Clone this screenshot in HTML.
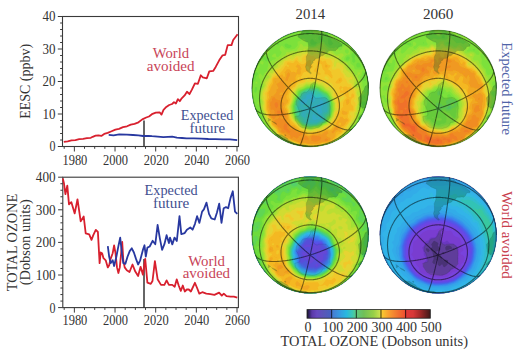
<!DOCTYPE html>
<html><head><meta charset="utf-8"><style>
html,body{margin:0;padding:0;background:#fff;overflow:hidden;}
svg{display:block;}
text{font-family:"Liberation Serif",serif;}
.tk{font-size:14px;fill:#333;}
.at{fill:#333;}
.an{font-size:15px;}
.gt{font-size:15px;fill:#333;}
</style></head><body>
<svg width="520" height="354" viewBox="0 0 520 354">
<rect x="62.5" y="16.5" width="176.0" height="130.0" fill="none" stroke="#3a3a3a" stroke-width="1.1"/>
<line x1="57.8" y1="146.50" x2="62.5" y2="146.50" stroke="#3a3a3a" stroke-width="1"/>
<line x1="60.1" y1="140.00" x2="62.5" y2="140.00" stroke="#3a3a3a" stroke-width="1"/>
<line x1="60.1" y1="133.50" x2="62.5" y2="133.50" stroke="#3a3a3a" stroke-width="1"/>
<line x1="60.1" y1="127.00" x2="62.5" y2="127.00" stroke="#3a3a3a" stroke-width="1"/>
<line x1="60.1" y1="120.50" x2="62.5" y2="120.50" stroke="#3a3a3a" stroke-width="1"/>
<line x1="57.8" y1="114.00" x2="62.5" y2="114.00" stroke="#3a3a3a" stroke-width="1"/>
<line x1="60.1" y1="107.50" x2="62.5" y2="107.50" stroke="#3a3a3a" stroke-width="1"/>
<line x1="60.1" y1="101.00" x2="62.5" y2="101.00" stroke="#3a3a3a" stroke-width="1"/>
<line x1="60.1" y1="94.50" x2="62.5" y2="94.50" stroke="#3a3a3a" stroke-width="1"/>
<line x1="60.1" y1="88.00" x2="62.5" y2="88.00" stroke="#3a3a3a" stroke-width="1"/>
<line x1="57.8" y1="81.50" x2="62.5" y2="81.50" stroke="#3a3a3a" stroke-width="1"/>
<line x1="60.1" y1="75.00" x2="62.5" y2="75.00" stroke="#3a3a3a" stroke-width="1"/>
<line x1="60.1" y1="68.50" x2="62.5" y2="68.50" stroke="#3a3a3a" stroke-width="1"/>
<line x1="60.1" y1="62.00" x2="62.5" y2="62.00" stroke="#3a3a3a" stroke-width="1"/>
<line x1="60.1" y1="55.50" x2="62.5" y2="55.50" stroke="#3a3a3a" stroke-width="1"/>
<line x1="57.8" y1="49.00" x2="62.5" y2="49.00" stroke="#3a3a3a" stroke-width="1"/>
<line x1="60.1" y1="42.50" x2="62.5" y2="42.50" stroke="#3a3a3a" stroke-width="1"/>
<line x1="60.1" y1="36.00" x2="62.5" y2="36.00" stroke="#3a3a3a" stroke-width="1"/>
<line x1="60.1" y1="29.50" x2="62.5" y2="29.50" stroke="#3a3a3a" stroke-width="1"/>
<line x1="60.1" y1="23.00" x2="62.5" y2="23.00" stroke="#3a3a3a" stroke-width="1"/>
<line x1="57.8" y1="16.50" x2="62.5" y2="16.50" stroke="#3a3a3a" stroke-width="1"/>
<line x1="64.20" y1="146.5" x2="64.20" y2="148.8" stroke="#3a3a3a" stroke-width="1"/>
<line x1="74.37" y1="146.5" x2="74.37" y2="151.5" stroke="#3a3a3a" stroke-width="1"/>
<line x1="84.53" y1="146.5" x2="84.53" y2="148.8" stroke="#3a3a3a" stroke-width="1"/>
<line x1="94.69" y1="146.5" x2="94.69" y2="148.8" stroke="#3a3a3a" stroke-width="1"/>
<line x1="104.86" y1="146.5" x2="104.86" y2="148.8" stroke="#3a3a3a" stroke-width="1"/>
<line x1="115.03" y1="146.5" x2="115.03" y2="151.5" stroke="#3a3a3a" stroke-width="1"/>
<line x1="125.19" y1="146.5" x2="125.19" y2="148.8" stroke="#3a3a3a" stroke-width="1"/>
<line x1="135.36" y1="146.5" x2="135.36" y2="148.8" stroke="#3a3a3a" stroke-width="1"/>
<line x1="145.52" y1="146.5" x2="145.52" y2="148.8" stroke="#3a3a3a" stroke-width="1"/>
<line x1="155.69" y1="146.5" x2="155.69" y2="151.5" stroke="#3a3a3a" stroke-width="1"/>
<line x1="165.85" y1="146.5" x2="165.85" y2="148.8" stroke="#3a3a3a" stroke-width="1"/>
<line x1="176.01" y1="146.5" x2="176.01" y2="148.8" stroke="#3a3a3a" stroke-width="1"/>
<line x1="186.18" y1="146.5" x2="186.18" y2="148.8" stroke="#3a3a3a" stroke-width="1"/>
<line x1="196.34" y1="146.5" x2="196.34" y2="151.5" stroke="#3a3a3a" stroke-width="1"/>
<line x1="206.51" y1="146.5" x2="206.51" y2="148.8" stroke="#3a3a3a" stroke-width="1"/>
<line x1="216.68" y1="146.5" x2="216.68" y2="148.8" stroke="#3a3a3a" stroke-width="1"/>
<line x1="226.84" y1="146.5" x2="226.84" y2="148.8" stroke="#3a3a3a" stroke-width="1"/>
<line x1="237.00" y1="146.5" x2="237.00" y2="151.5" stroke="#3a3a3a" stroke-width="1"/>
<text x="55.6" y="151.4" text-anchor="end" class="tk" textLength="6.0" lengthAdjust="spacingAndGlyphs">0</text>
<text x="55.6" y="118.9" text-anchor="end" class="tk" textLength="13.0" lengthAdjust="spacingAndGlyphs">10</text>
<text x="55.6" y="86.4" text-anchor="end" class="tk" textLength="13.0" lengthAdjust="spacingAndGlyphs">20</text>
<text x="55.6" y="53.9" text-anchor="end" class="tk" textLength="13.0" lengthAdjust="spacingAndGlyphs">30</text>
<text x="55.6" y="21.4" text-anchor="end" class="tk" textLength="13.0" lengthAdjust="spacingAndGlyphs">40</text>
<text x="74.9" y="164.6" text-anchor="middle" class="tk" textLength="24.9" lengthAdjust="spacingAndGlyphs">1980</text>
<text x="115.5" y="164.6" text-anchor="middle" class="tk" textLength="24.9" lengthAdjust="spacingAndGlyphs">2000</text>
<text x="156.2" y="164.6" text-anchor="middle" class="tk" textLength="24.9" lengthAdjust="spacingAndGlyphs">2020</text>
<text x="196.8" y="164.6" text-anchor="middle" class="tk" textLength="24.9" lengthAdjust="spacingAndGlyphs">2040</text>
<text x="237.5" y="164.6" text-anchor="middle" class="tk" textLength="24.9" lengthAdjust="spacingAndGlyphs">2060</text>
<rect x="62.8" y="177.2" width="175.60000000000002" height="130.40000000000003" fill="none" stroke="#3a3a3a" stroke-width="1.1"/>
<line x1="58.1" y1="307.60" x2="62.8" y2="307.60" stroke="#3a3a3a" stroke-width="1"/>
<line x1="60.4" y1="301.08" x2="62.8" y2="301.08" stroke="#3a3a3a" stroke-width="1"/>
<line x1="60.4" y1="294.56" x2="62.8" y2="294.56" stroke="#3a3a3a" stroke-width="1"/>
<line x1="60.4" y1="288.04" x2="62.8" y2="288.04" stroke="#3a3a3a" stroke-width="1"/>
<line x1="60.4" y1="281.52" x2="62.8" y2="281.52" stroke="#3a3a3a" stroke-width="1"/>
<line x1="58.1" y1="275.00" x2="62.8" y2="275.00" stroke="#3a3a3a" stroke-width="1"/>
<line x1="60.4" y1="268.48" x2="62.8" y2="268.48" stroke="#3a3a3a" stroke-width="1"/>
<line x1="60.4" y1="261.96" x2="62.8" y2="261.96" stroke="#3a3a3a" stroke-width="1"/>
<line x1="60.4" y1="255.44" x2="62.8" y2="255.44" stroke="#3a3a3a" stroke-width="1"/>
<line x1="60.4" y1="248.92" x2="62.8" y2="248.92" stroke="#3a3a3a" stroke-width="1"/>
<line x1="58.1" y1="242.40" x2="62.8" y2="242.40" stroke="#3a3a3a" stroke-width="1"/>
<line x1="60.4" y1="235.88" x2="62.8" y2="235.88" stroke="#3a3a3a" stroke-width="1"/>
<line x1="60.4" y1="229.36" x2="62.8" y2="229.36" stroke="#3a3a3a" stroke-width="1"/>
<line x1="60.4" y1="222.84" x2="62.8" y2="222.84" stroke="#3a3a3a" stroke-width="1"/>
<line x1="60.4" y1="216.32" x2="62.8" y2="216.32" stroke="#3a3a3a" stroke-width="1"/>
<line x1="58.1" y1="209.80" x2="62.8" y2="209.80" stroke="#3a3a3a" stroke-width="1"/>
<line x1="60.4" y1="203.28" x2="62.8" y2="203.28" stroke="#3a3a3a" stroke-width="1"/>
<line x1="60.4" y1="196.76" x2="62.8" y2="196.76" stroke="#3a3a3a" stroke-width="1"/>
<line x1="60.4" y1="190.24" x2="62.8" y2="190.24" stroke="#3a3a3a" stroke-width="1"/>
<line x1="60.4" y1="183.72" x2="62.8" y2="183.72" stroke="#3a3a3a" stroke-width="1"/>
<line x1="58.1" y1="177.20" x2="62.8" y2="177.20" stroke="#3a3a3a" stroke-width="1"/>
<line x1="64.20" y1="307.6" x2="64.20" y2="309.9" stroke="#3a3a3a" stroke-width="1"/>
<line x1="74.37" y1="307.6" x2="74.37" y2="312.6" stroke="#3a3a3a" stroke-width="1"/>
<line x1="84.53" y1="307.6" x2="84.53" y2="309.9" stroke="#3a3a3a" stroke-width="1"/>
<line x1="94.69" y1="307.6" x2="94.69" y2="309.9" stroke="#3a3a3a" stroke-width="1"/>
<line x1="104.86" y1="307.6" x2="104.86" y2="309.9" stroke="#3a3a3a" stroke-width="1"/>
<line x1="115.03" y1="307.6" x2="115.03" y2="312.6" stroke="#3a3a3a" stroke-width="1"/>
<line x1="125.19" y1="307.6" x2="125.19" y2="309.9" stroke="#3a3a3a" stroke-width="1"/>
<line x1="135.36" y1="307.6" x2="135.36" y2="309.9" stroke="#3a3a3a" stroke-width="1"/>
<line x1="145.52" y1="307.6" x2="145.52" y2="309.9" stroke="#3a3a3a" stroke-width="1"/>
<line x1="155.69" y1="307.6" x2="155.69" y2="312.6" stroke="#3a3a3a" stroke-width="1"/>
<line x1="165.85" y1="307.6" x2="165.85" y2="309.9" stroke="#3a3a3a" stroke-width="1"/>
<line x1="176.01" y1="307.6" x2="176.01" y2="309.9" stroke="#3a3a3a" stroke-width="1"/>
<line x1="186.18" y1="307.6" x2="186.18" y2="309.9" stroke="#3a3a3a" stroke-width="1"/>
<line x1="196.34" y1="307.6" x2="196.34" y2="312.6" stroke="#3a3a3a" stroke-width="1"/>
<line x1="206.51" y1="307.6" x2="206.51" y2="309.9" stroke="#3a3a3a" stroke-width="1"/>
<line x1="216.68" y1="307.6" x2="216.68" y2="309.9" stroke="#3a3a3a" stroke-width="1"/>
<line x1="226.84" y1="307.6" x2="226.84" y2="309.9" stroke="#3a3a3a" stroke-width="1"/>
<line x1="237.00" y1="307.6" x2="237.00" y2="312.6" stroke="#3a3a3a" stroke-width="1"/>
<text x="55.6" y="312.5" text-anchor="end" class="tk" textLength="6.0" lengthAdjust="spacingAndGlyphs">0</text>
<text x="55.6" y="279.9" text-anchor="end" class="tk" textLength="19.8" lengthAdjust="spacingAndGlyphs">100</text>
<text x="55.6" y="247.3" text-anchor="end" class="tk" textLength="19.8" lengthAdjust="spacingAndGlyphs">200</text>
<text x="55.6" y="214.7" text-anchor="end" class="tk" textLength="19.8" lengthAdjust="spacingAndGlyphs">300</text>
<text x="55.6" y="182.1" text-anchor="end" class="tk" textLength="19.8" lengthAdjust="spacingAndGlyphs">400</text>
<text x="74.9" y="325.2" text-anchor="middle" class="tk" textLength="24.9" lengthAdjust="spacingAndGlyphs">1980</text>
<text x="115.5" y="325.2" text-anchor="middle" class="tk" textLength="24.9" lengthAdjust="spacingAndGlyphs">2000</text>
<text x="156.2" y="325.2" text-anchor="middle" class="tk" textLength="24.9" lengthAdjust="spacingAndGlyphs">2020</text>
<text x="196.8" y="325.2" text-anchor="middle" class="tk" textLength="24.9" lengthAdjust="spacingAndGlyphs">2040</text>
<text x="237.5" y="325.2" text-anchor="middle" class="tk" textLength="24.9" lengthAdjust="spacingAndGlyphs">2060</text>
<line x1="144" y1="120.5" x2="144" y2="147" stroke="#333" stroke-width="1.5"/>
<line x1="144" y1="259" x2="144" y2="308" stroke="#333" stroke-width="1.5"/>
<polyline points="63.8,141.9 67.7,141.3 71.5,140.4 75.4,140.2 79.2,139.2 83.1,138.8 86.9,138.1 90.8,137.8 92.7,136.8 95.6,135.6 98.5,135.4 101.3,135.9 104.2,133.9 107.7,132.9 111.0,131.5 115.4,129.6 119.0,128.8 123.0,127.1 127.0,126.3 130.8,124.6 134.5,123.8 138.5,122.3 142.3,119.4 146.2,117.5 149.0,116.5 151.9,114.2 155.8,112.7 159.6,112.3 161.5,114.6 163.5,109.8 166.3,106.9 169.2,105.0 172.1,104.0 174.0,102.1 175.9,103.5 177.9,99.2 179.8,101.2 181.7,98.3 184.6,95.4 187.0,91.7 189.5,94.2 191.9,89.7 194.9,83.3 197.9,83.8 200.8,75.3 202.8,77.3 206.8,78.3 209.3,71.4 213.2,70.9 215.7,66.9 219.2,60.3 222.6,55.3 225.2,54.8 227.7,45.1 231.5,45.1 233.2,40.0 235.5,37.0 237.6,34.3" fill="none" stroke="#d8202e" stroke-width="1.8" stroke-linejoin="round"/>
<polyline points="108.7,134.8 113.5,135.3 119.2,134.4 126.9,134.7 133.0,135.0 138.5,135.4 143.0,136.0 148.5,135.8 152.0,136.2 157.7,136.7 163.3,137.1 168.0,136.9 172.2,136.7 176.9,137.7 182.0,138.0 186.6,138.3 193.9,138.3 201.1,138.7 208.3,139.0 215.5,139.1 222.7,139.4 229.9,139.4 237.2,140.2" fill="none" stroke="#2838a0" stroke-width="1.8" stroke-linejoin="round"/>
<polyline points="62.8,178.4 64.0,183.5 65.4,194.2 67.3,185.7 69.0,204.4 71.3,202.1 74.7,213.4 77.5,199.3 80.7,221.4 83.7,216.5 85.7,233.3 89.2,234.3 91.5,239.8 93.4,234.9 95.8,229.9 97.9,232.0 99.6,263.1 100.7,252.5 102.1,253.2 103.5,258.2 105.7,260.3 107.8,267.4 109.2,265.3 110.6,258.9 112.7,253.2 114.1,245.5 115.5,253.2 117.0,267.4 118.4,273.0 119.8,267.4 122.2,242.0 123.3,260.3 124.7,267.4 126.8,270.2 129.5,272.0 132.5,264.5 135.3,271.6 138.1,276.0 140.6,266.8 142.9,274.7 145.2,258.9 147.4,282.6 150.8,283.8 152.5,281.0 154.9,261.2 157.6,279.2 161.0,284.9 164.4,284.9 166.6,280.4 168.9,284.9 172.3,284.9 174.7,286.8 176.7,279.4 178.7,285.5 180.8,290.9 182.8,285.5 184.8,291.5 186.8,289.5 188.8,289.5 190.9,291.5 194.9,282.8 196.9,287.5 199.3,293.6 202.3,292.2 206.3,293.6 210.4,294.2 214.4,294.9 219.1,292.6 221.8,295.6 223.8,293.6 226.5,296.2 230.6,296.6 233.9,296.6 237.3,297.6" fill="none" stroke="#d8202e" stroke-width="1.8" stroke-linejoin="round"/>
<polyline points="107.8,246.2 109.2,256.8 110.6,263.1 112.7,260.3 114.1,266.0 116.2,257.5 118.4,246.2 120.2,237.7 121.9,253.2 123.3,263.1 125.4,263.8 127.5,256.8 129.7,251.1 131.8,248.3 133.9,252.5 136.0,258.9 138.1,264.5 140.2,260.3 142.9,249.9 144.5,245.3 145.8,256.6 147.4,247.6 149.7,246.5 152.6,240.8 155.3,244.2 157.6,225.0 159.9,238.6 162.1,249.9 164.4,244.2 166.6,235.2 168.9,243.1 170.0,237.6 172.3,244.4 174.5,237.6 176.8,241.0 179.5,216.2 181.3,234.2 184.7,233.1 186.9,229.7 190.3,227.5 192.6,229.7 194.9,224.1 197.1,216.2 199.4,222.9 202.1,211.6 203.9,209.4 206.5,202.6 209.0,213.9 211.3,218.4 214.7,219.5 216.9,212.8 219.2,203.7 221.5,222.9 223.7,208.2 226.0,207.1 228.2,208.2 230.5,198.1 232.8,191.3 235.0,211.6 237.3,213.9" fill="none" stroke="#2838a0" stroke-width="1.8" stroke-linejoin="round"/>
<text transform="translate(29.8,81.35) rotate(-90)" text-anchor="middle" font-size="14" fill="#333" textLength="74.9" lengthAdjust="spacingAndGlyphs">EESC (ppbv)</text>
<text transform="translate(17.4,242.5) rotate(-90)" text-anchor="middle" font-size="14.35" fill="#333" textLength="97.3" lengthAdjust="spacingAndGlyphs">TOTAL OZONE</text>
<text transform="translate(29.6,242.3) rotate(-90)" text-anchor="middle" font-size="14.4" fill="#333" textLength="86" lengthAdjust="spacingAndGlyphs">(Dobson units)</text>
<text x="170.95" y="58.2" text-anchor="middle" font-size="14.6" fill="#c84458" textLength="36.3" lengthAdjust="spacingAndGlyphs">World</text>
<text x="170.6" y="70.7" text-anchor="middle" font-size="14.6" fill="#c84458" textLength="47.8" lengthAdjust="spacingAndGlyphs">avoided</text>
<text x="207.05" y="119.8" text-anchor="middle" font-size="14" fill="#3f4f90" textLength="52.5" lengthAdjust="spacingAndGlyphs">Expected</text>
<text x="207.35" y="132.6" text-anchor="middle" font-size="14.6" fill="#3f4f90" textLength="35.7" lengthAdjust="spacingAndGlyphs">future</text>
<text x="171.15" y="195" text-anchor="middle" font-size="14" fill="#3f4f90" textLength="53.1" lengthAdjust="spacingAndGlyphs">Expected</text>
<text x="171.1" y="208.1" text-anchor="middle" font-size="14.6" fill="#3f4f90" textLength="36.2" lengthAdjust="spacingAndGlyphs">future</text>
<text x="206.65" y="266.1" text-anchor="middle" font-size="14.6" fill="#c84458" textLength="36.7" lengthAdjust="spacingAndGlyphs">World</text>
<text x="206.35" y="278.4" text-anchor="middle" font-size="14.6" fill="#c84458" textLength="47.3" lengthAdjust="spacingAndGlyphs">avoided</text>
<text x="310.3" y="19" text-anchor="middle" font-size="15" fill="#333" textLength="29.4" lengthAdjust="spacingAndGlyphs">2014</text>
<text x="438.1" y="18.7" text-anchor="middle" font-size="15" fill="#333" textLength="30.4" lengthAdjust="spacingAndGlyphs">2060</text>
<text transform="translate(501.9,88.65) rotate(90)" text-anchor="middle" font-size="14.6" fill="#5064a8" textLength="92.7" lengthAdjust="spacingAndGlyphs">Expected future</text>
<text transform="translate(502.4,235) rotate(90)" text-anchor="middle" font-size="14.9" fill="#c8404e" textLength="87.6" lengthAdjust="spacingAndGlyphs">World avoided</text>
<defs>
<clipPath id="gc0"><circle cx="310.2" cy="88.5" r="58.5"/></clipPath>
<clipPath id="gc1"><circle cx="438.2" cy="88.5" r="58.5"/></clipPath>
<clipPath id="gc2"><circle cx="310.2" cy="235.0" r="58.5"/></clipPath>
<clipPath id="gc3"><circle cx="438.2" cy="235.0" r="58.5"/></clipPath>
<filter id="soft" x="-5%" y="-5%" width="110%" height="110%"><feGaussianBlur stdDeviation="0.4"/></filter>
</defs>
<g filter="url(#soft)">
<g clip-path="url(#gc0)">
<circle cx="310.2" cy="88.5" r="58.5" fill="#30bade"/>
<path d="M305.8,30.2 294.5,32.2 286.2,35.2 282.2,37.2 272.8,43.5 265.2,51.2 258.5,61.2 254.2,71.8 252.2,81.2 251.8,92.2 253.5,102.8 255.5,109.2 258.5,115.8 265.2,125.8 272.8,133.5 282.2,139.8 286.2,141.8 294.5,144.8 305.8,146.8 314.5,146.8 325.8,144.8 334.2,141.8 338.8,139.5 344.5,135.8 349.8,131.5 353.5,127.8 359.2,120.5 365.2,108.5 368.2,96.2 368.5,83.8 367.8,78.5 366.2,71.5 363.8,65.2 361.2,59.8 355.5,51.5 347.2,43.2 338.8,37.5 328.2,32.8 317.5,30.5ZM312.5,115.2 313.2,114.2 313.8,114.2 316.8,118.2 319.5,116.5 320.2,118.2 319.5,118.8 316.8,119.2 315.2,120.2 313.2,119.8 312.2,119.2ZM303.5,113.2 303.8,114.2 303.2,114.5 302.8,113.8ZM312.5,105.5 312.8,106.5 311.2,107.8 310.8,106.5 311.8,105.5ZM320.5,99.5 323.2,101.5 323.5,105.2 321.2,108.2 322.2,111.8 321.5,113.2 320.2,114.2 317.8,112.5 317.2,111.5 316.8,108.8 315.2,107.2 314.8,106.2 316.2,104.5 318.2,104.8 319.2,103.8 320.2,101.5 319.8,99.8ZM311.5,93.2 313.5,97.2 315.2,98.8 315.2,100.2 314.5,101.2 312.5,102.8 309.8,99.2 308.5,99.2 307.2,100.2 307.2,101.8 305.8,103.5 302.2,104.2 301.2,103.2 301.2,102.2 303.5,99.2 306.2,98.2 306.5,95.2Z" fill="#30beca" fill-rule="evenodd"/>
<path d="M313.8,108.8 313.2,108.8 311.8,110.2 311.8,110.8 312.5,111.2 313.8,110.8 314.5,110.2ZM302.8,106.2 304.8,107.2 307.8,107.2 308.8,106.5 309.2,105.5 308.5,104.8 306.8,105.2 304.5,104.8 302.8,105.5ZM305.8,30.2 294.5,32.2 286.2,35.2 282.2,37.2 272.8,43.5 265.2,51.2 258.5,61.2 254.2,71.8 252.2,81.2 251.8,92.2 253.5,102.8 255.5,109.2 258.5,115.8 265.2,125.8 272.8,133.5 282.2,139.8 286.2,141.8 294.5,144.8 305.8,146.8 314.5,146.8 325.8,144.8 334.2,141.8 338.8,139.5 344.5,135.8 349.8,131.5 353.5,127.8 359.2,120.5 365.2,108.5 368.2,96.2 368.5,83.8 367.8,78.5 366.2,71.5 363.8,65.2 361.2,59.8 355.5,51.5 347.2,43.2 338.8,37.5 328.2,32.8 317.5,30.5ZM310.2,91.5 312.5,92.2 313.5,93.2 314.5,96.2 315.5,96.8 317.5,97.2 319.8,96.5 322.2,98.2 325.2,99.2 326.2,100.5 326.2,102.2 327.2,103.8 326.8,111.2 325.8,112.2 324.2,112.2 323.2,113.2 322.2,115.8 322.8,117.2 322.8,119.2 316.8,122.5 310.8,122.5 308.8,121.5 308.5,118.8 310.2,116.2 307.5,113.2 306.8,113.2 306.2,114.2 306.5,117.2 305.8,117.8 304.8,117.8 302.2,116.2 301.2,114.8 301.2,113.5 302.8,111.2 302.5,109.5 300.2,108.5 299.5,107.5 300.5,105.8 299.8,102.2 302.5,98.2 303.5,95.8 305.2,94.2Z" fill="#33c3b5" fill-rule="evenodd"/>
<path d="M305.8,30.2 294.5,32.2 286.2,35.2 282.2,37.2 272.8,43.5 265.2,51.2 258.5,61.2 254.2,71.8 252.2,81.2 251.8,92.2 253.5,102.8 255.5,109.2 258.5,115.8 265.2,125.8 272.8,133.5 282.2,139.8 286.2,141.8 294.5,144.8 305.8,146.8 314.5,146.8 325.8,144.8 334.2,141.8 338.8,139.5 344.5,135.8 349.8,131.5 353.5,127.8 359.2,120.5 365.2,108.5 368.2,96.2 368.5,83.8 367.8,78.5 366.2,71.5 363.8,65.2 361.2,59.8 355.5,51.5 347.2,43.2 338.8,37.5 328.2,32.8 317.5,30.5ZM309.2,90.8 313.2,91.2 314.5,92.5 315.8,95.2 316.5,95.2 317.8,93.8 319.5,93.8 322.2,96.5 323.8,97.5 325.5,97.8 327.2,99.8 328.5,102.5 328.2,111.2 326.5,113.2 324.5,114.5 323.8,119.5 322.5,120.8 316.2,123.8 310.8,124.2 308.8,123.2 305.2,122.8 303.5,121.2 303.5,119.8 302.5,117.8 300.2,115.8 299.8,113.5 301.2,110.5 299.2,109.8 297.8,107.8 298.5,105.8 298.5,102.2 300.8,98.8 302.2,95.2 303.8,93.5Z" fill="#38c8a0" fill-rule="evenodd"/>
<path d="M305.8,30.2 294.5,32.2 286.2,35.2 282.2,37.2 272.8,43.5 265.2,51.2 258.5,61.2 254.2,71.8 252.2,81.2 251.8,92.2 253.5,102.8 255.5,109.2 258.5,115.8 265.2,125.8 272.8,133.5 282.2,139.8 286.2,141.8 294.5,144.8 305.8,146.8 314.5,146.8 325.8,144.8 334.2,141.8 338.8,139.5 344.5,135.8 349.8,131.5 353.5,127.8 359.2,120.5 365.2,108.5 368.2,96.2 368.5,83.8 367.8,78.5 366.2,71.5 363.8,65.2 361.2,59.8 355.5,51.5 347.2,43.2 338.8,37.5 328.2,32.8 317.5,30.5ZM308.5,90.2 312.2,90.2 315.5,90.8 319.8,92.5 327.2,98.5 329.2,102.2 328.8,111.5 328.2,113.2 325.8,115.2 324.8,119.5 322.8,121.5 316.2,124.5 310.2,124.8 308.8,124.2 304.5,123.5 302.2,121.8 298.5,116.2 298.8,111.8 296.8,108.8 297.2,102.5 300.5,97.5 301.8,94.2 303.8,92.5Z" fill="#43cd8b" fill-rule="evenodd"/>
<path d="M305.8,30.2 294.5,32.2 286.2,35.2 282.2,37.2 272.8,43.5 265.2,51.2 258.5,61.2 254.2,71.8 252.2,81.2 251.8,92.2 253.5,102.8 255.5,109.2 258.5,115.8 265.2,125.8 272.8,133.5 282.2,139.8 286.2,141.8 294.5,144.8 305.8,146.8 314.5,146.8 325.8,144.8 334.2,141.8 338.8,139.5 344.5,135.8 349.8,131.5 353.5,127.8 359.2,120.5 365.2,108.5 368.2,96.2 368.5,83.8 367.8,78.5 366.2,71.5 363.8,65.2 361.2,59.8 355.5,51.5 347.2,43.2 338.8,37.5 328.2,32.8 317.5,30.5ZM308.5,89.5 316.8,89.8 320.8,92.2 326.8,96.8 329.8,102.5 329.8,110.2 329.2,113.2 326.5,116.2 325.2,120.2 323.5,121.8 320.5,123.5 315.8,125.2 309.2,125.5 303.5,123.8 299.8,120.5 297.8,117.5 297.2,115.5 296.8,110.5 295.8,107.8 296.5,105.2 296.5,102.2 297.8,99.5 299.8,97.2 301.2,93.8 303.5,91.8Z" fill="#4cd078" fill-rule="evenodd"/>
<path d="M305.8,30.2 294.5,32.2 286.2,35.2 282.2,37.2 272.8,43.5 265.2,51.2 258.5,61.2 254.2,71.8 252.2,81.2 251.8,92.2 253.5,102.8 255.5,109.2 258.5,115.8 265.2,125.8 272.8,133.5 282.2,139.8 286.2,141.8 294.5,144.8 305.8,146.8 314.5,146.8 325.8,144.8 334.2,141.8 338.8,139.5 344.5,135.8 349.8,131.5 353.5,127.8 359.2,120.5 365.2,108.5 368.2,96.2 368.5,83.8 367.8,78.5 366.2,71.5 363.8,65.2 361.2,59.8 355.5,51.5 347.2,43.2 338.8,37.5 328.2,32.8 317.5,30.5ZM308.8,88.8 316.5,88.8 318.2,89.5 319.5,90.8 325.2,94.2 327.2,96.2 330.2,101.5 330.5,109.8 329.5,114.5 327.2,116.5 325.8,120.2 323.8,122.2 319.5,124.5 316.5,125.5 309.5,126.2 302.8,124.2 299.8,121.5 297.2,117.8 295.8,113.8 295.8,109.8 295.2,108.2 295.2,106.2 295.8,104.8 295.8,102.2 297.2,99.2 299.2,96.8 300.2,94.2 301.5,92.5 303.8,90.8Z" fill="#54d068" fill-rule="evenodd"/>
<path d="M305.8,30.2 294.5,32.2 286.2,35.2 282.2,37.2 272.8,43.5 265.2,51.2 258.5,61.2 254.2,71.8 252.2,81.2 251.8,92.2 253.5,102.8 255.5,109.2 258.5,115.8 265.2,125.8 272.8,133.5 282.2,139.8 286.2,141.8 294.5,144.8 305.8,146.8 314.5,146.8 325.8,144.8 334.2,141.8 338.8,139.5 344.5,135.8 349.8,131.5 353.5,127.8 359.2,120.5 365.2,108.5 368.2,96.2 368.5,83.8 367.8,78.5 366.2,71.5 363.8,65.2 361.2,59.8 355.5,51.5 347.2,43.2 338.8,37.5 328.2,32.8 317.5,30.5ZM316.8,88.2 318.5,88.8 320.2,90.5 321.8,91.2 323.8,92.8 326.2,93.8 328.8,97.5 330.8,102.2 330.5,113.2 329.8,115.2 327.5,117.2 325.8,121.2 324.2,122.5 317.2,125.8 314.8,125.8 310.2,126.8 302.8,124.8 299.5,121.8 296.5,117.8 294.8,112.8 295.2,110.5 294.5,108.2 294.5,106.2 295.2,104.5 295.2,102.8 296.8,98.5 298.5,96.5 299.8,93.2 301.2,91.8 307.5,88.5Z" fill="#60d652" fill-rule="evenodd"/>
<path d="M305.8,30.2 294.5,32.2 286.2,35.2 282.2,37.2 272.8,43.5 265.2,51.2 258.5,61.2 254.2,71.8 252.2,81.2 251.8,92.2 253.5,102.8 255.5,109.2 258.5,115.8 265.2,125.8 272.8,133.5 282.2,139.8 286.2,141.8 294.5,144.8 305.8,146.8 314.5,146.8 325.8,144.8 334.2,141.8 338.8,139.5 344.5,135.8 349.8,131.5 353.5,127.8 359.2,120.5 365.2,108.5 368.2,96.2 368.5,83.8 367.8,78.5 366.2,71.5 363.8,65.2 361.2,59.8 355.5,51.5 347.2,43.2 338.8,37.5 328.2,32.8 317.5,30.5ZM313.5,86.8 318.8,88.2 320.8,90.2 327.2,93.8 329.2,96.8 331.2,101.5 331.5,111.2 330.5,115.2 327.8,117.8 327.5,119.5 326.5,121.2 324.5,122.8 317.8,126.2 313.2,126.5 311.5,127.2 308.5,127.2 302.5,125.2 299.5,122.5 295.8,117.8 294.2,112.8 293.8,105.8 295.5,99.8 297.5,96.8 299.2,92.5 300.2,91.5 306.5,88.2Z" fill="#6cdc3c" fill-rule="evenodd"/>
<path d="M305.8,30.2 302.8,30.5 303.5,30.8 302.8,32.2 301.5,31.8 301.2,30.8 295.2,32.2 294.5,33.8 292.8,33.8 291.5,33.2 282.2,37.2 272.8,43.5 265.2,51.2 258.5,61.2 254.2,71.8 252.8,77.5 254.5,76.8 253.8,75.5 253.8,73.5 255.2,72.2 256.8,72.2 257.8,73.2 257.8,74.2 255.8,77.2 255.8,79.2 253.8,81.5 252.8,83.5 252.8,84.8 251.8,85.5 251.8,90.2 252.5,90.8 251.8,92.2 253.5,102.8 255.5,109.2 259.2,116.8 260.5,115.8 261.8,116.2 262.2,116.8 261.8,120.2 263.8,124.2 267.8,128.8 272.8,133.5 282.8,140.2 286.2,141.8 294.5,144.8 305.8,146.8 314.5,146.8 319.8,146.2 328.2,144.2 338.8,139.5 347.2,133.8 351.5,129.8 352.5,127.8 355.5,125.5 358.8,120.8 359.2,117.5 362.2,115.2 366.2,105.2 364.2,105.5 363.2,107.8 362.8,105.8 361.8,105.2 361.8,102.8 362.5,101.8 363.8,101.2 367.2,101.5 368.5,93.2 368.5,83.8 367.8,78.8 366.8,79.2 365.2,81.2 363.8,80.8 362.8,79.5 362.8,78.8 364.5,77.2 367.2,76.2 366.5,73.8 365.8,74.2 364.5,76.5 363.8,76.5 363.2,75.5 363.2,73.5 364.2,72.5 365.8,72.5 366.2,71.5 364.5,66.8 363.5,65.8 363.5,64.5 361.2,59.8 355.5,51.5 353.8,49.8 352.8,49.8 352.2,49.2 352.2,47.8 346.2,42.5 343.8,44.2 342.2,44.5 341.5,43.5 342.5,42.8 344.5,42.8 344.8,42.5 344.5,41.2 338.8,37.5 328.2,32.8 327.5,32.8 327.8,35.2 326.8,35.5 324.8,33.2 324.5,31.8 314.5,30.2ZM364.8,96.2 365.2,97.2 364.5,97.8 363.8,96.8ZM255.8,86.8 257.2,87.8 257.2,89.5 256.2,92.2 255.2,92.8 254.2,91.8 254.2,90.8 254.8,89.5 254.8,87.8ZM313.8,85.8 319.5,87.8 323.8,91.2 326.2,92.2 327.8,93.8 329.8,96.8 331.5,100.8 332.2,103.8 332.2,110.5 330.5,116.2 328.5,118.2 327.8,120.2 326.2,122.2 322.5,124.5 318.2,126.5 313.5,126.8 309.5,127.8 302.2,125.5 295.5,118.2 293.5,112.8 293.2,105.8 295.5,98.2 297.5,95.2 298.5,91.8 299.5,90.8 307.2,87.2 310.8,86.8 312.8,85.8ZM357.2,62.8 358.8,62.8 360.2,63.8 360.8,66.2 359.8,67.2 357.5,67.5 356.5,66.5 356.2,64.5ZM349.2,56.8 349.8,57.8 349.5,58.8 348.2,60.2 346.8,60.5 345.8,59.5 346.2,57.8 347.5,56.5ZM261.8,58.2 263.2,56.5 265.2,56.2 269.2,58.5 269.5,59.8 268.5,60.8 266.2,61.5 264.5,59.8 262.5,59.5ZM354.5,52.5 356.2,53.5 356.2,54.8 354.5,57.8 355.5,61.2 354.5,62.5 353.5,62.8 352.2,61.5 352.5,58.8 351.5,56.5 351.5,54.5 352.8,52.8ZM338.8,45.5 340.2,46.2 339.8,48.2 338.5,47.5 338.2,46.5ZM284.5,44.5 285.8,43.5 286.8,43.5 288.8,44.8 290.5,44.8 291.5,45.8 291.5,46.5 290.2,47.8 288.2,48.2 285.8,47.2 284.8,46.2ZM277.5,42.8 278.5,42.8 279.2,43.5 279.2,44.5 278.5,45.2 277.5,45.2 276.8,44.5 276.8,43.5ZM281.2,40.8 281.5,40.5 281.8,40.8 281.5,41.2ZM311.8,38.8 312.5,38.8 314.2,41.2 316.8,42.2 316.8,42.8 315.5,44.2 314.2,44.8 311.5,44.8 310.2,43.2 310.5,40.2ZM328.5,36.8 330.5,38.8 331.5,41.2 333.2,43.2 332.8,44.2 330.8,45.5 329.2,45.2 328.2,43.5 328.2,37.2ZM318.5,36.8 319.5,35.8 321.2,36.2 322.5,37.8 322.5,39.2 320.5,40.2 319.2,40.2 318.2,38.5ZM305.8,32.2 306.5,31.5 309.2,31.8 310.5,33.5 309.8,34.2 307.8,34.2Z" fill="#7ce13b" fill-rule="evenodd"/>
<path d="M368.5,92.2 366.8,93.5 366.8,94.5 368.2,95.8ZM368.5,86.8 367.8,87.5 367.8,88.8 368.5,89.2ZM368.2,81.5 367.5,83.2 368.5,84.8ZM256.2,81.5 255.5,82.2 255.5,83.5 257.2,83.8 257.5,82.2ZM259.2,65.2 257.2,65.5 257.5,68.8 256.5,69.8 256.8,70.2 257.8,69.5 259.5,66.8ZM260.8,61.2 260.2,61.8 260.2,63.5 262.8,64.8 263.5,63.5 263.5,61.8 262.8,61.2ZM268.2,50.2 266.8,50.2 265.8,51.2 265.5,53.8 267.5,54.2 268.8,52.8 269.2,51.2ZM271.8,45.8 271.5,46.5 272.8,47.2 272.8,46.2ZM302.5,38.5 300.8,40.8 297.8,41.5 297.5,42.2 297.8,45.2 294.8,48.8 291.2,49.5 285.5,49.5 282.2,45.8 281.2,45.8 279.8,48.2 279.8,50.2 281.8,52.2 280.5,54.8 278.5,56.8 277.2,57.2 276.2,56.2 275.8,53.8 274.2,53.5 271.8,55.8 271.8,56.5 273.8,57.5 275.5,57.2 275.8,58.5 274.5,59.5 272.8,59.8 270.8,61.5 268.2,62.8 268.2,66.2 267.5,67.2 267.2,70.8 264.8,72.5 263.2,75.8 262.5,75.8 260.5,73.5 259.8,73.5 258.8,75.2 258.8,77.5 260.2,79.8 260.5,82.5 262.2,86.5 259.8,90.8 259.8,91.8 258.8,93.8 258.8,100.5 258.5,101.5 257.5,102.2 257.2,103.8 258.8,104.8 259.8,106.8 260.5,110.2 261.8,112.5 263.5,117.5 263.5,120.5 264.2,121.8 265.8,123.5 267.2,126.2 269.2,128.2 270.2,130.8 272.8,133.5 274.5,133.8 279.5,137.8 287.5,142.2 297.2,145.5 305.8,146.8 314.5,146.8 319.8,146.2 329.2,143.8 334.2,141.8 340.5,138.5 344.2,135.2 348.5,132.5 350.8,129.5 351.8,127.2 353.5,125.5 355.8,124.8 357.5,122.8 357.5,120.2 359.2,114.8 361.5,112.5 362.2,111.2 361.8,109.5 360.2,106.2 360.5,104.2 362.2,100.2 361.5,97.2 362.2,95.5 364.8,93.5 363.5,90.2 363.5,88.5 362.5,85.5 362.5,82.5 360.8,79.8 360.2,76.8 361.5,75.2 362.2,71.2 362.8,70.5 365.2,70.5 365.5,69.5 365.2,68.8 362.8,69.8 355.5,69.5 354.5,68.8 354.2,66.2 350.5,63.5 350.2,60.5 347.5,61.8 344.5,60.2 344.2,58.2 345.8,55.8 347.5,54.5 349.5,54.8 350.5,52.8 350.5,51.5 349.5,49.2 351.2,46.8 348.8,44.8 342.8,46.8 341.5,49.5 339.5,50.5 336.5,47.5 335.5,47.2 333.8,48.2 331.8,47.8 330.8,48.2 328.5,47.2 325.2,44.2 324.5,42.2 323.2,41.2 317.8,43.8 315.5,45.8 313.2,46.5 310.2,46.2 308.8,45.5 305.2,41.5 305.5,39.2 304.2,38.5ZM314.5,84.8 317.5,86.5 319.8,87.2 328.2,93.2 331.8,99.8 331.8,101.2 332.8,103.8 332.8,109.8 331.5,115.5 329.2,118.2 328.5,120.2 326.5,122.5 322.8,124.8 317.5,127.2 314.2,127.2 311.5,128.2 308.8,128.2 301.8,125.8 295.2,118.5 292.8,112.5 292.5,105.5 294.8,99.2 294.8,98.2 296.5,95.8 297.8,91.5 299.2,90.2 304.2,88.2 307.5,86.2 310.5,86.2 313.2,84.8ZM346.2,49.2 347.8,49.5 348.8,50.8 348.8,52.2 347.5,53.8 346.8,53.8 345.2,52.2 344.8,51.2 345.2,49.8ZM315.5,37.5 315.2,38.8 315.8,39.2 316.2,38.5ZM331.8,34.5 330.8,36.5 332.2,39.2 333.2,39.8 333.5,36.8 332.8,35.2ZM299.5,31.2 297.2,31.5 297.8,32.5 298.8,32.5ZM312.5,32.5 314.8,34.2 316.8,34.5 319.8,33.5 320.8,32.5 321.2,31.2 315.5,30.5 312.8,31.5Z" fill="#8fe338" fill-rule="evenodd"/>
<path d="M335.8,49.8 336.5,51.2 337.5,51.2 336.8,49.8ZM322.8,43.5 321.8,43.5 316.8,46.5 313.5,47.5 308.5,47.2 306.5,46.2 303.5,46.5 302.2,44.5 300.5,43.8 299.5,45.2 299.2,47.2 297.8,48.5 296.5,51.2 292.2,50.8 289.2,52.2 286.5,51.8 285.8,53.8 284.5,55.2 283.5,55.5 278.5,59.8 274.5,62.5 274.5,64.5 272.8,66.5 270.8,67.5 269.5,67.5 268.2,71.2 265.5,73.8 265.8,76.8 262.8,80.8 263.2,86.5 260.8,91.2 259.8,96.8 261.2,101.8 260.5,104.5 260.8,107.5 263.5,114.5 265.2,121.5 267.5,123.8 268.5,126.2 271.8,130.8 279.5,137.2 288.5,142.2 299.2,145.8 307.2,146.8 317.5,146.5 325.8,144.8 330.8,143.2 339.5,138.8 343.5,135.2 347.2,132.8 349.2,130.8 351.8,125.8 355.8,123.2 356.2,122.5 355.8,121.5 357.5,118.2 358.2,114.5 360.5,111.8 360.5,109.8 359.5,108.5 359.2,105.8 360.8,101.2 360.5,96.2 362.5,92.8 362.5,91.5 361.8,90.5 360.5,85.5 360.5,83.2 358.8,81.2 358.8,79.2 357.5,76.8 357.5,75.8 359.5,74.5 360.2,73.5 360.2,72.5 357.5,72.2 357.5,74.8 355.5,75.2 354.5,74.2 354.2,71.8 351.2,68.8 349.2,68.2 348.2,66.8 347.8,63.5 346.8,62.5 342.5,60.8 341.2,59.5 341.5,57.8 343.8,55.5 343.2,53.8 340.8,53.2 337.5,54.5 335.8,54.5 332.2,50.8 328.8,50.2 325.2,46.8ZM315.2,83.8 317.8,85.8 320.2,86.5 323.2,88.2 324.8,90.2 327.2,91.5 329.2,93.5 332.2,99.2 332.5,101.5 333.5,103.5 333.2,106.8 333.5,109.5 331.5,116.5 329.8,118.5 328.8,120.8 326.5,123.2 319.2,127.2 313.5,127.8 312.2,128.5 309.5,128.8 302.5,126.8 295.8,120.2 294.2,117.8 293.5,115.2 292.2,112.5 291.8,105.8 294.2,98.2 296.2,94.5 296.8,91.5 298.5,89.5 302.5,88.2 306.8,85.5 310.2,85.5 312.5,84.2Z" fill="#a4e034" fill-rule="evenodd"/>
<path d="M324.5,49.2 323.2,49.2 320.2,50.8 317.5,48.2 309.8,48.8 307.5,50.2 306.5,50.2 305.5,48.8 304.5,48.5 302.2,50.5 299.2,50.8 295.5,53.2 287.8,53.8 283.2,58.8 281.2,59.8 276.8,63.2 275.8,66.5 273.2,68.8 271.8,70.8 269.8,70.8 267.2,73.8 267.2,74.8 269.2,76.8 264.5,81.2 264.2,81.8 264.5,85.5 261.5,91.8 260.8,96.5 261.2,98.8 262.5,101.8 262.5,103.5 261.8,104.8 262.2,108.8 263.8,112.8 265.5,119.5 266.2,120.8 268.2,122.8 268.8,125.2 271.2,128.8 274.2,131.2 278.2,135.5 283.5,139.2 290.2,142.5 298.8,145.5 305.2,146.5 319.2,146.2 328.5,143.8 338.8,138.8 343.8,134.2 347.2,132.2 348.5,130.8 351.2,125.5 353.8,122.8 354.8,120.5 356.5,118.5 357.2,116.5 357.2,114.2 359.2,111.2 358.2,108.8 358.5,104.8 359.8,101.5 359.2,92.5 360.2,90.5 360.2,88.5 358.8,86.5 356.5,87.2 355.2,86.2 355.2,84.8 356.8,79.8 356.2,78.2 353.8,75.5 352.5,72.5 347.8,69.2 346.2,66.2 345.8,63.5 344.2,62.5 341.8,62.2 340.2,60.8 338.8,58.5 339.2,57.2 338.8,55.8 337.5,56.2 335.5,55.8 330.2,52.2 327.2,53.5 325.5,50.2ZM314.8,82.8 316.5,83.5 319.2,85.5 320.5,85.5 323.2,86.8 326.2,90.2 328.2,91.2 329.8,92.8 332.8,98.5 333.2,101.5 334.5,103.8 334.2,109.8 332.2,116.8 329.5,121.2 326.8,123.8 324.2,124.8 319.2,127.8 314.2,128.2 312.2,129.2 309.8,129.5 302.5,127.5 294.5,119.5 293.5,117.8 293.2,115.8 291.5,113.2 291.5,109.8 290.8,106.8 293.5,99.2 293.8,96.8 296.8,90.2 298.2,88.8 303.5,86.8 306.2,84.5 310.2,84.5Z" fill="#bade32" fill-rule="evenodd"/>
<path d="M323.8,50.8 322.8,50.8 321.2,52.2 319.2,52.8 314.5,50.5 310.5,50.5 306.5,52.2 303.5,51.8 300.8,52.2 297.5,53.5 293.8,56.2 292.5,56.2 289.8,54.8 288.5,55.2 287.5,56.2 286.8,58.5 283.5,59.8 280.8,62.5 279.2,63.2 278.2,64.2 277.8,66.8 274.2,69.5 273.5,71.8 272.2,73.2 269.8,73.2 270.8,76.2 270.5,77.5 265.5,82.8 265.8,85.5 262.5,91.5 262.2,98.5 263.5,101.8 263.5,104.2 262.8,105.8 263.2,109.5 264.5,112.2 265.8,117.2 268.5,121.5 270.8,127.2 272.2,128.8 273.5,129.5 275.5,131.5 276.2,132.8 278.2,134.8 283.8,138.8 288.8,141.5 299.8,145.5 304.8,146.2 310.8,146.2 311.2,146.5 317.8,146.2 323.5,144.5 326.5,144.2 332.5,141.8 338.8,138.2 342.2,134.8 348.2,130.2 349.8,127.2 350.8,124.2 355.5,118.2 356.2,116.5 355.8,113.8 357.2,111.5 356.8,108.8 357.8,104.2 358.8,101.8 358.2,96.2 357.2,94.5 356.8,92.8 358.5,88.8 355.5,88.2 354.2,86.5 353.8,85.2 354.2,84.5 353.8,82.8 354.5,80.8 354.2,78.5 351.8,74.2 346.5,70.2 344.5,66.5 344.2,64.2 341.2,63.2 336.2,58.2 334.8,57.8 332.5,56.2 328.5,56.8 326.2,56.5 325.2,55.5 324.8,51.8ZM315.8,82.2 318.5,84.2 321.5,84.5 323.8,86.2 326.2,88.8 328.8,90.2 330.2,91.5 331.5,93.8 331.8,95.8 333.5,98.2 333.8,101.2 335.2,103.5 334.8,104.8 335.2,109.5 334.2,111.5 333.2,116.2 329.8,121.8 327.2,124.5 323.8,125.8 321.8,127.5 319.5,128.5 314.2,128.8 311.2,130.2 309.8,130.2 301.8,127.8 293.8,119.8 290.5,113.2 290.2,105.8 292.2,100.8 293.2,94.8 296.2,89.8 298.2,87.8 302.5,86.2 306.2,83.5 310.2,83.5 313.8,82.2Z" fill="#d0dc30" fill-rule="evenodd"/>
<path d="M323.2,52.5 320.5,54.2 317.8,54.2 316.8,53.5 314.8,53.2 312.8,54.8 310.8,54.5 309.5,52.8 307.8,52.8 305.2,54.2 302.5,54.2 300.5,56.5 296.5,55.8 292.8,59.5 291.8,59.5 289.8,58.5 287.2,60.2 285.5,60.2 284.2,60.8 282.5,64.2 280.5,65.5 280.2,66.8 278.5,68.5 275.2,69.8 274.5,72.5 272.2,74.8 271.2,78.2 269.2,80.5 267.2,84.5 266.8,86.5 263.2,93.2 263.2,95.2 263.8,96.8 263.5,99.5 264.5,102.2 264.2,109.8 265.8,112.8 266.5,116.5 269.5,121.5 270.2,124.5 271.5,126.8 275.8,130.5 276.8,132.8 278.5,134.5 282.8,137.2 284.2,138.5 290.8,141.8 293.5,142.5 299.8,145.2 310.2,145.8 310.5,146.2 318.2,145.8 323.2,144.2 326.5,143.8 331.8,141.8 337.8,138.2 347.5,129.5 349.5,124.5 354.5,116.8 354.2,113.2 355.8,111.2 355.8,107.8 357.2,104.2 357.2,100.8 356.5,99.5 356.8,96.5 355.8,93.5 355.5,89.5 353.5,87.5 352.5,84.2 351.5,83.2 350.2,82.8 348.8,81.2 348.8,80.5 349.8,79.5 352.2,79.2 352.2,77.5 351.2,76.5 349.2,77.5 347.8,77.5 346.2,76.2 342.8,71.2 343.5,68.5 342.5,65.5 340.8,64.8 339.2,62.8 337.2,62.5 336.5,63.2 335.8,66.5 334.5,67.2 333.8,64.8 333.8,62.8 334.5,61.5 334.2,59.8 330.5,58.2 325.2,57.5 323.5,55.5ZM322.5,82.5 326.8,87.2 327.8,87.2 329.5,86.2 332.5,90.5 332.8,91.5 332.5,95.5 334.5,98.2 334.5,100.8 335.8,102.8 335.5,107.2 336.5,108.5 336.5,109.8 334.8,111.8 333.8,116.5 331.8,120.5 328.5,124.8 324.2,126.5 321.8,128.8 315.2,129.5 311.5,130.8 309.2,130.8 305.8,129.5 302.2,128.8 293.2,120.2 289.8,113.5 289.8,109.5 289.2,107.8 289.2,106.2 290.2,104.5 291.5,100.2 291.8,94.2 298.8,84.8 302.2,84.5 306.8,81.8 312.2,82.2 313.8,81.2 315.8,81.2 319.5,83.2Z" fill="#e5d430" fill-rule="evenodd"/>
<path d="M306.8,54.8 304.5,55.8 301.8,58.2 302.2,61.2 301.5,61.8 299.5,61.2 298.5,60.2 297.8,58.2 296.8,57.5 292.8,61.2 289.5,60.5 285.5,61.5 284.8,62.2 284.2,64.8 280.5,69.2 276.2,70.5 275.5,72.2 275.5,73.8 272.2,77.2 268.5,84.5 267.5,87.5 267.2,90.5 265.2,92.8 264.8,93.8 265.8,96.2 265.8,98.2 265.2,99.5 265.2,109.8 266.8,112.5 267.2,115.8 270.2,120.5 270.5,123.2 271.5,125.5 276.2,129.8 277.5,132.8 278.5,133.8 282.2,135.8 284.2,137.8 290.5,141.2 293.2,141.8 300.2,144.8 303.8,144.8 311.2,145.8 318.2,145.5 322.5,143.8 326.2,143.5 331.5,141.5 337.5,137.5 339.5,135.2 342.5,133.2 346.2,129.2 346.5,126.8 350.8,120.5 350.5,117.8 351.8,116.5 349.8,114.8 350.2,112.5 350.8,111.8 352.8,111.8 354.8,110.5 354.8,106.2 355.5,105.2 355.5,103.5 353.8,100.8 353.8,99.8 355.2,97.8 355.5,95.8 353.5,88.8 350.5,84.5 348.8,84.2 347.2,82.8 346.2,79.5 344.2,77.5 343.2,74.5 340.8,71.8 339.8,69.2 338.8,68.5 337.2,68.5 335.5,69.8 332.5,69.8 331.5,68.8 332.5,65.5 332.5,62.8 330.5,59.8 329.2,59.2 326.2,59.2 322.8,58.5 321.2,57.5 319.8,57.5 318.5,58.8 316.8,59.2 314.2,56.2 310.8,56.2 309.2,54.8ZM343.5,96.5 344.2,97.2 344.2,98.2 340.5,102.2 339.5,102.2 338.2,100.8 338.2,100.2 342.5,96.2ZM343.2,83.2 343.8,82.5 344.5,82.8 344.2,83.5ZM305.8,77.8 308.8,78.2 309.8,79.2 310.2,80.5 311.2,81.2 313.8,80.2 315.2,80.2 318.2,81.5 320.2,81.8 322.2,80.2 326.2,80.5 326.8,83.5 327.8,83.5 329.8,82.5 331.2,82.8 333.2,85.2 332.8,86.8 335.5,89.5 335.5,91.5 334.2,93.5 334.2,95.8 336.2,97.5 336.5,98.5 336.5,101.5 337.2,102.8 337.2,106.5 338.2,108.5 338.2,110.2 335.8,112.2 335.2,116.8 331.8,122.2 329.8,124.2 329.5,125.5 328.5,126.5 324.8,127.5 323.2,129.5 321.8,130.2 317.8,130.2 314.8,131.5 308.5,131.8 305.8,130.5 301.5,129.5 292.5,120.8 290.5,117.8 290.2,115.8 289.2,113.8 288.8,109.2 287.8,107.5 287.8,106.2 289.8,103.2 290.8,99.8 290.5,94.5 291.2,92.5 293.5,89.2 295.8,87.2 296.8,84.8 298.2,83.5 304.5,82.2 305.5,81.2 305.2,78.5ZM321.5,78.2 322.2,77.5 322.8,77.8 322.5,78.5ZM324.2,77.2 325.8,76.2 326.8,76.2 328.5,77.8 328.8,79.2 328.2,79.8 326.8,79.8 324.5,78.2Z" fill="#f1c82b" fill-rule="evenodd"/>
<path d="M341.5,77.8 340.2,77.5 338.5,78.5 335.5,82.2 335.5,82.8 336.5,83.5 339.5,83.5 340.8,82.5 342.5,80.5ZM317.8,61.2 316.8,62.8 317.2,64.8 316.8,66.2 313.5,71.2 316.8,72.2 317.5,72.8 317.2,74.5 317.8,74.8 320.5,74.5 320.5,73.5 319.8,72.8 317.8,72.2 317.5,67.8 319.8,63.8 320.8,63.5 321.5,64.2 322.8,69.2 324.8,71.2 324.5,74.2 327.8,74.5 331.8,78.5 332.5,77.8 332.5,75.8 331.2,73.5 331.5,72.2 329.5,70.2 328.2,69.5 328.2,68.8 330.2,66.8 330.5,65.8 330.2,65.2 327.8,64.5 326.2,62.8 326.2,61.5 325.2,60.5 322.5,61.8 320.8,60.2 319.5,60.2ZM288.5,62.2 287.2,62.8 286.8,64.2 287.2,64.8 288.2,64.8 289.2,66.2 288.5,66.8 287.5,66.8 286.5,65.5 285.2,66.2 283.2,69.8 278.5,74.8 272.8,77.8 272.2,79.2 271.8,82.2 268.8,86.8 268.5,90.5 266.8,93.2 267.2,98.5 266.2,100.5 266.2,109.5 267.8,112.5 267.8,115.8 271.2,120.8 271.5,123.8 272.2,125.2 276.5,129.2 277.8,132.2 279.5,133.8 282.8,135.5 285.2,137.8 291.2,140.8 298.2,143.2 300.8,144.5 306.2,144.5 308.8,145.2 317.5,145.2 322.2,143.5 326.8,142.8 331.2,141.2 334.8,138.5 338.2,134.5 340.8,133.5 342.2,132.2 342.8,130.8 342.8,128.5 347.5,123.8 349.5,120.8 349.5,119.8 347.8,117.2 347.8,115.5 348.8,113.2 349.2,110.8 349.8,110.2 352.8,110.5 353.5,109.8 353.2,106.2 351.2,104.2 350.8,102.5 351.2,99.2 352.2,97.8 353.8,97.2 354.2,95.2 352.8,93.5 352.2,93.5 351.5,94.2 351.2,96.8 350.5,97.5 348.5,96.5 348.8,93.2 348.2,91.8 348.2,90.2 348.8,89.5 351.8,90.2 351.2,87.8 350.2,87.2 347.8,87.5 346.5,86.5 344.2,86.5 342.5,87.2 340.8,85.8 339.5,87.2 339.2,88.5 340.2,90.2 339.8,93.2 340.8,93.5 341.8,92.8 343.2,92.8 346.8,97.2 346.8,97.8 344.2,100.5 342.8,103.5 343.2,106.8 341.2,108.8 339.8,112.2 337.8,113.8 337.5,118.2 333.8,121.8 333.5,124.8 331.8,127.8 330.2,129.2 325.5,128.8 322.5,131.2 319.2,130.8 317.5,131.5 316.2,132.8 312.5,132.5 310.8,133.5 308.8,133.8 303.8,130.8 299.8,129.8 298.5,127.8 291.8,121.8 289.8,118.5 289.2,115.2 288.2,112.8 288.2,110.5 286.5,107.5 286.5,105.8 288.8,103.2 289.8,99.8 288.5,96.5 288.5,95.2 290.5,90.2 292.8,87.5 294.8,86.5 296.2,83.8 297.8,81.8 300.5,81.5 303.2,80.5 302.8,78.8 300.2,77.5 302.2,75.2 302.8,73.2 303.8,72.2 306.5,71.8 307.8,72.5 308.5,71.8 308.8,70.2 306.2,68.8 305.8,68.2 306.2,66.8 306.8,66.2 308.2,66.2 309.5,68.5 310.8,68.5 312.8,67.2 312.8,66.2 310.8,63.5 310.8,60.2 310.5,59.8 308.5,60.2 304.8,63.5 303.5,64.2 301.8,64.2 299.5,63.2 296.5,60.2 295.5,60.5 293.2,63.2ZM342.5,87.5 343.2,88.2 343.2,90.2 342.2,90.8 340.8,89.8 340.8,89.2ZM300.2,77.8 298.2,79.5 297.5,79.2 297.5,77.8 298.2,77.2 299.2,77.2ZM304.5,58.8 304.5,59.5 305.2,59.8 305.2,59.2Z" fill="#f4b820" fill-rule="evenodd"/>
<path d="M342.2,110.8 341.8,113.2 342.5,114.2 343.8,114.8 346.2,114.8 347.5,113.2 347.2,111.8 345.2,111.5 343.2,110.5ZM348.5,99.2 347.2,99.5 345.8,100.8 346.5,104.8 347.8,104.8 349.2,102.8 349.5,100.2ZM340.2,79.8 339.5,79.8 338.8,81.2 340.2,80.8ZM325.5,64.8 325.2,66.5 325.8,67.2 326.8,67.2 327.5,66.5 327.2,65.5ZM273.8,78.5 273.2,79.5 273.5,80.8 273.2,83.5 271.2,86.5 270.2,89.8 268.5,92.5 269.2,97.5 267.2,101.2 267.2,108.8 268.8,112.2 268.5,113.8 268.8,116.2 271.8,119.8 272.5,124.2 276.8,128.2 277.8,129.8 278.2,131.5 279.8,133.2 283.5,134.8 285.8,137.5 295.2,141.8 298.2,142.5 300.8,143.8 304.8,143.5 311.8,144.8 312.2,144.5 318.5,144.5 322.2,142.8 326.2,142.5 329.8,141.2 334.5,137.2 335.2,136.2 335.5,133.2 336.8,131.5 339.2,131.2 339.8,132.2 341.2,131.5 340.5,129.5 341.2,126.5 343.8,125.5 345.5,123.5 345.8,122.2 347.5,121.2 348.2,120.2 346.8,118.5 345.8,118.5 344.8,119.2 343.8,118.8 342.2,116.8 340.5,116.8 339.8,117.5 339.2,119.5 337.2,121.5 335.8,124.8 331.5,129.8 329.8,130.5 326.2,129.8 321.5,132.5 318.8,132.2 316.8,133.8 313.5,133.5 309.2,135.5 307.8,135.2 302.8,131.5 300.5,131.2 298.2,130.2 294.2,125.5 291.8,125.2 290.2,123.5 289.8,120.5 288.5,117.8 288.5,115.5 287.2,111.5 284.8,107.2 285.5,104.8 287.5,102.8 288.2,100.5 286.5,98.8 286.2,95.8 287.2,94.2 288.2,90.5 290.8,86.8 291.2,82.2 292.2,81.5 294.2,83.2 294.8,83.2 295.8,81.8 295.2,77.8 296.8,74.2 299.8,74.5 300.5,73.8 300.8,72.8 300.5,70.8 301.5,68.5 299.5,65.2 297.5,64.2 295.8,66.8 298.2,68.2 296.8,70.2 296.8,72.2 296.2,72.8 293.8,71.8 291.5,72.2 289.5,69.5 287.8,69.2 286.8,69.5 286.2,70.8 284.5,72.2 285.2,73.5 285.2,76.2 284.2,77.2 283.5,76.8 282.5,74.8 281.2,74.8 277.8,77.8ZM339.5,122.2 340.2,122.2 341.2,123.2 341.2,124.8 340.5,125.5 339.5,125.5 338.2,124.5 338.2,123.5ZM286.2,83.8 286.5,83.5 286.8,83.8 286.5,84.2ZM278.5,77.8 279.2,77.5 279.5,78.2 278.8,78.5Z" fill="#f1a820" fill-rule="evenodd"/>
<path d="M338.2,127.5 337.2,126.8 335.2,127.2 334.5,127.8 334.2,129.5 331.8,131.8 331.8,132.8 333.2,133.2 335.5,130.2 337.8,129.5 338.5,128.8ZM276.2,81.2 275.5,81.5 275.5,82.5ZM276.8,83.8 276.5,84.5 277.8,86.2 278.5,88.5 277.5,89.2 276.5,89.2 276.5,92.2 273.8,95.5 271.2,96.2 270.8,97.8 268.5,101.5 268.8,104.2 268.5,106.5 270.5,112.8 269.8,114.5 269.8,116.2 272.8,119.8 273.5,121.5 273.5,123.5 276.5,126.2 278.2,128.5 279.5,131.5 281.5,133.2 283.8,133.8 286.5,136.8 288.5,137.5 290.2,138.8 300.5,142.8 303.5,142.8 305.2,142.2 306.2,143.2 308.8,143.8 312.2,143.8 312.5,143.5 317.8,143.8 322.8,141.8 325.8,141.8 329.8,140.2 330.8,138.5 329.5,137.5 328.2,137.5 326.2,135.8 326.2,135.2 328.2,133.2 327.8,131.5 325.8,131.2 321.8,134.5 318.8,134.2 316.8,135.2 312.8,134.8 309.5,136.5 308.5,136.5 304.5,134.5 302.2,132.2 296.8,130.8 294.2,127.8 291.8,127.5 290.2,126.2 289.2,123.8 286.8,121.2 287.5,118.8 287.5,115.5 284.5,111.2 282.8,106.8 284.5,103.2 282.8,102.5 281.8,100.8 282.2,99.2 283.8,97.2 283.8,94.8 285.2,93.2 285.2,91.8 284.2,90.5 284.2,89.5 286.2,87.8 286.2,86.8 283.8,84.5 283.8,81.8 281.8,80.5 281.2,80.5 279.2,82.5ZM282.2,92.2 283.2,93.2 283.2,94.2 280.5,95.5 279.5,94.5 279.5,93.5 280.8,92.2ZM288.8,72.5 288.2,72.5 286.8,74.2 286.8,76.2 285.2,79.5 285.8,80.8 287.2,80.8 287.8,80.2 288.5,77.5 289.8,75.5 289.8,73.8Z" fill="#f09920" fill-rule="evenodd"/>
<path d="M324.5,139.8 325.2,141.2 327.8,140.2 327.8,139.5 326.8,138.8 325.2,138.8ZM308.5,138.8 306.8,136.8 305.8,136.2 304.5,136.2 303.5,138.2 300.2,138.5 300.2,139.5 301.5,140.8 304.2,139.5 308.2,140.2ZM310.8,140.2 315.2,141.8 319.5,140.5 321.2,138.8 321.2,137.8 320.2,136.8 318.5,136.2 312.8,135.8 311.2,136.8 311.5,139.5ZM273.2,97.5 272.2,98.5 271.8,101.2 270.5,101.8 270.2,102.5 270.2,105.5 270.8,107.8 270.8,109.8 273.5,109.5 274.8,111.5 274.8,113.8 273.5,114.8 271.8,114.8 271.5,116.5 273.5,118.8 274.2,118.8 276.5,115.8 277.8,116.2 278.2,115.8 279.8,116.8 277.5,119.5 276.2,119.5 274.5,120.5 274.8,123.2 279.2,127.5 281.5,128.5 281.8,129.8 281.2,131.2 283.2,132.8 285.2,132.2 290.2,135.2 290.8,136.2 290.5,137.2 290.8,138.2 291.8,138.2 293.2,136.5 295.2,137.2 296.2,138.5 298.2,137.8 298.8,136.2 301.8,134.8 301.8,133.8 300.8,132.8 295.8,131.8 293.5,129.5 290.5,129.2 289.2,127.8 289.2,126.5 288.2,124.2 285.5,121.5 285.2,118.8 284.2,118.5 282.5,119.5 280.5,118.5 279.8,117.2 281.2,116.2 284.5,116.5 285.2,117.2 285.8,117.2 286.2,116.2 284.2,114.2 281.8,108.8 279.5,107.8 279.5,106.2 280.2,105.2 279.8,100.2 276.8,99.8 275.5,98.8 274.8,97.5Z" fill="#f08c20" fill-rule="evenodd"/>
<path d="M284.8,123.8 283.5,126.2 284.2,129.5 286.2,130.5 288.2,132.5 289.5,132.8 290.2,131.8 287.2,128.5 287.2,124.5 286.5,123.8ZM277.2,111.2 277.5,113.2 278.8,113.8 280.5,113.8 281.8,113.2 281.5,112.2 279.8,110.8 277.8,110.5ZM275.8,102.2 274.8,103.2 274.5,104.8 275.5,107.2 276.5,108.2 277.8,106.5 278.2,104.2 276.8,102.2Z" fill="#f07f25" fill-rule="evenodd"/>
<path d="M284.5,134.8 285.2,135.8 285.8,135.8 285.5,134.8ZM275.5,134.5 277.2,136.5 279.8,138.5 289.5,143.2 300.5,146.2 306.2,146.8 308.2,146.5 307.2,145.2 295.2,143.8 290.8,141.2 288.8,140.5 287.5,138.5 281.2,134.8ZM271.5,121.2 276.5,124.5 276.5,123.8 275.5,122.8 272.5,121.2ZM267.8,118.2 268.5,119.2 268.2,121.5 268.5,120.8 270.8,120.2 270.5,119.5ZM361.8,114.5 360.5,115.2 358.2,118.2 359.5,119.5 360.8,117.5ZM367.5,76.8 367.8,82.5 367.2,85.2 365.2,86.2 363.8,90.2 362.5,91.5 360.8,95.2 358.5,97.8 359.2,104.8 360.5,107.2 361.2,106.8 361.8,107.2 362.2,108.5 363.5,107.5 363.8,107.8 363.8,110.5 366.2,105.5 367.8,98.5 368.5,93.2 368.5,83.8ZM305.8,30.8 301.8,31.8 301.2,33.2 298.5,35.5 297.8,36.8 303.8,40.8 307.8,42.2 308.5,42.8 308.5,47.8 307.8,49.8 307.8,53.5 306.2,56.8 306.5,62.8 305.5,66.8 306.5,70.5 310.5,73.8 311.5,73.2 309.8,71.2 309.8,69.2 311.5,66.8 310.8,65.2 313.2,62.5 312.8,61.2 314.8,60.2 315.5,58.5 318.8,58.2 320.2,56.5 321.5,55.8 322.8,55.8 325.5,53.5 327.2,52.8 328.8,50.8 330.2,50.5 335.5,50.8 337.8,48.5 338.8,46.5 341.8,46.2 342.2,44.5 338.5,41.8 329.2,36.5 326.5,34.2 316.2,31.2Z" fill="#005030" fill-opacity="0.28" stroke="#202020" stroke-opacity="0.2" stroke-width="0.5" fill-rule="evenodd"/>
<path d="M315.2,82.2 314.2,82.2 310.8,84.5 310.2,87.8 308.5,90.5 306.8,92.2 304.2,92.2 301.5,93.8 301.2,95.8 297.5,98.5 296.2,101.2 296.2,104.8 297.5,106.2 299.8,112.8 299.8,115.2 298.8,115.8 294.8,116.5 295.2,120.2 298.5,125.2 299.8,126.5 302.5,127.8 308.8,128.8 313.5,128.8 318.8,127.2 321.5,125.2 322.5,122.5 325.2,122.2 328.2,120.2 330.2,117.2 329.8,114.8 330.2,106.8 328.8,100.5 326.5,98.2 324.8,97.5 315.8,98.2 312.2,94.8 311.8,92.5 312.8,88.2 312.5,85.5Z" fill="#404838" fill-opacity="0.15" stroke="#202020" stroke-opacity="0.2" stroke-width="0.5" fill-rule="evenodd"/>
<path d="M310.2,108.5 L310.3,108.1 L310.4,107.7 L310.5,107.2 L310.6,106.8 L310.7,106.4 L310.8,105.9 L310.8,105.5 L310.9,105.1 L311.0,104.6 L311.1,104.2 L311.2,103.8 L311.3,103.3 L311.4,102.9 L311.5,102.5 L311.6,102.0 L311.7,101.6 L311.8,101.1 L311.8,100.7 L311.9,100.3 L312.0,99.8 L312.1,99.4 L312.2,98.9 L312.3,98.5 L312.4,98.0 L312.5,97.6 L312.6,97.1 L312.7,96.7 L312.8,96.2 L312.8,95.8 L312.9,95.3 L313.0,94.9 L313.1,94.4 L313.2,94.0 L313.3,93.5 L313.4,93.1 L313.5,92.6 L313.5,92.2 L313.6,91.7 L313.7,91.3 L313.8,90.8 L313.9,90.4 L314.0,89.9 L314.1,89.5 L314.2,89.0 L314.2,88.6 L314.3,88.1 L314.4,87.7 L314.5,87.2 L314.6,86.8 L314.7,86.3 L314.8,85.9 L314.8,85.4 L314.9,85.0 L315.0,84.5 L315.1,84.1 L315.2,83.6 L315.3,83.2 L315.3,82.7 L315.4,82.3 L315.5,81.8 L315.6,81.4 L315.7,80.9 L315.8,80.5 L315.8,80.0 L315.9,79.6 L316.0,79.1 L316.1,78.7 L316.2,78.2 L316.2,77.8 L316.3,77.3 L316.4,76.9 L316.5,76.4 L316.5,76.0 L316.6,75.6 L316.7,75.1 L316.8,74.7 L316.8,74.2 L316.9,73.8 L317.0,73.4 L317.1,72.9 L317.1,72.5 L317.2,72.1 L317.3,71.6 L317.4,71.2 L317.4,70.8 L317.5,70.3 L317.6,69.9 L317.6,69.5 L317.7,69.1 L317.8,68.6 L317.9,68.2 L317.9,67.8 L318.0,67.4 L318.1,66.9 L318.1,66.5 L318.2,66.1 L318.3,65.7 L318.3,65.3 L318.4,64.9 L318.5,64.5 L318.5,64.0 L318.6,63.6 L318.7,63.2 L318.7,62.8 L318.8,62.4 L318.8,62.0 L318.9,61.6 L319.0,61.2 L319.0,60.8 L319.1,60.4 L319.1,60.0 L319.2,59.6 L319.3,59.2 L319.3,58.9 L319.4,58.5 L319.4,58.1 L319.5,57.7 L319.5,57.3 L319.6,56.9 L319.7,56.6 L319.7,56.2 L319.8,55.8 L319.8,55.4 L319.9,55.1 L319.9,54.7 L320.0,54.3 L320.0,54.0 L320.1,53.6 L320.1,53.3 L320.2,52.9 L320.2,52.6 L320.3,52.2 L320.3,51.9 L320.3,51.5 L320.4,51.2 L320.4,50.8 L320.5,50.5 L320.5,50.1 L320.6,49.8 L320.6,49.5 L320.6,49.1 L320.7,48.8 L320.7,48.5 L320.8,48.2 L320.8,47.8 L320.8,47.5 L320.9,47.2 L320.9,46.9 L321.0,46.6 L321.0,46.3 L321.0,46.0 L321.1,45.7 L321.1,45.4 L321.1,45.1 L321.2,44.8 L321.2,44.5 L321.2,44.2 L321.2,43.9 L321.3,43.6 L321.3,43.3 L321.3,43.1 L321.4,42.8 L321.4,42.5 L321.4,42.2 L321.4,42.0 L321.5,41.7 L321.5,41.4 L321.5,41.2 L321.5,40.9 L321.5,40.7 L321.6,40.4 L321.6,40.2 L321.6,39.9 L321.6,39.7 L321.6,39.5 L321.7,39.2 L321.7,39.0 L321.7,38.8 L321.7,38.5 L321.7,38.3 L321.7,38.1 L321.8,37.9 L321.8,37.7 L321.8,37.5 L321.8,37.3 L321.8,37.1 L321.8,36.9 L321.8,36.7 L321.8,36.5 L321.8,36.3 L321.8,36.1 L321.8,35.9 L321.8,35.7 L321.9,35.5 L321.9,35.4 L321.9,35.2 L321.9,35.0 L321.9,34.9 L321.9,34.7 L321.9,34.6 L321.9,34.4 L321.9,34.2 L321.9,34.1 L321.9,34.0 L321.9,33.8 L321.8,33.7 L321.8,33.5 L321.8,33.4 L321.8,33.3 L321.8,33.2 L321.8,33.0 L321.8,32.9 L321.8,32.8 L321.8,32.7 L321.8,32.6 L321.8,32.5 L321.8,32.4 L321.7,32.3 L321.7,32.2 L321.7,32.1 L321.7,32.0 L321.7,31.9 L321.7,31.9 L321.6,31.8 L321.6,31.7 L321.6,31.7 L321.6,31.6 L321.6,31.5 L321.5,31.5 L321.5,31.4 L321.5,31.4 L321.5,31.3 L321.5,31.3 L321.4,31.2 L321.4,31.2 L321.4,31.2 L321.4,31.1 L321.3,31.1 L321.3,31.1 L321.3,31.1 L321.2,31.1 L321.2,31.0 L321.2,31.0 M310.2,108.5 L310.6,108.4 L311.1,108.2 L311.5,108.1 L311.9,107.9 L312.4,107.8 L312.8,107.7 L313.3,107.5 L313.7,107.4 L314.1,107.2 L314.6,107.1 L315.0,106.9 L315.4,106.8 L315.9,106.6 L316.3,106.5 L316.7,106.3 L317.2,106.2 L317.6,106.0 L318.0,105.8 L318.5,105.7 L318.9,105.5 L319.3,105.4 L319.8,105.2 L320.2,105.0 L320.6,104.9 L321.0,104.7 L321.5,104.5 L321.9,104.4 L322.3,104.2 L322.8,104.0 L323.2,103.9 L323.6,103.7 L324.0,103.5 L324.5,103.4 L324.9,103.2 L325.3,103.0 L325.7,102.8 L326.1,102.7 L326.6,102.5 L327.0,102.3 L327.4,102.1 L327.8,101.9 L328.2,101.8 L328.6,101.6 L329.0,101.4 L329.4,101.2 L329.9,101.0 L330.3,100.8 L330.7,100.7 L331.1,100.5 L331.5,100.3 L331.9,100.1 L332.3,99.9 L332.7,99.7 L333.1,99.5 L333.5,99.3 L333.9,99.2 L334.3,99.0 L334.7,98.8 L335.1,98.6 L335.4,98.4 L335.8,98.2 L336.2,98.0 L336.6,97.8 L337.0,97.6 L337.4,97.4 L337.7,97.2 L338.1,97.0 L338.5,96.8 L338.9,96.6 L339.3,96.4 L339.6,96.2 L340.0,96.0 L340.4,95.8 L340.7,95.6 L341.1,95.4 L341.5,95.2 L341.8,95.0 L342.2,94.8 L342.5,94.6 L342.9,94.4 L343.2,94.2 L343.6,94.0 L343.9,93.8 L344.3,93.6 L344.6,93.4 L345.0,93.2 L345.3,93.0 L345.6,92.8 L346.0,92.5 L346.3,92.3 L346.6,92.1 L347.0,91.9 L347.3,91.7 L347.6,91.5 L347.9,91.3 L348.3,91.1 L348.6,90.9 L348.9,90.7 L349.2,90.5 L349.5,90.3 L349.8,90.1 L350.1,89.8 L350.4,89.6 L350.7,89.4 L351.0,89.2 L351.3,89.0 L351.6,88.8 L351.9,88.6 L352.2,88.4 L352.5,88.2 L352.7,88.0 L353.0,87.8 L353.3,87.5 L353.6,87.3 L353.8,87.1 L354.1,86.9 L354.4,86.7 L354.6,86.5 L354.9,86.3 L355.2,86.1 L355.4,85.9 L355.7,85.7 L355.9,85.5 L356.2,85.3 L356.4,85.0 L356.6,84.8 L356.9,84.6 L357.1,84.4 L357.3,84.2 L357.6,84.0 L357.8,83.8 L358.0,83.6 L358.2,83.4 L358.5,83.2 L358.7,83.0 L358.9,82.8 L359.1,82.6 L359.3,82.4 L359.5,82.2 L359.7,82.0 L359.9,81.8 L360.1,81.6 L360.3,81.4 L360.5,81.2 L360.6,81.0 L360.8,80.8 L361.0,80.6 L361.2,80.4 L361.3,80.2 L361.5,80.0 L361.7,79.8 L361.8,79.6 L362.0,79.4 L362.2,79.2 L362.3,79.0 L362.5,78.8 L362.6,78.6 L362.7,78.4 L362.9,78.2 L363.0,78.0 L363.1,77.8 L363.3,77.6 L363.4,77.4 L363.5,77.3 L363.6,77.1 L363.8,76.9 L363.9,76.7 L364.0,76.5 L364.1,76.3 L364.2,76.1 L364.3,75.9 L364.4,75.8 L364.5,75.6 L364.6,75.4 L364.6,75.2 L364.7,75.0 L364.8,74.9 L364.9,74.7 L365.0,74.5 L365.0,74.3 L365.1,74.1 L365.2,74.0 L365.2,73.8 L365.3,73.6 L365.3,73.5 L365.4,73.3 L365.4,73.1 L365.4,72.9 L365.5,72.8 L365.5,72.6 L365.6,72.4 L365.6,72.3 L365.6,72.1 L365.6,71.9 L365.6,71.8 L365.7,71.6 L365.7,71.5 L365.7,71.3 L365.7,71.1 L365.7,71.0 L365.7,70.8 L365.7,70.7 L365.7,70.5 L365.6,70.4 L365.6,70.2 L365.6,70.1 L365.6,69.9 L365.6,69.8 L365.5,69.6 L365.5,69.5 L365.4,69.3 L365.4,69.2 L365.4,69.0 L365.3,68.9 M310.2,108.5 L310.5,108.8 L310.9,109.1 L311.2,109.4 L311.6,109.6 L311.9,109.9 L312.3,110.2 L312.6,110.5 L313.0,110.8 L313.3,111.0 L313.6,111.3 L314.0,111.6 L314.3,111.9 L314.7,112.1 L315.0,112.4 L315.4,112.7 L315.7,112.9 L316.0,113.2 L316.4,113.5 L316.7,113.7 L317.1,114.0 L317.4,114.2 L317.8,114.5 L318.1,114.7 L318.4,115.0 L318.8,115.2 L319.1,115.5 L319.4,115.7 L319.8,116.0 L320.1,116.2 L320.5,116.5 L320.8,116.7 L321.1,117.0 L321.5,117.2 L321.8,117.4 L322.1,117.7 L322.5,117.9 L322.8,118.1 L323.1,118.4 L323.4,118.6 L323.8,118.8 L324.1,119.0 L324.4,119.3 L324.8,119.5 L325.1,119.7 L325.4,119.9 L325.7,120.1 L326.0,120.3 L326.4,120.5 L326.7,120.7 L327.0,121.0 L327.3,121.2 L327.6,121.4 L328.0,121.6 L328.3,121.8 L328.6,121.9 L328.9,122.1 L329.2,122.3 L329.5,122.5 L329.8,122.7 L330.1,122.9 L330.4,123.1 L330.7,123.3 L331.1,123.4 L331.4,123.6 L331.7,123.8 L332.0,124.0 L332.3,124.1 L332.6,124.3 L332.8,124.5 L333.1,124.6 L333.4,124.8 L333.7,124.9 L334.0,125.1 L334.3,125.2 L334.6,125.4 L334.9,125.6 L335.2,125.7 L335.4,125.8 L335.7,126.0 L336.0,126.1 L336.3,126.3 L336.6,126.4 L336.8,126.5 L337.1,126.7 L337.4,126.8 L337.7,126.9 L337.9,127.0 L338.2,127.2 L338.5,127.3 L338.7,127.4 L339.0,127.5 L339.2,127.6 L339.5,127.7 L339.7,127.8 L340.0,127.9 L340.3,128.0 L340.5,128.1 L340.8,128.2 L341.0,128.3 L341.2,128.4 L341.5,128.5 L341.7,128.6 L342.0,128.7 L342.2,128.8 L342.4,128.9 L342.7,128.9 L342.9,129.0 L343.1,129.1 L343.4,129.1 L343.6,129.2 L343.8,129.3 L344.0,129.3 L344.2,129.4 L344.5,129.5 L344.7,129.5 L344.9,129.6 L345.1,129.6 L345.3,129.7 L345.5,129.7 L345.7,129.7 L345.9,129.8 L346.1,129.8 L346.3,129.9 L346.5,129.9 L346.7,129.9 L346.9,129.9 L347.1,130.0 L347.3,130.0 L347.4,130.0 L347.6,130.0 L347.8,130.0 L348.0,130.0 L348.1,130.0 L348.3,130.1 L348.5,130.1 L348.7,130.1 L348.8,130.1 L349.0,130.1 L349.1,130.0 L349.3,130.0 L349.4,130.0 L349.6,130.0 L349.7,130.0 L349.9,130.0 L350.0,129.9 L350.2,129.9 L350.3,129.9 L350.5,129.9 L350.6,129.8 L350.7,129.8 L350.9,129.8 L351.0,129.7 L351.1,129.7 L351.2,129.6 L351.4,129.6 L351.5,129.5 L351.6,129.5 L351.7,129.4 L351.8,129.4 L351.9,129.3 L352.0,129.2 L352.1,129.2 L352.2,129.1 L352.3,129.0 L352.4,129.0 L352.5,128.9 L352.6,128.8 L352.7,128.7 L352.8,128.6 M310.2,108.5 L310.1,108.9 L310.0,109.4 L309.9,109.8 L309.8,110.2 L309.7,110.6 L309.6,111.0 L309.6,111.4 L309.5,111.9 L309.4,112.3 L309.3,112.7 L309.2,113.1 L309.1,113.5 L309.0,113.9 L308.9,114.3 L308.8,114.7 L308.7,115.1 L308.6,115.5 L308.6,115.9 L308.5,116.3 L308.4,116.7 L308.3,117.1 L308.2,117.5 L308.1,117.9 L308.0,118.3 L307.9,118.7 L307.8,119.0 L307.7,119.4 L307.6,119.8 L307.6,120.2 L307.5,120.6 L307.4,120.9 L307.3,121.3 L307.2,121.7 L307.1,122.0 L307.0,122.4 L306.9,122.8 L306.9,123.1 L306.8,123.5 L306.7,123.9 L306.6,124.2 L306.5,124.6 L306.4,124.9 L306.3,125.3 L306.2,125.6 L306.2,126.0 L306.1,126.3 L306.0,126.6 L305.9,127.0 L305.8,127.3 L305.7,127.6 L305.6,128.0 L305.6,128.3 L305.5,128.6 L305.4,128.9 L305.3,129.3 L305.2,129.6 L305.1,129.9 L305.1,130.2 L305.0,130.5 L304.9,130.8 L304.8,131.1 L304.7,131.4 L304.6,131.7 L304.6,132.0 L304.5,132.3 L304.4,132.6 L304.3,132.9 L304.2,133.2 L304.2,133.5 L304.1,133.8 L304.0,134.0 L303.9,134.3 L303.9,134.6 L303.8,134.8 L303.7,135.1 L303.6,135.4 L303.6,135.6 L303.5,135.9 L303.4,136.1 L303.3,136.4 L303.3,136.6 L303.2,136.9 L303.1,137.1 L303.0,137.4 L303.0,137.6 L302.9,137.8 L302.8,138.1 L302.8,138.3 L302.7,138.5 L302.6,138.7 L302.5,139.0 L302.5,139.2 L302.4,139.4 L302.3,139.6 L302.3,139.8 L302.2,140.0 L302.1,140.2 L302.1,140.4 L302.0,140.6 L301.9,140.8 L301.9,141.0 L301.8,141.2 L301.7,141.3 L301.7,141.5 L301.6,141.7 L301.6,141.9 L301.5,142.0 L301.4,142.2 L301.4,142.3 L301.3,142.5 L301.3,142.7 L301.2,142.8 L301.1,142.9 L301.1,143.1 L301.0,143.2 L301.0,143.4 L300.9,143.5 L300.9,143.6 L300.8,143.8 L300.7,143.9 L300.7,144.0 L300.6,144.1 L300.6,144.2 L300.5,144.3 L300.5,144.4 L300.4,144.5 L300.4,144.6 L300.3,144.7 L300.3,144.8 L300.2,144.9 L300.2,145.0 L300.1,145.1 L300.1,145.2 L300.1,145.2 L300.0,145.3 L300.0,145.4 L299.9,145.4 L299.9,145.5 L299.8,145.5 L299.8,145.6 L299.8,145.6 L299.7,145.7 L299.7,145.7 L299.6,145.8 L299.6,145.8 L299.6,145.8 L299.5,145.9 L299.5,145.9 L299.4,145.9 L299.4,145.9 L299.4,145.9 L299.3,146.0 L299.3,146.0 L299.3,146.0 L299.2,146.0 M310.2,108.5 L309.8,108.6 L309.3,108.8 L308.9,108.9 L308.5,109.0 L308.0,109.2 L307.6,109.3 L307.1,109.4 L306.7,109.6 L306.3,109.7 L305.8,109.8 L305.4,109.9 L305.0,110.1 L304.5,110.2 L304.1,110.3 L303.7,110.4 L303.2,110.5 L302.8,110.7 L302.4,110.8 L301.9,110.9 L301.5,111.0 L301.1,111.1 L300.6,111.2 L300.2,111.3 L299.8,111.4 L299.4,111.5 L298.9,111.6 L298.5,111.7 L298.1,111.8 L297.6,111.9 L297.2,112.0 L296.8,112.1 L296.4,112.2 L295.9,112.3 L295.5,112.4 L295.1,112.5 L294.7,112.6 L294.3,112.7 L293.8,112.8 L293.4,112.8 L293.0,112.9 L292.6,113.0 L292.2,113.1 L291.8,113.2 L291.4,113.2 L291.0,113.3 L290.5,113.4 L290.1,113.5 L289.7,113.5 L289.3,113.6 L288.9,113.7 L288.5,113.7 L288.1,113.8 L287.7,113.9 L287.3,113.9 L286.9,114.0 L286.5,114.0 L286.1,114.1 L285.7,114.1 L285.3,114.2 L285.0,114.3 L284.6,114.3 L284.2,114.4 L283.8,114.4 L283.4,114.4 L283.0,114.5 L282.7,114.5 L282.3,114.6 L281.9,114.6 L281.5,114.6 L281.1,114.7 L280.8,114.7 L280.4,114.7 L280.0,114.8 L279.7,114.8 L279.3,114.8 L278.9,114.9 L278.6,114.9 L278.2,114.9 L277.9,114.9 L277.5,114.9 L277.2,115.0 L276.8,115.0 L276.5,115.0 L276.1,115.0 L275.8,115.0 L275.4,115.0 L275.1,115.0 L274.8,115.0 L274.4,115.0 L274.1,115.0 L273.8,115.0 L273.4,115.0 L273.1,115.0 L272.8,115.0 L272.5,115.0 L272.1,115.0 L271.8,115.0 L271.5,115.0 L271.2,115.0 L270.9,115.0 L270.6,115.0 L270.3,114.9 L270.0,114.9 L269.7,114.9 L269.4,114.9 L269.1,114.9 L268.8,114.8 L268.5,114.8 L268.2,114.8 L267.9,114.7 L267.7,114.7 L267.4,114.7 L267.1,114.6 L266.8,114.6 L266.6,114.6 L266.3,114.5 L266.0,114.5 L265.8,114.4 L265.5,114.4 L265.2,114.4 L265.0,114.3 L264.7,114.3 L264.5,114.2 L264.2,114.2 L264.0,114.1 L263.8,114.0 L263.5,114.0 L263.3,113.9 L263.1,113.9 L262.8,113.8 L262.6,113.7 L262.4,113.7 L262.2,113.6 L261.9,113.5 L261.7,113.5 L261.5,113.4 L261.3,113.3 L261.1,113.3 L260.9,113.2 L260.7,113.1 L260.5,113.0 L260.3,112.9 L260.1,112.9 L259.9,112.8 L259.8,112.7 L259.6,112.6 L259.4,112.5 L259.2,112.4 L259.1,112.3 L258.9,112.2 L258.7,112.1 L258.6,112.0 L258.4,111.9 L258.2,111.9 L258.1,111.8 L257.9,111.6 L257.8,111.5 L257.7,111.4 L257.5,111.3 L257.4,111.2 L257.3,111.1 L257.1,111.0 L257.0,110.9 L256.9,110.8 L256.8,110.7 L256.6,110.6 L256.5,110.4 L256.4,110.3 L256.3,110.2 L256.2,110.1 L256.1,110.0 L256.0,109.8 L255.9,109.7 L255.8,109.6 L255.8,109.5 L255.7,109.3 L255.6,109.2 L255.5,109.1 L255.4,108.9 L255.4,108.8 L255.3,108.7 L255.2,108.5 L255.2,108.4 L255.1,108.2 M310.2,108.5 L309.9,108.2 L309.5,107.9 L309.2,107.6 L308.8,107.4 L308.5,107.1 L308.1,106.8 L307.8,106.5 L307.4,106.2 L307.1,105.9 L306.8,105.6 L306.4,105.3 L306.1,105.0 L305.7,104.7 L305.4,104.4 L305.0,104.1 L304.7,103.8 L304.4,103.5 L304.0,103.2 L303.7,102.9 L303.3,102.5 L303.0,102.2 L302.6,101.9 L302.3,101.6 L302.0,101.3 L301.6,101.0 L301.3,100.7 L301.0,100.4 L300.6,100.1 L300.3,99.7 L299.9,99.4 L299.6,99.1 L299.3,98.8 L298.9,98.5 L298.6,98.2 L298.3,97.8 L297.9,97.5 L297.6,97.2 L297.3,96.9 L297.0,96.6 L296.6,96.2 L296.3,95.9 L296.0,95.6 L295.6,95.3 L295.3,95.0 L295.0,94.6 L294.7,94.3 L294.4,94.0 L294.0,93.7 L293.7,93.3 L293.4,93.0 L293.1,92.7 L292.8,92.4 L292.4,92.0 L292.1,91.7 L291.8,91.4 L291.5,91.0 L291.2,90.7 L290.9,90.4 L290.6,90.1 L290.3,89.7 L290.0,89.4 L289.7,89.1 L289.3,88.8 L289.0,88.4 L288.7,88.1 L288.4,87.8 L288.1,87.5 L287.8,87.1 L287.6,86.8 L287.3,86.5 L287.0,86.1 L286.7,85.8 L286.4,85.5 L286.1,85.2 L285.8,84.8 L285.5,84.5 L285.2,84.2 L285.0,83.9 L284.7,83.5 L284.4,83.2 L284.1,82.9 L283.8,82.6 L283.6,82.2 L283.3,81.9 L283.0,81.6 L282.7,81.3 L282.5,80.9 L282.2,80.6 L281.9,80.3 L281.7,80.0 L281.4,79.7 L281.2,79.3 L280.9,79.0 L280.7,78.7 L280.4,78.4 L280.1,78.1 L279.9,77.8 L279.6,77.4 L279.4,77.1 L279.2,76.8 L278.9,76.5 L278.7,76.2 L278.4,75.9 L278.2,75.6 L278.0,75.3 L277.7,74.9 L277.5,74.6 L277.3,74.3 L277.0,74.0 L276.8,73.7 L276.6,73.4 L276.4,73.1 L276.2,72.8 L275.9,72.5 L275.7,72.2 L275.5,71.9 L275.3,71.6 L275.1,71.3 L274.9,71.0 L274.7,70.7 L274.5,70.4 L274.3,70.1 L274.1,69.8 L273.9,69.5 L273.7,69.2 L273.5,68.9 L273.3,68.7 L273.1,68.4 L273.0,68.1 L272.8,67.8 L272.6,67.5 L272.4,67.2 L272.3,67.0 L272.1,66.7 L271.9,66.4 L271.7,66.1 L271.6,65.9 L271.4,65.6 L271.3,65.3 L271.1,65.0 L271.0,64.8 L270.8,64.5 L270.7,64.2 L270.5,64.0 L270.4,63.7 L270.2,63.4 L270.1,63.2 L269.9,62.9 L269.8,62.7 L269.7,62.4 L269.5,62.2 L269.4,61.9 L269.3,61.7 L269.2,61.4 L269.0,61.2 L268.9,60.9 L268.8,60.7 L268.7,60.4 L268.6,60.2 L268.5,59.9 L268.4,59.7 L268.3,59.5 L268.2,59.2 L268.1,59.0 L268.0,58.8 L267.9,58.6 L267.8,58.3 L267.7,58.1 L267.6,57.9 L267.6,57.7 L267.5,57.4 L267.4,57.2 L267.3,57.0 L267.3,56.8 L267.2,56.6 L267.1,56.4 L267.1,56.2 L267.0,56.0 L267.0,55.8 L266.9,55.6 L266.9,55.4 L266.8,55.2 L266.8,55.0 L266.7,54.8 L266.7,54.6 L266.6,54.4 L266.6,54.2 L266.6,54.0 L266.5,53.9 L266.5,53.7 L266.5,53.5 L266.5,53.3 L266.4,53.1 L266.4,53.0 L266.4,52.8 L266.4,52.6 L266.4,52.5 L266.4,52.3 L266.4,52.2 L266.4,52.0 L266.4,51.8 L266.4,51.7 L266.4,51.5 L266.4,51.4 L266.4,51.2 L266.4,51.1 L266.5,51.0 L266.5,50.8 L266.5,50.7 L266.5,50.5 L266.6,50.4 L266.6,50.3 L266.6,50.2 L266.7,50.0 L266.7,49.9 L266.8,49.8 L266.8,49.7 L266.9,49.6 L266.9,49.4 L267.0,49.3 L267.0,49.2 L267.1,49.1 L267.1,49.0 L267.2,48.9 L267.3,48.8 L267.3,48.7 L267.4,48.6 L267.5,48.5 L267.6,48.4 M310.2,133.3 L309.9,133.3 L309.7,133.3 L309.4,133.3 L309.2,133.3 L308.9,133.3 L308.7,133.3 L308.4,133.3 L308.2,133.2 L307.9,133.2 L307.7,133.2 L307.4,133.2 L307.1,133.2 L306.9,133.1 L306.6,133.1 L306.4,133.1 L306.1,133.0 L305.9,133.0 L305.6,133.0 L305.4,132.9 L305.1,132.9 L304.9,132.9 L304.6,132.8 L304.4,132.8 L304.1,132.7 L303.9,132.7 L303.6,132.6 L303.4,132.6 L303.1,132.5 L302.9,132.4 L302.6,132.4 L302.4,132.3 L302.1,132.2 L301.9,132.2 L301.6,132.1 L301.4,132.0 L301.2,132.0 L300.9,131.9 L300.7,131.8 L300.4,131.7 L300.2,131.7 L300.0,131.6 L299.7,131.5 L299.5,131.4 L299.2,131.3 L299.0,131.2 L298.8,131.1 L298.5,131.0 L298.3,130.9 L298.1,130.8 L297.8,130.7 L297.6,130.6 L297.4,130.5 L297.1,130.4 L296.9,130.3 L296.7,130.2 L296.5,130.1 L296.2,130.0 L296.0,129.9 L295.8,129.8 L295.6,129.6 L295.4,129.5 L295.1,129.4 L294.9,129.3 L294.7,129.1 L294.5,129.0 L294.3,128.9 L294.1,128.7 L293.8,128.6 L293.6,128.5 L293.4,128.3 L293.2,128.2 L293.0,128.1 L292.8,127.9 L292.6,127.8 L292.4,127.6 L292.2,127.5 L292.0,127.3 L291.8,127.2 L291.6,127.0 L291.4,126.9 L291.2,126.7 L291.0,126.6 L290.8,126.4 L290.6,126.3 L290.4,126.1 L290.3,125.9 L290.1,125.8 L289.9,125.6 L289.7,125.4 L289.5,125.3 L289.3,125.1 L289.2,124.9 L289.0,124.7 L288.8,124.6 L288.6,124.4 L288.5,124.2 L288.3,124.0 L288.1,123.9 L288.0,123.7 L287.8,123.5 L287.6,123.3 L287.5,123.1 L287.3,122.9 L287.2,122.7 L287.0,122.6 L286.8,122.4 L286.7,122.2 L286.5,122.0 L286.4,121.8 L286.2,121.6 L286.1,121.4 L286.0,121.2 L285.8,121.0 L285.7,120.8 L285.5,120.6 L285.4,120.4 L285.3,120.2 L285.1,120.0 L285.0,119.8 L284.9,119.6 L284.7,119.4 L284.6,119.2 L284.5,118.9 L284.4,118.7 L284.3,118.5 L284.1,118.3 L284.0,118.1 L283.9,117.9 L283.8,117.7 L283.7,117.4 L283.6,117.2 L283.5,117.0 L283.4,116.8 L283.3,116.6 L283.2,116.3 L283.1,116.1 L283.0,115.9 L282.9,115.7 L282.8,115.5 L282.7,115.2 L282.6,115.0 L282.5,114.8 L282.5,114.5 L282.4,114.3 L282.3,114.1 L282.2,113.9 L282.2,113.6 L282.1,113.4 L282.0,113.2 L281.9,112.9 L281.9,112.7 L281.8,112.5 L281.8,112.2 L281.7,112.0 L281.6,111.8 L281.6,111.5 L281.5,111.3 L281.5,111.1 L281.4,110.8 L281.4,110.6 L281.4,110.4 L281.3,110.1 L281.3,109.9 L281.2,109.7 L281.2,109.4 L281.2,109.2 L281.1,108.9 L281.1,108.7 L281.1,108.5 L281.1,108.2 L281.0,108.0 L281.0,107.7 L281.0,107.5 L281.0,107.3 L281.0,107.0 L281.0,106.8 L281.0,106.5 L281.0,106.3 L281.0,106.1 L280.9,105.8 L281.0,105.6 L281.0,105.3 L281.0,105.1 L281.0,104.9 L281.0,104.6 L281.0,104.4 L281.0,104.1 L281.0,103.9 L281.0,103.7 L281.1,103.4 L281.1,103.2 L281.1,103.0 L281.1,102.7 L281.2,102.5 L281.2,102.2 L281.2,102.0 L281.3,101.8 L281.3,101.5 L281.4,101.3 L281.4,101.1 L281.4,100.8 L281.5,100.6 L281.5,100.3 L281.6,100.1 L281.6,99.9 L281.7,99.6 L281.8,99.4 L281.8,99.2 L281.9,98.9 L281.9,98.7 L282.0,98.5 L282.1,98.3 L282.2,98.0 L282.2,97.8 L282.3,97.6 L282.4,97.3 L282.5,97.1 L282.5,96.9 L282.6,96.7 L282.7,96.4 L282.8,96.2 L282.9,96.0 L283.0,95.8 L283.1,95.5 L283.2,95.3 L283.3,95.1 L283.4,94.9 L283.5,94.6 L283.6,94.4 L283.7,94.2 L283.8,94.0 L283.9,93.8 L284.0,93.6 L284.1,93.3 L284.3,93.1 L284.4,92.9 L284.5,92.7 L284.6,92.5 L284.7,92.3 L284.9,92.1 L285.0,91.9 L285.1,91.7 L285.3,91.5 L285.4,91.3 L285.5,91.1 L285.7,90.9 L285.8,90.7 L286.0,90.5 L286.1,90.3 L286.2,90.1 L286.4,89.9 L286.5,89.7 L286.7,89.5 L286.8,89.3 L287.0,89.1 L287.2,88.9 L287.3,88.7 L287.5,88.5 L287.6,88.3 L287.8,88.2 L288.0,88.0 L288.1,87.8 L288.3,87.6 L288.5,87.4 L288.6,87.3 L288.8,87.1 L289.0,86.9 L289.2,86.7 L289.3,86.6 L289.5,86.4 L289.7,86.2 L289.9,86.1 L290.1,85.9 L290.3,85.7 L290.4,85.6 L290.6,85.4 L290.8,85.2 L291.0,85.1 L291.2,84.9 L291.4,84.8 L291.6,84.6 L291.8,84.5 L292.0,84.3 L292.2,84.2 L292.4,84.0 L292.6,83.9 L292.8,83.7 L293.0,83.6 L293.2,83.5 L293.4,83.3 L293.6,83.2 L293.8,83.0 L294.1,82.9 L294.3,82.8 L294.5,82.6 L294.7,82.5 L294.9,82.4 L295.1,82.3 L295.4,82.1 L295.6,82.0 L295.8,81.9 L296.0,81.8 L296.2,81.7 L296.5,81.6 L296.7,81.4 L296.9,81.3 L297.1,81.2 L297.4,81.1 L297.6,81.0 L297.8,80.9 L298.1,80.8 L298.3,80.7 L298.5,80.6 L298.8,80.5 L299.0,80.4 L299.2,80.3 L299.5,80.3 L299.7,80.2 L300.0,80.1 L300.2,80.0 L300.4,79.9 L300.7,79.8 L300.9,79.8 L301.2,79.7 L301.4,79.6 L301.6,79.5 L301.9,79.5 L302.1,79.4 L302.4,79.3 L302.6,79.3 L302.9,79.2 L303.1,79.2 L303.4,79.1 L303.6,79.0 L303.9,79.0 L304.1,78.9 L304.4,78.9 L304.6,78.8 L304.9,78.8 L305.1,78.8 L305.4,78.7 L305.6,78.7 L305.9,78.6 L306.1,78.6 L306.4,78.6 L306.6,78.5 L306.9,78.5 L307.1,78.5 L307.4,78.5 L307.7,78.4 L307.9,78.4 L308.2,78.4 L308.4,78.4 L308.7,78.4 L308.9,78.4 L309.2,78.4 L309.4,78.4 L309.7,78.3 L309.9,78.3 L310.2,78.3 L310.5,78.3 L310.7,78.3 L311.0,78.4 L311.2,78.4 L311.5,78.4 L311.7,78.4 L312.0,78.4 L312.2,78.4 L312.5,78.4 L312.7,78.4 L313.0,78.5 L313.3,78.5 L313.5,78.5 L313.8,78.5 L314.0,78.6 L314.3,78.6 L314.5,78.6 L314.8,78.7 L315.0,78.7 L315.3,78.8 L315.5,78.8 L315.8,78.8 L316.0,78.9 L316.3,78.9 L316.5,79.0 L316.8,79.0 L317.0,79.1 L317.3,79.2 L317.5,79.2 L317.8,79.3 L318.0,79.3 L318.3,79.4 L318.5,79.5 L318.8,79.5 L319.0,79.6 L319.2,79.7 L319.5,79.8 L319.7,79.8 L320.0,79.9 L320.2,80.0 L320.4,80.1 L320.7,80.2 L320.9,80.3 L321.2,80.3 L321.4,80.4 L321.6,80.5 L321.9,80.6 L322.1,80.7 L322.3,80.8 L322.6,80.9 L322.8,81.0 L323.0,81.1 L323.3,81.2 L323.5,81.3 L323.7,81.4 L323.9,81.6 L324.2,81.7 L324.4,81.8 L324.6,81.9 L324.8,82.0 L325.0,82.1 L325.3,82.3 L325.5,82.4 L325.7,82.5 L325.9,82.6 L326.1,82.8 L326.3,82.9 L326.6,83.0 L326.8,83.2 L327.0,83.3 L327.2,83.5 L327.4,83.6 L327.6,83.7 L327.8,83.9 L328.0,84.0 L328.2,84.2 L328.4,84.3 L328.6,84.5 L328.8,84.6 L329.0,84.8 L329.2,84.9 L329.4,85.1 L329.6,85.2 L329.8,85.4 L330.0,85.6 L330.1,85.7 L330.3,85.9 L330.5,86.1 L330.7,86.2 L330.9,86.4 L331.1,86.6 L331.2,86.7 L331.4,86.9 L331.6,87.1 L331.8,87.3 L331.9,87.4 L332.1,87.6 L332.3,87.8 L332.4,88.0 L332.6,88.2 L332.8,88.3 L332.9,88.5 L333.1,88.7 L333.2,88.9 L333.4,89.1 L333.6,89.3 L333.7,89.5 L333.9,89.7 L334.0,89.9 L334.2,90.1 L334.3,90.3 L334.4,90.5 L334.6,90.7 L334.7,90.9 L334.9,91.1 L335.0,91.3 L335.1,91.5 L335.3,91.7 L335.4,91.9 L335.5,92.1 L335.7,92.3 L335.8,92.5 L335.9,92.7 L336.0,92.9 L336.1,93.1 L336.3,93.3 L336.4,93.6 L336.5,93.8 L336.6,94.0 L336.7,94.2 L336.8,94.4 L336.9,94.6 L337.0,94.9 L337.1,95.1 L337.2,95.3 L337.3,95.5 L337.4,95.8 L337.5,96.0 L337.6,96.2 L337.7,96.4 L337.8,96.7 L337.9,96.9 L337.9,97.1 L338.0,97.3 L338.1,97.6 L338.2,97.8 L338.2,98.0 L338.3,98.3 L338.4,98.5 L338.5,98.7 L338.5,98.9 L338.6,99.2 L338.6,99.4 L338.7,99.6 L338.8,99.9 L338.8,100.1 L338.9,100.3 L338.9,100.6 L339.0,100.8 L339.0,101.1 L339.0,101.3 L339.1,101.5 L339.1,101.8 L339.2,102.0 L339.2,102.2 L339.2,102.5 L339.3,102.7 L339.3,103.0 L339.3,103.2 L339.3,103.4 L339.4,103.7 L339.4,103.9 L339.4,104.1 L339.4,104.4 L339.4,104.6 L339.4,104.9 L339.4,105.1 L339.4,105.3 L339.4,105.6 L339.4,105.8 L339.4,106.1 L339.4,106.3 L339.4,106.5 L339.4,106.8 L339.4,107.0 L339.4,107.3 L339.4,107.5 L339.4,107.7 L339.4,108.0 L339.3,108.2 L339.3,108.5 L339.3,108.7 L339.3,108.9 L339.2,109.2 L339.2,109.4 L339.2,109.7 L339.1,109.9 L339.1,110.1 L339.0,110.4 L339.0,110.6 L339.0,110.8 L338.9,111.1 L338.9,111.3 L338.8,111.5 L338.8,111.8 L338.7,112.0 L338.6,112.2 L338.6,112.5 L338.5,112.7 L338.5,112.9 L338.4,113.2 L338.3,113.4 L338.2,113.6 L338.2,113.9 L338.1,114.1 L338.0,114.3 L337.9,114.5 L337.9,114.8 L337.8,115.0 L337.7,115.2 L337.6,115.5 L337.5,115.7 L337.4,115.9 L337.3,116.1 L337.2,116.3 L337.1,116.6 L337.0,116.8 L336.9,117.0 L336.8,117.2 L336.7,117.4 L336.6,117.7 L336.5,117.9 L336.4,118.1 L336.3,118.3 L336.1,118.5 L336.0,118.7 L335.9,118.9 L335.8,119.2 L335.7,119.4 L335.5,119.6 L335.4,119.8 L335.3,120.0 L335.1,120.2 L335.0,120.4 L334.9,120.6 L334.7,120.8 L334.6,121.0 L334.4,121.2 L334.3,121.4 L334.2,121.6 L334.0,121.8 L333.9,122.0 L333.7,122.2 L333.6,122.4 L333.4,122.6 L333.2,122.7 L333.1,122.9 L332.9,123.1 L332.8,123.3 L332.6,123.5 L332.4,123.7 L332.3,123.9 L332.1,124.0 L331.9,124.2 L331.8,124.4 L331.6,124.6 L331.4,124.7 L331.2,124.9 L331.1,125.1 L330.9,125.3 L330.7,125.4 L330.5,125.6 L330.3,125.8 L330.1,125.9 L330.0,126.1 L329.8,126.3 L329.6,126.4 L329.4,126.6 L329.2,126.7 L329.0,126.9 L328.8,127.0 L328.6,127.2 L328.4,127.3 L328.2,127.5 L328.0,127.6 L327.8,127.8 L327.6,127.9 L327.4,128.1 L327.2,128.2 L327.0,128.3 L326.8,128.5 L326.6,128.6 L326.3,128.7 L326.1,128.9 L325.9,129.0 L325.7,129.1 L325.5,129.3 L325.3,129.4 L325.0,129.5 L324.8,129.6 L324.6,129.8 L324.4,129.9 L324.2,130.0 L323.9,130.1 L323.7,130.2 L323.5,130.3 L323.3,130.4 L323.0,130.5 L322.8,130.6 L322.6,130.7 L322.3,130.8 L322.1,130.9 L321.9,131.0 L321.6,131.1 L321.4,131.2 L321.2,131.3 L320.9,131.4 L320.7,131.5 L320.4,131.6 L320.2,131.7 L320.0,131.7 L319.7,131.8 L319.5,131.9 L319.2,132.0 L319.0,132.0 L318.8,132.1 L318.5,132.2 L318.3,132.2 L318.0,132.3 L317.8,132.4 L317.5,132.4 L317.3,132.5 L317.0,132.6 L316.8,132.6 L316.5,132.7 L316.3,132.7 L316.0,132.8 L315.8,132.8 L315.5,132.9 L315.3,132.9 L315.0,132.9 L314.8,133.0 L314.5,133.0 L314.3,133.0 L314.0,133.1 L313.8,133.1 L313.5,133.1 L313.3,133.2 L313.0,133.2 L312.7,133.2 L312.5,133.2 L312.2,133.2 L312.0,133.3 L311.7,133.3 L311.5,133.3 L311.2,133.3 L311.0,133.3 L310.7,133.3 L310.5,133.3 L310.2,133.3 M310.2,146.1 L309.8,146.1 L309.3,146.1 L308.9,146.1 L308.4,146.1 L308.0,146.1 L307.5,146.0 L307.1,146.0 L306.7,146.0 L306.2,146.0 L305.8,145.9 L305.3,145.9 L304.9,145.9 L304.5,145.8 L304.0,145.8 L303.6,145.7 L303.1,145.6 L302.7,145.6 L302.3,145.5 L301.8,145.5 L301.4,145.4 L301.0,145.3 L300.5,145.2 L300.1,145.2 L299.7,145.1 L299.2,145.0 L298.8,144.9 L298.4,144.8 L297.9,144.7 L297.5,144.6 L297.1,144.5 L296.7,144.4 L296.2,144.3 L295.8,144.2 L295.4,144.0 L295.0,143.9 L294.5,143.8 L294.1,143.7 L293.7,143.5 L293.3,143.4 L292.9,143.2 L292.5,143.1 L292.0,142.9 L291.6,142.8 L291.2,142.6 L290.8,142.5 L290.4,142.3 L290.0,142.2 L289.6,142.0 L289.2,141.8 L288.8,141.7 L288.4,141.5 L288.0,141.3 L287.6,141.1 L287.2,140.9 L286.8,140.7 L286.4,140.5 L286.0,140.3 L285.6,140.1 L285.3,139.9 L284.9,139.7 L284.5,139.5 L284.1,139.3 L283.7,139.1 L283.4,138.9 L283.0,138.7 L282.6,138.4 L282.2,138.2 L281.9,138.0 L281.5,137.7 L281.1,137.5 L280.8,137.3 L280.4,137.0 L280.1,136.8 L279.7,136.5 L279.4,136.3 L279.0,136.0 L278.7,135.8 L278.3,135.5 L278.0,135.2 L277.6,135.0 L277.3,134.7 L277.0,134.4 L276.6,134.2 L276.3,133.9 L276.0,133.6 L275.6,133.3 L275.3,133.0 L275.0,132.7 L274.7,132.5 L274.4,132.2 L274.1,131.9 L273.8,131.6 L273.5,131.3 L273.1,131.0 L272.8,130.7 L272.6,130.4 L272.3,130.0 L272.0,129.7 L271.7,129.4 L271.4,129.1 L271.1,128.8 L270.8,128.5 L270.6,128.1 L270.3,127.8 L270.0,127.5 L269.7,127.2 L269.5,126.8 L269.2,126.5 L269.0,126.1 L268.7,125.8 L268.4,125.5 L268.2,125.1 L268.0,124.8 L267.7,124.4 L267.5,124.1 L267.2,123.7 L267.0,123.4 L266.8,123.0 L266.5,122.7 L266.3,122.3 L266.1,121.9 L265.9,121.6 L265.7,121.2 L265.5,120.9 L265.3,120.5 L265.1,120.1 L264.9,119.7 L264.7,119.4 L264.5,119.0 L264.3,118.6 L264.1,118.2 L263.9,117.9 L263.7,117.5 L263.6,117.1 L263.4,116.7 L263.2,116.3 L263.1,116.0 L262.9,115.6 L262.7,115.2 L262.6,114.8 L262.4,114.4 L262.3,114.0 L262.2,113.6 L262.0,113.2 L261.9,112.8 L261.8,112.4 L261.6,112.0 L261.5,111.6 L261.4,111.2 L261.3,110.8 L261.2,110.4 L261.0,110.0 L260.9,109.6 L260.8,109.2 L260.7,108.8 L260.6,108.4 L260.6,108.0 L260.5,107.6 L260.4,107.2 L260.3,106.8 L260.2,106.4 L260.2,106.0 L260.1,105.5 L260.0,105.1 L260.0,104.7 L259.9,104.3 L259.9,103.9 L259.8,103.5 L259.8,103.1 L259.7,102.7 L259.7,102.2 L259.7,101.8 L259.6,101.4 L259.6,101.0 L259.6,100.6 L259.6,100.2 L259.6,99.8 L259.5,99.3 L259.5,98.9 L259.5,98.5 L259.5,98.1 L259.5,97.7 L259.6,97.3 L259.6,96.8 L259.6,96.4 L259.6,96.0 L259.6,95.6 L259.7,95.2 L259.7,94.8 L259.7,94.4 L259.8,93.9 L259.8,93.5 L259.9,93.1 L259.9,92.7 L260.0,92.3 L260.0,91.9 L260.1,91.5 L260.2,91.1 L260.2,90.6 L260.3,90.2 L260.4,89.8 L260.5,89.4 L260.6,89.0 L260.6,88.6 L260.7,88.2 L260.8,87.8 L260.9,87.4 L261.0,87.0 L261.2,86.6 L261.3,86.2 L261.4,85.8 L261.5,85.4 L261.6,85.0 L261.8,84.6 L261.9,84.2 L262.0,83.8 L262.2,83.4 L262.3,83.0 L262.4,82.6 L262.6,82.2 L262.7,81.8 L262.9,81.4 L263.1,81.1 L263.2,80.7 L263.4,80.3 L263.6,79.9 L263.7,79.5 L263.9,79.1 L264.1,78.8 L264.3,78.4 L264.5,78.0 L264.7,77.6 L264.9,77.3 L265.1,76.9 L265.3,76.5 L265.5,76.2 L265.7,75.8 L265.9,75.4 L266.1,75.1 L266.3,74.7 L266.5,74.3 L266.8,74.0 L267.0,73.6 L267.2,73.3 L267.5,72.9 L267.7,72.6 L268.0,72.2 L268.2,71.9 L268.4,71.5 L268.7,71.2 L269.0,70.9 L269.2,70.5 L269.5,70.2 L269.7,69.9 L270.0,69.5 L270.3,69.2 L270.6,68.9 L270.8,68.5 L271.1,68.2 L271.4,67.9 L271.7,67.6 L272.0,67.3 L272.3,67.0 L272.6,66.6 L272.8,66.3 L273.1,66.0 L273.5,65.7 L273.8,65.4 L274.1,65.1 L274.4,64.8 L274.7,64.5 L275.0,64.3 L275.3,64.0 L275.6,63.7 L276.0,63.4 L276.3,63.1 L276.6,62.8 L277.0,62.6 L277.3,62.3 L277.6,62.0 L278.0,61.8 L278.3,61.5 L278.7,61.2 L279.0,61.0 L279.4,60.7 L279.7,60.5 L280.1,60.2 L280.4,60.0 L280.8,59.7 L281.1,59.5 L281.5,59.3 L281.9,59.0 L282.2,58.8 L282.6,58.6 L283.0,58.4 L283.4,58.1 L283.7,57.9 L284.1,57.7 L284.5,57.5 L284.9,57.3 L285.3,57.1 L285.6,56.9 L286.0,56.7 L286.4,56.5 L286.8,56.3 L287.2,56.1 L287.6,55.9 L288.0,55.7 L288.4,55.5 L288.8,55.4 L289.2,55.2 L289.6,55.0 L290.0,54.8 L290.4,54.7 L290.8,54.5 L291.2,54.4 L291.6,54.2 L292.0,54.1 L292.5,53.9 L292.9,53.8 L293.3,53.6 L293.7,53.5 L294.1,53.4 L294.5,53.2 L295.0,53.1 L295.4,53.0 L295.8,52.9 L296.2,52.7 L296.7,52.6 L297.1,52.5 L297.5,52.4 L297.9,52.3 L298.4,52.2 L298.8,52.1 L299.2,52.0 L299.7,51.9 L300.1,51.9 L300.5,51.8 L301.0,51.7 L301.4,51.6 L301.8,51.5 L302.3,51.5 L302.7,51.4 L303.1,51.4 L303.6,51.3 L304.0,51.3 L304.5,51.2 L304.9,51.2 L305.3,51.1 L305.8,51.1 L306.2,51.0 L306.7,51.0 L307.1,51.0 L307.5,51.0 L308.0,50.9 L308.4,50.9 L308.9,50.9 L309.3,50.9 L309.8,50.9 L310.2,50.9 L310.6,50.9 L311.1,50.9 L311.5,50.9 L312.0,50.9 L312.4,50.9 L312.9,51.0 L313.3,51.0 L313.7,51.0 L314.2,51.0 L314.6,51.1 L315.1,51.1 L315.5,51.2 L315.9,51.2 L316.4,51.3 L316.8,51.3 L317.3,51.4 L317.7,51.4 L318.1,51.5 L318.6,51.5 L319.0,51.6 L319.4,51.7 L319.9,51.8 L320.3,51.9 L320.7,51.9 L321.2,52.0 L321.6,52.1 L322.0,52.2 L322.5,52.3 L322.9,52.4 L323.3,52.5 L323.7,52.6 L324.2,52.7 L324.6,52.9 L325.0,53.0 L325.4,53.1 L325.9,53.2 L326.3,53.4 L326.7,53.5 L327.1,53.6 L327.5,53.8 L327.9,53.9 L328.4,54.1 L328.8,54.2 L329.2,54.4 L329.6,54.5 L330.0,54.7 L330.4,54.8 L330.8,55.0 L331.2,55.2 L331.6,55.4 L332.0,55.5 L332.4,55.7 L332.8,55.9 L333.2,56.1 L333.6,56.3 L334.0,56.5 L334.4,56.7 L334.8,56.9 L335.1,57.1 L335.5,57.3 L335.9,57.5 L336.3,57.7 L336.7,57.9 L337.0,58.1 L337.4,58.4 L337.8,58.6 L338.2,58.8 L338.5,59.0 L338.9,59.3 L339.3,59.5 L339.6,59.7 L340.0,60.0 L340.3,60.2 L340.7,60.5 L341.0,60.7 L341.4,61.0 L341.7,61.2 L342.1,61.5 L342.4,61.8 L342.8,62.0 L343.1,62.3 L343.4,62.6 L343.8,62.8 L344.1,63.1 L344.4,63.4 L344.8,63.7 L345.1,64.0 L345.4,64.3 L345.7,64.5 L346.0,64.8 L346.3,65.1 L346.6,65.4 L346.9,65.7 L347.3,66.0 L347.6,66.3 L347.8,66.6 L348.1,67.0 L348.4,67.3 L348.7,67.6 L349.0,67.9 L349.3,68.2 L349.6,68.5 L349.8,68.9 L350.1,69.2 L350.4,69.5 L350.7,69.9 L350.9,70.2 L351.2,70.5 L351.4,70.9 L351.7,71.2 L352.0,71.5 L352.2,71.9 L352.4,72.2 L352.7,72.6 L352.9,72.9 L353.2,73.3 L353.4,73.6 L353.6,74.0 L353.9,74.3 L354.1,74.7 L354.3,75.1 L354.5,75.4 L354.7,75.8 L354.9,76.2 L355.1,76.5 L355.3,76.9 L355.5,77.3 L355.7,77.6 L355.9,78.0 L356.1,78.4 L356.3,78.8 L356.5,79.1 L356.7,79.5 L356.8,79.9 L357.0,80.3 L357.2,80.7 L357.3,81.1 L357.5,81.4 L357.7,81.8 L357.8,82.2 L358.0,82.6 L358.1,83.0 L358.2,83.4 L358.4,83.8 L358.5,84.2 L358.6,84.6 L358.8,85.0 L358.9,85.4 L359.0,85.8 L359.1,86.2 L359.2,86.6 L359.4,87.0 L359.5,87.4 L359.6,87.8 L359.7,88.2 L359.8,88.6 L359.8,89.0 L359.9,89.4 L360.0,89.8 L360.1,90.2 L360.2,90.6 L360.2,91.1 L360.3,91.5 L360.4,91.9 L360.4,92.3 L360.5,92.7 L360.5,93.1 L360.6,93.5 L360.6,93.9 L360.7,94.4 L360.7,94.8 L360.7,95.2 L360.8,95.6 L360.8,96.0 L360.8,96.4 L360.8,96.8 L360.8,97.3 L360.9,97.7 L360.9,98.1 L360.9,98.5 L360.9,98.9 L360.9,99.3 L360.8,99.8 L360.8,100.2 L360.8,100.6 L360.8,101.0 L360.8,101.4 L360.7,101.8 L360.7,102.2 L360.7,102.7 L360.6,103.1 L360.6,103.5 L360.5,103.9 L360.5,104.3 L360.4,104.7 L360.4,105.1 L360.3,105.5 L360.2,106.0 L360.2,106.4 L360.1,106.8 L360.0,107.2 L359.9,107.6 L359.8,108.0 L359.8,108.4 L359.7,108.8 L359.6,109.2 L359.5,109.6 L359.4,110.0 L359.2,110.4 L359.1,110.8 L359.0,111.2 L358.9,111.6 L358.8,112.0 L358.6,112.4 L358.5,112.8 L358.4,113.2 L358.2,113.6 L358.1,114.0 L358.0,114.4 L357.8,114.8 L357.7,115.2 L357.5,115.6 L357.3,116.0 L357.2,116.3 L357.0,116.7 L356.8,117.1 L356.7,117.5 L356.5,117.9 L356.3,118.2 L356.1,118.6 L355.9,119.0 L355.7,119.4 L355.5,119.7 L355.3,120.1 L355.1,120.5 L354.9,120.9 L354.7,121.2 L354.5,121.6 L354.3,121.9 L354.1,122.3 L353.9,122.7 L353.6,123.0 L353.4,123.4 L353.2,123.7 L352.9,124.1 L352.7,124.4 L352.4,124.8 L352.2,125.1 L352.0,125.5 L351.7,125.8 L351.4,126.1 L351.2,126.5 L350.9,126.8 L350.7,127.2 L350.4,127.5 L350.1,127.8 L349.8,128.1 L349.6,128.5 L349.3,128.8 L349.0,129.1 L348.7,129.4 L348.4,129.7 L348.1,130.0 L347.8,130.4 L347.6,130.7 L347.3,131.0 L346.9,131.3 L346.6,131.6 L346.3,131.9 L346.0,132.2 L345.7,132.5 L345.4,132.7 L345.1,133.0 L344.8,133.3 L344.4,133.6 L344.1,133.9 L343.8,134.2 L343.4,134.4 L343.1,134.7 L342.8,135.0 L342.4,135.2 L342.1,135.5 L341.7,135.8 L341.4,136.0 L341.0,136.3 L340.7,136.5 L340.3,136.8 L340.0,137.0 L339.6,137.3 L339.3,137.5 L338.9,137.7 L338.5,138.0 L338.2,138.2 L337.8,138.4 L337.4,138.7 L337.0,138.9 L336.7,139.1 L336.3,139.3 L335.9,139.5 L335.5,139.7 L335.1,139.9 L334.8,140.1 L334.4,140.3 L334.0,140.5 L333.6,140.7 L333.2,140.9 L332.8,141.1 L332.4,141.3 L332.0,141.5 L331.6,141.7 L331.2,141.8 L330.8,142.0 L330.4,142.2 L330.0,142.3 L329.6,142.5 L329.2,142.6 L328.8,142.8 L328.4,142.9 L327.9,143.1 L327.5,143.2 L327.1,143.4 L326.7,143.5 L326.3,143.7 L325.9,143.8 L325.4,143.9 L325.0,144.0 L324.6,144.2 L324.2,144.3 L323.7,144.4 L323.3,144.5 L322.9,144.6 L322.5,144.7 L322.0,144.8 L321.6,144.9 L321.2,145.0 L320.7,145.1 L320.3,145.2 L319.9,145.2 L319.4,145.3 L319.0,145.4 L318.6,145.5 L318.1,145.5 L317.7,145.6 L317.3,145.6 L316.8,145.7 L316.4,145.8 L315.9,145.8 L315.5,145.9 L315.1,145.9 L314.6,145.9 L314.2,146.0 L313.7,146.0 L313.3,146.0 L312.9,146.0 L312.4,146.1 L312.0,146.1 L311.5,146.1 L311.1,146.1 L310.6,146.1 L310.2,146.1 M251.7,88.5 L251.7,88.0 L251.7,87.5 L251.7,87.1 L251.7,86.6 L251.8,86.1 L251.8,85.6 L251.8,85.1 L251.8,84.7 L251.9,84.2 L251.9,83.7 L252.0,83.2 L252.0,82.8 L252.1,82.3 L252.1,81.8 L252.2,81.3 L252.3,80.8 L252.3,80.4 L252.4,79.9 L252.5,79.4 L252.6,79.0 L252.7,78.5 L252.8,78.0 L252.9,77.5 L253.0,77.1 L253.1,76.6 L253.2,76.1 L253.3,75.7 L253.4,75.2 L253.6,74.7 L253.7,74.3 L253.8,73.8 L254.0,73.3 L254.1,72.9 L254.3,72.4 L254.4,72.0 L254.6,71.5 L254.7,71.1 L254.9,70.6 L255.1,70.1 L255.2,69.7 L255.4,69.2 L255.6,68.8 L255.8,68.4 L256.0,67.9 L256.2,67.5 L256.4,67.0 L256.6,66.6 L256.8,66.1 L257.0,65.7 L257.2,65.3 L257.4,64.8 L257.6,64.4 L257.8,64.0 L258.1,63.5 L258.3,63.1 L258.5,62.7 L258.8,62.3 L259.0,61.8 L259.3,61.4 L259.5,61.0 L259.8,60.6 L260.1,60.2 L260.3,59.8 L260.6,59.4 L260.9,59.0 L261.1,58.6 L261.4,58.2 L261.7,57.8 L262.0,57.4 L262.3,57.0 L262.6,56.6 L262.9,56.2 L263.2,55.8 L263.5,55.4 L263.8,55.0 L264.1,54.7 L264.4,54.3 L264.7,53.9 L265.1,53.5 L265.4,53.2 L265.7,52.8 L266.0,52.4 L266.4,52.1 L266.7,51.7 L267.1,51.4 L267.4,51.0 L267.8,50.7 L268.1,50.3 L268.5,50.0 L268.8,49.6 L269.2,49.3 L269.6,49.0 L269.9,48.6 L270.3,48.3 L270.7,48.0 L271.1,47.6 L271.4,47.3 L271.8,47.0 L272.2,46.7 L272.6,46.4 L273.0,46.1 L273.4,45.8 L273.8,45.5 L274.2,45.2 L274.6,44.9 L275.0,44.6 L275.4,44.3 L275.8,44.0 L276.2,43.7 L276.6,43.5 L277.1,43.2 L277.5,42.9 L277.9,42.7 L278.3,42.4 L278.8,42.1 L279.2,41.9 L279.6,41.6 L280.1,41.4 L280.5,41.1 L280.9,40.9 L281.4,40.7 L281.8,40.4 L282.3,40.2 L282.7,40.0 L283.2,39.7 L283.6,39.5 L284.1,39.3 L284.6,39.1 L285.0,38.9 L285.5,38.7 L285.9,38.5 L286.4,38.3 L286.9,38.1 L287.3,37.9 L287.8,37.7 L288.3,37.5 L288.8,37.4 L289.2,37.2 L289.7,37.0 L290.2,36.8 L290.7,36.7 L291.2,36.5 L291.6,36.4 L292.1,36.2 L292.6,36.1 L293.1,35.9 L293.6,35.8 L294.1,35.7 L294.6,35.5 L295.1,35.4 L295.6,35.3 L296.0,35.2 L296.5,35.0 L297.0,34.9 L297.5,34.8 L298.0,34.7 L298.5,34.6 L299.0,34.5 L299.5,34.4 L300.0,34.4 L300.5,34.3 L301.0,34.2 L301.6,34.1 L302.1,34.1 L302.6,34.0 L303.1,33.9 L303.6,33.9 L304.1,33.8 L304.6,33.8 L305.1,33.7 L305.6,33.7 L306.1,33.7 L306.6,33.6 L307.1,33.6 L307.6,33.6 L308.2,33.6 L308.7,33.5 L309.2,33.5 L309.7,33.5 L310.2,33.5 L310.7,33.5 L311.2,33.5 L311.7,33.5 L312.2,33.6 L312.8,33.6 L313.3,33.6 L313.8,33.6 L314.3,33.7 L314.8,33.7 L315.3,33.7 L315.8,33.8 L316.3,33.8 L316.8,33.9 L317.3,33.9 L317.8,34.0 L318.3,34.1 L318.8,34.1 L319.4,34.2 L319.9,34.3 L320.4,34.4 L320.9,34.4 L321.4,34.5 L321.9,34.6 L322.4,34.7 L322.9,34.8 L323.4,34.9 L323.9,35.0 L324.4,35.2 L324.8,35.3 L325.3,35.4 L325.8,35.5 L326.3,35.7 L326.8,35.8 L327.3,35.9 L327.8,36.1 L328.3,36.2 L328.8,36.4 L329.2,36.5 L329.7,36.7 L330.2,36.8 L330.7,37.0 L331.2,37.2 L331.6,37.4 L332.1,37.5 L332.6,37.7 L333.1,37.9 L333.5,38.1 L334.0,38.3 L334.5,38.5 L334.9,38.7 L335.4,38.9 L335.8,39.1 L336.3,39.3 L336.8,39.5 L337.2,39.7 L337.7,40.0 L338.1,40.2 L338.6,40.4 L339.0,40.7 L339.4,40.9 L339.9,41.1 L340.3,41.4 L340.8,41.6 L341.2,41.9 L341.6,42.1 L342.1,42.4 L342.5,42.7 L342.9,42.9 L343.3,43.2 L343.8,43.5 L344.2,43.7 L344.6,44.0 L345.0,44.3 L345.4,44.6 L345.8,44.9 L346.2,45.2 L346.6,45.5 L347.0,45.8 L347.4,46.1 L347.8,46.4 L348.2,46.7 L348.6,47.0 L349.0,47.3 L349.3,47.6 L349.7,48.0 L350.1,48.3 L350.5,48.6 L350.8,49.0 L351.2,49.3 L351.6,49.6 L351.9,50.0 L352.3,50.3 L352.6,50.7 L353.0,51.0 L353.3,51.4 L353.7,51.7 L354.0,52.1 L354.4,52.4 L354.7,52.8 L355.0,53.2 L355.3,53.5 L355.7,53.9 L356.0,54.3 L356.3,54.7 L356.6,55.0 L356.9,55.4 L357.2,55.8 L357.5,56.2 L357.8,56.6 L358.1,57.0 L358.4,57.4 L358.7,57.8 L359.0,58.2 L359.3,58.6 L359.5,59.0 L359.8,59.4 L360.1,59.8 L360.3,60.2 L360.6,60.6 L360.9,61.0 L361.1,61.4 L361.4,61.8 L361.6,62.3 L361.9,62.7 L362.1,63.1 L362.3,63.5 L362.6,64.0 L362.8,64.4 L363.0,64.8 L363.2,65.3 L363.4,65.7 L363.6,66.1 L363.8,66.6 L364.0,67.0 L364.2,67.5 L364.4,67.9 L364.6,68.4 L364.8,68.8 L365.0,69.2 L365.2,69.7 L365.3,70.1 L365.5,70.6 L365.7,71.1 L365.8,71.5 L366.0,72.0 L366.1,72.4 L366.3,72.9 L366.4,73.3 L366.6,73.8 L366.7,74.3 L366.8,74.7 L367.0,75.2 L367.1,75.7 L367.2,76.1 L367.3,76.6 L367.4,77.1 L367.5,77.5 L367.6,78.0 L367.7,78.5 L367.8,79.0 L367.9,79.4 L368.0,79.9 L368.1,80.4 L368.1,80.8 L368.2,81.3 L368.3,81.8 L368.3,82.3 L368.4,82.8 L368.4,83.2 L368.5,83.7 L368.5,84.2 L368.6,84.7 L368.6,85.1 L368.6,85.6 L368.6,86.1 L368.7,86.6 L368.7,87.1 L368.7,87.5 L368.7,88.0 L368.7,88.5" fill="none" stroke="#000" stroke-opacity="0.5" stroke-width="1.1"/>
</g>
<circle cx="310.2" cy="88.5" r="58.1" fill="none" stroke="#000" stroke-opacity="0.35" stroke-width="1.2"/>
</g>
<g filter="url(#soft)">
<g clip-path="url(#gc1)">
<circle cx="438.2" cy="88.5" r="58.5" fill="#54d068"/>
<path d="M433.8,30.2 422.5,32.2 414.2,35.2 410.2,37.2 400.8,43.5 393.2,51.2 386.5,61.2 382.2,71.8 380.2,81.2 379.8,92.2 381.5,102.8 383.5,109.2 386.5,115.8 393.2,125.8 400.8,133.5 410.2,139.8 414.2,141.8 422.5,144.8 433.8,146.8 442.5,146.8 453.8,144.8 462.2,141.8 466.8,139.5 472.5,135.8 477.8,131.5 481.5,127.8 487.2,120.5 493.2,108.5 496.2,96.2 496.5,83.8 495.8,78.5 494.2,71.5 491.8,65.2 489.2,59.8 483.5,51.5 475.2,43.2 466.8,37.5 456.2,32.8 445.5,30.5ZM450.8,106.8 450.8,107.8 449.2,109.2 446.8,108.8 449.2,105.5Z" fill="#60d652" fill-rule="evenodd"/>
<path d="M451.5,102.8 450.8,103.5 450.8,104.5 451.5,105.5 453.2,106.2 454.2,104.8 454.2,103.8 452.8,102.8ZM433.8,30.2 422.5,32.2 414.2,35.2 410.2,37.2 400.8,43.5 393.2,51.2 386.5,61.2 382.2,71.8 380.2,81.2 379.8,92.2 381.5,102.8 383.5,109.2 386.5,115.8 393.2,125.8 400.8,133.5 410.2,139.8 414.2,141.8 422.5,144.8 433.8,146.8 442.5,146.8 453.8,144.8 462.2,141.8 466.8,139.5 472.5,135.8 477.8,131.5 481.5,127.8 487.2,120.5 493.2,108.5 496.2,96.2 496.5,83.8 495.8,78.5 494.2,71.5 491.8,65.2 489.2,59.8 483.5,51.5 475.2,43.2 466.8,37.5 456.2,32.8 445.5,30.5ZM457.2,101.8 457.5,102.8 455.5,106.8 454.5,107.8 453.2,107.5 450.2,110.5 446.8,110.8 445.2,109.5 443.2,108.8 442.2,109.2 439.8,111.8 437.8,111.8 435.8,109.2 435.8,107.5 437.5,105.8 435.8,104.2 436.8,102.5 441.2,103.8 442.5,105.5 445.8,105.8 446.5,105.2 446.5,103.5 445.8,101.8 446.2,100.8 450.2,98.2 455.8,100.5ZM439.5,90.8 440.5,92.2 440.5,93.5 439.8,94.8 438.5,95.8 437.2,94.2 437.2,92.5 438.5,90.8Z" fill="#6cdc3c" fill-rule="evenodd"/>
<path d="M434.8,118.2 436.2,120.8 438.2,120.5 440.8,120.8 441.8,119.8 441.2,118.2 437.8,118.2 437.5,117.8ZM431.8,117.2 432.2,117.8 434.2,117.8 432.8,116.5ZM433.8,30.2 422.5,32.2 414.2,35.2 410.2,37.2 400.8,43.5 393.2,51.2 386.5,61.2 382.2,71.8 380.2,81.2 379.8,92.2 381.5,102.8 383.5,109.2 386.5,115.8 393.2,125.8 400.8,133.5 410.2,139.8 414.2,141.8 422.5,144.8 433.8,146.8 442.5,146.8 453.8,144.8 462.2,141.8 466.8,139.5 472.5,135.8 477.8,131.5 483.5,125.5 483.8,124.2 485.5,122.8 487.2,120.5 493.2,108.5 492.8,107.2 494.2,105.5 496.2,96.2 496.5,83.8 495.8,78.5 494.2,71.5 490.8,63.2 489.5,62.5 488.8,61.5 489.2,59.8 483.5,51.5 475.2,43.2 466.8,37.5 456.2,32.8 447.2,30.8 447.5,31.5 446.5,32.5 445.5,32.5 444.8,31.8 445.5,30.5ZM450.2,117.5 450.5,117.2 450.8,117.8 450.5,118.2ZM439.5,88.8 441.5,89.5 443.5,92.2 443.5,93.5 442.2,94.5 442.2,95.5 444.8,98.2 446.5,98.8 447.8,97.8 447.2,95.2 448.5,94.2 449.5,94.2 453.2,98.2 456.2,99.2 458.2,101.2 458.5,103.5 457.8,106.2 456.2,109.2 456.5,111.8 455.8,113.5 455.8,116.8 454.5,118.2 453.8,118.2 452.5,116.5 451.2,115.8 450.8,114.8 449.2,113.2 446.8,112.5 443.8,110.5 442.8,111.2 442.8,112.8 446.2,114.5 446.5,117.2 446.2,122.2 443.8,123.8 441.5,123.8 438.8,125.2 436.2,124.2 434.8,122.5 432.5,122.2 431.2,120.8 430.5,119.2 427.8,119.2 426.8,118.5 427.2,109.2 426.2,107.5 426.2,106.2 427.2,103.8 427.2,102.2 426.5,100.5 427.5,99.5 429.2,100.2 429.2,101.8 430.2,102.8 431.5,102.8 432.2,102.2 432.2,101.2 429.5,99.2 429.5,98.2 430.5,96.2 430.5,93.2 433.5,91.5 435.8,91.2 438.2,89.2ZM385.8,76.8 386.5,76.8 387.8,78.5 387.8,79.2 386.2,80.2 385.5,80.2 384.5,78.8ZM383.5,70.5 384.5,69.2 386.2,69.2 386.8,69.8 385.5,71.2 384.2,71.2ZM386.5,62.2 387.5,62.2 388.5,63.2 389.2,64.8 390.5,65.8 389.5,66.8 388.2,66.5 385.8,63.8 385.8,62.8ZM472.5,49.5 474.2,48.8 475.2,50.2 473.5,50.5ZM422.8,42.5 423.8,42.2 424.2,43.2 423.2,43.5ZM402.5,42.8 403.8,41.2 405.8,41.2 408.5,42.8 410.5,42.8 411.5,44.5 410.5,45.5 408.8,45.5 407.5,44.5 403.5,44.2ZM443.2,34.8 443.8,34.8 444.8,36.2 444.8,37.2 444.2,38.2 442.8,38.2 441.8,37.2 442.2,35.8Z" fill="#7ce13b" fill-rule="evenodd"/>
<path d="M381.2,75.8 380.8,77.8 381.5,76.8ZM384.8,65.5 383.5,67.8 385.5,67.2ZM491.8,65.2 490.5,65.2 489.8,65.8 489.5,68.8 491.2,68.8 492.8,67.8ZM485.5,54.2 485.2,57.5 484.5,58.8 484.8,60.2 485.8,60.2 486.5,58.8 487.8,57.8ZM472.8,41.5 475.8,45.2 476.8,44.8ZM411.5,36.5 406.2,39.8 407.8,40.2 409.2,39.8 409.5,38.5ZM447.5,35.8 447.8,38.5 446.2,39.8 442.5,39.8 440.8,39.2 437.2,39.5 435.2,38.5 433.2,38.5 431.5,39.8 429.2,39.8 426.2,38.5 426.2,41.5 427.5,43.8 427.5,44.8 426.8,45.5 422.8,45.8 420.2,45.2 418.5,45.8 415.5,48.8 414.2,48.8 413.2,47.2 413.8,46.2 415.8,45.5 416.5,43.8 414.8,41.8 413.2,41.8 412.8,42.2 413.2,45.8 411.8,46.8 409.5,47.2 408.5,47.8 404.5,52.2 402.2,53.8 400.8,52.8 400.5,51.8 401.2,50.5 401.2,46.8 400.5,46.5 398.8,48.5 398.5,50.8 395.8,53.8 395.2,56.5 394.5,56.8 392.2,55.8 389.5,58.8 388.2,59.5 388.5,61.2 390.5,63.2 391.5,63.2 392.2,62.5 392.5,60.5 393.2,59.8 394.2,59.5 395.5,60.5 395.2,64.2 393.2,70.5 391.5,71.8 389.8,71.5 387.2,72.2 385.5,73.2 385.8,73.8 387.5,73.8 388.5,74.8 388.8,76.8 390.2,78.5 389.8,80.2 388.5,81.5 385.2,82.5 383.5,82.5 380.5,80.5 380.2,81.2 379.8,92.2 381.2,101.5 381.8,103.2 383.5,102.8 384.2,103.5 384.2,104.8 382.8,105.5 382.5,106.2 383.2,108.2 384.5,109.5 384.5,111.5 387.5,117.5 388.5,116.8 390.2,118.2 392.5,121.2 396.5,129.5 403.8,135.8 414.2,141.8 422.5,144.8 428.5,146.2 433.8,146.8 442.5,146.8 451.2,145.5 457.2,143.8 462.2,141.8 472.5,135.8 477.8,131.5 482.5,126.5 483.5,123.2 485.8,120.8 486.5,121.2 487.2,120.5 487.5,119.5 487.2,117.8 487.8,116.5 490.8,113.8 492.2,110.5 491.5,108.8 491.5,107.2 493.5,102.8 494.8,102.5 496.2,95.8 494.5,97.2 493.8,97.2 491.5,93.8 491.5,92.8 492.2,91.8 496.5,90.5 496.5,88.8 492.8,85.8 492.2,84.2 492.2,82.8 492.8,81.8 495.8,79.5 494.8,74.2 494.5,74.5 490.5,74.5 490.2,74.2 488.2,75.2 486.8,73.8 486.2,72.5 485.8,69.2 483.5,67.2 481.5,63.5 481.8,59.5 480.5,56.5 480.5,54.5 483.2,52.8 482.8,51.8 480.5,49.2 478.8,49.2 478.5,50.8 479.5,52.5 479.5,54.2 478.5,54.8 476.8,54.8 474.8,52.5 473.5,51.8 470.2,51.2 468.5,51.8 467.2,51.5 466.8,50.5 468.2,49.5 469.8,45.5 466.8,42.5 465.8,42.5 463.2,44.2 460.5,42.8 456.5,43.2 452.5,39.2 451.2,37.2ZM383.2,95.2 384.2,95.2 384.8,95.8 384.8,97.8 386.8,99.8 387.2,101.5 386.2,102.8 384.5,101.8 384.2,101.2 384.5,99.5 382.2,96.8ZM438.5,87.8 440.8,87.8 443.5,88.5 445.5,90.2 446.8,92.5 449.5,91.2 455.2,97.5 457.2,98.5 458.5,99.8 459.2,101.2 458.8,108.2 457.8,110.5 456.8,117.5 454.8,119.5 453.2,122.2 448.2,124.5 446.2,124.5 440.8,126.5 436.8,126.5 434.8,125.8 431.5,123.8 429.5,120.8 426.5,120.2 425.2,118.5 425.5,114.5 424.5,113.2 424.5,111.5 425.2,110.5 424.8,108.5 425.2,104.5 424.5,103.2 424.5,100.5 425.2,98.5 426.2,97.5 428.2,96.8 428.5,93.5 429.5,91.8 432.8,90.8ZM386.8,85.5 387.8,87.2 387.5,89.2 386.2,90.5 383.5,90.5 382.5,89.5 382.5,88.2 383.2,86.8 384.8,85.5 385.8,85.2ZM450.8,42.5 450.8,43.5 449.8,44.2 447.8,43.5 446.8,43.8 446.2,43.2 446.5,42.5 448.2,42.5 449.5,41.8ZM432.2,41.5 432.5,41.2 434.2,42.2 436.2,42.2 436.5,42.8 435.2,43.5 432.8,42.5ZM460.8,34.8 462.5,38.2 464.5,38.5 466.8,39.8 467.8,39.2 467.8,38.5 466.8,37.5ZM449.5,31.2 448.8,32.8 449.5,34.2 452.8,33.5 454.8,36.5 455.8,36.5 456.8,35.5 457.2,33.2ZM433.8,30.2 434.5,31.5 434.5,33.2 438.2,36.2 439.5,36.2 440.5,35.5 442.5,32.8 442.2,31.2 439.5,31.2 437.5,30.2Z" fill="#8fe338" fill-rule="evenodd"/>
<path d="M380.2,84.2 379.8,88.2 380.8,86.8 380.8,85.2ZM398.2,54.2 397.8,55.8 399.2,56.2 399.2,54.5ZM443.5,41.2 440.2,41.5 436.5,45.2 434.8,45.2 433.2,44.2 431.2,44.2 430.2,44.8 429.2,46.5 427.8,47.2 419.8,46.8 416.8,49.8 413.2,51.2 410.2,54.2 407.8,54.2 406.2,54.8 405.5,57.2 403.2,58.5 403.8,60.2 403.2,62.5 401.8,63.5 400.5,63.5 398.5,64.5 397.5,65.5 397.2,67.8 395.2,69.5 391.2,75.8 391.5,78.8 390.5,80.8 388.5,83.2 389.2,87.2 388.5,89.5 386.8,92.2 386.8,97.8 388.2,100.2 388.5,101.8 386.2,107.2 386.2,108.2 388.2,109.2 388.5,111.8 390.2,114.5 390.5,116.5 397.8,129.8 403.8,135.8 407.8,137.5 410.2,139.5 413.2,141.2 422.8,144.8 433.8,146.8 442.5,146.8 447.8,146.2 458.8,143.2 464.8,140.5 468.2,137.8 470.8,136.8 472.8,135.5 478.8,129.8 481.5,126.8 483.2,122.5 485.2,120.2 487.5,114.2 490.2,110.8 490.5,106.8 491.2,105.5 491.8,100.8 491.8,96.2 490.5,94.2 490.5,92.5 491.5,90.5 493.8,89.2 491.5,87.2 488.2,79.2 488.2,77.8 485.8,75.2 484.8,70.8 481.8,67.5 480.8,64.8 479.2,63.2 478.5,60.8 477.8,60.2 474.8,60.5 473.2,59.5 472.8,58.5 474.5,55.5 474.5,54.2 473.8,53.2 472.2,52.5 470.5,52.5 467.8,53.5 465.5,53.2 464.5,52.2 464.5,49.5 463.2,48.2 462.8,47.2 459.5,44.5 455.5,47.2 453.5,46.8 452.5,45.5 445.8,45.5 444.8,44.8 444.2,43.5 444.2,41.8ZM438.5,86.5 443.2,86.8 446.2,88.5 450.2,88.5 451.2,89.5 452.5,92.5 458.8,98.2 460.2,100.5 460.2,108.5 458.2,113.8 458.2,117.2 456.2,119.5 455.2,121.8 453.8,123.2 450.5,124.5 448.5,126.2 445.2,126.5 441.8,127.5 436.8,127.5 433.2,126.5 431.5,125.5 428.2,121.8 425.5,121.2 424.2,119.2 424.2,115.8 423.2,113.8 422.5,110.8 423.2,107.5 423.2,105.2 422.5,103.5 422.8,102.2 423.8,100.5 425.2,96.2 426.8,94.5 427.5,91.8 428.8,90.8 432.8,89.8 435.2,87.5ZM437.5,32.8 437.5,33.8 438.8,34.5 439.2,33.2Z" fill="#a4e034" fill-rule="evenodd"/>
<path d="M469.5,54.5 469.5,55.2 470.8,56.2 472.5,55.8 472.5,54.8 471.2,53.8 470.2,53.8ZM442.2,43.5 440.2,44.8 440.2,45.8 439.5,46.5 436.8,47.2 435.5,47.2 432.2,45.2 431.2,45.5 429.5,47.5 428.2,48.2 425.8,48.2 423.2,49.5 420.5,48.5 419.5,51.2 418.2,52.5 414.2,53.8 411.2,55.5 409.2,55.8 408.2,59.2 406.8,60.5 405.2,61.2 403.8,63.2 400.2,66.2 398.5,68.8 395.2,71.8 394.8,75.5 389.8,83.2 390.5,86.8 387.8,93.5 388.2,94.8 387.8,97.5 389.5,101.2 389.2,103.2 388.2,105.2 388.2,107.2 390.2,109.5 391.5,116.8 394.2,121.2 395.2,124.5 397.5,127.5 398.2,129.2 403.8,135.2 407.5,136.8 411.2,139.8 413.8,141.2 422.5,144.5 425.2,144.8 427.5,145.8 434.2,146.8 444.8,146.5 452.8,144.8 461.8,141.8 464.5,140.5 468.2,137.5 471.8,135.8 475.8,131.5 480.5,127.5 482.2,123.2 484.2,120.5 485.5,117.8 486.5,113.8 489.2,109.2 489.5,102.8 490.5,100.2 490.5,96.2 489.5,92.8 489.8,92.5 489.5,88.8 490.2,87.8 489.8,85.5 487.8,81.8 485.5,79.8 485.2,76.8 482.8,70.8 479.5,67.8 478.5,65.8 476.5,63.8 476.5,63.2 475.5,62.2 472.8,61.5 471.5,60.2 470.2,57.5 468.2,57.2 465.8,54.5 464.5,53.8 462.5,51.5 460.8,50.5 460.2,48.5 459.2,47.5 457.5,47.5 455.8,48.5 453.2,48.5 450.2,46.8 445.2,46.5ZM443.5,82.2 444.2,82.8 443.8,84.8 444.5,85.5 447.2,86.8 451.5,87.5 455.5,93.2 458.8,95.8 460.8,98.8 462.2,105.2 461.2,108.2 460.8,111.2 459.5,113.8 459.5,117.2 457.2,121.8 456.2,122.8 453.5,124.5 451.2,125.2 448.2,127.5 445.2,127.8 443.8,128.5 440.8,128.2 438.5,128.5 432.2,127.2 427.8,123.2 424.5,122.2 423.2,121.2 422.8,115.8 420.8,111.2 420.8,108.5 421.5,107.5 421.2,103.5 423.2,99.8 423.8,94.2 427.2,90.2 431.2,89.5 434.5,86.5 436.8,86.2 438.5,85.2 441.8,84.8 442.5,82.8Z" fill="#bade32" fill-rule="evenodd"/>
<path d="M431.8,46.5 429.5,48.8 425.8,49.8 424.8,51.5 423.5,52.5 415.2,55.2 411.2,57.2 408.2,60.8 405.8,61.8 403.8,64.5 399.8,68.2 397.2,71.8 396.5,74.8 395.5,76.8 393.5,79.2 391.2,83.2 391.5,86.5 390.5,88.2 389.2,92.5 389.2,97.2 390.2,99.2 390.2,102.5 389.2,105.8 391.2,109.5 392.2,116.5 394.5,120.5 396.2,125.2 399.2,129.5 403.8,134.5 408.2,136.8 411.8,139.8 418.2,142.8 422.2,144.2 432.5,146.5 435.8,146.8 443.8,146.5 448.2,145.8 454.2,144.2 463.5,140.8 467.8,137.2 471.2,135.8 472.8,134.5 474.5,132.2 479.8,127.5 482.2,122.2 483.2,121.2 484.8,117.8 486.8,110.2 488.2,107.2 487.8,104.2 489.2,100.8 488.8,91.8 487.8,89.2 488.5,87.5 488.5,85.8 487.5,83.5 484.2,80.2 483.8,77.5 482.2,74.5 481.2,70.8 477.8,68.2 477.5,67.2 473.5,63.2 472.2,62.8 469.2,59.2 467.2,58.5 464.5,55.2 461.5,53.2 459.5,52.5 457.5,49.5 454.5,49.8 450.5,48.5 447.8,48.8 444.5,47.5 443.2,47.5 441.2,49.2 436.8,49.2 434.8,48.2 433.5,46.8ZM442.8,80.5 444.2,80.5 445.2,81.2 449.2,85.5 451.5,85.8 455.8,90.2 456.2,91.5 458.8,93.5 460.5,95.8 462.2,100.2 463.8,102.5 463.8,104.8 462.2,109.2 462.5,113.5 461.2,118.5 460.2,120.2 456.2,124.2 450.8,126.2 448.2,128.5 445.8,128.8 443.8,129.8 441.5,129.2 437.8,129.2 434.5,128.2 432.2,128.2 430.8,127.5 427.5,124.2 425.2,123.2 422.8,122.8 421.8,121.2 421.8,116.5 419.2,110.5 419.2,109.2 420.2,106.8 419.8,103.2 422.2,99.2 422.5,92.8 426.2,89.2 427.8,88.5 430.8,88.5 434.2,85.5 436.5,85.2 438.5,83.8 440.2,83.5 441.2,81.8Z" fill="#d0dc30" fill-rule="evenodd"/>
<path d="M432.2,47.5 431.5,47.8 430.8,49.2 431.2,52.5 430.2,53.5 428.5,53.5 427.5,52.2 426.5,52.2 422.5,54.5 421.5,54.5 419.2,55.8 416.2,56.2 412.2,58.2 408.8,61.5 406.8,62.2 404.5,65.2 400.5,68.5 396.8,76.5 394.5,79.2 392.8,82.2 392.5,86.5 390.8,89.5 390.8,90.8 389.8,93.2 389.8,94.8 391.2,98.2 390.5,106.5 392.2,109.8 392.2,112.8 392.8,116.2 394.8,119.5 396.5,124.8 399.5,129.2 405.5,135.2 407.8,136.2 410.8,138.8 418.2,142.5 423.2,144.2 424.8,144.2 427.8,145.5 433.5,146.5 444.8,146.2 452.2,144.5 463.5,140.5 467.2,137.2 472.2,134.5 474.2,131.8 479.5,127.2 480.8,123.5 484.5,117.2 485.8,111.5 485.8,109.2 487.2,107.2 487.2,103.2 488.2,100.8 488.2,98.5 487.5,97.2 487.5,92.8 485.8,88.5 486.2,84.8 483.2,80.5 482.8,77.8 480.2,73.8 479.8,71.5 477.5,70.2 473.2,64.8 471.2,64.5 469.2,65.5 467.8,63.8 469.2,61.8 468.8,60.5 466.8,59.8 463.5,56.2 460.2,54.8 458.2,53.2 455.5,52.5 452.8,50.5 447.2,50.2 445.5,49.5 443.8,49.5 442.2,50.2 436.8,50.2ZM442.2,79.5 443.8,79.5 448.5,82.5 450.5,83.2 452.8,85.2 454.8,87.8 457.5,88.2 458.2,89.2 458.5,91.2 462.2,95.5 463.2,99.2 465.8,101.5 465.8,103.8 463.5,108.8 463.8,114.2 463.2,117.5 462.2,119.8 456.5,125.2 455.2,125.8 452.2,126.2 449.2,128.8 445.2,130.8 443.2,130.8 440.2,129.8 437.5,129.8 436.2,129.2 431.8,129.2 430.5,128.5 426.8,124.8 422.5,123.8 421.2,121.8 420.5,116.5 418.2,112.5 417.8,111.2 418.2,106.8 416.8,103.8 416.8,101.8 419.2,100.5 419.2,98.2 421.2,92.8 424.5,88.2 426.5,87.2 430.5,87.2 433.5,84.5 436.5,83.5 436.8,82.5 438.2,81.2 439.8,81.2Z" fill="#e5d430" fill-rule="evenodd"/>
<path d="M433.5,49.8 433.2,52.5 431.5,54.5 430.5,54.8 425.2,54.5 421.5,55.8 419.5,57.2 415.8,57.5 412.2,59.5 410.2,61.8 407.5,62.8 404.2,67.2 401.2,68.8 397.8,77.2 394.8,80.2 393.8,83.2 393.5,86.5 391.8,89.2 390.8,92.8 390.8,94.8 391.8,96.8 391.5,106.5 392.8,109.8 393.2,115.2 395.2,118.8 396.2,122.8 399.5,128.2 404.2,133.5 408.5,136.2 412.5,139.5 422.8,143.8 424.5,143.8 428.8,145.5 432.8,146.2 443.2,146.2 450.2,144.8 455.5,142.8 459.8,141.8 463.5,140.2 467.8,136.2 471.5,134.5 473.8,131.5 479.2,126.8 480.2,123.8 482.2,120.8 484.2,116.5 484.8,109.8 486.5,106.5 486.5,102.8 487.2,100.8 487.2,98.5 486.5,97.2 485.8,93.5 484.5,91.2 484.5,84.2 482.5,80.8 482.2,78.8 480.8,76.5 478.2,73.8 477.8,72.2 474.2,68.8 473.2,66.8 468.5,66.5 467.2,65.2 466.8,64.2 467.2,62.2 465.2,59.8 458.5,54.8 457.2,54.2 453.5,53.8 452.8,52.5 451.5,51.5 447.2,51.5 446.2,50.8 443.5,51.2 435.5,50.8ZM438.8,78.2 443.2,78.2 446.8,80.5 451.8,82.5 454.8,85.8 457.8,86.5 459.2,87.8 460.2,90.8 461.8,92.5 464.2,93.2 465.2,94.2 464.2,97.2 464.5,98.2 467.5,101.5 466.8,106.2 464.8,109.2 464.8,111.2 465.5,112.2 465.5,113.5 464.5,115.2 464.2,117.8 463.2,120.2 457.2,126.2 455.2,127.2 452.5,126.8 451.2,127.5 448.2,130.8 446.2,131.8 443.2,131.8 442.2,131.2 437.8,130.8 436.5,130.2 431.2,130.2 429.8,129.5 426.5,125.8 425.2,125.2 422.2,124.8 420.8,123.5 419.5,118.2 417.5,114.8 417.2,111.8 416.2,108.8 415.2,107.5 415.5,100.5 417.2,98.5 417.5,96.2 419.5,94.2 420.8,90.2 422.8,86.8 423.5,84.2 425.8,82.5 428.5,82.2 429.5,82.8 429.5,85.2 430.8,85.2 431.5,84.5 431.5,83.5 430.2,82.2 431.2,81.2 434.8,80.5Z" fill="#f1c82b" fill-rule="evenodd"/>
<path d="M445.5,51.8 444.5,51.8 442.5,52.8 440.2,51.8 435.5,52.2 432.2,55.5 425.2,55.8 419.8,58.2 416.2,58.5 413.2,60.2 410.5,63.2 408.2,63.8 404.8,68.2 403.2,68.5 401.5,69.8 400.8,71.2 400.5,75.2 399.2,77.8 395.8,80.2 395.5,82.2 394.5,83.8 394.5,86.8 392.8,89.5 391.8,92.8 391.8,94.5 392.8,97.5 392.2,100.5 392.2,104.8 393.5,109.8 393.5,114.2 395.8,118.8 396.8,122.8 400.2,128.2 404.2,132.8 412.2,138.8 418.2,141.8 423.2,143.5 425.8,143.8 428.8,145.2 434.8,146.2 443.8,145.8 445.8,145.2 447.8,145.2 454.2,142.8 458.8,141.8 462.8,140.2 467.5,135.8 471.2,134.2 472.8,132.5 474.2,130.2 478.8,126.5 479.8,123.2 483.2,117.2 484.2,113.2 484.2,109.2 485.8,105.8 486.2,98.5 485.2,94.5 483.2,91.5 483.5,84.2 481.5,80.8 480.5,77.8 479.5,76.5 477.2,74.8 476.2,71.8 471.8,68.2 468.8,67.8 467.5,67.2 466.2,65.5 465.8,62.2 462.8,59.8 460.8,59.2 459.2,56.8 457.8,55.8 452.8,55.5 450.8,53.5 448.2,53.5ZM440.8,75.2 441.8,75.2 443.8,77.5 448.5,80.5 451.5,80.8 455.2,83.8 457.5,84.5 460.2,87.2 461.8,90.2 463.8,88.8 465.5,88.8 467.2,92.8 467.2,94.5 465.8,96.8 466.2,98.2 469.5,100.5 469.5,101.5 468.5,103.2 468.2,105.8 466.8,108.5 466.8,109.5 468.2,111.5 465.2,116.2 464.8,119.2 463.8,120.8 456.8,127.8 454.5,128.2 452.8,127.5 451.5,128.2 450.8,129.5 448.8,131.5 446.2,132.8 443.5,132.8 440.5,131.8 430.5,131.2 429.2,130.5 425.8,126.8 421.2,125.2 420.2,123.5 419.5,120.8 417.5,118.8 416.8,117.5 416.2,114.5 416.2,111.8 413.5,107.2 414.5,103.8 414.2,101.5 414.5,99.8 415.8,97.8 416.8,94.5 418.8,91.8 419.8,88.8 421.8,86.2 422.2,83.8 423.5,82.5 425.8,81.8 429.2,79.8 432.8,79.8 435.2,78.2 438.2,77.2Z" fill="#f4b820" fill-rule="evenodd"/>
<path d="M445.5,53.2 444.5,53.8 444.2,56.2 443.2,57.2 441.5,56.8 440.2,55.5 439.5,53.5 438.5,53.5 437.2,54.5 434.8,54.8 434.5,55.2 434.8,56.5 433.8,57.2 428.5,56.8 427.5,57.2 425.5,59.2 423.8,58.2 422.5,58.2 420.2,59.2 416.5,59.5 414.8,60.5 411.2,64.2 408.5,65.2 404.8,69.5 403.5,69.5 401.8,70.8 401.8,75.5 400.2,78.5 396.8,80.8 395.2,84.5 395.5,86.8 394.2,90.2 393.8,92.5 393.2,93.2 393.5,99.5 392.8,100.5 392.5,102.5 393.5,105.5 393.5,107.5 394.2,109.8 394.2,114.5 396.2,117.8 397.5,122.2 400.8,128.2 405.2,132.8 411.8,138.2 419.2,141.8 420.2,141.8 423.2,143.2 425.8,143.5 428.5,144.8 434.5,145.8 443.8,145.5 445.8,144.8 447.8,144.8 455.2,142.2 460.5,140.8 463.2,139.5 467.2,135.5 471.2,133.5 472.5,132.2 473.5,130.2 475.2,128.5 477.2,127.5 478.8,125.5 479.2,123.2 483.2,115.2 483.5,108.5 484.8,105.8 484.8,99.8 485.2,99.5 484.8,96.5 484.2,94.5 481.5,91.8 481.5,89.8 482.8,88.2 482.8,84.8 482.5,83.8 480.5,81.8 480.5,80.8 478.8,77.8 476.2,75.5 475.5,72.5 474.2,71.2 472.5,70.8 470.2,69.2 467.8,68.5 465.8,67.2 464.5,65.5 464.8,62.8 464.2,62.2 463.2,62.2 462.5,63.5 461.2,64.2 459.8,61.2 457.2,57.5 453.2,57.2 451.8,58.2 450.2,58.2 448.2,56.5 448.2,55.5ZM456.2,72.8 456.8,73.5 456.8,74.5 454.2,76.8 454.8,81.2 455.8,81.8 458.5,79.5 459.5,77.2 460.5,76.2 462.2,76.2 463.5,77.5 462.5,82.2 464.2,83.5 467.2,84.5 468.5,86.2 468.5,88.2 467.5,90.2 468.5,94.5 467.5,96.5 467.5,97.5 470.5,98.8 471.8,98.5 472.5,99.2 472.5,100.2 470.2,103.5 470.2,105.2 469.2,107.2 469.2,108.5 470.5,109.8 470.8,111.2 466.8,115.2 466.2,116.5 466.2,118.5 465.5,120.5 462.5,123.5 462.2,124.8 457.2,128.8 452.2,129.2 448.8,132.5 445.8,133.8 440.5,132.8 432.5,132.5 429.2,131.8 424.2,127.2 421.8,126.5 420.2,125.2 419.2,122.2 416.2,119.2 415.2,111.5 412.2,106.8 413.2,104.2 413.2,99.5 415.2,96.5 415.8,93.2 416.8,91.8 416.5,88.8 417.5,87.8 419.8,87.5 420.8,86.2 420.8,84.5 421.5,82.8 422.8,81.5 426.2,80.5 427.8,78.2 428.8,77.8 430.8,78.8 432.2,78.8 433.2,78.2 433.5,76.5 434.8,75.5 437.2,75.8 440.2,73.8 442.2,73.8 443.5,74.5 446.5,78.2 448.8,78.8 447.2,75.8 448.2,73.5 449.5,73.8 451.8,75.5 453.2,75.5 454.8,73.2Z" fill="#f1a820" fill-rule="evenodd"/>
<path d="M446.5,57.8 443.8,58.8 439.2,57.5 438.2,59.2 438.5,61.8 437.8,62.5 436.8,61.8 436.8,60.8 435.8,59.5 433.2,58.5 429.5,58.5 427.5,60.5 425.8,61.2 422.2,60.2 420.2,60.8 418.8,60.5 417.5,61.2 416.5,62.8 408.5,66.5 407.2,68.5 406.8,70.2 405.8,71.2 403.2,71.5 402.8,72.2 403.2,75.2 401.8,77.8 400.2,79.8 398.2,81.2 397.8,82.5 396.2,84.5 396.5,86.8 395.5,89.5 395.5,92.2 394.2,94.2 394.5,99.2 393.5,100.8 393.2,102.5 394.5,105.5 394.5,108.8 394.8,109.2 394.5,113.2 401.5,128.2 404.8,131.8 406.2,132.5 412.2,137.8 418.5,141.2 430.2,144.8 434.5,145.5 443.8,145.2 445.5,144.5 448.8,144.2 454.2,141.8 458.5,141.2 462.5,139.5 464.5,137.8 466.5,134.8 469.2,134.2 471.2,132.8 472.5,131.2 473.8,128.2 477.8,126.2 478.5,124.8 478.8,122.2 480.8,118.8 481.2,116.8 482.8,113.2 482.8,111.8 481.8,109.2 482.2,102.8 482.8,101.8 482.5,95.2 480.5,93.2 479.2,92.8 477.5,94.2 475.8,94.2 474.8,93.5 472.5,95.2 472.5,96.2 474.8,98.2 475.5,101.2 477.2,101.5 477.8,102.5 477.2,103.2 474.2,103.5 472.2,104.5 472.2,108.5 472.8,110.2 472.5,112.8 470.8,114.8 468.5,115.8 467.5,118.8 465.5,122.2 463.8,123.8 463.5,125.2 458.5,129.5 455.2,130.8 451.8,131.2 446.5,134.8 444.2,134.8 442.8,134.2 440.2,134.2 438.2,133.5 435.8,133.5 434.5,134.2 429.8,133.5 428.5,132.8 425.2,129.2 420.8,126.8 419.5,125.5 418.5,122.8 415.2,119.8 414.8,119.2 415.2,116.2 414.5,114.5 414.2,111.2 411.2,107.5 411.2,105.5 411.8,104.2 411.8,99.2 414.2,96.2 414.2,92.8 415.5,90.8 415.5,87.2 416.5,86.2 419.5,85.8 420.2,82.8 421.5,81.2 422.5,79.2 422.5,78.2 425.5,75.8 428.8,76.2 429.5,75.5 429.5,74.5 430.8,71.5 430.8,69.8 432.8,69.2 435.2,67.2 436.5,67.2 437.8,67.8 438.5,68.8 438.5,69.8 437.8,70.5 436.2,70.2 432.8,70.5 433.2,73.2 434.8,74.2 436.8,73.8 438.5,71.5 441.8,71.5 444.5,70.2 447.8,70.2 450.8,71.2 452.2,71.2 453.2,70.2 454.2,70.2 458.5,71.5 460.2,73.5 461.8,73.5 465.5,77.2 466.5,78.8 466.8,78.8 466.5,78.2 466.8,76.8 468.8,74.5 469.2,76.8 469.8,77.8 469.8,80.2 468.8,81.8 468.8,83.2 469.8,84.5 470.5,87.2 474.2,87.5 475.2,88.5 477.2,88.2 479.2,89.2 479.8,89.2 481.5,87.8 481.8,87.2 481.5,84.5 479.2,84.5 477.8,83.2 477.5,81.5 474.8,77.2 474.5,73.5 473.8,72.8 471.5,72.8 468.2,69.5 460.5,66.5 459.5,65.5 458.8,63.5 457.5,62.2 455.8,61.8 454.2,59.8 449.5,59.2ZM463.8,71.2 464.5,71.5 464.2,72.5 463.2,72.2ZM412.2,70.5 414.2,69.5 415.5,71.2 414.8,71.8 412.8,71.8ZM419.2,61.2 420.2,61.8 419.8,62.8 418.5,61.8Z" fill="#f09920" fill-rule="evenodd"/>
<path d="M479.5,105.2 476.2,105.5 475.5,106.2 474.2,109.2 474.2,111.2 475.2,112.8 480.2,110.5 478.8,107.5ZM479.2,97.8 477.8,98.8 478.5,99.5 479.5,99.5ZM411.8,67.2 412.8,66.8 411.8,66.8ZM439.2,65.8 439.5,66.5 440.2,66.5ZM450.8,66.2 449.8,65.2 448.2,66.2 445.5,66.8 445.5,67.5 446.5,68.2 450.2,67.8ZM431.5,59.8 430.8,60.5 430.8,61.5 429.8,62.5 427.8,63.2 423.8,63.5 421.2,65.5 418.8,64.5 417.5,64.5 415.2,66.5 415.2,67.8 416.5,69.2 417.8,69.8 419.5,69.8 420.5,70.8 420.8,72.2 419.5,74.2 412.5,73.8 409.8,72.2 406.8,72.8 405.8,73.8 405.5,76.2 403.5,77.8 402.5,80.2 401.5,81.2 399.5,81.5 397.5,85.5 397.5,87.2 396.5,89.5 396.8,92.8 395.2,95.2 395.8,98.5 394.2,101.2 394.2,103.2 395.5,105.8 395.2,113.5 397.5,117.2 397.8,118.8 400.8,124.5 401.8,127.5 405.2,131.2 406.8,132.2 412.5,137.5 418.8,140.8 430.2,144.5 434.8,145.2 443.2,144.8 445.8,143.8 449.5,143.5 453.5,141.2 457.5,140.8 459.5,139.8 460.5,139.8 463.5,138.2 465.5,134.5 471.5,131.5 472.8,126.8 476.2,126.5 477.5,125.5 477.8,121.5 478.8,119.8 478.8,117.8 476.8,117.5 474.8,114.5 473.2,115.2 471.8,116.8 471.5,119.2 470.2,120.2 467.8,120.5 465.5,123.8 465.2,125.2 466.5,126.8 465.8,127.5 462.8,127.5 461.5,128.2 460.2,130.5 460.5,131.8 459.8,132.5 458.5,132.2 457.5,131.2 454.8,132.5 451.5,132.5 446.8,135.8 443.5,135.5 439.2,135.8 437.2,134.8 433.2,135.8 428.2,133.8 424.8,130.2 420.8,128.2 418.5,125.8 417.8,123.5 413.5,120.2 413.5,118.2 414.2,116.2 413.2,113.8 413.2,111.8 411.2,109.2 410.2,106.8 410.8,103.5 410.8,98.5 412.8,95.8 412.5,91.8 413.8,90.2 413.8,88.8 413.2,87.8 413.2,81.8 414.5,80.8 418.5,81.2 420.8,77.5 425.2,73.2 427.8,73.5 428.8,72.5 428.8,71.2 426.5,68.8 426.5,67.2 427.5,66.2 428.5,66.2 430.8,67.5 432.5,67.2 432.8,65.5 431.8,63.8 431.8,62.5 433.5,61.5 433.8,60.5 433.2,59.8ZM410.2,76.8 411.8,78.2 412.2,80.2 411.5,81.2 410.5,81.2 409.2,79.8 409.2,77.8ZM446.2,60.5 446.5,61.5 449.8,62.8 451.8,61.5 450.8,60.5 447.5,59.5 446.5,59.8Z" fill="#f08c20" fill-rule="evenodd"/>
<path d="M462.5,136.8 461.5,136.8 460.5,137.8 461.5,137.8ZM469.8,130.8 468.5,130.8 466.8,129.8 464.2,130.5 463.5,131.8 464.2,132.2 468.8,131.8ZM468.5,122.5 468.5,123.2 470.2,122.8 469.8,122.2ZM401.2,84.5 400.5,86.8 398.2,88.8 397.8,89.8 399.2,93.5 399.2,95.2 397.8,96.8 397.2,98.8 394.8,101.8 394.8,102.8 397.2,106.5 397.2,109.2 396.2,110.8 395.8,112.8 400.8,121.8 402.2,126.8 405.8,130.5 406.8,130.8 410.2,134.2 411.5,136.2 415.2,137.8 418.5,140.2 421.2,140.5 429.5,143.8 434.2,144.2 435.5,144.8 442.8,144.2 444.8,143.2 445.2,141.8 446.2,141.8 446.5,142.8 449.5,142.8 451.5,141.5 451.8,139.2 452.8,138.2 455.5,140.2 458.2,139.2 457.2,138.5 456.5,136.5 454.5,135.8 453.2,134.5 452.8,133.5 450.8,133.8 449.8,134.8 449.8,136.5 448.8,137.5 444.8,137.2 443.2,136.5 442.2,136.5 440.8,137.8 437.5,136.5 433.5,137.5 431.5,136.2 428.5,135.2 425.2,131.8 421.5,130.5 418.5,127.5 416.2,123.2 414.2,122.2 413.2,122.2 411.5,120.8 411.5,119.5 412.2,118.5 412.2,116.2 410.8,114.5 411.2,111.2 409.5,107.5 409.8,100.8 409.2,99.5 409.2,98.2 411.5,95.5 411.5,93.8 409.5,89.8 409.8,88.2 409.5,84.8 408.5,84.5 408.2,86.5 407.2,87.5 405.8,87.8 404.5,86.8 402.8,83.5ZM401.8,88.8 403.5,88.5 404.2,89.8 403.2,90.8 402.2,90.8ZM406.5,80.8 405.8,82.2 406.8,83.2 408.2,83.5 407.8,81.2ZM414.8,76.2 414.5,77.2 415.5,78.2 416.8,78.2 417.8,77.2 416.5,75.5ZM423.8,67.2 421.8,68.5 421.8,70.5 422.8,72.2 424.8,70.2Z" fill="#f07f25" fill-rule="evenodd"/>
<path d="M423.2,140.5 428.8,142.8 434.2,143.2 436.5,144.2 439.2,143.5 441.8,143.5 442.2,143.2 441.8,140.5 443.8,139.8 446.8,139.5 448.8,142.2 450.2,141.5 450.2,139.5 446.5,139.2 445.5,138.5 443.5,138.5 442.2,140.2 438.2,138.2 436.8,138.2 434.2,139.5 432.8,139.5 431.2,137.2 428.8,136.5 425.8,134.8 425.2,134.8 424.5,136.8 424.5,139.2ZM406.8,90.8 404.5,92.8 403.8,94.5 401.8,95.8 400.5,97.5 400.8,98.5 403.5,98.2 404.5,98.8 404.2,101.5 402.8,102.8 400.2,103.2 399.5,102.5 399.2,100.2 398.5,99.5 397.2,102.2 397.2,103.5 398.5,105.5 398.5,110.5 397.5,111.8 397.5,112.8 399.2,114.5 399.2,116.8 399.8,118.5 402.2,120.8 402.2,124.5 402.8,126.5 407.2,128.8 411.5,133.8 412.2,135.2 414.8,136.2 419.2,139.5 421.8,139.8 421.8,135.5 420.8,134.2 417.8,132.5 417.2,131.2 417.2,126.8 416.2,124.5 415.2,123.8 412.2,124.2 409.8,122.2 409.2,120.2 409.2,117.5 407.5,115.5 407.5,113.8 409.5,111.8 409.8,110.8 407.8,107.5 407.2,104.8 407.5,101.8 406.5,100.5 404.5,99.2 404.8,97.5 408.8,94.2 408.8,92.5ZM400.2,110.2 402.5,109.8 403.2,110.5 403.2,112.2 401.8,113.5 400.8,113.5 399.8,112.5 399.5,110.8ZM404.8,107.5 406.2,107.5 406.8,108.2 406.8,108.8 405.8,109.8 405.2,109.8 404.2,108.8Z" fill="#f07129" fill-rule="evenodd"/>
<path d="M436.5,140.2 437.5,141.2 438.5,141.2 439.2,140.5 438.2,139.5ZM426.2,137.5 426.8,139.5 427.8,140.5 429.2,140.5 430.5,139.5 430.5,138.5 429.8,137.8 427.8,137.2ZM403.2,122.8 403.2,124.2 403.8,125.5 405.5,126.5 405.8,126.2 409.2,126.5 410.8,128.2 411.5,129.8 412.5,130.8 414.8,132.2 415.5,131.5 414.8,126.2 411.5,125.8 408.8,123.5 405.8,123.8 404.5,122.8ZM400.5,117.2 400.8,117.8 401.8,117.8 402.8,117.2 403.2,115.8 400.8,115.8Z" fill="#f0642c" fill-rule="evenodd"/>
<path d="M412.5,134.8 413.2,135.8 413.8,135.8 413.5,134.8ZM403.5,134.5 405.2,136.5 407.8,138.5 417.5,143.2 428.5,146.2 434.2,146.8 436.2,146.5 435.2,145.2 423.2,143.8 418.8,141.2 416.8,140.5 415.5,138.5 409.2,134.8ZM399.5,121.2 404.5,124.5 404.5,123.8 403.5,122.8 400.5,121.2ZM395.8,118.2 396.5,119.2 396.2,121.5 396.5,120.8 398.8,120.2 398.5,119.5ZM489.8,114.5 488.5,115.2 486.2,118.2 487.5,119.5 488.8,117.5ZM495.5,76.8 495.8,82.5 495.2,85.2 493.2,86.2 491.8,90.2 490.5,91.5 488.8,95.2 486.5,97.8 487.2,104.8 488.5,107.2 489.2,106.8 489.8,107.2 490.2,108.5 491.5,107.5 491.8,107.8 491.8,110.5 494.2,105.5 495.8,98.5 496.5,93.2 496.5,83.8ZM433.8,30.8 429.8,31.8 429.2,33.2 426.5,35.5 425.8,36.8 431.8,40.8 435.8,42.2 436.5,42.8 436.5,47.8 435.8,49.8 435.8,53.5 434.2,56.8 434.5,62.8 433.5,66.8 434.5,70.5 438.5,73.8 439.5,73.2 437.8,71.2 437.8,69.2 439.5,66.8 438.8,65.2 441.2,62.5 440.8,61.2 442.8,60.2 443.5,58.5 446.8,58.2 448.2,56.5 449.5,55.8 450.8,55.8 453.5,53.5 455.2,52.8 456.8,50.8 458.2,50.5 463.5,50.8 465.8,48.5 466.8,46.5 469.8,46.2 470.2,44.5 466.5,41.8 457.2,36.5 454.5,34.2 444.2,31.2Z" fill="#005030" fill-opacity="0.28" stroke="#202020" stroke-opacity="0.2" stroke-width="0.5" fill-rule="evenodd"/>
<path d="M443.2,82.2 442.2,82.2 438.8,84.5 438.2,87.8 436.5,90.5 434.8,92.2 432.2,92.2 429.5,93.8 429.2,95.8 425.5,98.5 424.2,101.2 424.2,104.8 425.5,106.2 427.8,112.8 427.8,115.2 426.8,115.8 422.8,116.5 423.2,120.2 426.5,125.2 427.8,126.5 430.5,127.8 436.8,128.8 441.5,128.8 446.8,127.2 449.5,125.2 450.5,122.5 453.2,122.2 456.2,120.2 458.2,117.2 457.8,114.8 458.2,106.8 456.8,100.5 454.5,98.2 452.8,97.5 443.8,98.2 440.2,94.8 439.8,92.5 440.8,88.2 440.5,85.5Z" fill="#404838" fill-opacity="0.12" stroke="#202020" stroke-opacity="0.2" stroke-width="0.5" fill-rule="evenodd"/>
<path d="M438.2,108.5 L438.3,108.1 L438.4,107.7 L438.5,107.2 L438.6,106.8 L438.7,106.4 L438.8,105.9 L438.8,105.5 L438.9,105.1 L439.0,104.6 L439.1,104.2 L439.2,103.8 L439.3,103.3 L439.4,102.9 L439.5,102.5 L439.6,102.0 L439.7,101.6 L439.8,101.1 L439.8,100.7 L439.9,100.3 L440.0,99.8 L440.1,99.4 L440.2,98.9 L440.3,98.5 L440.4,98.0 L440.5,97.6 L440.6,97.1 L440.7,96.7 L440.8,96.2 L440.8,95.8 L440.9,95.3 L441.0,94.9 L441.1,94.4 L441.2,94.0 L441.3,93.5 L441.4,93.1 L441.5,92.6 L441.5,92.2 L441.6,91.7 L441.7,91.3 L441.8,90.8 L441.9,90.4 L442.0,89.9 L442.1,89.5 L442.2,89.0 L442.2,88.6 L442.3,88.1 L442.4,87.7 L442.5,87.2 L442.6,86.8 L442.7,86.3 L442.8,85.9 L442.8,85.4 L442.9,85.0 L443.0,84.5 L443.1,84.1 L443.2,83.6 L443.3,83.2 L443.3,82.7 L443.4,82.3 L443.5,81.8 L443.6,81.4 L443.7,80.9 L443.8,80.5 L443.8,80.0 L443.9,79.6 L444.0,79.1 L444.1,78.7 L444.2,78.2 L444.2,77.8 L444.3,77.3 L444.4,76.9 L444.5,76.4 L444.5,76.0 L444.6,75.6 L444.7,75.1 L444.8,74.7 L444.8,74.2 L444.9,73.8 L445.0,73.4 L445.1,72.9 L445.1,72.5 L445.2,72.1 L445.3,71.6 L445.4,71.2 L445.4,70.8 L445.5,70.3 L445.6,69.9 L445.6,69.5 L445.7,69.1 L445.8,68.6 L445.9,68.2 L445.9,67.8 L446.0,67.4 L446.1,66.9 L446.1,66.5 L446.2,66.1 L446.3,65.7 L446.3,65.3 L446.4,64.9 L446.5,64.5 L446.5,64.0 L446.6,63.6 L446.7,63.2 L446.7,62.8 L446.8,62.4 L446.8,62.0 L446.9,61.6 L447.0,61.2 L447.0,60.8 L447.1,60.4 L447.1,60.0 L447.2,59.6 L447.3,59.2 L447.3,58.9 L447.4,58.5 L447.4,58.1 L447.5,57.7 L447.5,57.3 L447.6,56.9 L447.7,56.6 L447.7,56.2 L447.8,55.8 L447.8,55.4 L447.9,55.1 L447.9,54.7 L448.0,54.3 L448.0,54.0 L448.1,53.6 L448.1,53.3 L448.2,52.9 L448.2,52.6 L448.3,52.2 L448.3,51.9 L448.3,51.5 L448.4,51.2 L448.4,50.8 L448.5,50.5 L448.5,50.1 L448.6,49.8 L448.6,49.5 L448.6,49.1 L448.7,48.8 L448.7,48.5 L448.8,48.2 L448.8,47.8 L448.8,47.5 L448.9,47.2 L448.9,46.9 L449.0,46.6 L449.0,46.3 L449.0,46.0 L449.1,45.7 L449.1,45.4 L449.1,45.1 L449.2,44.8 L449.2,44.5 L449.2,44.2 L449.2,43.9 L449.3,43.6 L449.3,43.3 L449.3,43.1 L449.4,42.8 L449.4,42.5 L449.4,42.2 L449.4,42.0 L449.5,41.7 L449.5,41.4 L449.5,41.2 L449.5,40.9 L449.5,40.7 L449.6,40.4 L449.6,40.2 L449.6,39.9 L449.6,39.7 L449.6,39.5 L449.7,39.2 L449.7,39.0 L449.7,38.8 L449.7,38.5 L449.7,38.3 L449.7,38.1 L449.8,37.9 L449.8,37.7 L449.8,37.5 L449.8,37.3 L449.8,37.1 L449.8,36.9 L449.8,36.7 L449.8,36.5 L449.8,36.3 L449.8,36.1 L449.8,35.9 L449.8,35.7 L449.9,35.5 L449.9,35.4 L449.9,35.2 L449.9,35.0 L449.9,34.9 L449.9,34.7 L449.9,34.6 L449.9,34.4 L449.9,34.2 L449.9,34.1 L449.9,34.0 L449.9,33.8 L449.8,33.7 L449.8,33.5 L449.8,33.4 L449.8,33.3 L449.8,33.2 L449.8,33.0 L449.8,32.9 L449.8,32.8 L449.8,32.7 L449.8,32.6 L449.8,32.5 L449.8,32.4 L449.7,32.3 L449.7,32.2 L449.7,32.1 L449.7,32.0 L449.7,31.9 L449.7,31.9 L449.6,31.8 L449.6,31.7 L449.6,31.7 L449.6,31.6 L449.6,31.5 L449.5,31.5 L449.5,31.4 L449.5,31.4 L449.5,31.3 L449.5,31.3 L449.4,31.2 L449.4,31.2 L449.4,31.2 L449.4,31.1 L449.3,31.1 L449.3,31.1 L449.3,31.1 L449.2,31.1 L449.2,31.0 L449.2,31.0 M438.2,108.5 L438.6,108.4 L439.1,108.2 L439.5,108.1 L439.9,107.9 L440.4,107.8 L440.8,107.7 L441.3,107.5 L441.7,107.4 L442.1,107.2 L442.6,107.1 L443.0,106.9 L443.4,106.8 L443.9,106.6 L444.3,106.5 L444.7,106.3 L445.2,106.2 L445.6,106.0 L446.0,105.8 L446.5,105.7 L446.9,105.5 L447.3,105.4 L447.8,105.2 L448.2,105.0 L448.6,104.9 L449.0,104.7 L449.5,104.5 L449.9,104.4 L450.3,104.2 L450.8,104.0 L451.2,103.9 L451.6,103.7 L452.0,103.5 L452.5,103.4 L452.9,103.2 L453.3,103.0 L453.7,102.8 L454.1,102.7 L454.6,102.5 L455.0,102.3 L455.4,102.1 L455.8,101.9 L456.2,101.8 L456.6,101.6 L457.0,101.4 L457.4,101.2 L457.9,101.0 L458.3,100.8 L458.7,100.7 L459.1,100.5 L459.5,100.3 L459.9,100.1 L460.3,99.9 L460.7,99.7 L461.1,99.5 L461.5,99.3 L461.9,99.2 L462.3,99.0 L462.7,98.8 L463.1,98.6 L463.4,98.4 L463.8,98.2 L464.2,98.0 L464.6,97.8 L465.0,97.6 L465.4,97.4 L465.7,97.2 L466.1,97.0 L466.5,96.8 L466.9,96.6 L467.3,96.4 L467.6,96.2 L468.0,96.0 L468.4,95.8 L468.7,95.6 L469.1,95.4 L469.5,95.2 L469.8,95.0 L470.2,94.8 L470.5,94.6 L470.9,94.4 L471.2,94.2 L471.6,94.0 L471.9,93.8 L472.3,93.6 L472.6,93.4 L473.0,93.2 L473.3,93.0 L473.6,92.8 L474.0,92.5 L474.3,92.3 L474.6,92.1 L475.0,91.9 L475.3,91.7 L475.6,91.5 L475.9,91.3 L476.3,91.1 L476.6,90.9 L476.9,90.7 L477.2,90.5 L477.5,90.3 L477.8,90.1 L478.1,89.8 L478.4,89.6 L478.7,89.4 L479.0,89.2 L479.3,89.0 L479.6,88.8 L479.9,88.6 L480.2,88.4 L480.5,88.2 L480.7,88.0 L481.0,87.8 L481.3,87.5 L481.6,87.3 L481.8,87.1 L482.1,86.9 L482.4,86.7 L482.6,86.5 L482.9,86.3 L483.2,86.1 L483.4,85.9 L483.7,85.7 L483.9,85.5 L484.2,85.3 L484.4,85.0 L484.6,84.8 L484.9,84.6 L485.1,84.4 L485.3,84.2 L485.6,84.0 L485.8,83.8 L486.0,83.6 L486.2,83.4 L486.5,83.2 L486.7,83.0 L486.9,82.8 L487.1,82.6 L487.3,82.4 L487.5,82.2 L487.7,82.0 L487.9,81.8 L488.1,81.6 L488.3,81.4 L488.5,81.2 L488.6,81.0 L488.8,80.8 L489.0,80.6 L489.2,80.4 L489.3,80.2 L489.5,80.0 L489.7,79.8 L489.8,79.6 L490.0,79.4 L490.2,79.2 L490.3,79.0 L490.5,78.8 L490.6,78.6 L490.7,78.4 L490.9,78.2 L491.0,78.0 L491.1,77.8 L491.3,77.6 L491.4,77.4 L491.5,77.3 L491.6,77.1 L491.8,76.9 L491.9,76.7 L492.0,76.5 L492.1,76.3 L492.2,76.1 L492.3,75.9 L492.4,75.8 L492.5,75.6 L492.6,75.4 L492.6,75.2 L492.7,75.0 L492.8,74.9 L492.9,74.7 L493.0,74.5 L493.0,74.3 L493.1,74.1 L493.2,74.0 L493.2,73.8 L493.3,73.6 L493.3,73.5 L493.4,73.3 L493.4,73.1 L493.4,72.9 L493.5,72.8 L493.5,72.6 L493.6,72.4 L493.6,72.3 L493.6,72.1 L493.6,71.9 L493.6,71.8 L493.7,71.6 L493.7,71.5 L493.7,71.3 L493.7,71.1 L493.7,71.0 L493.7,70.8 L493.7,70.7 L493.7,70.5 L493.6,70.4 L493.6,70.2 L493.6,70.1 L493.6,69.9 L493.6,69.8 L493.5,69.6 L493.5,69.5 L493.4,69.3 L493.4,69.2 L493.4,69.0 L493.3,68.9 M438.2,108.5 L438.5,108.8 L438.9,109.1 L439.2,109.4 L439.6,109.6 L439.9,109.9 L440.3,110.2 L440.6,110.5 L441.0,110.8 L441.3,111.0 L441.6,111.3 L442.0,111.6 L442.3,111.9 L442.7,112.1 L443.0,112.4 L443.4,112.7 L443.7,112.9 L444.0,113.2 L444.4,113.5 L444.7,113.7 L445.1,114.0 L445.4,114.2 L445.8,114.5 L446.1,114.7 L446.4,115.0 L446.8,115.2 L447.1,115.5 L447.4,115.7 L447.8,116.0 L448.1,116.2 L448.5,116.5 L448.8,116.7 L449.1,117.0 L449.5,117.2 L449.8,117.4 L450.1,117.7 L450.5,117.9 L450.8,118.1 L451.1,118.4 L451.4,118.6 L451.8,118.8 L452.1,119.0 L452.4,119.3 L452.8,119.5 L453.1,119.7 L453.4,119.9 L453.7,120.1 L454.0,120.3 L454.4,120.5 L454.7,120.7 L455.0,121.0 L455.3,121.2 L455.6,121.4 L456.0,121.6 L456.3,121.8 L456.6,121.9 L456.9,122.1 L457.2,122.3 L457.5,122.5 L457.8,122.7 L458.1,122.9 L458.4,123.1 L458.7,123.3 L459.1,123.4 L459.4,123.6 L459.7,123.8 L460.0,124.0 L460.3,124.1 L460.6,124.3 L460.8,124.5 L461.1,124.6 L461.4,124.8 L461.7,124.9 L462.0,125.1 L462.3,125.2 L462.6,125.4 L462.9,125.6 L463.2,125.7 L463.4,125.8 L463.7,126.0 L464.0,126.1 L464.3,126.3 L464.6,126.4 L464.8,126.5 L465.1,126.7 L465.4,126.8 L465.7,126.9 L465.9,127.0 L466.2,127.2 L466.5,127.3 L466.7,127.4 L467.0,127.5 L467.2,127.6 L467.5,127.7 L467.7,127.8 L468.0,127.9 L468.3,128.0 L468.5,128.1 L468.8,128.2 L469.0,128.3 L469.2,128.4 L469.5,128.5 L469.7,128.6 L470.0,128.7 L470.2,128.8 L470.4,128.9 L470.7,128.9 L470.9,129.0 L471.1,129.1 L471.4,129.1 L471.6,129.2 L471.8,129.3 L472.0,129.3 L472.2,129.4 L472.5,129.5 L472.7,129.5 L472.9,129.6 L473.1,129.6 L473.3,129.7 L473.5,129.7 L473.7,129.7 L473.9,129.8 L474.1,129.8 L474.3,129.9 L474.5,129.9 L474.7,129.9 L474.9,129.9 L475.1,130.0 L475.3,130.0 L475.4,130.0 L475.6,130.0 L475.8,130.0 L476.0,130.0 L476.1,130.0 L476.3,130.1 L476.5,130.1 L476.7,130.1 L476.8,130.1 L477.0,130.1 L477.1,130.0 L477.3,130.0 L477.4,130.0 L477.6,130.0 L477.7,130.0 L477.9,130.0 L478.0,129.9 L478.2,129.9 L478.3,129.9 L478.5,129.9 L478.6,129.8 L478.7,129.8 L478.9,129.8 L479.0,129.7 L479.1,129.7 L479.2,129.6 L479.4,129.6 L479.5,129.5 L479.6,129.5 L479.7,129.4 L479.8,129.4 L479.9,129.3 L480.0,129.2 L480.1,129.2 L480.2,129.1 L480.3,129.0 L480.4,129.0 L480.5,128.9 L480.6,128.8 L480.7,128.7 L480.8,128.6 M438.2,108.5 L438.1,108.9 L438.0,109.4 L437.9,109.8 L437.8,110.2 L437.7,110.6 L437.6,111.0 L437.6,111.4 L437.5,111.9 L437.4,112.3 L437.3,112.7 L437.2,113.1 L437.1,113.5 L437.0,113.9 L436.9,114.3 L436.8,114.7 L436.7,115.1 L436.6,115.5 L436.6,115.9 L436.5,116.3 L436.4,116.7 L436.3,117.1 L436.2,117.5 L436.1,117.9 L436.0,118.3 L435.9,118.7 L435.8,119.0 L435.7,119.4 L435.6,119.8 L435.6,120.2 L435.5,120.6 L435.4,120.9 L435.3,121.3 L435.2,121.7 L435.1,122.0 L435.0,122.4 L434.9,122.8 L434.9,123.1 L434.8,123.5 L434.7,123.9 L434.6,124.2 L434.5,124.6 L434.4,124.9 L434.3,125.3 L434.2,125.6 L434.2,126.0 L434.1,126.3 L434.0,126.6 L433.9,127.0 L433.8,127.3 L433.7,127.6 L433.6,128.0 L433.6,128.3 L433.5,128.6 L433.4,128.9 L433.3,129.3 L433.2,129.6 L433.1,129.9 L433.1,130.2 L433.0,130.5 L432.9,130.8 L432.8,131.1 L432.7,131.4 L432.6,131.7 L432.6,132.0 L432.5,132.3 L432.4,132.6 L432.3,132.9 L432.2,133.2 L432.2,133.5 L432.1,133.8 L432.0,134.0 L431.9,134.3 L431.9,134.6 L431.8,134.8 L431.7,135.1 L431.6,135.4 L431.6,135.6 L431.5,135.9 L431.4,136.1 L431.3,136.4 L431.3,136.6 L431.2,136.9 L431.1,137.1 L431.0,137.4 L431.0,137.6 L430.9,137.8 L430.8,138.1 L430.8,138.3 L430.7,138.5 L430.6,138.7 L430.5,139.0 L430.5,139.2 L430.4,139.4 L430.3,139.6 L430.3,139.8 L430.2,140.0 L430.1,140.2 L430.1,140.4 L430.0,140.6 L429.9,140.8 L429.9,141.0 L429.8,141.2 L429.7,141.3 L429.7,141.5 L429.6,141.7 L429.6,141.9 L429.5,142.0 L429.4,142.2 L429.4,142.3 L429.3,142.5 L429.3,142.7 L429.2,142.8 L429.1,142.9 L429.1,143.1 L429.0,143.2 L429.0,143.4 L428.9,143.5 L428.9,143.6 L428.8,143.8 L428.7,143.9 L428.7,144.0 L428.6,144.1 L428.6,144.2 L428.5,144.3 L428.5,144.4 L428.4,144.5 L428.4,144.6 L428.3,144.7 L428.3,144.8 L428.2,144.9 L428.2,145.0 L428.1,145.1 L428.1,145.2 L428.1,145.2 L428.0,145.3 L428.0,145.4 L427.9,145.4 L427.9,145.5 L427.8,145.5 L427.8,145.6 L427.8,145.6 L427.7,145.7 L427.7,145.7 L427.6,145.8 L427.6,145.8 L427.6,145.8 L427.5,145.9 L427.5,145.9 L427.4,145.9 L427.4,145.9 L427.4,145.9 L427.3,146.0 L427.3,146.0 L427.3,146.0 L427.2,146.0 M438.2,108.5 L437.8,108.6 L437.3,108.8 L436.9,108.9 L436.5,109.0 L436.0,109.2 L435.6,109.3 L435.1,109.4 L434.7,109.6 L434.3,109.7 L433.8,109.8 L433.4,109.9 L433.0,110.1 L432.5,110.2 L432.1,110.3 L431.7,110.4 L431.2,110.5 L430.8,110.7 L430.4,110.8 L429.9,110.9 L429.5,111.0 L429.1,111.1 L428.6,111.2 L428.2,111.3 L427.8,111.4 L427.4,111.5 L426.9,111.6 L426.5,111.7 L426.1,111.8 L425.6,111.9 L425.2,112.0 L424.8,112.1 L424.4,112.2 L423.9,112.3 L423.5,112.4 L423.1,112.5 L422.7,112.6 L422.3,112.7 L421.8,112.8 L421.4,112.8 L421.0,112.9 L420.6,113.0 L420.2,113.1 L419.8,113.2 L419.4,113.2 L419.0,113.3 L418.5,113.4 L418.1,113.5 L417.7,113.5 L417.3,113.6 L416.9,113.7 L416.5,113.7 L416.1,113.8 L415.7,113.9 L415.3,113.9 L414.9,114.0 L414.5,114.0 L414.1,114.1 L413.7,114.1 L413.3,114.2 L413.0,114.3 L412.6,114.3 L412.2,114.4 L411.8,114.4 L411.4,114.4 L411.0,114.5 L410.7,114.5 L410.3,114.6 L409.9,114.6 L409.5,114.6 L409.1,114.7 L408.8,114.7 L408.4,114.7 L408.0,114.8 L407.7,114.8 L407.3,114.8 L406.9,114.9 L406.6,114.9 L406.2,114.9 L405.9,114.9 L405.5,114.9 L405.2,115.0 L404.8,115.0 L404.5,115.0 L404.1,115.0 L403.8,115.0 L403.4,115.0 L403.1,115.0 L402.8,115.0 L402.4,115.0 L402.1,115.0 L401.8,115.0 L401.4,115.0 L401.1,115.0 L400.8,115.0 L400.5,115.0 L400.1,115.0 L399.8,115.0 L399.5,115.0 L399.2,115.0 L398.9,115.0 L398.6,115.0 L398.3,114.9 L398.0,114.9 L397.7,114.9 L397.4,114.9 L397.1,114.9 L396.8,114.8 L396.5,114.8 L396.2,114.8 L395.9,114.7 L395.7,114.7 L395.4,114.7 L395.1,114.6 L394.8,114.6 L394.6,114.6 L394.3,114.5 L394.0,114.5 L393.8,114.4 L393.5,114.4 L393.2,114.4 L393.0,114.3 L392.7,114.3 L392.5,114.2 L392.2,114.2 L392.0,114.1 L391.8,114.0 L391.5,114.0 L391.3,113.9 L391.1,113.9 L390.8,113.8 L390.6,113.7 L390.4,113.7 L390.2,113.6 L389.9,113.5 L389.7,113.5 L389.5,113.4 L389.3,113.3 L389.1,113.3 L388.9,113.2 L388.7,113.1 L388.5,113.0 L388.3,112.9 L388.1,112.9 L387.9,112.8 L387.8,112.7 L387.6,112.6 L387.4,112.5 L387.2,112.4 L387.1,112.3 L386.9,112.2 L386.7,112.1 L386.6,112.0 L386.4,111.9 L386.2,111.9 L386.1,111.8 L385.9,111.6 L385.8,111.5 L385.7,111.4 L385.5,111.3 L385.4,111.2 L385.3,111.1 L385.1,111.0 L385.0,110.9 L384.9,110.8 L384.8,110.7 L384.6,110.6 L384.5,110.4 L384.4,110.3 L384.3,110.2 L384.2,110.1 L384.1,110.0 L384.0,109.8 L383.9,109.7 L383.8,109.6 L383.8,109.5 L383.7,109.3 L383.6,109.2 L383.5,109.1 L383.4,108.9 L383.4,108.8 L383.3,108.7 L383.2,108.5 L383.2,108.4 L383.1,108.2 M438.2,108.5 L437.9,108.2 L437.5,107.9 L437.2,107.6 L436.8,107.4 L436.5,107.1 L436.1,106.8 L435.8,106.5 L435.4,106.2 L435.1,105.9 L434.8,105.6 L434.4,105.3 L434.1,105.0 L433.7,104.7 L433.4,104.4 L433.0,104.1 L432.7,103.8 L432.4,103.5 L432.0,103.2 L431.7,102.9 L431.3,102.5 L431.0,102.2 L430.6,101.9 L430.3,101.6 L430.0,101.3 L429.6,101.0 L429.3,100.7 L429.0,100.4 L428.6,100.1 L428.3,99.7 L427.9,99.4 L427.6,99.1 L427.3,98.8 L426.9,98.5 L426.6,98.2 L426.3,97.8 L425.9,97.5 L425.6,97.2 L425.3,96.9 L425.0,96.6 L424.6,96.2 L424.3,95.9 L424.0,95.6 L423.6,95.3 L423.3,95.0 L423.0,94.6 L422.7,94.3 L422.4,94.0 L422.0,93.7 L421.7,93.3 L421.4,93.0 L421.1,92.7 L420.8,92.4 L420.4,92.0 L420.1,91.7 L419.8,91.4 L419.5,91.0 L419.2,90.7 L418.9,90.4 L418.6,90.1 L418.3,89.7 L418.0,89.4 L417.7,89.1 L417.3,88.8 L417.0,88.4 L416.7,88.1 L416.4,87.8 L416.1,87.5 L415.8,87.1 L415.6,86.8 L415.3,86.5 L415.0,86.1 L414.7,85.8 L414.4,85.5 L414.1,85.2 L413.8,84.8 L413.5,84.5 L413.2,84.2 L413.0,83.9 L412.7,83.5 L412.4,83.2 L412.1,82.9 L411.8,82.6 L411.6,82.2 L411.3,81.9 L411.0,81.6 L410.7,81.3 L410.5,80.9 L410.2,80.6 L409.9,80.3 L409.7,80.0 L409.4,79.7 L409.2,79.3 L408.9,79.0 L408.7,78.7 L408.4,78.4 L408.1,78.1 L407.9,77.8 L407.6,77.4 L407.4,77.1 L407.2,76.8 L406.9,76.5 L406.7,76.2 L406.4,75.9 L406.2,75.6 L406.0,75.3 L405.7,74.9 L405.5,74.6 L405.3,74.3 L405.0,74.0 L404.8,73.7 L404.6,73.4 L404.4,73.1 L404.2,72.8 L403.9,72.5 L403.7,72.2 L403.5,71.9 L403.3,71.6 L403.1,71.3 L402.9,71.0 L402.7,70.7 L402.5,70.4 L402.3,70.1 L402.1,69.8 L401.9,69.5 L401.7,69.2 L401.5,68.9 L401.3,68.7 L401.1,68.4 L401.0,68.1 L400.8,67.8 L400.6,67.5 L400.4,67.2 L400.3,67.0 L400.1,66.7 L399.9,66.4 L399.7,66.1 L399.6,65.9 L399.4,65.6 L399.3,65.3 L399.1,65.0 L399.0,64.8 L398.8,64.5 L398.7,64.2 L398.5,64.0 L398.4,63.7 L398.2,63.4 L398.1,63.2 L397.9,62.9 L397.8,62.7 L397.7,62.4 L397.5,62.2 L397.4,61.9 L397.3,61.7 L397.2,61.4 L397.0,61.2 L396.9,60.9 L396.8,60.7 L396.7,60.4 L396.6,60.2 L396.5,59.9 L396.4,59.7 L396.3,59.5 L396.2,59.2 L396.1,59.0 L396.0,58.8 L395.9,58.6 L395.8,58.3 L395.7,58.1 L395.6,57.9 L395.6,57.7 L395.5,57.4 L395.4,57.2 L395.3,57.0 L395.3,56.8 L395.2,56.6 L395.1,56.4 L395.1,56.2 L395.0,56.0 L395.0,55.8 L394.9,55.6 L394.9,55.4 L394.8,55.2 L394.8,55.0 L394.7,54.8 L394.7,54.6 L394.6,54.4 L394.6,54.2 L394.6,54.0 L394.5,53.9 L394.5,53.7 L394.5,53.5 L394.5,53.3 L394.4,53.1 L394.4,53.0 L394.4,52.8 L394.4,52.6 L394.4,52.5 L394.4,52.3 L394.4,52.2 L394.4,52.0 L394.4,51.8 L394.4,51.7 L394.4,51.5 L394.4,51.4 L394.4,51.2 L394.4,51.1 L394.5,51.0 L394.5,50.8 L394.5,50.7 L394.5,50.5 L394.6,50.4 L394.6,50.3 L394.6,50.2 L394.7,50.0 L394.7,49.9 L394.8,49.8 L394.8,49.7 L394.9,49.6 L394.9,49.4 L395.0,49.3 L395.0,49.2 L395.1,49.1 L395.1,49.0 L395.2,48.9 L395.3,48.8 L395.3,48.7 L395.4,48.6 L395.5,48.5 L395.6,48.4 M438.2,133.3 L437.9,133.3 L437.7,133.3 L437.4,133.3 L437.2,133.3 L436.9,133.3 L436.7,133.3 L436.4,133.3 L436.2,133.2 L435.9,133.2 L435.7,133.2 L435.4,133.2 L435.1,133.2 L434.9,133.1 L434.6,133.1 L434.4,133.1 L434.1,133.0 L433.9,133.0 L433.6,133.0 L433.4,132.9 L433.1,132.9 L432.9,132.9 L432.6,132.8 L432.4,132.8 L432.1,132.7 L431.9,132.7 L431.6,132.6 L431.4,132.6 L431.1,132.5 L430.9,132.4 L430.6,132.4 L430.4,132.3 L430.1,132.2 L429.9,132.2 L429.6,132.1 L429.4,132.0 L429.2,132.0 L428.9,131.9 L428.7,131.8 L428.4,131.7 L428.2,131.7 L428.0,131.6 L427.7,131.5 L427.5,131.4 L427.2,131.3 L427.0,131.2 L426.8,131.1 L426.5,131.0 L426.3,130.9 L426.1,130.8 L425.8,130.7 L425.6,130.6 L425.4,130.5 L425.1,130.4 L424.9,130.3 L424.7,130.2 L424.5,130.1 L424.2,130.0 L424.0,129.9 L423.8,129.8 L423.6,129.6 L423.4,129.5 L423.1,129.4 L422.9,129.3 L422.7,129.1 L422.5,129.0 L422.3,128.9 L422.1,128.7 L421.8,128.6 L421.6,128.5 L421.4,128.3 L421.2,128.2 L421.0,128.1 L420.8,127.9 L420.6,127.8 L420.4,127.6 L420.2,127.5 L420.0,127.3 L419.8,127.2 L419.6,127.0 L419.4,126.9 L419.2,126.7 L419.0,126.6 L418.8,126.4 L418.6,126.3 L418.4,126.1 L418.3,125.9 L418.1,125.8 L417.9,125.6 L417.7,125.4 L417.5,125.3 L417.3,125.1 L417.2,124.9 L417.0,124.7 L416.8,124.6 L416.6,124.4 L416.5,124.2 L416.3,124.0 L416.1,123.9 L416.0,123.7 L415.8,123.5 L415.6,123.3 L415.5,123.1 L415.3,122.9 L415.2,122.7 L415.0,122.6 L414.8,122.4 L414.7,122.2 L414.5,122.0 L414.4,121.8 L414.2,121.6 L414.1,121.4 L414.0,121.2 L413.8,121.0 L413.7,120.8 L413.5,120.6 L413.4,120.4 L413.3,120.2 L413.1,120.0 L413.0,119.8 L412.9,119.6 L412.7,119.4 L412.6,119.2 L412.5,118.9 L412.4,118.7 L412.3,118.5 L412.1,118.3 L412.0,118.1 L411.9,117.9 L411.8,117.7 L411.7,117.4 L411.6,117.2 L411.5,117.0 L411.4,116.8 L411.3,116.6 L411.2,116.3 L411.1,116.1 L411.0,115.9 L410.9,115.7 L410.8,115.5 L410.7,115.2 L410.6,115.0 L410.5,114.8 L410.5,114.5 L410.4,114.3 L410.3,114.1 L410.2,113.9 L410.2,113.6 L410.1,113.4 L410.0,113.2 L409.9,112.9 L409.9,112.7 L409.8,112.5 L409.8,112.2 L409.7,112.0 L409.6,111.8 L409.6,111.5 L409.5,111.3 L409.5,111.1 L409.4,110.8 L409.4,110.6 L409.4,110.4 L409.3,110.1 L409.3,109.9 L409.2,109.7 L409.2,109.4 L409.2,109.2 L409.1,108.9 L409.1,108.7 L409.1,108.5 L409.1,108.2 L409.0,108.0 L409.0,107.7 L409.0,107.5 L409.0,107.3 L409.0,107.0 L409.0,106.8 L409.0,106.5 L409.0,106.3 L409.0,106.1 L408.9,105.8 L409.0,105.6 L409.0,105.3 L409.0,105.1 L409.0,104.9 L409.0,104.6 L409.0,104.4 L409.0,104.1 L409.0,103.9 L409.0,103.7 L409.1,103.4 L409.1,103.2 L409.1,103.0 L409.1,102.7 L409.2,102.5 L409.2,102.2 L409.2,102.0 L409.3,101.8 L409.3,101.5 L409.4,101.3 L409.4,101.1 L409.4,100.8 L409.5,100.6 L409.5,100.3 L409.6,100.1 L409.6,99.9 L409.7,99.6 L409.8,99.4 L409.8,99.2 L409.9,98.9 L409.9,98.7 L410.0,98.5 L410.1,98.3 L410.2,98.0 L410.2,97.8 L410.3,97.6 L410.4,97.3 L410.5,97.1 L410.5,96.9 L410.6,96.7 L410.7,96.4 L410.8,96.2 L410.9,96.0 L411.0,95.8 L411.1,95.5 L411.2,95.3 L411.3,95.1 L411.4,94.9 L411.5,94.6 L411.6,94.4 L411.7,94.2 L411.8,94.0 L411.9,93.8 L412.0,93.6 L412.1,93.3 L412.3,93.1 L412.4,92.9 L412.5,92.7 L412.6,92.5 L412.7,92.3 L412.9,92.1 L413.0,91.9 L413.1,91.7 L413.3,91.5 L413.4,91.3 L413.5,91.1 L413.7,90.9 L413.8,90.7 L414.0,90.5 L414.1,90.3 L414.2,90.1 L414.4,89.9 L414.5,89.7 L414.7,89.5 L414.8,89.3 L415.0,89.1 L415.2,88.9 L415.3,88.7 L415.5,88.5 L415.6,88.3 L415.8,88.2 L416.0,88.0 L416.1,87.8 L416.3,87.6 L416.5,87.4 L416.6,87.3 L416.8,87.1 L417.0,86.9 L417.2,86.7 L417.3,86.6 L417.5,86.4 L417.7,86.2 L417.9,86.1 L418.1,85.9 L418.3,85.7 L418.4,85.6 L418.6,85.4 L418.8,85.2 L419.0,85.1 L419.2,84.9 L419.4,84.8 L419.6,84.6 L419.8,84.5 L420.0,84.3 L420.2,84.2 L420.4,84.0 L420.6,83.9 L420.8,83.7 L421.0,83.6 L421.2,83.5 L421.4,83.3 L421.6,83.2 L421.8,83.0 L422.1,82.9 L422.3,82.8 L422.5,82.6 L422.7,82.5 L422.9,82.4 L423.1,82.3 L423.4,82.1 L423.6,82.0 L423.8,81.9 L424.0,81.8 L424.2,81.7 L424.5,81.6 L424.7,81.4 L424.9,81.3 L425.1,81.2 L425.4,81.1 L425.6,81.0 L425.8,80.9 L426.1,80.8 L426.3,80.7 L426.5,80.6 L426.8,80.5 L427.0,80.4 L427.2,80.3 L427.5,80.3 L427.7,80.2 L428.0,80.1 L428.2,80.0 L428.4,79.9 L428.7,79.8 L428.9,79.8 L429.2,79.7 L429.4,79.6 L429.6,79.5 L429.9,79.5 L430.1,79.4 L430.4,79.3 L430.6,79.3 L430.9,79.2 L431.1,79.2 L431.4,79.1 L431.6,79.0 L431.9,79.0 L432.1,78.9 L432.4,78.9 L432.6,78.8 L432.9,78.8 L433.1,78.8 L433.4,78.7 L433.6,78.7 L433.9,78.6 L434.1,78.6 L434.4,78.6 L434.6,78.5 L434.9,78.5 L435.1,78.5 L435.4,78.5 L435.7,78.4 L435.9,78.4 L436.2,78.4 L436.4,78.4 L436.7,78.4 L436.9,78.4 L437.2,78.4 L437.4,78.4 L437.7,78.3 L437.9,78.3 L438.2,78.3 L438.5,78.3 L438.7,78.3 L439.0,78.4 L439.2,78.4 L439.5,78.4 L439.7,78.4 L440.0,78.4 L440.2,78.4 L440.5,78.4 L440.7,78.4 L441.0,78.5 L441.3,78.5 L441.5,78.5 L441.8,78.5 L442.0,78.6 L442.3,78.6 L442.5,78.6 L442.8,78.7 L443.0,78.7 L443.3,78.8 L443.5,78.8 L443.8,78.8 L444.0,78.9 L444.3,78.9 L444.5,79.0 L444.8,79.0 L445.0,79.1 L445.3,79.2 L445.5,79.2 L445.8,79.3 L446.0,79.3 L446.3,79.4 L446.5,79.5 L446.8,79.5 L447.0,79.6 L447.2,79.7 L447.5,79.8 L447.7,79.8 L448.0,79.9 L448.2,80.0 L448.4,80.1 L448.7,80.2 L448.9,80.3 L449.2,80.3 L449.4,80.4 L449.6,80.5 L449.9,80.6 L450.1,80.7 L450.3,80.8 L450.6,80.9 L450.8,81.0 L451.0,81.1 L451.3,81.2 L451.5,81.3 L451.7,81.4 L451.9,81.6 L452.2,81.7 L452.4,81.8 L452.6,81.9 L452.8,82.0 L453.0,82.1 L453.3,82.3 L453.5,82.4 L453.7,82.5 L453.9,82.6 L454.1,82.8 L454.3,82.9 L454.6,83.0 L454.8,83.2 L455.0,83.3 L455.2,83.5 L455.4,83.6 L455.6,83.7 L455.8,83.9 L456.0,84.0 L456.2,84.2 L456.4,84.3 L456.6,84.5 L456.8,84.6 L457.0,84.8 L457.2,84.9 L457.4,85.1 L457.6,85.2 L457.8,85.4 L458.0,85.6 L458.1,85.7 L458.3,85.9 L458.5,86.1 L458.7,86.2 L458.9,86.4 L459.1,86.6 L459.2,86.7 L459.4,86.9 L459.6,87.1 L459.8,87.3 L459.9,87.4 L460.1,87.6 L460.3,87.8 L460.4,88.0 L460.6,88.2 L460.8,88.3 L460.9,88.5 L461.1,88.7 L461.2,88.9 L461.4,89.1 L461.6,89.3 L461.7,89.5 L461.9,89.7 L462.0,89.9 L462.2,90.1 L462.3,90.3 L462.4,90.5 L462.6,90.7 L462.7,90.9 L462.9,91.1 L463.0,91.3 L463.1,91.5 L463.3,91.7 L463.4,91.9 L463.5,92.1 L463.7,92.3 L463.8,92.5 L463.9,92.7 L464.0,92.9 L464.1,93.1 L464.3,93.3 L464.4,93.6 L464.5,93.8 L464.6,94.0 L464.7,94.2 L464.8,94.4 L464.9,94.6 L465.0,94.9 L465.1,95.1 L465.2,95.3 L465.3,95.5 L465.4,95.8 L465.5,96.0 L465.6,96.2 L465.7,96.4 L465.8,96.7 L465.9,96.9 L465.9,97.1 L466.0,97.3 L466.1,97.6 L466.2,97.8 L466.2,98.0 L466.3,98.3 L466.4,98.5 L466.5,98.7 L466.5,98.9 L466.6,99.2 L466.6,99.4 L466.7,99.6 L466.8,99.9 L466.8,100.1 L466.9,100.3 L466.9,100.6 L467.0,100.8 L467.0,101.1 L467.0,101.3 L467.1,101.5 L467.1,101.8 L467.2,102.0 L467.2,102.2 L467.2,102.5 L467.3,102.7 L467.3,103.0 L467.3,103.2 L467.3,103.4 L467.4,103.7 L467.4,103.9 L467.4,104.1 L467.4,104.4 L467.4,104.6 L467.4,104.9 L467.4,105.1 L467.4,105.3 L467.4,105.6 L467.4,105.8 L467.4,106.1 L467.4,106.3 L467.4,106.5 L467.4,106.8 L467.4,107.0 L467.4,107.3 L467.4,107.5 L467.4,107.7 L467.4,108.0 L467.3,108.2 L467.3,108.5 L467.3,108.7 L467.3,108.9 L467.2,109.2 L467.2,109.4 L467.2,109.7 L467.1,109.9 L467.1,110.1 L467.0,110.4 L467.0,110.6 L467.0,110.8 L466.9,111.1 L466.9,111.3 L466.8,111.5 L466.8,111.8 L466.7,112.0 L466.6,112.2 L466.6,112.5 L466.5,112.7 L466.5,112.9 L466.4,113.2 L466.3,113.4 L466.2,113.6 L466.2,113.9 L466.1,114.1 L466.0,114.3 L465.9,114.5 L465.9,114.8 L465.8,115.0 L465.7,115.2 L465.6,115.5 L465.5,115.7 L465.4,115.9 L465.3,116.1 L465.2,116.3 L465.1,116.6 L465.0,116.8 L464.9,117.0 L464.8,117.2 L464.7,117.4 L464.6,117.7 L464.5,117.9 L464.4,118.1 L464.3,118.3 L464.1,118.5 L464.0,118.7 L463.9,118.9 L463.8,119.2 L463.7,119.4 L463.5,119.6 L463.4,119.8 L463.3,120.0 L463.1,120.2 L463.0,120.4 L462.9,120.6 L462.7,120.8 L462.6,121.0 L462.4,121.2 L462.3,121.4 L462.2,121.6 L462.0,121.8 L461.9,122.0 L461.7,122.2 L461.6,122.4 L461.4,122.6 L461.2,122.7 L461.1,122.9 L460.9,123.1 L460.8,123.3 L460.6,123.5 L460.4,123.7 L460.3,123.9 L460.1,124.0 L459.9,124.2 L459.8,124.4 L459.6,124.6 L459.4,124.7 L459.2,124.9 L459.1,125.1 L458.9,125.3 L458.7,125.4 L458.5,125.6 L458.3,125.8 L458.1,125.9 L458.0,126.1 L457.8,126.3 L457.6,126.4 L457.4,126.6 L457.2,126.7 L457.0,126.9 L456.8,127.0 L456.6,127.2 L456.4,127.3 L456.2,127.5 L456.0,127.6 L455.8,127.8 L455.6,127.9 L455.4,128.1 L455.2,128.2 L455.0,128.3 L454.8,128.5 L454.6,128.6 L454.3,128.7 L454.1,128.9 L453.9,129.0 L453.7,129.1 L453.5,129.3 L453.3,129.4 L453.0,129.5 L452.8,129.6 L452.6,129.8 L452.4,129.9 L452.2,130.0 L451.9,130.1 L451.7,130.2 L451.5,130.3 L451.3,130.4 L451.0,130.5 L450.8,130.6 L450.6,130.7 L450.3,130.8 L450.1,130.9 L449.9,131.0 L449.6,131.1 L449.4,131.2 L449.2,131.3 L448.9,131.4 L448.7,131.5 L448.4,131.6 L448.2,131.7 L448.0,131.7 L447.7,131.8 L447.5,131.9 L447.2,132.0 L447.0,132.0 L446.8,132.1 L446.5,132.2 L446.3,132.2 L446.0,132.3 L445.8,132.4 L445.5,132.4 L445.3,132.5 L445.0,132.6 L444.8,132.6 L444.5,132.7 L444.3,132.7 L444.0,132.8 L443.8,132.8 L443.5,132.9 L443.3,132.9 L443.0,132.9 L442.8,133.0 L442.5,133.0 L442.3,133.0 L442.0,133.1 L441.8,133.1 L441.5,133.1 L441.3,133.2 L441.0,133.2 L440.7,133.2 L440.5,133.2 L440.2,133.2 L440.0,133.3 L439.7,133.3 L439.5,133.3 L439.2,133.3 L439.0,133.3 L438.7,133.3 L438.5,133.3 L438.2,133.3 M438.2,146.1 L437.8,146.1 L437.3,146.1 L436.9,146.1 L436.4,146.1 L436.0,146.1 L435.5,146.0 L435.1,146.0 L434.7,146.0 L434.2,146.0 L433.8,145.9 L433.3,145.9 L432.9,145.9 L432.5,145.8 L432.0,145.8 L431.6,145.7 L431.1,145.6 L430.7,145.6 L430.3,145.5 L429.8,145.5 L429.4,145.4 L429.0,145.3 L428.5,145.2 L428.1,145.2 L427.7,145.1 L427.2,145.0 L426.8,144.9 L426.4,144.8 L425.9,144.7 L425.5,144.6 L425.1,144.5 L424.7,144.4 L424.2,144.3 L423.8,144.2 L423.4,144.0 L423.0,143.9 L422.5,143.8 L422.1,143.7 L421.7,143.5 L421.3,143.4 L420.9,143.2 L420.5,143.1 L420.0,142.9 L419.6,142.8 L419.2,142.6 L418.8,142.5 L418.4,142.3 L418.0,142.2 L417.6,142.0 L417.2,141.8 L416.8,141.7 L416.4,141.5 L416.0,141.3 L415.6,141.1 L415.2,140.9 L414.8,140.7 L414.4,140.5 L414.0,140.3 L413.6,140.1 L413.3,139.9 L412.9,139.7 L412.5,139.5 L412.1,139.3 L411.7,139.1 L411.4,138.9 L411.0,138.7 L410.6,138.4 L410.2,138.2 L409.9,138.0 L409.5,137.7 L409.1,137.5 L408.8,137.3 L408.4,137.0 L408.1,136.8 L407.7,136.5 L407.4,136.3 L407.0,136.0 L406.7,135.8 L406.3,135.5 L406.0,135.2 L405.6,135.0 L405.3,134.7 L405.0,134.4 L404.6,134.2 L404.3,133.9 L404.0,133.6 L403.6,133.3 L403.3,133.0 L403.0,132.7 L402.7,132.5 L402.4,132.2 L402.1,131.9 L401.8,131.6 L401.5,131.3 L401.1,131.0 L400.8,130.7 L400.6,130.4 L400.3,130.0 L400.0,129.7 L399.7,129.4 L399.4,129.1 L399.1,128.8 L398.8,128.5 L398.6,128.1 L398.3,127.8 L398.0,127.5 L397.7,127.2 L397.5,126.8 L397.2,126.5 L397.0,126.1 L396.7,125.8 L396.4,125.5 L396.2,125.1 L396.0,124.8 L395.7,124.4 L395.5,124.1 L395.2,123.7 L395.0,123.4 L394.8,123.0 L394.5,122.7 L394.3,122.3 L394.1,121.9 L393.9,121.6 L393.7,121.2 L393.5,120.9 L393.3,120.5 L393.1,120.1 L392.9,119.7 L392.7,119.4 L392.5,119.0 L392.3,118.6 L392.1,118.2 L391.9,117.9 L391.7,117.5 L391.6,117.1 L391.4,116.7 L391.2,116.3 L391.1,116.0 L390.9,115.6 L390.7,115.2 L390.6,114.8 L390.4,114.4 L390.3,114.0 L390.2,113.6 L390.0,113.2 L389.9,112.8 L389.8,112.4 L389.6,112.0 L389.5,111.6 L389.4,111.2 L389.3,110.8 L389.2,110.4 L389.0,110.0 L388.9,109.6 L388.8,109.2 L388.7,108.8 L388.6,108.4 L388.6,108.0 L388.5,107.6 L388.4,107.2 L388.3,106.8 L388.2,106.4 L388.2,106.0 L388.1,105.5 L388.0,105.1 L388.0,104.7 L387.9,104.3 L387.9,103.9 L387.8,103.5 L387.8,103.1 L387.7,102.7 L387.7,102.2 L387.7,101.8 L387.6,101.4 L387.6,101.0 L387.6,100.6 L387.6,100.2 L387.6,99.8 L387.5,99.3 L387.5,98.9 L387.5,98.5 L387.5,98.1 L387.5,97.7 L387.6,97.3 L387.6,96.8 L387.6,96.4 L387.6,96.0 L387.6,95.6 L387.7,95.2 L387.7,94.8 L387.7,94.4 L387.8,93.9 L387.8,93.5 L387.9,93.1 L387.9,92.7 L388.0,92.3 L388.0,91.9 L388.1,91.5 L388.2,91.1 L388.2,90.6 L388.3,90.2 L388.4,89.8 L388.5,89.4 L388.6,89.0 L388.6,88.6 L388.7,88.2 L388.8,87.8 L388.9,87.4 L389.0,87.0 L389.2,86.6 L389.3,86.2 L389.4,85.8 L389.5,85.4 L389.6,85.0 L389.8,84.6 L389.9,84.2 L390.0,83.8 L390.2,83.4 L390.3,83.0 L390.4,82.6 L390.6,82.2 L390.7,81.8 L390.9,81.4 L391.1,81.1 L391.2,80.7 L391.4,80.3 L391.6,79.9 L391.7,79.5 L391.9,79.1 L392.1,78.8 L392.3,78.4 L392.5,78.0 L392.7,77.6 L392.9,77.3 L393.1,76.9 L393.3,76.5 L393.5,76.2 L393.7,75.8 L393.9,75.4 L394.1,75.1 L394.3,74.7 L394.5,74.3 L394.8,74.0 L395.0,73.6 L395.2,73.3 L395.5,72.9 L395.7,72.6 L396.0,72.2 L396.2,71.9 L396.4,71.5 L396.7,71.2 L397.0,70.9 L397.2,70.5 L397.5,70.2 L397.7,69.9 L398.0,69.5 L398.3,69.2 L398.6,68.9 L398.8,68.5 L399.1,68.2 L399.4,67.9 L399.7,67.6 L400.0,67.3 L400.3,67.0 L400.6,66.6 L400.8,66.3 L401.1,66.0 L401.5,65.7 L401.8,65.4 L402.1,65.1 L402.4,64.8 L402.7,64.5 L403.0,64.3 L403.3,64.0 L403.6,63.7 L404.0,63.4 L404.3,63.1 L404.6,62.8 L405.0,62.6 L405.3,62.3 L405.6,62.0 L406.0,61.8 L406.3,61.5 L406.7,61.2 L407.0,61.0 L407.4,60.7 L407.7,60.5 L408.1,60.2 L408.4,60.0 L408.8,59.7 L409.1,59.5 L409.5,59.3 L409.9,59.0 L410.2,58.8 L410.6,58.6 L411.0,58.4 L411.4,58.1 L411.7,57.9 L412.1,57.7 L412.5,57.5 L412.9,57.3 L413.3,57.1 L413.6,56.9 L414.0,56.7 L414.4,56.5 L414.8,56.3 L415.2,56.1 L415.6,55.9 L416.0,55.7 L416.4,55.5 L416.8,55.4 L417.2,55.2 L417.6,55.0 L418.0,54.8 L418.4,54.7 L418.8,54.5 L419.2,54.4 L419.6,54.2 L420.0,54.1 L420.5,53.9 L420.9,53.8 L421.3,53.6 L421.7,53.5 L422.1,53.4 L422.5,53.2 L423.0,53.1 L423.4,53.0 L423.8,52.9 L424.2,52.7 L424.7,52.6 L425.1,52.5 L425.5,52.4 L425.9,52.3 L426.4,52.2 L426.8,52.1 L427.2,52.0 L427.7,51.9 L428.1,51.9 L428.5,51.8 L429.0,51.7 L429.4,51.6 L429.8,51.5 L430.3,51.5 L430.7,51.4 L431.1,51.4 L431.6,51.3 L432.0,51.3 L432.5,51.2 L432.9,51.2 L433.3,51.1 L433.8,51.1 L434.2,51.0 L434.7,51.0 L435.1,51.0 L435.5,51.0 L436.0,50.9 L436.4,50.9 L436.9,50.9 L437.3,50.9 L437.8,50.9 L438.2,50.9 L438.6,50.9 L439.1,50.9 L439.5,50.9 L440.0,50.9 L440.4,50.9 L440.9,51.0 L441.3,51.0 L441.7,51.0 L442.2,51.0 L442.6,51.1 L443.1,51.1 L443.5,51.2 L443.9,51.2 L444.4,51.3 L444.8,51.3 L445.3,51.4 L445.7,51.4 L446.1,51.5 L446.6,51.5 L447.0,51.6 L447.4,51.7 L447.9,51.8 L448.3,51.9 L448.7,51.9 L449.2,52.0 L449.6,52.1 L450.0,52.2 L450.5,52.3 L450.9,52.4 L451.3,52.5 L451.7,52.6 L452.2,52.7 L452.6,52.9 L453.0,53.0 L453.4,53.1 L453.9,53.2 L454.3,53.4 L454.7,53.5 L455.1,53.6 L455.5,53.8 L455.9,53.9 L456.4,54.1 L456.8,54.2 L457.2,54.4 L457.6,54.5 L458.0,54.7 L458.4,54.8 L458.8,55.0 L459.2,55.2 L459.6,55.4 L460.0,55.5 L460.4,55.7 L460.8,55.9 L461.2,56.1 L461.6,56.3 L462.0,56.5 L462.4,56.7 L462.8,56.9 L463.1,57.1 L463.5,57.3 L463.9,57.5 L464.3,57.7 L464.7,57.9 L465.0,58.1 L465.4,58.4 L465.8,58.6 L466.2,58.8 L466.5,59.0 L466.9,59.3 L467.3,59.5 L467.6,59.7 L468.0,60.0 L468.3,60.2 L468.7,60.5 L469.0,60.7 L469.4,61.0 L469.7,61.2 L470.1,61.5 L470.4,61.8 L470.8,62.0 L471.1,62.3 L471.4,62.6 L471.8,62.8 L472.1,63.1 L472.4,63.4 L472.8,63.7 L473.1,64.0 L473.4,64.3 L473.7,64.5 L474.0,64.8 L474.3,65.1 L474.6,65.4 L474.9,65.7 L475.3,66.0 L475.6,66.3 L475.8,66.6 L476.1,67.0 L476.4,67.3 L476.7,67.6 L477.0,67.9 L477.3,68.2 L477.6,68.5 L477.8,68.9 L478.1,69.2 L478.4,69.5 L478.7,69.9 L478.9,70.2 L479.2,70.5 L479.4,70.9 L479.7,71.2 L480.0,71.5 L480.2,71.9 L480.4,72.2 L480.7,72.6 L480.9,72.9 L481.2,73.3 L481.4,73.6 L481.6,74.0 L481.9,74.3 L482.1,74.7 L482.3,75.1 L482.5,75.4 L482.7,75.8 L482.9,76.2 L483.1,76.5 L483.3,76.9 L483.5,77.3 L483.7,77.6 L483.9,78.0 L484.1,78.4 L484.3,78.8 L484.5,79.1 L484.7,79.5 L484.8,79.9 L485.0,80.3 L485.2,80.7 L485.3,81.1 L485.5,81.4 L485.7,81.8 L485.8,82.2 L486.0,82.6 L486.1,83.0 L486.2,83.4 L486.4,83.8 L486.5,84.2 L486.6,84.6 L486.8,85.0 L486.9,85.4 L487.0,85.8 L487.1,86.2 L487.2,86.6 L487.4,87.0 L487.5,87.4 L487.6,87.8 L487.7,88.2 L487.8,88.6 L487.8,89.0 L487.9,89.4 L488.0,89.8 L488.1,90.2 L488.2,90.6 L488.2,91.1 L488.3,91.5 L488.4,91.9 L488.4,92.3 L488.5,92.7 L488.5,93.1 L488.6,93.5 L488.6,93.9 L488.7,94.4 L488.7,94.8 L488.7,95.2 L488.8,95.6 L488.8,96.0 L488.8,96.4 L488.8,96.8 L488.8,97.3 L488.9,97.7 L488.9,98.1 L488.9,98.5 L488.9,98.9 L488.9,99.3 L488.8,99.8 L488.8,100.2 L488.8,100.6 L488.8,101.0 L488.8,101.4 L488.7,101.8 L488.7,102.2 L488.7,102.7 L488.6,103.1 L488.6,103.5 L488.5,103.9 L488.5,104.3 L488.4,104.7 L488.4,105.1 L488.3,105.5 L488.2,106.0 L488.2,106.4 L488.1,106.8 L488.0,107.2 L487.9,107.6 L487.8,108.0 L487.8,108.4 L487.7,108.8 L487.6,109.2 L487.5,109.6 L487.4,110.0 L487.2,110.4 L487.1,110.8 L487.0,111.2 L486.9,111.6 L486.8,112.0 L486.6,112.4 L486.5,112.8 L486.4,113.2 L486.2,113.6 L486.1,114.0 L486.0,114.4 L485.8,114.8 L485.7,115.2 L485.5,115.6 L485.3,116.0 L485.2,116.3 L485.0,116.7 L484.8,117.1 L484.7,117.5 L484.5,117.9 L484.3,118.2 L484.1,118.6 L483.9,119.0 L483.7,119.4 L483.5,119.7 L483.3,120.1 L483.1,120.5 L482.9,120.9 L482.7,121.2 L482.5,121.6 L482.3,121.9 L482.1,122.3 L481.9,122.7 L481.6,123.0 L481.4,123.4 L481.2,123.7 L480.9,124.1 L480.7,124.4 L480.4,124.8 L480.2,125.1 L480.0,125.5 L479.7,125.8 L479.4,126.1 L479.2,126.5 L478.9,126.8 L478.7,127.2 L478.4,127.5 L478.1,127.8 L477.8,128.1 L477.6,128.5 L477.3,128.8 L477.0,129.1 L476.7,129.4 L476.4,129.7 L476.1,130.0 L475.8,130.4 L475.6,130.7 L475.3,131.0 L474.9,131.3 L474.6,131.6 L474.3,131.9 L474.0,132.2 L473.7,132.5 L473.4,132.7 L473.1,133.0 L472.8,133.3 L472.4,133.6 L472.1,133.9 L471.8,134.2 L471.4,134.4 L471.1,134.7 L470.8,135.0 L470.4,135.2 L470.1,135.5 L469.7,135.8 L469.4,136.0 L469.0,136.3 L468.7,136.5 L468.3,136.8 L468.0,137.0 L467.6,137.3 L467.3,137.5 L466.9,137.7 L466.5,138.0 L466.2,138.2 L465.8,138.4 L465.4,138.7 L465.0,138.9 L464.7,139.1 L464.3,139.3 L463.9,139.5 L463.5,139.7 L463.1,139.9 L462.8,140.1 L462.4,140.3 L462.0,140.5 L461.6,140.7 L461.2,140.9 L460.8,141.1 L460.4,141.3 L460.0,141.5 L459.6,141.7 L459.2,141.8 L458.8,142.0 L458.4,142.2 L458.0,142.3 L457.6,142.5 L457.2,142.6 L456.8,142.8 L456.4,142.9 L455.9,143.1 L455.5,143.2 L455.1,143.4 L454.7,143.5 L454.3,143.7 L453.9,143.8 L453.4,143.9 L453.0,144.0 L452.6,144.2 L452.2,144.3 L451.7,144.4 L451.3,144.5 L450.9,144.6 L450.5,144.7 L450.0,144.8 L449.6,144.9 L449.2,145.0 L448.7,145.1 L448.3,145.2 L447.9,145.2 L447.4,145.3 L447.0,145.4 L446.6,145.5 L446.1,145.5 L445.7,145.6 L445.3,145.6 L444.8,145.7 L444.4,145.8 L443.9,145.8 L443.5,145.9 L443.1,145.9 L442.6,145.9 L442.2,146.0 L441.7,146.0 L441.3,146.0 L440.9,146.0 L440.4,146.1 L440.0,146.1 L439.5,146.1 L439.1,146.1 L438.6,146.1 L438.2,146.1 M379.7,88.5 L379.7,88.0 L379.7,87.5 L379.7,87.1 L379.7,86.6 L379.8,86.1 L379.8,85.6 L379.8,85.1 L379.8,84.7 L379.9,84.2 L379.9,83.7 L380.0,83.2 L380.0,82.8 L380.1,82.3 L380.1,81.8 L380.2,81.3 L380.3,80.8 L380.3,80.4 L380.4,79.9 L380.5,79.4 L380.6,79.0 L380.7,78.5 L380.8,78.0 L380.9,77.5 L381.0,77.1 L381.1,76.6 L381.2,76.1 L381.3,75.7 L381.4,75.2 L381.6,74.7 L381.7,74.3 L381.8,73.8 L382.0,73.3 L382.1,72.9 L382.3,72.4 L382.4,72.0 L382.6,71.5 L382.7,71.1 L382.9,70.6 L383.1,70.1 L383.2,69.7 L383.4,69.2 L383.6,68.8 L383.8,68.4 L384.0,67.9 L384.2,67.5 L384.4,67.0 L384.6,66.6 L384.8,66.1 L385.0,65.7 L385.2,65.3 L385.4,64.8 L385.6,64.4 L385.8,64.0 L386.1,63.5 L386.3,63.1 L386.5,62.7 L386.8,62.3 L387.0,61.8 L387.3,61.4 L387.5,61.0 L387.8,60.6 L388.1,60.2 L388.3,59.8 L388.6,59.4 L388.9,59.0 L389.1,58.6 L389.4,58.2 L389.7,57.8 L390.0,57.4 L390.3,57.0 L390.6,56.6 L390.9,56.2 L391.2,55.8 L391.5,55.4 L391.8,55.0 L392.1,54.7 L392.4,54.3 L392.7,53.9 L393.1,53.5 L393.4,53.2 L393.7,52.8 L394.0,52.4 L394.4,52.1 L394.7,51.7 L395.1,51.4 L395.4,51.0 L395.8,50.7 L396.1,50.3 L396.5,50.0 L396.8,49.6 L397.2,49.3 L397.6,49.0 L397.9,48.6 L398.3,48.3 L398.7,48.0 L399.1,47.6 L399.4,47.3 L399.8,47.0 L400.2,46.7 L400.6,46.4 L401.0,46.1 L401.4,45.8 L401.8,45.5 L402.2,45.2 L402.6,44.9 L403.0,44.6 L403.4,44.3 L403.8,44.0 L404.2,43.7 L404.6,43.5 L405.1,43.2 L405.5,42.9 L405.9,42.7 L406.3,42.4 L406.8,42.1 L407.2,41.9 L407.6,41.6 L408.1,41.4 L408.5,41.1 L408.9,40.9 L409.4,40.7 L409.8,40.4 L410.3,40.2 L410.7,40.0 L411.2,39.7 L411.6,39.5 L412.1,39.3 L412.6,39.1 L413.0,38.9 L413.5,38.7 L413.9,38.5 L414.4,38.3 L414.9,38.1 L415.3,37.9 L415.8,37.7 L416.3,37.5 L416.8,37.4 L417.2,37.2 L417.7,37.0 L418.2,36.8 L418.7,36.7 L419.2,36.5 L419.6,36.4 L420.1,36.2 L420.6,36.1 L421.1,35.9 L421.6,35.8 L422.1,35.7 L422.6,35.5 L423.1,35.4 L423.6,35.3 L424.0,35.2 L424.5,35.0 L425.0,34.9 L425.5,34.8 L426.0,34.7 L426.5,34.6 L427.0,34.5 L427.5,34.4 L428.0,34.4 L428.5,34.3 L429.0,34.2 L429.6,34.1 L430.1,34.1 L430.6,34.0 L431.1,33.9 L431.6,33.9 L432.1,33.8 L432.6,33.8 L433.1,33.7 L433.6,33.7 L434.1,33.7 L434.6,33.6 L435.1,33.6 L435.6,33.6 L436.2,33.6 L436.7,33.5 L437.2,33.5 L437.7,33.5 L438.2,33.5 L438.7,33.5 L439.2,33.5 L439.7,33.5 L440.2,33.6 L440.8,33.6 L441.3,33.6 L441.8,33.6 L442.3,33.7 L442.8,33.7 L443.3,33.7 L443.8,33.8 L444.3,33.8 L444.8,33.9 L445.3,33.9 L445.8,34.0 L446.3,34.1 L446.8,34.1 L447.4,34.2 L447.9,34.3 L448.4,34.4 L448.9,34.4 L449.4,34.5 L449.9,34.6 L450.4,34.7 L450.9,34.8 L451.4,34.9 L451.9,35.0 L452.4,35.2 L452.8,35.3 L453.3,35.4 L453.8,35.5 L454.3,35.7 L454.8,35.8 L455.3,35.9 L455.8,36.1 L456.3,36.2 L456.8,36.4 L457.2,36.5 L457.7,36.7 L458.2,36.8 L458.7,37.0 L459.2,37.2 L459.6,37.4 L460.1,37.5 L460.6,37.7 L461.1,37.9 L461.5,38.1 L462.0,38.3 L462.5,38.5 L462.9,38.7 L463.4,38.9 L463.8,39.1 L464.3,39.3 L464.8,39.5 L465.2,39.7 L465.7,40.0 L466.1,40.2 L466.6,40.4 L467.0,40.7 L467.4,40.9 L467.9,41.1 L468.3,41.4 L468.8,41.6 L469.2,41.9 L469.6,42.1 L470.1,42.4 L470.5,42.7 L470.9,42.9 L471.3,43.2 L471.8,43.5 L472.2,43.7 L472.6,44.0 L473.0,44.3 L473.4,44.6 L473.8,44.9 L474.2,45.2 L474.6,45.5 L475.0,45.8 L475.4,46.1 L475.8,46.4 L476.2,46.7 L476.6,47.0 L477.0,47.3 L477.3,47.6 L477.7,48.0 L478.1,48.3 L478.5,48.6 L478.8,49.0 L479.2,49.3 L479.6,49.6 L479.9,50.0 L480.3,50.3 L480.6,50.7 L481.0,51.0 L481.3,51.4 L481.7,51.7 L482.0,52.1 L482.4,52.4 L482.7,52.8 L483.0,53.2 L483.3,53.5 L483.7,53.9 L484.0,54.3 L484.3,54.7 L484.6,55.0 L484.9,55.4 L485.2,55.8 L485.5,56.2 L485.8,56.6 L486.1,57.0 L486.4,57.4 L486.7,57.8 L487.0,58.2 L487.3,58.6 L487.5,59.0 L487.8,59.4 L488.1,59.8 L488.3,60.2 L488.6,60.6 L488.9,61.0 L489.1,61.4 L489.4,61.8 L489.6,62.3 L489.9,62.7 L490.1,63.1 L490.3,63.5 L490.6,64.0 L490.8,64.4 L491.0,64.8 L491.2,65.3 L491.4,65.7 L491.6,66.1 L491.8,66.6 L492.0,67.0 L492.2,67.5 L492.4,67.9 L492.6,68.4 L492.8,68.8 L493.0,69.2 L493.2,69.7 L493.3,70.1 L493.5,70.6 L493.7,71.1 L493.8,71.5 L494.0,72.0 L494.1,72.4 L494.3,72.9 L494.4,73.3 L494.6,73.8 L494.7,74.3 L494.8,74.7 L495.0,75.2 L495.1,75.7 L495.2,76.1 L495.3,76.6 L495.4,77.1 L495.5,77.5 L495.6,78.0 L495.7,78.5 L495.8,79.0 L495.9,79.4 L496.0,79.9 L496.1,80.4 L496.1,80.8 L496.2,81.3 L496.3,81.8 L496.3,82.3 L496.4,82.8 L496.4,83.2 L496.5,83.7 L496.5,84.2 L496.6,84.7 L496.6,85.1 L496.6,85.6 L496.6,86.1 L496.7,86.6 L496.7,87.1 L496.7,87.5 L496.7,88.0 L496.7,88.5" fill="none" stroke="#000" stroke-opacity="0.5" stroke-width="1.1"/>
</g>
<circle cx="438.2" cy="88.5" r="58.1" fill="none" stroke="#000" stroke-opacity="0.35" stroke-width="1.2"/>
</g>
<g filter="url(#soft)">
<g clip-path="url(#gc2)">
<circle cx="310.2" cy="235.0" r="58.5" fill="#6a46e4"/>
<path d="M316.2,248.5 316.5,249.2 317.8,248.8 317.2,248.2ZM304.2,176.8 292.8,179.2 282.5,183.5 273.5,189.5 264.5,198.5 259.5,205.8 256.5,211.8 253.8,219.5 252.5,225.5 251.8,231.2 252.2,242.2 254.5,252.8 256.5,258.2 259.5,264.2 266.2,273.5 275.2,281.8 280.2,285.2 285.8,288.2 295.2,291.5 304.2,293.2 316.2,293.2 326.5,291.2 333.8,288.5 338.5,286.2 348.2,279.5 356.2,271.2 362.2,261.8 366.5,250.8 368.5,239.5 368.2,227.2 366.5,219.2 364.8,214.2 360.5,205.2 354.5,196.8 346.5,189.2 338.5,183.8 333.8,181.5 326.5,178.8 316.2,176.8ZM314.8,265.2 316.2,263.8 317.5,263.8 318.5,264.8 317.2,266.5 316.2,266.5ZM302.2,252.5 303.2,251.5 304.8,252.5 307.5,252.2 308.5,253.2 308.2,255.2 309.2,256.5 312.2,256.5 314.8,258.5 314.2,260.8 311.2,263.2 309.2,263.5 307.2,259.5 303.8,258.8 303.2,258.2 303.2,255.5 302.2,253.8ZM312.8,244.5 314.8,244.5 316.8,245.8 319.5,244.8 320.5,246.2 320.5,247.8 319.5,248.8 319.5,249.5 321.5,250.8 322.2,250.5 322.8,250.8 324.8,249.8 326.2,251.5 326.2,253.2 325.2,254.2 324.5,253.8 323.5,254.2 322.8,259.5 319.2,263.5 318.2,263.2 317.8,259.8 316.2,257.8 316.8,254.8 316.5,253.5 315.8,252.8 313.5,252.8 311.8,251.2 311.8,250.2 312.8,248.5 312.5,247.8ZM304.2,246.8 304.2,246.2 305.5,244.8 307.5,244.5 310.2,244.8 311.2,245.8 310.8,246.8 309.8,247.5 307.8,246.5 305.8,247.5 304.8,247.5ZM311.2,243.8 312.5,243.5 312.8,244.2 311.8,244.5ZM310.2,241.2 311.2,240.8 311.8,241.8 310.8,242.2Z" fill="#5c4ee8" fill-rule="evenodd"/>
<path d="M304.2,176.8 292.8,179.2 282.5,183.5 273.5,189.5 264.5,198.5 259.5,205.8 256.5,211.8 253.8,219.5 252.5,225.5 251.8,231.2 252.2,242.2 254.5,252.8 256.5,258.2 259.5,264.2 266.2,273.5 275.2,281.8 280.2,285.2 285.8,288.2 295.2,291.5 304.2,293.2 316.2,293.2 326.5,291.2 333.8,288.5 338.5,286.2 348.2,279.5 356.2,271.2 362.2,261.8 366.5,250.8 368.5,239.5 368.2,227.2 366.5,219.2 364.8,214.2 360.5,205.2 354.5,196.8 346.5,189.2 338.5,183.8 333.8,181.5 326.5,178.8 316.2,176.8ZM310.2,239.2 312.2,239.5 313.5,240.8 313.8,241.8 315.5,242.8 320.8,242.2 321.8,243.2 322.5,245.5 326.2,249.2 327.2,251.2 327.2,253.8 326.5,255.2 326.2,258.5 322.2,262.2 321.5,264.8 320.2,266.2 317.2,267.8 314.5,267.8 313.5,267.2 312.5,267.5 309.8,267.2 306.8,264.5 306.5,261.5 305.5,260.8 302.5,262.8 300.8,262.5 300.2,261.5 300.2,259.2 301.2,257.8 301.2,255.8 299.5,254.2 299.2,252.5 301.5,250.2 301.5,246.8 306.2,240.8Z" fill="#505ae8" fill-rule="evenodd"/>
<path d="M304.2,176.8 292.8,179.2 282.5,183.5 273.5,189.5 264.5,198.5 259.5,205.8 256.5,211.8 253.8,219.5 252.5,225.5 251.8,231.2 252.2,242.2 254.5,252.8 256.5,258.2 259.5,264.2 266.2,273.5 275.2,281.8 280.2,285.2 285.8,288.2 295.2,291.5 304.2,293.2 316.2,293.2 326.5,291.2 333.8,288.5 338.5,286.2 348.2,279.5 356.2,271.2 362.2,261.8 366.5,250.8 368.5,239.5 368.2,227.2 366.5,219.2 364.8,214.2 360.5,205.2 354.5,196.8 346.5,189.2 338.5,183.8 333.8,181.5 326.5,178.8 316.2,176.8ZM310.8,238.2 312.5,238.5 314.8,240.8 321.5,241.5 322.5,242.5 323.5,244.8 326.2,247.5 327.8,250.5 328.2,253.5 327.5,255.5 327.5,258.2 326.8,259.5 323.2,262.8 322.8,264.5 321.5,266.5 315.5,269.2 313.5,268.5 312.5,268.8 308.5,268.5 305.2,266.5 303.5,264.8 300.8,263.8 299.2,261.8 299.8,257.2 297.5,252.5 297.8,251.5 299.8,249.8 300.5,246.5 303.8,242.8 304.5,241.2 306.2,239.5Z" fill="#4668ea" fill-rule="evenodd"/>
<path d="M304.2,176.8 292.8,179.2 282.5,183.5 273.5,189.5 264.5,198.5 259.5,205.8 256.5,211.8 253.8,219.5 252.5,225.5 251.8,231.2 252.2,242.2 254.5,252.8 256.5,258.2 259.5,264.2 266.2,273.5 275.2,281.8 280.2,285.2 285.8,288.2 295.2,291.5 304.2,293.2 316.2,293.2 326.5,291.2 333.8,288.5 338.5,286.2 348.2,279.5 356.2,271.2 362.2,261.8 366.5,250.8 368.5,239.5 368.2,227.2 366.5,219.2 364.8,214.2 360.5,205.2 354.5,196.8 346.5,189.2 338.5,183.8 333.8,181.5 326.5,178.8 316.2,176.8ZM310.8,237.5 312.8,237.8 315.5,239.5 317.2,239.5 321.8,240.8 326.5,246.5 328.5,250.2 328.8,253.8 328.2,258.5 322.5,266.8 315.8,270.2 308.8,269.8 302.5,266.5 299.2,263.2 298.5,261.8 298.8,256.5 296.8,252.8 296.8,251.2 298.5,249.5 299.8,245.8 302.5,243.2 304.2,240.2 305.8,238.8Z" fill="#3e78ee" fill-rule="evenodd"/>
<path d="M304.2,176.8 292.8,179.2 282.5,183.5 273.5,189.5 264.5,198.5 259.5,205.8 256.5,211.8 253.8,219.5 252.5,225.5 251.8,231.2 252.2,242.2 254.5,252.8 256.5,258.2 259.5,264.2 266.2,273.5 275.2,281.8 280.2,285.2 285.8,288.2 295.2,291.5 304.2,293.2 316.2,293.2 326.5,291.2 333.8,288.5 338.5,286.2 348.2,279.5 356.2,271.2 362.2,261.8 366.5,250.8 368.5,239.5 368.2,227.2 366.5,219.2 364.8,214.2 360.5,205.2 354.5,196.8 346.5,189.2 338.5,183.8 333.8,181.5 326.5,178.8 316.2,176.8ZM307.8,237.5 313.2,237.2 314.8,237.8 317.2,237.8 319.5,239.5 322.2,240.2 323.8,241.5 327.5,246.5 329.2,249.8 329.2,253.2 329.5,253.5 329.2,256.8 327.2,262.8 323.2,267.5 318.2,269.5 315.5,271.5 307.8,270.5 306.2,269.2 301.8,267.2 299.5,264.8 297.8,261.8 297.8,256.2 296.2,253.2 296.2,250.8 298.2,248.5 299.2,245.5 301.8,242.8 303.5,239.8 304.8,238.5Z" fill="#3987ee" fill-rule="evenodd"/>
<path d="M304.2,176.8 292.8,179.2 282.5,183.5 273.5,189.5 264.5,198.5 259.5,205.8 256.5,211.8 253.8,219.5 252.5,225.5 251.8,231.2 252.2,242.2 254.5,252.8 256.5,258.2 259.5,264.2 266.2,273.5 275.2,281.8 280.2,285.2 285.8,288.2 295.2,291.5 304.2,293.2 316.2,293.2 326.5,291.2 333.8,288.5 338.5,286.2 348.2,279.5 356.2,271.2 362.2,261.8 366.5,250.8 368.5,239.5 368.2,227.2 366.5,219.2 364.8,214.2 360.5,205.2 354.5,196.8 346.5,189.2 338.5,183.8 333.8,181.5 326.5,178.8 316.2,176.8ZM316.8,236.2 317.8,236.5 319.8,238.5 323.2,239.8 324.8,241.2 329.5,248.5 330.2,254.5 327.8,263.5 323.5,268.2 318.5,270.2 315.2,272.5 307.5,271.2 304.8,269.2 301.2,267.8 299.5,266.2 296.8,260.8 296.8,255.8 295.5,253.2 295.5,250.8 297.5,248.2 298.8,244.5 301.8,241.5 302.8,239.5 304.2,238.2 306.2,237.2 309.5,236.5 316.2,236.5Z" fill="#3696eb" fill-rule="evenodd"/>
<path d="M304.2,176.8 292.8,179.2 282.5,183.5 273.5,189.5 264.5,198.5 259.5,205.8 256.5,211.8 253.8,219.5 252.5,225.5 251.8,231.2 252.2,242.2 254.5,252.8 256.5,258.2 259.5,264.2 266.2,273.5 275.2,281.8 280.2,285.2 285.8,288.2 295.2,291.5 304.2,293.2 316.2,293.2 326.5,291.2 333.8,288.5 338.5,286.2 348.2,279.5 356.2,271.2 362.2,261.8 366.5,250.8 368.5,239.5 368.2,227.2 366.5,219.2 364.8,214.2 360.5,205.2 354.5,196.8 346.5,189.2 338.5,183.8 333.8,181.5 326.5,178.8 316.2,176.8ZM306.8,236.2 312.2,235.5 318.5,235.8 320.8,238.2 324.8,239.8 326.2,241.2 327.8,244.8 329.5,246.8 330.2,248.8 330.8,255.2 329.2,260.2 329.2,262.2 328.5,263.8 324.2,268.5 319.2,270.5 315.8,272.8 312.2,272.8 306.8,271.8 304.5,269.8 301.2,268.8 298.8,266.5 295.5,259.5 295.8,255.2 294.8,253.2 294.8,250.8 296.8,247.8 297.2,245.8 298.2,244.2 300.8,241.5 302.2,239.2 305.2,236.8Z" fill="#34a4e8" fill-rule="evenodd"/>
<path d="M304.2,176.8 292.8,179.2 282.5,183.5 273.5,189.5 264.5,198.5 259.5,205.8 256.5,211.8 253.8,219.5 252.5,225.5 251.8,231.2 252.2,242.2 254.5,252.8 256.5,258.2 259.5,264.2 266.2,273.5 275.2,281.8 280.2,285.2 285.8,288.2 295.2,291.5 304.2,293.2 316.2,293.2 326.5,291.2 333.8,288.5 338.5,286.2 348.2,279.5 356.2,271.2 362.2,261.8 366.5,250.8 368.5,239.5 368.2,227.2 366.5,219.2 364.8,214.2 360.5,205.2 354.5,196.8 346.5,189.2 338.5,183.8 333.8,181.5 326.5,178.8 316.2,176.8ZM306.8,235.2 315.5,234.5 319.2,235.5 321.2,237.5 325.2,239.2 326.8,240.8 330.5,247.8 331.5,254.5 328.8,264.2 324.5,268.8 314.8,273.5 306.8,272.5 301.5,269.8 298.5,267.2 294.8,260.2 295.2,255.8 294.2,253.2 294.2,250.8 296.2,247.5 296.5,245.5 300.8,239.5 303.8,236.8Z" fill="#32ace8" fill-rule="evenodd"/>
<path d="M304.2,176.8 292.8,179.2 282.5,183.5 273.5,189.5 264.5,198.5 259.5,205.8 256.5,211.8 253.8,219.5 252.5,225.5 251.8,231.2 252.2,242.2 254.5,252.8 256.5,258.2 259.5,264.2 266.2,273.5 275.2,281.8 280.2,285.2 285.8,288.2 295.2,291.5 304.2,293.2 316.2,293.2 326.5,291.2 333.8,288.5 338.5,286.2 348.2,279.5 356.2,271.2 362.2,261.8 366.5,250.8 368.5,239.5 368.2,227.2 366.5,219.2 364.8,214.2 360.5,205.2 354.5,196.8 346.5,189.2 338.5,183.8 333.8,181.5 326.5,178.8 316.2,176.8ZM307.5,234.2 308.5,234.5 312.8,233.8 317.5,234.2 319.2,234.8 321.5,236.8 325.2,238.5 327.8,241.2 330.5,246.5 331.2,248.8 331.8,255.8 330.2,260.5 329.8,263.5 325.2,268.8 315.2,273.8 307.5,273.2 301.5,270.5 298.2,267.5 295.8,263.8 294.2,259.8 294.2,254.5 293.5,251.5 296.2,244.5 298.2,242.2 299.2,240.2 301.2,238.2 306.2,234.5Z" fill="#31b4e8" fill-rule="evenodd"/>
<path d="M304.2,176.8 292.8,179.2 282.5,183.5 273.5,189.5 264.5,198.5 259.5,205.8 256.5,211.8 253.8,219.5 252.5,225.5 251.8,231.2 252.2,242.2 254.5,252.8 256.5,258.2 259.5,264.2 266.2,273.5 275.2,281.8 280.2,285.2 285.8,288.2 295.2,291.5 304.2,293.2 316.2,293.2 326.5,291.2 333.8,288.5 338.5,286.2 348.2,279.5 356.2,271.2 362.2,261.8 366.5,250.8 368.5,239.5 368.2,227.2 366.5,219.2 364.8,214.2 360.5,205.2 354.5,196.8 346.5,189.2 338.5,183.8 333.8,181.5 326.5,178.8 316.2,176.8ZM307.2,233.5 311.8,233.5 312.2,233.2 317.5,233.5 321.5,236.2 325.2,237.8 327.8,240.2 331.2,246.8 331.8,249.5 332.5,254.8 329.8,264.2 324.5,269.8 315.2,274.2 311.2,274.2 309.2,273.5 306.8,273.5 301.5,271.2 297.5,267.5 294.5,262.5 293.5,258.8 293.8,255.8 293.2,253.8 293.2,250.5 295.8,243.8 299.8,238.2 301.8,237.2 305.5,234.2Z" fill="#30bade" fill-rule="evenodd"/>
<path d="M304.2,176.8 292.8,179.2 282.5,183.5 273.5,189.5 264.5,198.5 259.5,205.8 256.5,211.8 253.8,219.5 252.5,225.5 251.8,231.2 252.2,242.2 254.5,252.8 256.5,258.2 259.5,264.2 266.2,273.5 275.2,281.8 280.2,285.2 285.8,288.2 295.2,291.5 304.2,293.2 316.2,293.2 326.5,291.2 333.8,288.5 338.5,286.2 348.2,279.5 356.2,271.2 362.2,261.8 366.5,250.8 368.5,239.5 368.2,227.2 366.5,219.2 364.8,214.2 360.5,205.2 354.5,196.8 346.5,189.2 338.5,183.8 333.8,181.5 326.5,178.8 316.2,176.8ZM307.5,232.8 311.8,232.8 312.2,232.5 317.2,232.8 326.2,237.8 328.5,240.2 332.2,248.5 332.8,252.2 332.8,255.5 330.5,263.8 325.5,269.5 318.8,273.2 315.2,274.5 310.8,274.5 308.5,273.8 306.2,273.8 302.2,272.2 298.5,269.2 296.2,266.5 293.8,262.2 293.2,259.8 293.2,255.5 292.5,253.5 292.5,251.2 295.2,243.8 299.2,237.8 301.2,236.8 305.5,233.5Z" fill="#30beca" fill-rule="evenodd"/>
<path d="M304.2,176.8 292.8,179.2 282.5,183.5 273.5,189.5 264.5,198.5 259.5,205.8 256.5,211.8 253.8,219.5 252.5,225.5 251.8,231.2 252.2,242.2 254.5,252.8 256.5,258.2 259.5,264.2 266.2,273.5 275.2,281.8 280.2,285.2 285.8,288.2 295.2,291.5 304.2,293.2 316.2,293.2 326.5,291.2 333.8,288.5 338.5,286.2 348.2,279.5 356.2,271.2 362.2,261.8 366.5,250.8 368.5,239.5 368.2,227.2 366.5,219.2 364.8,214.2 360.5,205.2 354.5,196.8 346.5,189.2 338.5,183.8 333.8,181.5 326.5,178.8 316.2,176.8ZM306.5,232.5 312.2,231.8 316.8,232.2 319.5,233.2 326.5,237.5 328.8,239.8 332.5,247.8 333.5,253.5 332.8,257.5 331.5,260.5 331.2,263.2 330.2,264.8 324.8,270.5 318.2,273.8 314.8,274.8 310.5,274.8 305.8,274.2 301.8,272.5 295.8,266.8 293.5,262.5 292.8,260.2 292.2,250.2 294.2,244.5 297.2,239.2 299.5,236.8Z" fill="#33c3b5" fill-rule="evenodd"/>
<path d="M304.2,176.8 292.8,179.2 282.5,183.5 273.5,189.5 264.5,198.5 259.5,205.8 256.5,211.8 253.8,219.5 252.5,225.5 251.8,231.2 252.2,242.2 254.5,252.8 256.5,258.2 259.5,264.2 266.2,273.5 275.2,281.8 280.2,285.2 285.8,288.2 295.2,291.5 304.2,293.2 316.2,293.2 326.5,291.2 333.8,288.5 338.5,286.2 348.2,279.5 356.2,271.2 362.2,261.8 366.5,250.8 368.5,239.5 368.2,227.2 366.5,219.2 364.8,214.2 360.5,205.2 354.5,196.8 346.5,189.2 338.5,183.8 333.8,181.5 326.5,178.8 316.2,176.8ZM316.5,231.5 318.8,232.2 326.8,237.2 329.5,239.8 333.5,249.8 333.8,251.5 333.5,256.5 330.8,264.5 325.5,270.5 319.2,273.8 314.8,275.2 310.2,275.2 305.8,274.5 301.2,272.5 294.8,266.2 292.5,260.8 292.2,255.8 291.5,254.2 291.8,249.5 295.5,240.8 297.2,238.2 298.8,236.5 302.2,234.2 307.2,231.8 313.2,231.2Z" fill="#38c8a0" fill-rule="evenodd"/>
<path d="M304.2,176.8 292.8,179.2 282.5,183.5 273.5,189.5 264.5,198.5 259.5,205.8 256.5,211.8 253.8,219.5 252.5,225.5 251.8,231.2 252.2,242.2 254.5,252.8 256.5,258.2 259.5,264.2 266.2,273.5 275.2,281.8 280.2,285.2 285.8,288.2 295.2,291.5 304.2,293.2 316.2,293.2 326.5,291.2 333.8,288.5 338.5,286.2 348.2,279.5 356.2,271.2 362.2,261.8 366.5,250.8 368.5,239.5 368.2,227.2 366.5,219.2 364.8,214.2 360.5,205.2 354.5,196.8 346.5,189.2 338.5,183.8 333.8,181.5 326.5,178.8 316.2,176.8ZM310.8,230.8 317.8,231.2 322.8,233.8 328.5,237.8 330.2,240.2 330.5,241.8 333.5,247.8 334.2,250.5 333.8,256.8 331.8,263.2 330.5,265.5 327.5,269.2 325.2,271.2 320.2,273.8 314.8,275.5 309.8,275.5 304.5,274.5 301.5,273.2 296.8,269.2 294.5,266.5 292.5,262.5 291.8,259.5 291.8,256.8 291.2,255.2 291.2,249.8 293.5,243.5 296.8,237.8 301.5,233.8 306.8,231.5Z" fill="#43cd8b" fill-rule="evenodd"/>
<path d="M304.2,176.8 292.8,179.2 282.5,183.5 273.5,189.5 264.5,198.5 259.5,205.8 256.5,211.8 253.8,219.5 252.5,225.5 251.8,231.2 252.2,242.2 254.5,252.8 256.5,258.2 259.5,264.2 266.2,273.5 275.2,281.8 280.2,285.2 285.8,288.2 295.2,291.5 304.2,293.2 316.2,293.2 326.5,291.2 333.8,288.5 338.5,286.2 348.2,279.5 356.2,271.2 362.2,261.8 366.5,250.8 368.5,239.5 368.2,227.2 366.5,219.2 364.8,214.2 360.5,205.2 354.5,196.8 346.5,189.2 338.5,183.8 333.8,181.5 326.5,178.8 316.2,176.8ZM311.8,230.2 318.5,230.8 322.8,233.2 328.2,236.8 330.5,239.8 330.8,241.5 334.2,248.2 334.8,251.5 334.2,257.2 332.2,262.5 332.2,263.5 328.8,268.2 324.8,271.8 320.5,274.2 314.8,275.8 309.2,275.8 305.5,275.2 301.5,273.5 297.8,270.5 294.2,266.8 292.2,262.8 291.5,260.2 291.5,257.8 290.5,254.5 290.8,249.2 294.2,241.2 296.5,237.5 300.5,233.8 307.5,230.8Z" fill="#4cd078" fill-rule="evenodd"/>
<path d="M304.2,176.8 292.8,179.2 282.5,183.5 273.5,189.5 264.5,198.5 259.5,205.8 256.5,211.8 253.8,219.5 252.5,225.5 251.8,231.2 252.2,242.2 254.5,252.8 256.5,258.2 259.5,264.2 266.2,273.5 275.2,281.8 280.2,285.2 285.8,288.2 295.2,291.5 304.2,293.2 316.2,293.2 326.5,291.2 333.8,288.5 338.5,286.2 348.2,279.5 356.2,271.2 362.2,261.8 366.5,250.8 368.5,239.5 368.2,227.2 366.5,219.2 364.8,214.2 360.5,205.2 354.5,196.8 346.5,189.2 338.5,183.8 333.8,181.5 326.5,178.8 316.2,176.8ZM308.8,229.8 318.2,230.2 327.2,235.2 330.8,239.2 331.5,241.8 335.2,249.8 335.2,254.2 334.2,259.2 333.2,260.8 332.5,263.5 328.2,269.5 325.2,272.2 320.8,274.5 314.8,276.2 308.5,276.2 305.5,275.5 300.8,273.5 294.2,267.5 291.5,262.5 290.8,256.8 290.2,255.2 290.5,248.5 292.5,243.5 296.2,237.2 301.2,232.8Z" fill="#54d068" fill-rule="evenodd"/>
<path d="M304.2,176.8 295.2,178.5 285.8,181.8 286.2,183.5 285.5,185.8 284.2,184.8 283.8,183.2 282.5,183.5 272.8,190.2 272.8,191.2 269.5,194.2 268.2,194.5 264.5,198.5 260.5,204.2 257.5,209.8 259.2,214.5 257.8,215.2 256.5,212.5 253.8,219.5 252.5,225.5 251.8,231.2 252.2,242.2 254.5,252.8 258.2,261.5 259.2,261.8 259.5,264.2 266.2,273.5 275.2,281.8 280.2,285.2 285.8,288.2 295.2,291.5 304.2,293.2 316.2,293.2 326.5,291.2 333.8,288.5 338.5,286.2 348.2,279.5 356.2,271.2 360.5,264.8 364.2,257.5 362.8,254.8 364.5,253.2 365.8,252.8 366.5,250.8 368.5,238.5 367.5,238.2 367.5,237.5 368.5,236.5 368.2,227.2 366.5,219.2 364.8,214.2 360.5,205.2 356.2,198.8 348.8,191.2 347.8,192.2 346.5,192.5 344.5,191.2 345.2,188.2 339.5,184.5 338.8,186.2 337.8,186.8 334.8,183.8 333.2,183.2 332.2,182.2 331.8,180.8 326.5,178.8 316.2,176.8ZM308.8,229.2 317.8,229.5 327.5,234.5 330.8,238.2 331.8,241.5 335.5,248.8 335.8,253.2 334.5,259.5 333.5,261.2 332.5,264.5 329.5,268.5 325.8,272.2 320.5,275.2 314.8,276.5 308.2,276.5 303.5,275.2 300.2,273.5 293.8,267.8 291.2,262.8 290.5,260.2 290.5,257.5 289.5,253.8 289.8,248.8 293.2,241.2 295.8,236.8 300.2,232.8ZM365.2,226.8 365.8,226.5 366.2,227.5 365.8,227.8ZM257.2,226.2 257.8,226.8 257.8,227.8 256.8,228.5 256.5,227.2ZM274.5,191.5 276.2,189.8 279.5,190.5 280.2,191.2 279.5,192.2 275.5,192.5ZM288.2,188.8 289.2,190.2 288.2,191.2 287.5,191.2 286.8,190.2ZM329.8,188.5 330.8,187.8 332.8,187.5 334.2,189.2 332.8,190.8 331.5,190.8 329.8,189.5ZM290.8,182.5 291.8,181.5 293.2,181.2 296.5,182.8 297.8,184.5 296.8,185.5 295.2,186.2 293.2,186.2 290.8,184.5ZM311.8,178.5 311.5,180.5 310.2,181.8 308.5,181.5 307.8,180.5 308.2,179.5 309.5,178.2 310.8,177.8Z" fill="#60d652" fill-rule="evenodd"/>
<path d="M252.5,225.8 252.2,228.8 253.8,228.2 253.8,226.5ZM364.8,215.2 364.2,217.5 364.5,218.5 366.5,220.2 366.5,219.2 365.2,215.2ZM361.2,211.2 361.2,212.2 361.8,212.8 364.2,213.2 363.2,210.2ZM342.8,186.5 341.2,185.5 340.2,187.2 340.2,188.8 341.5,188.5ZM327.2,179.8 325.8,181.2 325.8,182.5 326.8,183.5 329.5,183.8 330.2,183.2 330.2,181.2 328.5,179.8ZM294.5,178.8 289.8,180.2 289.2,180.8 291.2,179.8 294.2,179.8ZM303.5,177.2 300.5,177.5 299.8,179.5 298.2,181.2 299.5,184.2 301.2,185.5 302.2,184.8 303.5,182.8 305.5,182.2 305.5,181.5 304.2,179.8ZM315.8,176.8 314.5,176.8 314.2,177.5 314.2,180.5 315.8,182.5 315.8,184.2 310.8,189.2 309.8,188.8 310.2,186.2 309.8,184.5 308.2,184.8 305.8,187.8 302.2,187.2 301.5,188.8 300.2,190.2 299.2,189.5 297.5,187.2 295.8,187.2 293.8,188.2 291.8,187.8 291.2,188.2 290.2,191.8 287.8,193.5 285.8,192.8 284.2,191.5 283.2,191.5 281.8,192.5 280.5,195.2 280.2,197.2 280.5,199.8 279.5,200.8 277.8,200.5 276.5,199.2 277.8,197.2 277.5,195.5 273.5,193.5 272.2,193.5 269.8,196.2 268.5,196.8 266.2,196.8 262.5,201.2 263.8,201.5 267.2,199.8 268.2,200.5 268.5,201.5 268.2,203.8 267.2,204.8 261.5,203.8 260.2,204.8 259.2,206.8 259.2,207.8 260.2,209.2 263.8,208.5 265.2,209.5 265.2,211.8 264.5,213.2 263.5,214.2 262.8,215.8 259.5,218.2 256.8,217.2 255.2,215.8 254.5,217.2 254.8,218.2 253.8,219.5 253.2,222.2 256.2,222.5 257.8,221.5 259.8,221.8 260.5,222.5 260.5,224.2 259.8,225.5 259.8,228.2 257.5,231.2 256.2,231.8 254.2,231.5 251.8,232.8 251.8,238.8 252.8,240.5 254.2,241.5 253.2,239.5 253.2,237.5 254.2,236.2 255.5,235.5 257.5,236.8 258.2,240.2 257.2,241.2 255.8,241.5 256.2,243.2 255.5,244.5 253.2,246.5 253.2,247.8 255.2,254.8 256.8,258.5 257.5,258.2 259.2,258.8 260.2,258.5 260.8,259.2 260.8,262.5 260.2,265.2 262.2,268.2 264.5,268.5 265.8,269.8 267.2,274.5 273.5,280.5 282.5,286.5 292.8,290.8 304.2,293.2 316.2,293.2 326.5,291.2 333.8,288.5 343.8,282.8 348.2,279.5 354.5,273.2 358.5,267.8 359.2,264.5 361.5,262.8 363.8,258.2 361.8,256.8 361.5,254.5 365.8,249.5 366.5,250.2 367.2,247.5 366.2,247.5 364.2,245.2 363.8,242.2 365.2,239.5 365.8,234.2 367.2,233.2 367.5,231.5 365.2,230.2 364.2,230.2 363.2,231.5 361.8,230.5 363.5,227.8 363.8,223.2 359.8,221.2 357.8,218.2 359.5,215.5 358.8,212.5 359.5,209.5 361.2,206.8 357.5,204.8 357.2,203.5 357.8,202.5 357.8,201.2 357.2,200.2 354.5,198.2 354.2,196.5 351.2,193.5 350.5,193.8 350.5,195.2 351.2,196.5 351.2,199.5 351.8,201.2 355.5,203.5 355.2,205.8 353.5,206.8 352.5,205.8 352.5,204.5 351.5,202.5 346.5,202.2 343.5,200.5 341.8,198.8 341.8,197.8 342.5,197.2 343.5,197.2 345.2,198.2 346.2,197.8 346.5,196.5 346.2,195.2 343.8,193.2 339.8,192.8 337.8,191.5 336.2,191.5 335.5,192.8 338.2,194.5 338.2,195.5 337.5,196.2 335.5,196.2 331.2,192.5 328.8,191.8 327.8,190.8 325.8,186.8 324.5,186.5 321.5,188.2 319.8,187.5 318.2,184.8 319.8,181.2 319.8,179.2 318.5,177.8ZM361.5,230.8 361.8,230.5 362.2,230.8 361.8,231.2ZM309.5,228.2 313.2,228.8 315.5,228.5 317.8,228.8 325.5,232.8 327.2,233.2 331.5,237.8 333.5,244.2 336.5,250.2 336.5,252.2 334.8,260.2 333.5,262.5 333.2,264.2 329.5,269.2 326.5,272.2 320.8,275.5 315.2,276.8 307.8,276.8 303.5,275.5 300.5,274.2 295.2,269.8 293.2,267.5 290.5,262.5 290.2,258.2 289.2,254.5 289.8,247.2 292.8,240.8 296.2,235.5 300.2,232.2 305.2,230.5 308.2,228.5Z" fill="#6cdc3c" fill-rule="evenodd"/>
<path d="M283.5,194.2 283.8,194.8 284.8,194.8 284.5,194.2ZM316.5,186.5 315.2,186.8 314.8,187.8 313.5,189.2 312.5,189.5 309.8,191.8 308.2,192.2 304.2,190.8 302.5,190.8 298.5,194.2 297.5,194.2 296.5,193.2 296.5,191.2 297.5,190.2 296.8,188.8 294.8,189.8 293.2,189.8 292.2,190.5 290.5,194.2 289.2,195.5 286.2,195.8 285.5,197.2 283.2,199.5 282.5,201.2 281.2,202.5 275.8,203.2 273.5,201.2 271.2,200.8 270.5,201.5 270.8,203.8 273.5,205.8 273.5,206.8 271.5,209.5 268.5,210.5 267.8,212.8 265.2,214.8 263.8,217.5 261.5,219.8 262.5,223.8 261.8,225.2 261.5,229.2 260.5,231.2 260.8,233.2 259.8,234.2 259.5,235.8 259.8,241.5 258.5,246.2 256.8,246.8 256.5,247.5 259.5,250.5 259.5,252.2 258.5,253.5 258.5,254.5 262.2,258.2 262.5,264.8 266.2,268.5 268.8,276.2 271.2,278.5 273.8,279.5 278.5,283.5 282.2,285.5 283.2,286.5 291.2,290.2 301.5,292.8 316.2,293.2 320.8,292.5 328.5,290.5 338.5,286.2 345.8,281.2 351.5,275.5 352.2,273.8 354.5,271.8 357.2,267.8 357.8,264.2 360.5,261.5 361.5,261.5 362.2,260.8 362.2,259.2 360.5,256.5 360.5,254.5 362.8,250.8 362.8,246.2 362.2,243.5 363.5,240.5 363.5,238.5 361.2,236.2 360.8,233.8 359.5,230.2 359.8,228.5 361.8,227.2 362.2,224.8 359.2,223.8 355.8,219.5 356.2,214.8 357.2,213.5 356.8,211.5 356.2,210.8 352.8,211.2 351.2,212.2 350.5,211.5 351.2,210.2 351.2,208.8 349.8,206.2 349.2,205.5 346.2,205.2 343.8,202.5 340.8,200.2 339.5,197.8 334.2,197.5 332.2,196.5 330.8,195.2 328.8,194.5 326.5,191.8 325.2,189.2 323.8,189.2 321.8,190.8 319.5,190.5 317.5,188.8 317.2,187.2ZM309.5,227.2 311.2,227.2 312.8,227.8 316.8,227.8 322.5,229.8 325.2,231.5 327.8,232.2 328.8,233.2 329.5,234.8 331.8,237.2 334.2,244.5 337.5,250.2 336.2,255.2 336.2,258.8 333.2,265.2 329.8,269.5 327.5,271.8 322.5,275.5 315.2,277.2 307.5,277.2 299.8,274.2 292.8,267.8 290.2,263.2 289.5,260.8 289.5,256.8 288.8,254.8 288.8,248.2 295.5,235.2 300.5,231.2 304.5,230.2 307.2,228.2ZM300.8,181.2 300.5,182.8 301.2,183.2 301.5,181.5Z" fill="#7ce13b" fill-rule="evenodd"/>
<path d="M314.8,190.5 313.8,190.5 312.5,192.5 307.8,194.2 305.2,193.2 302.8,193.2 298.2,195.8 296.2,197.5 293.8,196.8 288.5,199.8 285.8,199.5 284.5,200.2 282.5,203.2 279.8,204.2 277.8,206.5 275.5,208.2 273.5,212.2 272.2,213.5 269.8,213.8 265.8,216.2 263.5,220.5 263.8,222.2 263.5,230.2 263.2,230.5 263.5,233.8 261.8,237.5 261.5,240.5 260.8,242.2 260.8,246.2 259.8,247.5 259.8,248.8 261.2,251.5 260.8,253.5 262.8,257.5 263.2,262.5 266.5,267.8 267.8,271.5 269.8,275.2 278.5,282.8 283.8,286.5 294.8,291.2 304.5,293.2 315.2,293.2 322.2,292.2 334.2,288.2 339.8,285.2 344.2,281.8 350.2,275.8 351.2,273.8 355.2,269.5 356.8,264.5 360.5,259.5 359.8,256.8 359.8,254.2 361.5,251.2 361.8,239.8 360.2,237.2 358.8,230.8 358.8,227.2 358.2,225.5 354.5,220.5 354.5,218.5 353.2,215.5 352.2,214.5 349.2,213.5 347.8,212.2 347.5,210.8 348.5,209.5 348.2,208.2 346.2,207.2 344.2,205.2 342.5,204.5 338.8,200.8 337.8,199.2 332.2,198.8 328.2,197.2 324.8,194.5 319.2,194.2ZM309.5,226.2 316.2,226.8 319.2,228.2 322.2,228.8 325.2,230.5 328.5,230.8 329.5,232.2 330.2,234.5 332.5,236.8 333.2,238.2 335.2,245.2 338.5,249.5 338.5,251.2 337.5,252.8 336.8,255.5 336.8,259.8 335.2,262.2 334.2,264.8 327.5,272.5 321.8,276.5 317.8,276.8 316.2,277.5 309.2,277.5 308.5,277.8 301.5,275.5 299.5,274.5 293.2,269.2 289.2,262.2 288.8,260.5 289.2,258.2 288.2,254.2 288.2,247.8 291.5,240.8 293.5,238.5 294.8,234.8 300.2,230.5 302.5,229.5 304.8,229.2 307.8,226.8Z" fill="#8fe338" fill-rule="evenodd"/>
<path d="M316.8,194.2 315.5,194.2 312.8,196.8 311.8,196.8 310.2,195.8 306.2,196.5 304.5,194.5 303.2,194.5 299.5,196.5 296.8,198.8 293.5,198.5 292.2,199.5 291.8,200.5 290.5,201.8 289.2,201.8 286.5,200.8 285.2,201.2 282.5,204.5 280.8,205.2 278.8,207.5 277.8,207.8 276.2,209.5 274.5,213.5 273.2,214.8 270.5,215.5 269.2,216.5 267.2,216.8 266.8,217.8 267.8,218.2 268.8,219.2 268.8,219.8 266.2,222.2 265.5,223.5 264.5,228.2 264.5,234.2 262.2,241.5 262.5,246.8 261.8,247.8 261.8,250.5 263.2,253.8 263.8,261.8 267.8,268.8 269.5,273.5 279.5,283.2 284.5,286.5 292.5,290.2 302.8,292.8 312.2,293.2 321.5,292.2 328.2,290.2 330.5,288.8 333.5,288.2 340.2,284.5 347.2,278.5 349.5,275.8 350.5,273.5 354.8,268.8 355.5,265.2 359.2,259.5 358.8,254.8 360.5,250.8 359.8,244.2 360.2,240.5 359.2,238.2 357.8,227.5 356.5,225.5 354.5,224.8 353.2,223.5 352.5,221.5 352.2,217.8 349.8,215.2 347.2,213.2 345.8,210.8 345.8,208.8 345.2,207.8 342.2,205.8 339.5,205.8 337.8,206.5 337.2,205.8 337.5,204.2 334.5,200.8 333.2,200.2 331.5,200.2 328.2,199.2 325.2,196.2 323.8,195.5 318.8,195.8ZM311.5,224.5 313.2,224.5 315.2,225.8 317.8,226.5 319.5,227.5 322.2,227.8 325.2,229.5 328.8,229.8 329.8,230.8 330.8,233.8 333.2,236.2 334.2,238.2 334.5,239.8 335.5,241.2 335.8,244.8 339.2,248.5 339.8,250.2 337.5,255.2 337.5,257.5 338.2,259.5 337.8,260.5 336.2,262.2 334.8,265.2 330.2,270.8 323.2,276.5 321.8,277.2 319.2,277.2 315.5,278.2 306.2,277.8 304.5,276.8 299.5,275.2 295.5,272.2 291.8,268.2 288.8,262.8 288.2,260.2 288.5,257.8 287.5,253.5 287.8,246.2 289.5,243.8 290.5,240.8 292.8,238.2 294.2,234.2 299.5,229.8 301.5,228.8 304.2,228.5 307.2,226.2Z" fill="#a4e034" fill-rule="evenodd"/>
<path d="M316.2,196.5 312.2,198.5 310.5,197.8 307.8,197.8 306.5,198.5 303.2,198.5 300.8,197.8 299.8,198.2 297.5,200.2 294.2,199.8 293.2,201.2 293.2,202.2 291.8,203.5 286.2,203.2 283.8,205.5 282.2,206.2 279.8,208.5 278.8,208.8 277.2,210.8 276.8,212.5 275.8,214.2 271.8,217.8 269.8,221.5 266.8,224.2 265.2,230.2 265.2,235.5 263.5,239.5 263.8,246.8 263.2,248.5 263.2,251.2 264.2,253.2 264.5,261.5 266.5,265.8 268.8,269.5 269.5,272.2 270.5,273.8 274.5,277.8 276.8,279.5 280.2,283.2 284.5,286.2 292.5,289.8 304.5,292.8 313.8,292.8 321.8,291.8 328.2,289.8 331.2,288.2 333.5,287.8 336.5,285.8 338.5,285.2 348.2,276.5 349.8,273.2 352.8,270.5 354.2,268.2 354.5,265.2 356.5,262.8 358.5,257.8 357.8,253.8 358.8,252.2 359.2,250.2 358.5,248.5 358.5,245.5 357.2,243.8 357.2,241.8 358.2,239.5 358.2,236.2 357.8,235.8 358.2,234.2 356.8,227.8 355.2,226.8 351.8,227.8 350.5,227.2 351.2,226.2 350.8,221.8 350.2,220.2 347.8,217.2 347.5,215.5 346.2,213.2 344.5,211.8 341.5,212.2 339.2,209.2 336.5,208.2 335.5,206.8 335.5,204.5 333.8,202.5 333.2,202.2 329.2,202.5 326.2,201.8 322.2,198.8 318.5,199.5ZM312.5,222.2 313.5,222.5 314.5,224.2 315.8,225.2 320.2,226.5 321.8,226.5 325.2,228.5 329.8,228.8 330.8,230.5 331.5,233.2 334.5,236.2 335.8,238.5 339.8,241.8 340.2,242.5 339.8,243.5 337.8,241.8 336.8,244.2 341.2,249.5 341.5,251.2 340.5,252.5 339.2,253.2 338.5,254.5 338.5,258.2 339.2,259.5 338.8,260.8 336.8,262.8 334.8,266.8 329.2,272.5 324.2,276.5 321.5,277.8 318.5,277.8 315.2,278.8 312.8,278.5 308.2,278.8 298.8,275.5 295.2,272.8 291.5,268.5 290.5,266.5 289.2,265.2 287.5,260.8 287.5,255.5 286.8,253.5 286.5,248.8 287.2,245.5 289.2,242.8 289.8,239.8 292.5,237.2 293.2,233.8 300.8,227.5 304.5,227.2 306.5,225.5 309.8,224.2Z" fill="#bade32" fill-rule="evenodd"/>
<path d="M333.5,204.2 328.8,204.5 325.8,205.8 323.5,210.2 321.5,211.8 320.8,211.8 319.5,209.2 319.8,206.8 321.2,205.5 324.2,205.8 324.8,205.2 324.8,204.2 322.2,201.8 320.2,201.5 318.8,202.2 317.5,202.2 315.2,203.5 313.5,203.5 311.2,201.5 308.8,200.5 307.5,200.8 306.5,202.8 305.8,202.8 304.2,201.2 301.8,200.8 298.5,202.8 297.2,202.8 295.5,204.2 292.5,204.5 289.5,205.5 288.8,206.2 288.8,207.8 289.5,208.8 289.2,210.5 286.5,210.2 284.8,207.5 283.2,207.8 279.2,211.2 278.5,213.2 275.5,216.2 274.5,218.5 272.5,219.8 271.2,221.8 267.5,225.5 267.2,228.2 266.2,230.5 265.8,236.5 264.5,239.2 264.5,242.5 265.2,245.8 264.2,248.8 264.2,250.8 265.2,253.8 265.5,257.2 265.2,260.8 266.8,265.2 269.5,269.2 270.5,272.5 274.2,275.8 280.5,282.8 284.8,285.8 292.8,289.5 304.2,292.5 308.5,292.8 321.5,291.5 327.8,289.5 329.8,288.2 333.2,287.5 336.5,285.2 339.2,284.2 344.8,278.5 346.8,277.2 348.5,274.8 349.2,272.5 351.8,270.5 352.8,269.2 353.2,265.2 355.5,262.8 356.2,261.5 356.2,259.5 357.2,258.2 357.2,256.2 355.8,253.5 355.8,251.2 356.5,250.2 356.5,246.5 354.8,244.2 355.5,241.2 356.8,238.5 356.5,230.8 355.8,229.2 355.2,229.2 354.2,230.2 348.5,229.8 347.8,229.2 347.5,224.8 345.2,222.8 347.2,220.5 346.8,219.2 342.8,217.8 341.2,220.2 339.5,220.2 338.5,218.8 338.5,217.5 339.2,216.8 340.5,216.5 342.2,217.2 342.5,216.5 341.8,215.8 338.5,214.2 336.5,214.5 334.5,212.5 332.8,212.5 329.8,214.2 327.8,214.2 326.5,212.8 326.8,211.2 329.5,209.2 331.2,208.5 333.8,208.5 334.5,207.8 334.2,204.8ZM344.8,246.8 345.5,247.5 345.5,248.5 343.2,249.2 342.8,248.8 343.2,247.2 343.8,246.5ZM351.8,234.8 352.2,234.2 352.8,234.5 352.2,235.2ZM338.2,226.8 338.8,226.2 341.2,226.2 342.5,227.2 342.8,228.2 341.2,229.5 339.5,229.2 338.5,228.2ZM334.8,219.5 335.8,220.8 335.8,223.2 330.8,226.8 331.8,229.8 332.8,230.5 333.5,230.5 335.2,228.5 336.2,228.5 337.2,229.5 337.2,232.5 336.5,233.5 336.8,233.8 336.5,235.2 337.2,236.8 339.2,238.2 340.5,237.5 342.5,241.2 345.5,243.5 343.8,243.8 342.8,245.5 341.8,245.5 341.2,246.2 341.2,247.5 342.8,249.5 342.5,252.2 341.5,253.5 339.5,254.2 339.2,257.8 340.2,258.8 340.5,260.5 337.5,263.8 337.2,266.2 333.2,269.2 329.8,272.8 325.2,276.5 321.5,278.5 318.8,278.5 315.5,279.5 312.5,279.2 308.5,279.5 305.5,278.8 303.5,277.5 299.2,276.5 297.2,275.5 293.8,272.5 288.2,264.8 286.8,260.8 286.8,257.2 285.8,252.2 286.2,245.5 288.5,241.8 288.8,239.5 291.2,237.2 292.8,232.5 298.2,228.5 297.5,225.5 298.8,224.2 299.5,224.2 301.2,222.8 302.2,222.8 302.8,223.8 302.8,225.5 304.2,225.8 309.5,221.8 312.2,220.8 313.8,220.8 315.2,221.8 316.5,224.5 318.2,224.8 319.5,223.5 324.8,223.8 325.8,224.5 325.5,226.8 329.5,226.5 329.5,225.8 327.8,224.2 326.5,224.2 325.8,223.2 326.2,222.8 328.2,223.2 329.2,222.5 331.2,222.2 333.5,219.5ZM305.8,214.8 306.5,214.2 307.8,214.2 308.5,215.5 307.5,216.2 306.5,216.2Z" fill="#d0dc30" fill-rule="evenodd"/>
<path d="M354.8,237.2 351.2,237.5 350.5,238.2 350.5,240.2 349.5,241.2 348.5,241.2 347.5,241.8 348.2,243.2 349.2,243.5 350.8,242.2 353.2,241.8 354.8,238.2ZM344.8,231.2 343.5,231.5 344.8,233.5 344.8,236.2 343.8,237.5 343.8,238.5 346.2,237.8 347.8,236.2 347.5,232.5ZM308.8,219.2 307.2,218.8 304.8,221.8 305.8,222.2 307.8,221.2ZM316.8,213.2 314.2,214.2 313.2,215.2 312.8,218.5 315.8,219.8 317.2,219.8 318.2,219.2 318.2,217.5 317.5,216.2 317.5,213.5ZM293.2,206.5 292.2,206.8 292.5,207.8 293.2,207.5 293.5,206.8ZM317.5,204.2 313.2,205.8 309.5,204.8 307.8,204.8 305.8,206.2 303.5,206.5 302.2,207.8 296.5,207.5 293.8,209.8 292.2,210.2 290.2,212.2 286.8,212.5 285.2,213.5 283.2,216.2 283.2,217.5 283.8,218.5 283.8,219.5 283.2,220.2 281.8,219.5 281.2,216.2 280.5,215.8 277.5,216.2 276.2,217.8 275.8,219.8 274.8,220.8 273.2,221.5 269.5,225.2 268.8,228.2 267.5,230.5 266.8,236.2 265.2,239.8 265.2,241.5 266.2,244.2 266.2,247.5 265.2,250.8 265.8,252.5 265.8,254.5 266.8,256.8 266.2,260.8 267.8,265.5 270.5,269.2 271.2,271.8 274.5,274.8 275.2,276.2 279.2,279.8 279.8,281.2 281.8,283.2 285.5,285.8 289.8,287.2 294.5,289.5 299.5,290.5 302.5,291.8 308.2,292.5 320.5,291.2 327.8,288.8 330.5,287.2 333.5,286.8 335.8,284.5 338.8,283.5 340.8,281.8 342.5,279.5 346.8,275.5 347.8,273.5 347.8,271.8 351.5,269.5 351.2,266.2 353.5,262.2 351.8,260.5 350.8,257.5 352.2,255.8 353.5,255.5 354.2,254.5 353.5,250.5 354.5,248.5 354.2,248.2 353.8,248.5 353.5,250.5 350.8,252.5 349.5,252.5 348.2,251.5 345.2,250.5 343.8,251.5 343.5,253.5 345.2,255.8 345.2,256.8 343.8,258.8 340.8,261.5 339.8,263.5 339.8,264.2 341.8,265.8 342.5,268.2 344.8,270.5 344.2,271.2 341.2,271.5 339.8,272.5 338.8,272.5 337.8,271.5 337.2,269.5 335.8,269.2 332.8,270.5 330.5,273.2 322.5,279.2 321.5,279.5 318.8,279.2 315.5,280.2 306.2,279.8 302.5,277.8 296.5,276.5 293.5,273.2 289.5,267.5 287.5,265.8 287.5,264.2 285.8,259.8 285.8,256.8 285.2,253.8 285.2,247.2 284.5,246.2 284.5,244.8 286.8,243.2 287.5,242.2 287.8,240.8 287.5,239.8 288.2,238.5 290.5,236.2 289.2,233.5 292.5,230.2 295.5,229.2 296.5,228.2 295.8,225.8 294.5,224.5 291.8,223.5 291.5,222.8 295.2,220.8 298.2,220.8 303.2,219.5 304.2,217.2 304.2,214.8 305.2,212.8 306.5,211.8 307.8,211.8 309.5,213.2 311.5,213.5 312.2,211.8 313.8,210.2 317.8,208.2 318.5,204.8Z" fill="#e5d430" fill-rule="evenodd"/>
<path d="M349.2,259.8 347.8,261.8 346.2,261.8 343.2,262.8 343.2,264.5 344.2,267.8 345.8,267.8 346.2,265.5 348.2,263.8 350.5,264.5 350.8,262.8ZM278.2,217.8 277.5,218.5 277.5,219.5 278.2,220.8 280.5,222.8 281.2,227.8 279.8,229.2 277.5,229.2 276.5,228.2 276.2,225.8 275.2,224.8 273.2,224.5 271.8,225.5 271.8,226.5 273.2,228.2 273.2,230.5 271.8,233.5 270.2,234.8 269.2,234.5 268.2,235.5 267.5,238.2 266.5,239.8 266.5,242.2 267.5,245.2 267.5,248.2 266.8,249.5 266.8,253.2 268.2,255.5 268.2,257.8 267.5,259.8 267.8,263.8 268.8,265.5 271.5,268.2 271.8,270.2 274.2,272.5 276.5,276.5 279.8,278.8 280.8,281.2 286.8,285.8 290.5,286.5 294.2,288.5 298.5,289.8 299.8,289.8 302.5,291.2 307.2,291.8 309.5,291.8 314.5,290.8 317.8,290.8 320.5,290.2 323.8,288.5 326.8,288.2 330.2,286.2 332.8,285.8 335.5,283.2 340.2,281.2 341.5,278.5 344.2,276.2 344.8,274.8 344.8,273.5 342.5,273.5 340.5,274.5 338.2,274.5 335.5,271.5 334.5,271.8 333.8,273.2 334.2,274.2 331.8,277.2 330.5,277.5 329.8,276.8 328.8,276.8 324.8,278.5 323.5,279.8 321.2,280.8 306.2,281.2 304.2,280.5 302.2,278.5 297.2,278.2 295.8,277.5 293.5,275.2 291.5,271.2 289.2,268.5 286.5,266.5 286.5,263.5 284.5,259.2 284.5,256.8 283.8,254.8 284.2,247.8 282.2,245.2 283.5,243.5 285.2,242.8 286.2,241.8 286.2,238.5 287.8,236.5 287.2,232.5 291.8,227.8 292.2,226.2 289.2,223.8 287.5,223.2 280.8,222.5 280.2,221.8 279.8,218.2ZM285.5,215.5 285.2,216.2 285.8,217.2 288.5,216.8 290.8,220.2 291.5,220.5 293.2,220.2 293.8,218.2 291.8,217.2 290.8,216.2 290.5,214.8 286.8,214.5ZM297.2,210.8 296.5,211.5 296.5,212.5 299.8,214.8 300.2,215.8 299.8,217.8 301.5,218.2 302.5,216.8 302.5,215.2 303.8,211.5 303.2,210.8 300.5,211.2Z" fill="#f1c82b" fill-rule="evenodd"/>
<path d="M269.2,238.2 268.8,239.8 268.2,240.5 268.2,243.2 268.8,244.2 268.2,251.8 269.5,253.2 271.5,253.5 272.2,254.8 270.5,255.8 268.8,258.2 268.8,263.2 269.5,264.5 273.5,267.8 275.2,272.8 276.5,274.8 278.2,276.5 279.5,276.8 281.5,278.5 282.5,281.2 285.8,284.5 287.5,285.2 290.2,285.2 292.8,286.8 298.8,288.8 301.2,289.2 303.2,290.5 309.5,290.8 311.8,289.8 314.8,290.2 318.2,289.5 318.5,289.2 317.5,287.5 319.5,285.5 322.2,285.8 324.8,284.8 327.5,286.5 329.5,283.8 332.5,284.2 335.8,280.8 335.8,279.8 334.5,277.8 333.5,278.2 331.2,280.2 326.2,279.5 322.5,284.5 319.8,285.2 317.8,282.2 313.2,282.2 312.8,282.5 306.5,282.2 304.2,283.2 301.2,280.2 299.8,279.5 296.2,279.2 292.2,275.2 290.2,271.2 285.8,267.2 285.5,263.5 283.5,260.2 282.8,257.8 282.5,250.8 282.2,250.5 282.5,248.5 281.8,248.5 281.8,249.5 281.2,250.2 279.8,249.5 280.2,246.2 279.5,244.8 279.5,243.5 282.8,241.2 283.8,241.5 284.5,241.2 284.5,240.5 282.5,241.2 280.5,239.5 280.5,238.5 282.5,236.5 283.8,236.2 284.8,235.2 285.2,231.8 282.2,232.2 280.8,231.2 279.2,231.2 277.8,231.8 275.2,231.5 272.8,235.2ZM279.5,258.5 280.2,259.2 280.2,261.2 278.8,261.8 277.8,260.8 277.8,260.2ZM278.8,250.2 279.2,250.5 278.8,253.2 277.2,254.8 276.2,253.8 276.2,251.5 277.2,250.2ZM272.5,243.2 273.5,243.2 274.2,243.8 273.5,245.2 272.5,245.2 271.8,244.5ZM289.2,225.8 286.8,226.2 286.5,226.8 286.8,229.2 288.2,229.2 289.8,227.5 289.8,226.5ZM283.2,225.8 282.8,228.2 284.5,228.5 285.2,227.8 285.2,226.5 284.2,225.8Z" fill="#f4b820" fill-rule="evenodd"/>
<path d="M295.5,283.2 296.2,286.2 299.2,286.2 300.8,286.8 303.8,289.8 307.5,289.8 309.5,287.2 309.5,286.2 308.5,285.2 307.2,285.2 302.8,286.5 297.5,281.2 296.5,281.5ZM291.2,276.5 289.8,276.2 285.5,278.5 284.5,280.2 284.5,281.2 286.5,283.8 289.8,283.5 290.2,280.8 292.2,278.8 292.2,277.8ZM275.5,262.2 274.8,264.5 273.2,264.8 273.2,265.2 275.2,266.8 275.8,268.2 275.5,269.5 275.8,272.2 278.2,274.8 279.8,275.8 283.2,276.5 285.5,274.2 288.5,274.2 289.5,273.5 289.2,271.2 287.8,269.8 285.2,268.5 284.5,265.8 284.5,263.5 284.2,262.5 282.8,261.2 282.2,261.2 281.5,262.5 279.5,263.8 277.8,263.2 276.8,262.2ZM272.2,257.2 270.5,257.5 269.8,258.8 270.2,260.8 271.2,261.5 271.8,261.2 272.8,257.8ZM274.2,256.8 276.5,257.8 276.5,257.2ZM270.5,246.2 269.2,248.5 269.2,250.8 270.2,251.8 271.5,251.8 273.2,251.2 273.5,250.5 272.5,247.2ZM276.5,245.2 276.2,245.8 276.5,247.2 277.8,247.8 278.5,247.2 278.5,246.2 277.8,245.2ZM272.2,239.8 271.5,239.5 271.2,240.5 271.8,240.5ZM279.8,235.8 279.2,235.8 278.8,236.5Z" fill="#f1a820" fill-rule="evenodd"/>
<path d="M288.2,271.8 287.5,270.8 286.5,270.8 283.8,272.5 287.2,272.5ZM281.8,265.5 280.8,265.2 277.8,265.5 277.5,267.8 278.2,270.2 277.2,271.2 277.5,272.5 278.2,272.2 278.2,270.2 278.8,269.5 282.8,267.8 282.8,266.8ZM270.8,248.5 270.2,249.2 270.5,249.8 271.2,249.2Z" fill="#f09920" fill-rule="evenodd"/>
<path d="M284.2,281.5 285.8,282.5 285.8,281.5 285.2,281.2ZM275.2,280.8 278.2,283.8 280.2,285.2 289.8,289.8 299.5,292.5 304.2,293.2 308.2,293.2 307.2,291.8 306.2,291.5 295.5,290.5 291.2,287.8 289.2,287.2 287.8,285.2 281.5,281.5ZM271.5,267.5 273.2,269.2 276.8,271.2 276.5,270.2 275.2,269.2ZM267.8,264.5 268.5,265.8 268.2,267.8 270.8,266.5ZM361.5,261.5 360.8,261.5 358.5,263.8 358.2,264.8 359.5,265.8 360.2,265.2ZM367.5,223.5 367.8,229.2 367.2,231.5 365.2,232.8 363.8,236.8 362.2,238.5 361.2,241.2 358.5,244.5 359.2,251.2 360.5,253.8 361.5,253.2 362.2,255.2 363.5,253.8 363.8,254.2 363.8,257.2 365.2,254.8 366.5,250.8 368.2,242.8 368.5,230.5ZM306.8,177.2 301.8,178.5 300.8,180.2 297.8,183.2 303.5,187.2 308.5,189.2 308.5,194.2 307.8,196.2 307.8,199.8 306.2,203.5 306.5,209.5 305.5,213.5 306.5,217.2 309.2,219.5 310.8,220.2 311.5,219.8 309.8,217.5 309.8,215.8 311.8,213.2 310.8,211.5 312.2,210.5 313.5,208.5 312.8,207.5 314.5,206.8 315.5,204.8 318.2,204.8 319.8,203.2 323.2,202.2 325.2,200.2 327.5,199.2 328.8,197.2 332.5,197.2 332.8,196.8 335.8,197.2 337.5,195.5 338.8,192.8 341.8,192.8 342.2,191.2 337.2,187.5 328.8,182.8 326.8,180.8 315.2,177.5Z" fill="#005030" fill-opacity="0.28" stroke="#202020" stroke-opacity="0.2" stroke-width="0.5" fill-rule="evenodd"/>
<path d="M315.2,228.8 313.8,228.8 310.8,231.2 310.5,233.5 309.2,236.2 306.8,238.5 303.8,238.8 302.2,239.8 301.2,241.2 301.2,242.5 298.5,243.8 296.8,245.8 296.2,247.8 296.2,251.2 297.5,252.8 299.8,259.5 299.8,261.8 294.8,263.2 295.2,266.8 298.8,272.2 302.8,274.5 312.2,275.5 314.8,275.2 318.5,273.8 321.8,271.2 322.5,269.2 324.8,268.8 327.5,267.2 330.2,263.8 329.8,261.2 330.2,253.2 328.8,247.2 326.2,244.5 325.2,244.2 318.8,244.2 317.5,244.8 316.2,244.8 314.2,243.5 311.8,240.5 312.8,234.8 312.5,232.2 313.2,230.8Z" fill="#404838" fill-opacity="0.08" stroke="#202020" stroke-opacity="0.2" stroke-width="0.5" fill-rule="evenodd"/>
<path d="M310.2,255.0 L310.3,254.6 L310.4,254.2 L310.5,253.7 L310.6,253.3 L310.7,252.9 L310.8,252.4 L310.8,252.0 L310.9,251.6 L311.0,251.1 L311.1,250.7 L311.2,250.3 L311.3,249.8 L311.4,249.4 L311.5,249.0 L311.6,248.5 L311.7,248.1 L311.8,247.6 L311.8,247.2 L311.9,246.8 L312.0,246.3 L312.1,245.9 L312.2,245.4 L312.3,245.0 L312.4,244.5 L312.5,244.1 L312.6,243.6 L312.7,243.2 L312.8,242.7 L312.8,242.3 L312.9,241.8 L313.0,241.4 L313.1,240.9 L313.2,240.5 L313.3,240.0 L313.4,239.6 L313.5,239.1 L313.5,238.7 L313.6,238.2 L313.7,237.8 L313.8,237.3 L313.9,236.9 L314.0,236.4 L314.1,236.0 L314.2,235.5 L314.2,235.1 L314.3,234.6 L314.4,234.2 L314.5,233.7 L314.6,233.3 L314.7,232.8 L314.8,232.4 L314.8,231.9 L314.9,231.5 L315.0,231.0 L315.1,230.6 L315.2,230.1 L315.3,229.7 L315.3,229.2 L315.4,228.8 L315.5,228.3 L315.6,227.9 L315.7,227.4 L315.8,227.0 L315.8,226.5 L315.9,226.1 L316.0,225.6 L316.1,225.2 L316.2,224.7 L316.2,224.3 L316.3,223.8 L316.4,223.4 L316.5,222.9 L316.5,222.5 L316.6,222.1 L316.7,221.6 L316.8,221.2 L316.8,220.7 L316.9,220.3 L317.0,219.9 L317.1,219.4 L317.1,219.0 L317.2,218.6 L317.3,218.1 L317.4,217.7 L317.4,217.3 L317.5,216.8 L317.6,216.4 L317.6,216.0 L317.7,215.6 L317.8,215.1 L317.9,214.7 L317.9,214.3 L318.0,213.9 L318.1,213.4 L318.1,213.0 L318.2,212.6 L318.3,212.2 L318.3,211.8 L318.4,211.4 L318.5,211.0 L318.5,210.5 L318.6,210.1 L318.7,209.7 L318.7,209.3 L318.8,208.9 L318.8,208.5 L318.9,208.1 L319.0,207.7 L319.0,207.3 L319.1,206.9 L319.1,206.5 L319.2,206.1 L319.3,205.7 L319.3,205.4 L319.4,205.0 L319.4,204.6 L319.5,204.2 L319.5,203.8 L319.6,203.4 L319.7,203.1 L319.7,202.7 L319.8,202.3 L319.8,201.9 L319.9,201.6 L319.9,201.2 L320.0,200.8 L320.0,200.5 L320.1,200.1 L320.1,199.8 L320.2,199.4 L320.2,199.1 L320.3,198.7 L320.3,198.4 L320.3,198.0 L320.4,197.7 L320.4,197.3 L320.5,197.0 L320.5,196.6 L320.6,196.3 L320.6,196.0 L320.6,195.6 L320.7,195.3 L320.7,195.0 L320.8,194.7 L320.8,194.3 L320.8,194.0 L320.9,193.7 L320.9,193.4 L321.0,193.1 L321.0,192.8 L321.0,192.5 L321.1,192.2 L321.1,191.9 L321.1,191.6 L321.2,191.3 L321.2,191.0 L321.2,190.7 L321.2,190.4 L321.3,190.1 L321.3,189.8 L321.3,189.6 L321.4,189.3 L321.4,189.0 L321.4,188.7 L321.4,188.5 L321.5,188.2 L321.5,187.9 L321.5,187.7 L321.5,187.4 L321.5,187.2 L321.6,186.9 L321.6,186.7 L321.6,186.4 L321.6,186.2 L321.6,186.0 L321.7,185.7 L321.7,185.5 L321.7,185.3 L321.7,185.0 L321.7,184.8 L321.7,184.6 L321.8,184.4 L321.8,184.2 L321.8,184.0 L321.8,183.8 L321.8,183.6 L321.8,183.4 L321.8,183.2 L321.8,183.0 L321.8,182.8 L321.8,182.6 L321.8,182.4 L321.8,182.2 L321.9,182.0 L321.9,181.9 L321.9,181.7 L321.9,181.5 L321.9,181.4 L321.9,181.2 L321.9,181.1 L321.9,180.9 L321.9,180.7 L321.9,180.6 L321.9,180.5 L321.9,180.3 L321.8,180.2 L321.8,180.0 L321.8,179.9 L321.8,179.8 L321.8,179.7 L321.8,179.5 L321.8,179.4 L321.8,179.3 L321.8,179.2 L321.8,179.1 L321.8,179.0 L321.8,178.9 L321.7,178.8 L321.7,178.7 L321.7,178.6 L321.7,178.5 L321.7,178.4 L321.7,178.4 L321.6,178.3 L321.6,178.2 L321.6,178.2 L321.6,178.1 L321.6,178.0 L321.5,178.0 L321.5,177.9 L321.5,177.9 L321.5,177.8 L321.5,177.8 L321.4,177.7 L321.4,177.7 L321.4,177.7 L321.4,177.6 L321.3,177.6 L321.3,177.6 L321.3,177.6 L321.2,177.6 L321.2,177.5 L321.2,177.5 M310.2,255.0 L310.6,254.9 L311.1,254.7 L311.5,254.6 L311.9,254.4 L312.4,254.3 L312.8,254.2 L313.3,254.0 L313.7,253.9 L314.1,253.7 L314.6,253.6 L315.0,253.4 L315.4,253.3 L315.9,253.1 L316.3,253.0 L316.7,252.8 L317.2,252.7 L317.6,252.5 L318.0,252.3 L318.5,252.2 L318.9,252.0 L319.3,251.9 L319.8,251.7 L320.2,251.5 L320.6,251.4 L321.0,251.2 L321.5,251.0 L321.9,250.9 L322.3,250.7 L322.8,250.5 L323.2,250.4 L323.6,250.2 L324.0,250.0 L324.5,249.9 L324.9,249.7 L325.3,249.5 L325.7,249.3 L326.1,249.2 L326.6,249.0 L327.0,248.8 L327.4,248.6 L327.8,248.4 L328.2,248.3 L328.6,248.1 L329.0,247.9 L329.4,247.7 L329.9,247.5 L330.3,247.3 L330.7,247.2 L331.1,247.0 L331.5,246.8 L331.9,246.6 L332.3,246.4 L332.7,246.2 L333.1,246.0 L333.5,245.8 L333.9,245.7 L334.3,245.5 L334.7,245.3 L335.1,245.1 L335.4,244.9 L335.8,244.7 L336.2,244.5 L336.6,244.3 L337.0,244.1 L337.4,243.9 L337.7,243.7 L338.1,243.5 L338.5,243.3 L338.9,243.1 L339.3,242.9 L339.6,242.7 L340.0,242.5 L340.4,242.3 L340.7,242.1 L341.1,241.9 L341.5,241.7 L341.8,241.5 L342.2,241.3 L342.5,241.1 L342.9,240.9 L343.2,240.7 L343.6,240.5 L343.9,240.3 L344.3,240.1 L344.6,239.9 L345.0,239.7 L345.3,239.5 L345.6,239.3 L346.0,239.0 L346.3,238.8 L346.6,238.6 L347.0,238.4 L347.3,238.2 L347.6,238.0 L347.9,237.8 L348.3,237.6 L348.6,237.4 L348.9,237.2 L349.2,237.0 L349.5,236.8 L349.8,236.6 L350.1,236.3 L350.4,236.1 L350.7,235.9 L351.0,235.7 L351.3,235.5 L351.6,235.3 L351.9,235.1 L352.2,234.9 L352.5,234.7 L352.7,234.5 L353.0,234.3 L353.3,234.0 L353.6,233.8 L353.8,233.6 L354.1,233.4 L354.4,233.2 L354.6,233.0 L354.9,232.8 L355.2,232.6 L355.4,232.4 L355.7,232.2 L355.9,232.0 L356.2,231.8 L356.4,231.5 L356.6,231.3 L356.9,231.1 L357.1,230.9 L357.3,230.7 L357.6,230.5 L357.8,230.3 L358.0,230.1 L358.2,229.9 L358.5,229.7 L358.7,229.5 L358.9,229.3 L359.1,229.1 L359.3,228.9 L359.5,228.7 L359.7,228.5 L359.9,228.3 L360.1,228.1 L360.3,227.9 L360.5,227.7 L360.6,227.5 L360.8,227.3 L361.0,227.1 L361.2,226.9 L361.3,226.7 L361.5,226.5 L361.7,226.3 L361.8,226.1 L362.0,225.9 L362.2,225.7 L362.3,225.5 L362.5,225.3 L362.6,225.1 L362.7,224.9 L362.9,224.7 L363.0,224.5 L363.1,224.3 L363.3,224.1 L363.4,223.9 L363.5,223.8 L363.6,223.6 L363.8,223.4 L363.9,223.2 L364.0,223.0 L364.1,222.8 L364.2,222.6 L364.3,222.4 L364.4,222.3 L364.5,222.1 L364.6,221.9 L364.6,221.7 L364.7,221.5 L364.8,221.4 L364.9,221.2 L365.0,221.0 L365.0,220.8 L365.1,220.6 L365.2,220.5 L365.2,220.3 L365.3,220.1 L365.3,220.0 L365.4,219.8 L365.4,219.6 L365.4,219.4 L365.5,219.3 L365.5,219.1 L365.6,218.9 L365.6,218.8 L365.6,218.6 L365.6,218.4 L365.6,218.3 L365.7,218.1 L365.7,218.0 L365.7,217.8 L365.7,217.6 L365.7,217.5 L365.7,217.3 L365.7,217.2 L365.7,217.0 L365.6,216.9 L365.6,216.7 L365.6,216.6 L365.6,216.4 L365.6,216.3 L365.5,216.1 L365.5,216.0 L365.4,215.8 L365.4,215.7 L365.4,215.5 L365.3,215.4 M310.2,255.0 L310.5,255.3 L310.9,255.6 L311.2,255.9 L311.6,256.1 L311.9,256.4 L312.3,256.7 L312.6,257.0 L313.0,257.3 L313.3,257.5 L313.6,257.8 L314.0,258.1 L314.3,258.4 L314.7,258.6 L315.0,258.9 L315.4,259.2 L315.7,259.4 L316.0,259.7 L316.4,260.0 L316.7,260.2 L317.1,260.5 L317.4,260.7 L317.8,261.0 L318.1,261.2 L318.4,261.5 L318.8,261.7 L319.1,262.0 L319.4,262.2 L319.8,262.5 L320.1,262.7 L320.5,263.0 L320.8,263.2 L321.1,263.5 L321.5,263.7 L321.8,263.9 L322.1,264.2 L322.5,264.4 L322.8,264.6 L323.1,264.9 L323.4,265.1 L323.8,265.3 L324.1,265.5 L324.4,265.8 L324.8,266.0 L325.1,266.2 L325.4,266.4 L325.7,266.6 L326.0,266.8 L326.4,267.0 L326.7,267.2 L327.0,267.5 L327.3,267.7 L327.6,267.9 L328.0,268.1 L328.3,268.3 L328.6,268.4 L328.9,268.6 L329.2,268.8 L329.5,269.0 L329.8,269.2 L330.1,269.4 L330.4,269.6 L330.7,269.8 L331.1,269.9 L331.4,270.1 L331.7,270.3 L332.0,270.5 L332.3,270.6 L332.6,270.8 L332.8,271.0 L333.1,271.1 L333.4,271.3 L333.7,271.4 L334.0,271.6 L334.3,271.7 L334.6,271.9 L334.9,272.1 L335.2,272.2 L335.4,272.3 L335.7,272.5 L336.0,272.6 L336.3,272.8 L336.6,272.9 L336.8,273.0 L337.1,273.2 L337.4,273.3 L337.7,273.4 L337.9,273.5 L338.2,273.7 L338.5,273.8 L338.7,273.9 L339.0,274.0 L339.2,274.1 L339.5,274.2 L339.7,274.3 L340.0,274.4 L340.3,274.5 L340.5,274.6 L340.8,274.7 L341.0,274.8 L341.2,274.9 L341.5,275.0 L341.7,275.1 L342.0,275.2 L342.2,275.3 L342.4,275.4 L342.7,275.4 L342.9,275.5 L343.1,275.6 L343.4,275.6 L343.6,275.7 L343.8,275.8 L344.0,275.8 L344.2,275.9 L344.5,276.0 L344.7,276.0 L344.9,276.1 L345.1,276.1 L345.3,276.2 L345.5,276.2 L345.7,276.2 L345.9,276.3 L346.1,276.3 L346.3,276.4 L346.5,276.4 L346.7,276.4 L346.9,276.4 L347.1,276.5 L347.3,276.5 L347.4,276.5 L347.6,276.5 L347.8,276.5 L348.0,276.5 L348.1,276.5 L348.3,276.6 L348.5,276.6 L348.7,276.6 L348.8,276.6 L349.0,276.6 L349.1,276.5 L349.3,276.5 L349.4,276.5 L349.6,276.5 L349.7,276.5 L349.9,276.5 L350.0,276.4 L350.2,276.4 L350.3,276.4 L350.5,276.4 L350.6,276.3 L350.7,276.3 L350.9,276.3 L351.0,276.2 L351.1,276.2 L351.2,276.1 L351.4,276.1 L351.5,276.0 L351.6,276.0 L351.7,275.9 L351.8,275.9 L351.9,275.8 L352.0,275.7 L352.1,275.7 L352.2,275.6 L352.3,275.5 L352.4,275.5 L352.5,275.4 L352.6,275.3 L352.7,275.2 L352.8,275.1 M310.2,255.0 L310.1,255.4 L310.0,255.9 L309.9,256.3 L309.8,256.7 L309.7,257.1 L309.6,257.5 L309.6,257.9 L309.5,258.4 L309.4,258.8 L309.3,259.2 L309.2,259.6 L309.1,260.0 L309.0,260.4 L308.9,260.8 L308.8,261.2 L308.7,261.6 L308.6,262.0 L308.6,262.4 L308.5,262.8 L308.4,263.2 L308.3,263.6 L308.2,264.0 L308.1,264.4 L308.0,264.8 L307.9,265.2 L307.8,265.5 L307.7,265.9 L307.6,266.3 L307.6,266.7 L307.5,267.1 L307.4,267.4 L307.3,267.8 L307.2,268.2 L307.1,268.5 L307.0,268.9 L306.9,269.3 L306.9,269.6 L306.8,270.0 L306.7,270.4 L306.6,270.7 L306.5,271.1 L306.4,271.4 L306.3,271.8 L306.2,272.1 L306.2,272.5 L306.1,272.8 L306.0,273.1 L305.9,273.5 L305.8,273.8 L305.7,274.1 L305.6,274.5 L305.6,274.8 L305.5,275.1 L305.4,275.4 L305.3,275.8 L305.2,276.1 L305.1,276.4 L305.1,276.7 L305.0,277.0 L304.9,277.3 L304.8,277.6 L304.7,277.9 L304.6,278.2 L304.6,278.5 L304.5,278.8 L304.4,279.1 L304.3,279.4 L304.2,279.7 L304.2,280.0 L304.1,280.3 L304.0,280.5 L303.9,280.8 L303.9,281.1 L303.8,281.3 L303.7,281.6 L303.6,281.9 L303.6,282.1 L303.5,282.4 L303.4,282.6 L303.3,282.9 L303.3,283.1 L303.2,283.4 L303.1,283.6 L303.0,283.9 L303.0,284.1 L302.9,284.3 L302.8,284.6 L302.8,284.8 L302.7,285.0 L302.6,285.2 L302.5,285.5 L302.5,285.7 L302.4,285.9 L302.3,286.1 L302.3,286.3 L302.2,286.5 L302.1,286.7 L302.1,286.9 L302.0,287.1 L301.9,287.3 L301.9,287.5 L301.8,287.7 L301.7,287.8 L301.7,288.0 L301.6,288.2 L301.6,288.4 L301.5,288.5 L301.4,288.7 L301.4,288.8 L301.3,289.0 L301.3,289.2 L301.2,289.3 L301.1,289.4 L301.1,289.6 L301.0,289.7 L301.0,289.9 L300.9,290.0 L300.9,290.1 L300.8,290.3 L300.7,290.4 L300.7,290.5 L300.6,290.6 L300.6,290.7 L300.5,290.8 L300.5,290.9 L300.4,291.0 L300.4,291.1 L300.3,291.2 L300.3,291.3 L300.2,291.4 L300.2,291.5 L300.1,291.6 L300.1,291.7 L300.1,291.7 L300.0,291.8 L300.0,291.9 L299.9,291.9 L299.9,292.0 L299.8,292.0 L299.8,292.1 L299.8,292.1 L299.7,292.2 L299.7,292.2 L299.6,292.3 L299.6,292.3 L299.6,292.3 L299.5,292.4 L299.5,292.4 L299.4,292.4 L299.4,292.4 L299.4,292.4 L299.3,292.5 L299.3,292.5 L299.3,292.5 L299.2,292.5 M310.2,255.0 L309.8,255.1 L309.3,255.3 L308.9,255.4 L308.5,255.5 L308.0,255.7 L307.6,255.8 L307.1,255.9 L306.7,256.1 L306.3,256.2 L305.8,256.3 L305.4,256.4 L305.0,256.6 L304.5,256.7 L304.1,256.8 L303.7,256.9 L303.2,257.0 L302.8,257.2 L302.4,257.3 L301.9,257.4 L301.5,257.5 L301.1,257.6 L300.6,257.7 L300.2,257.8 L299.8,257.9 L299.4,258.0 L298.9,258.1 L298.5,258.2 L298.1,258.3 L297.6,258.4 L297.2,258.5 L296.8,258.6 L296.4,258.7 L295.9,258.8 L295.5,258.9 L295.1,259.0 L294.7,259.1 L294.3,259.2 L293.8,259.3 L293.4,259.3 L293.0,259.4 L292.6,259.5 L292.2,259.6 L291.8,259.7 L291.4,259.7 L291.0,259.8 L290.5,259.9 L290.1,260.0 L289.7,260.0 L289.3,260.1 L288.9,260.2 L288.5,260.2 L288.1,260.3 L287.7,260.4 L287.3,260.4 L286.9,260.5 L286.5,260.5 L286.1,260.6 L285.7,260.6 L285.3,260.7 L285.0,260.8 L284.6,260.8 L284.2,260.9 L283.8,260.9 L283.4,260.9 L283.0,261.0 L282.7,261.0 L282.3,261.1 L281.9,261.1 L281.5,261.1 L281.1,261.2 L280.8,261.2 L280.4,261.2 L280.0,261.3 L279.7,261.3 L279.3,261.3 L278.9,261.4 L278.6,261.4 L278.2,261.4 L277.9,261.4 L277.5,261.4 L277.2,261.5 L276.8,261.5 L276.5,261.5 L276.1,261.5 L275.8,261.5 L275.4,261.5 L275.1,261.5 L274.8,261.5 L274.4,261.5 L274.1,261.5 L273.8,261.5 L273.4,261.5 L273.1,261.5 L272.8,261.5 L272.5,261.5 L272.1,261.5 L271.8,261.5 L271.5,261.5 L271.2,261.5 L270.9,261.5 L270.6,261.5 L270.3,261.4 L270.0,261.4 L269.7,261.4 L269.4,261.4 L269.1,261.4 L268.8,261.3 L268.5,261.3 L268.2,261.3 L267.9,261.2 L267.7,261.2 L267.4,261.2 L267.1,261.1 L266.8,261.1 L266.6,261.1 L266.3,261.0 L266.0,261.0 L265.8,260.9 L265.5,260.9 L265.2,260.9 L265.0,260.8 L264.7,260.8 L264.5,260.7 L264.2,260.7 L264.0,260.6 L263.8,260.5 L263.5,260.5 L263.3,260.4 L263.1,260.4 L262.8,260.3 L262.6,260.2 L262.4,260.2 L262.2,260.1 L261.9,260.0 L261.7,260.0 L261.5,259.9 L261.3,259.8 L261.1,259.8 L260.9,259.7 L260.7,259.6 L260.5,259.5 L260.3,259.4 L260.1,259.4 L259.9,259.3 L259.8,259.2 L259.6,259.1 L259.4,259.0 L259.2,258.9 L259.1,258.8 L258.9,258.7 L258.7,258.6 L258.6,258.5 L258.4,258.4 L258.2,258.4 L258.1,258.3 L257.9,258.1 L257.8,258.0 L257.7,257.9 L257.5,257.8 L257.4,257.7 L257.3,257.6 L257.1,257.5 L257.0,257.4 L256.9,257.3 L256.8,257.2 L256.6,257.1 L256.5,256.9 L256.4,256.8 L256.3,256.7 L256.2,256.6 L256.1,256.5 L256.0,256.3 L255.9,256.2 L255.8,256.1 L255.8,256.0 L255.7,255.8 L255.6,255.7 L255.5,255.6 L255.4,255.4 L255.4,255.3 L255.3,255.2 L255.2,255.0 L255.2,254.9 L255.1,254.7 M310.2,255.0 L309.9,254.7 L309.5,254.4 L309.2,254.1 L308.8,253.9 L308.5,253.6 L308.1,253.3 L307.8,253.0 L307.4,252.7 L307.1,252.4 L306.8,252.1 L306.4,251.8 L306.1,251.5 L305.7,251.2 L305.4,250.9 L305.0,250.6 L304.7,250.3 L304.4,250.0 L304.0,249.7 L303.7,249.4 L303.3,249.0 L303.0,248.7 L302.6,248.4 L302.3,248.1 L302.0,247.8 L301.6,247.5 L301.3,247.2 L301.0,246.9 L300.6,246.6 L300.3,246.2 L299.9,245.9 L299.6,245.6 L299.3,245.3 L298.9,245.0 L298.6,244.7 L298.3,244.3 L297.9,244.0 L297.6,243.7 L297.3,243.4 L297.0,243.1 L296.6,242.7 L296.3,242.4 L296.0,242.1 L295.6,241.8 L295.3,241.5 L295.0,241.1 L294.7,240.8 L294.4,240.5 L294.0,240.2 L293.7,239.8 L293.4,239.5 L293.1,239.2 L292.8,238.9 L292.4,238.5 L292.1,238.2 L291.8,237.9 L291.5,237.5 L291.2,237.2 L290.9,236.9 L290.6,236.6 L290.3,236.2 L290.0,235.9 L289.7,235.6 L289.3,235.3 L289.0,234.9 L288.7,234.6 L288.4,234.3 L288.1,234.0 L287.8,233.6 L287.6,233.3 L287.3,233.0 L287.0,232.6 L286.7,232.3 L286.4,232.0 L286.1,231.7 L285.8,231.3 L285.5,231.0 L285.2,230.7 L285.0,230.4 L284.7,230.0 L284.4,229.7 L284.1,229.4 L283.8,229.1 L283.6,228.7 L283.3,228.4 L283.0,228.1 L282.7,227.8 L282.5,227.4 L282.2,227.1 L281.9,226.8 L281.7,226.5 L281.4,226.2 L281.2,225.8 L280.9,225.5 L280.7,225.2 L280.4,224.9 L280.1,224.6 L279.9,224.3 L279.6,223.9 L279.4,223.6 L279.2,223.3 L278.9,223.0 L278.7,222.7 L278.4,222.4 L278.2,222.1 L278.0,221.8 L277.7,221.4 L277.5,221.1 L277.3,220.8 L277.0,220.5 L276.8,220.2 L276.6,219.9 L276.4,219.6 L276.2,219.3 L275.9,219.0 L275.7,218.7 L275.5,218.4 L275.3,218.1 L275.1,217.8 L274.9,217.5 L274.7,217.2 L274.5,216.9 L274.3,216.6 L274.1,216.3 L273.9,216.0 L273.7,215.7 L273.5,215.4 L273.3,215.2 L273.1,214.9 L273.0,214.6 L272.8,214.3 L272.6,214.0 L272.4,213.7 L272.3,213.5 L272.1,213.2 L271.9,212.9 L271.7,212.6 L271.6,212.4 L271.4,212.1 L271.3,211.8 L271.1,211.5 L271.0,211.3 L270.8,211.0 L270.7,210.7 L270.5,210.5 L270.4,210.2 L270.2,209.9 L270.1,209.7 L269.9,209.4 L269.8,209.2 L269.7,208.9 L269.5,208.7 L269.4,208.4 L269.3,208.2 L269.2,207.9 L269.0,207.7 L268.9,207.4 L268.8,207.2 L268.7,206.9 L268.6,206.7 L268.5,206.4 L268.4,206.2 L268.3,206.0 L268.2,205.7 L268.1,205.5 L268.0,205.3 L267.9,205.1 L267.8,204.8 L267.7,204.6 L267.6,204.4 L267.6,204.2 L267.5,203.9 L267.4,203.7 L267.3,203.5 L267.3,203.3 L267.2,203.1 L267.1,202.9 L267.1,202.7 L267.0,202.5 L267.0,202.3 L266.9,202.1 L266.9,201.9 L266.8,201.7 L266.8,201.5 L266.7,201.3 L266.7,201.1 L266.6,200.9 L266.6,200.7 L266.6,200.5 L266.5,200.4 L266.5,200.2 L266.5,200.0 L266.5,199.8 L266.4,199.6 L266.4,199.5 L266.4,199.3 L266.4,199.1 L266.4,199.0 L266.4,198.8 L266.4,198.7 L266.4,198.5 L266.4,198.3 L266.4,198.2 L266.4,198.0 L266.4,197.9 L266.4,197.7 L266.4,197.6 L266.5,197.5 L266.5,197.3 L266.5,197.2 L266.5,197.0 L266.6,196.9 L266.6,196.8 L266.6,196.7 L266.7,196.5 L266.7,196.4 L266.8,196.3 L266.8,196.2 L266.9,196.1 L266.9,195.9 L267.0,195.8 L267.0,195.7 L267.1,195.6 L267.1,195.5 L267.2,195.4 L267.3,195.3 L267.3,195.2 L267.4,195.1 L267.5,195.0 L267.6,194.9 M310.2,279.8 L309.9,279.8 L309.7,279.8 L309.4,279.8 L309.2,279.8 L308.9,279.8 L308.7,279.8 L308.4,279.8 L308.2,279.7 L307.9,279.7 L307.7,279.7 L307.4,279.7 L307.1,279.7 L306.9,279.6 L306.6,279.6 L306.4,279.6 L306.1,279.5 L305.9,279.5 L305.6,279.5 L305.4,279.4 L305.1,279.4 L304.9,279.4 L304.6,279.3 L304.4,279.3 L304.1,279.2 L303.9,279.2 L303.6,279.1 L303.4,279.1 L303.1,279.0 L302.9,278.9 L302.6,278.9 L302.4,278.8 L302.1,278.7 L301.9,278.7 L301.6,278.6 L301.4,278.5 L301.2,278.5 L300.9,278.4 L300.7,278.3 L300.4,278.2 L300.2,278.2 L300.0,278.1 L299.7,278.0 L299.5,277.9 L299.2,277.8 L299.0,277.7 L298.8,277.6 L298.5,277.5 L298.3,277.4 L298.1,277.3 L297.8,277.2 L297.6,277.1 L297.4,277.0 L297.1,276.9 L296.9,276.8 L296.7,276.7 L296.5,276.6 L296.2,276.5 L296.0,276.4 L295.8,276.3 L295.6,276.1 L295.4,276.0 L295.1,275.9 L294.9,275.8 L294.7,275.6 L294.5,275.5 L294.3,275.4 L294.1,275.2 L293.8,275.1 L293.6,275.0 L293.4,274.8 L293.2,274.7 L293.0,274.6 L292.8,274.4 L292.6,274.3 L292.4,274.1 L292.2,274.0 L292.0,273.8 L291.8,273.7 L291.6,273.5 L291.4,273.4 L291.2,273.2 L291.0,273.1 L290.8,272.9 L290.6,272.8 L290.4,272.6 L290.3,272.4 L290.1,272.3 L289.9,272.1 L289.7,271.9 L289.5,271.8 L289.3,271.6 L289.2,271.4 L289.0,271.2 L288.8,271.1 L288.6,270.9 L288.5,270.7 L288.3,270.5 L288.1,270.4 L288.0,270.2 L287.8,270.0 L287.6,269.8 L287.5,269.6 L287.3,269.4 L287.2,269.2 L287.0,269.1 L286.8,268.9 L286.7,268.7 L286.5,268.5 L286.4,268.3 L286.2,268.1 L286.1,267.9 L286.0,267.7 L285.8,267.5 L285.7,267.3 L285.5,267.1 L285.4,266.9 L285.3,266.7 L285.1,266.5 L285.0,266.3 L284.9,266.1 L284.7,265.9 L284.6,265.7 L284.5,265.4 L284.4,265.2 L284.3,265.0 L284.1,264.8 L284.0,264.6 L283.9,264.4 L283.8,264.2 L283.7,263.9 L283.6,263.7 L283.5,263.5 L283.4,263.3 L283.3,263.1 L283.2,262.8 L283.1,262.6 L283.0,262.4 L282.9,262.2 L282.8,262.0 L282.7,261.7 L282.6,261.5 L282.5,261.3 L282.5,261.0 L282.4,260.8 L282.3,260.6 L282.2,260.4 L282.2,260.1 L282.1,259.9 L282.0,259.7 L281.9,259.4 L281.9,259.2 L281.8,259.0 L281.8,258.7 L281.7,258.5 L281.6,258.3 L281.6,258.0 L281.5,257.8 L281.5,257.6 L281.4,257.3 L281.4,257.1 L281.4,256.9 L281.3,256.6 L281.3,256.4 L281.2,256.2 L281.2,255.9 L281.2,255.7 L281.1,255.4 L281.1,255.2 L281.1,255.0 L281.1,254.7 L281.0,254.5 L281.0,254.2 L281.0,254.0 L281.0,253.8 L281.0,253.5 L281.0,253.3 L281.0,253.0 L281.0,252.8 L281.0,252.6 L280.9,252.3 L281.0,252.1 L281.0,251.8 L281.0,251.6 L281.0,251.4 L281.0,251.1 L281.0,250.9 L281.0,250.6 L281.0,250.4 L281.0,250.2 L281.1,249.9 L281.1,249.7 L281.1,249.5 L281.1,249.2 L281.2,249.0 L281.2,248.7 L281.2,248.5 L281.3,248.3 L281.3,248.0 L281.4,247.8 L281.4,247.6 L281.4,247.3 L281.5,247.1 L281.5,246.8 L281.6,246.6 L281.6,246.4 L281.7,246.1 L281.8,245.9 L281.8,245.7 L281.9,245.4 L281.9,245.2 L282.0,245.0 L282.1,244.8 L282.2,244.5 L282.2,244.3 L282.3,244.1 L282.4,243.8 L282.5,243.6 L282.5,243.4 L282.6,243.2 L282.7,242.9 L282.8,242.7 L282.9,242.5 L283.0,242.3 L283.1,242.0 L283.2,241.8 L283.3,241.6 L283.4,241.4 L283.5,241.1 L283.6,240.9 L283.7,240.7 L283.8,240.5 L283.9,240.3 L284.0,240.1 L284.1,239.8 L284.3,239.6 L284.4,239.4 L284.5,239.2 L284.6,239.0 L284.7,238.8 L284.9,238.6 L285.0,238.4 L285.1,238.2 L285.3,238.0 L285.4,237.8 L285.5,237.6 L285.7,237.4 L285.8,237.2 L286.0,237.0 L286.1,236.8 L286.2,236.6 L286.4,236.4 L286.5,236.2 L286.7,236.0 L286.8,235.8 L287.0,235.6 L287.2,235.4 L287.3,235.2 L287.5,235.0 L287.6,234.8 L287.8,234.7 L288.0,234.5 L288.1,234.3 L288.3,234.1 L288.5,233.9 L288.6,233.8 L288.8,233.6 L289.0,233.4 L289.2,233.2 L289.3,233.1 L289.5,232.9 L289.7,232.7 L289.9,232.6 L290.1,232.4 L290.3,232.2 L290.4,232.1 L290.6,231.9 L290.8,231.7 L291.0,231.6 L291.2,231.4 L291.4,231.3 L291.6,231.1 L291.8,231.0 L292.0,230.8 L292.2,230.7 L292.4,230.5 L292.6,230.4 L292.8,230.2 L293.0,230.1 L293.2,230.0 L293.4,229.8 L293.6,229.7 L293.8,229.5 L294.1,229.4 L294.3,229.3 L294.5,229.1 L294.7,229.0 L294.9,228.9 L295.1,228.8 L295.4,228.6 L295.6,228.5 L295.8,228.4 L296.0,228.3 L296.2,228.2 L296.5,228.1 L296.7,227.9 L296.9,227.8 L297.1,227.7 L297.4,227.6 L297.6,227.5 L297.8,227.4 L298.1,227.3 L298.3,227.2 L298.5,227.1 L298.8,227.0 L299.0,226.9 L299.2,226.8 L299.5,226.8 L299.7,226.7 L300.0,226.6 L300.2,226.5 L300.4,226.4 L300.7,226.3 L300.9,226.3 L301.2,226.2 L301.4,226.1 L301.6,226.0 L301.9,226.0 L302.1,225.9 L302.4,225.8 L302.6,225.8 L302.9,225.7 L303.1,225.7 L303.4,225.6 L303.6,225.5 L303.9,225.5 L304.1,225.4 L304.4,225.4 L304.6,225.3 L304.9,225.3 L305.1,225.3 L305.4,225.2 L305.6,225.2 L305.9,225.1 L306.1,225.1 L306.4,225.1 L306.6,225.0 L306.9,225.0 L307.1,225.0 L307.4,225.0 L307.7,224.9 L307.9,224.9 L308.2,224.9 L308.4,224.9 L308.7,224.9 L308.9,224.9 L309.2,224.9 L309.4,224.9 L309.7,224.8 L309.9,224.8 L310.2,224.8 L310.5,224.8 L310.7,224.8 L311.0,224.9 L311.2,224.9 L311.5,224.9 L311.7,224.9 L312.0,224.9 L312.2,224.9 L312.5,224.9 L312.7,224.9 L313.0,225.0 L313.3,225.0 L313.5,225.0 L313.8,225.0 L314.0,225.1 L314.3,225.1 L314.5,225.1 L314.8,225.2 L315.0,225.2 L315.3,225.3 L315.5,225.3 L315.8,225.3 L316.0,225.4 L316.3,225.4 L316.5,225.5 L316.8,225.5 L317.0,225.6 L317.3,225.7 L317.5,225.7 L317.8,225.8 L318.0,225.8 L318.3,225.9 L318.5,226.0 L318.8,226.0 L319.0,226.1 L319.2,226.2 L319.5,226.3 L319.7,226.3 L320.0,226.4 L320.2,226.5 L320.4,226.6 L320.7,226.7 L320.9,226.8 L321.2,226.8 L321.4,226.9 L321.6,227.0 L321.9,227.1 L322.1,227.2 L322.3,227.3 L322.6,227.4 L322.8,227.5 L323.0,227.6 L323.3,227.7 L323.5,227.8 L323.7,227.9 L323.9,228.1 L324.2,228.2 L324.4,228.3 L324.6,228.4 L324.8,228.5 L325.0,228.6 L325.3,228.8 L325.5,228.9 L325.7,229.0 L325.9,229.1 L326.1,229.3 L326.3,229.4 L326.6,229.5 L326.8,229.7 L327.0,229.8 L327.2,230.0 L327.4,230.1 L327.6,230.2 L327.8,230.4 L328.0,230.5 L328.2,230.7 L328.4,230.8 L328.6,231.0 L328.8,231.1 L329.0,231.3 L329.2,231.4 L329.4,231.6 L329.6,231.7 L329.8,231.9 L330.0,232.1 L330.1,232.2 L330.3,232.4 L330.5,232.6 L330.7,232.7 L330.9,232.9 L331.1,233.1 L331.2,233.2 L331.4,233.4 L331.6,233.6 L331.8,233.8 L331.9,233.9 L332.1,234.1 L332.3,234.3 L332.4,234.5 L332.6,234.7 L332.8,234.8 L332.9,235.0 L333.1,235.2 L333.2,235.4 L333.4,235.6 L333.6,235.8 L333.7,236.0 L333.9,236.2 L334.0,236.4 L334.2,236.6 L334.3,236.8 L334.4,237.0 L334.6,237.2 L334.7,237.4 L334.9,237.6 L335.0,237.8 L335.1,238.0 L335.3,238.2 L335.4,238.4 L335.5,238.6 L335.7,238.8 L335.8,239.0 L335.9,239.2 L336.0,239.4 L336.1,239.6 L336.3,239.8 L336.4,240.1 L336.5,240.3 L336.6,240.5 L336.7,240.7 L336.8,240.9 L336.9,241.1 L337.0,241.4 L337.1,241.6 L337.2,241.8 L337.3,242.0 L337.4,242.3 L337.5,242.5 L337.6,242.7 L337.7,242.9 L337.8,243.2 L337.9,243.4 L337.9,243.6 L338.0,243.8 L338.1,244.1 L338.2,244.3 L338.2,244.5 L338.3,244.8 L338.4,245.0 L338.5,245.2 L338.5,245.4 L338.6,245.7 L338.6,245.9 L338.7,246.1 L338.8,246.4 L338.8,246.6 L338.9,246.8 L338.9,247.1 L339.0,247.3 L339.0,247.6 L339.0,247.8 L339.1,248.0 L339.1,248.3 L339.2,248.5 L339.2,248.7 L339.2,249.0 L339.3,249.2 L339.3,249.5 L339.3,249.7 L339.3,249.9 L339.4,250.2 L339.4,250.4 L339.4,250.6 L339.4,250.9 L339.4,251.1 L339.4,251.4 L339.4,251.6 L339.4,251.8 L339.4,252.1 L339.4,252.3 L339.4,252.6 L339.4,252.8 L339.4,253.0 L339.4,253.3 L339.4,253.5 L339.4,253.8 L339.4,254.0 L339.4,254.2 L339.4,254.5 L339.3,254.7 L339.3,255.0 L339.3,255.2 L339.3,255.4 L339.2,255.7 L339.2,255.9 L339.2,256.2 L339.1,256.4 L339.1,256.6 L339.0,256.9 L339.0,257.1 L339.0,257.3 L338.9,257.6 L338.9,257.8 L338.8,258.0 L338.8,258.3 L338.7,258.5 L338.6,258.7 L338.6,259.0 L338.5,259.2 L338.5,259.4 L338.4,259.7 L338.3,259.9 L338.2,260.1 L338.2,260.4 L338.1,260.6 L338.0,260.8 L337.9,261.0 L337.9,261.3 L337.8,261.5 L337.7,261.7 L337.6,262.0 L337.5,262.2 L337.4,262.4 L337.3,262.6 L337.2,262.8 L337.1,263.1 L337.0,263.3 L336.9,263.5 L336.8,263.7 L336.7,263.9 L336.6,264.2 L336.5,264.4 L336.4,264.6 L336.3,264.8 L336.1,265.0 L336.0,265.2 L335.9,265.4 L335.8,265.7 L335.7,265.9 L335.5,266.1 L335.4,266.3 L335.3,266.5 L335.1,266.7 L335.0,266.9 L334.9,267.1 L334.7,267.3 L334.6,267.5 L334.4,267.7 L334.3,267.9 L334.2,268.1 L334.0,268.3 L333.9,268.5 L333.7,268.7 L333.6,268.9 L333.4,269.1 L333.2,269.2 L333.1,269.4 L332.9,269.6 L332.8,269.8 L332.6,270.0 L332.4,270.2 L332.3,270.4 L332.1,270.5 L331.9,270.7 L331.8,270.9 L331.6,271.1 L331.4,271.2 L331.2,271.4 L331.1,271.6 L330.9,271.8 L330.7,271.9 L330.5,272.1 L330.3,272.3 L330.1,272.4 L330.0,272.6 L329.8,272.8 L329.6,272.9 L329.4,273.1 L329.2,273.2 L329.0,273.4 L328.8,273.5 L328.6,273.7 L328.4,273.8 L328.2,274.0 L328.0,274.1 L327.8,274.3 L327.6,274.4 L327.4,274.6 L327.2,274.7 L327.0,274.8 L326.8,275.0 L326.6,275.1 L326.3,275.2 L326.1,275.4 L325.9,275.5 L325.7,275.6 L325.5,275.8 L325.3,275.9 L325.0,276.0 L324.8,276.1 L324.6,276.3 L324.4,276.4 L324.2,276.5 L323.9,276.6 L323.7,276.7 L323.5,276.8 L323.3,276.9 L323.0,277.0 L322.8,277.1 L322.6,277.2 L322.3,277.3 L322.1,277.4 L321.9,277.5 L321.6,277.6 L321.4,277.7 L321.2,277.8 L320.9,277.9 L320.7,278.0 L320.4,278.1 L320.2,278.2 L320.0,278.2 L319.7,278.3 L319.5,278.4 L319.2,278.5 L319.0,278.5 L318.8,278.6 L318.5,278.7 L318.3,278.7 L318.0,278.8 L317.8,278.9 L317.5,278.9 L317.3,279.0 L317.0,279.1 L316.8,279.1 L316.5,279.2 L316.3,279.2 L316.0,279.3 L315.8,279.3 L315.5,279.4 L315.3,279.4 L315.0,279.4 L314.8,279.5 L314.5,279.5 L314.3,279.5 L314.0,279.6 L313.8,279.6 L313.5,279.6 L313.3,279.7 L313.0,279.7 L312.7,279.7 L312.5,279.7 L312.2,279.7 L312.0,279.8 L311.7,279.8 L311.5,279.8 L311.2,279.8 L311.0,279.8 L310.7,279.8 L310.5,279.8 L310.2,279.8 M310.2,292.6 L309.8,292.6 L309.3,292.6 L308.9,292.6 L308.4,292.6 L308.0,292.6 L307.5,292.5 L307.1,292.5 L306.7,292.5 L306.2,292.5 L305.8,292.4 L305.3,292.4 L304.9,292.4 L304.5,292.3 L304.0,292.3 L303.6,292.2 L303.1,292.1 L302.7,292.1 L302.3,292.0 L301.8,292.0 L301.4,291.9 L301.0,291.8 L300.5,291.7 L300.1,291.7 L299.7,291.6 L299.2,291.5 L298.8,291.4 L298.4,291.3 L297.9,291.2 L297.5,291.1 L297.1,291.0 L296.7,290.9 L296.2,290.8 L295.8,290.7 L295.4,290.5 L295.0,290.4 L294.5,290.3 L294.1,290.2 L293.7,290.0 L293.3,289.9 L292.9,289.7 L292.5,289.6 L292.0,289.4 L291.6,289.3 L291.2,289.1 L290.8,289.0 L290.4,288.8 L290.0,288.7 L289.6,288.5 L289.2,288.3 L288.8,288.2 L288.4,288.0 L288.0,287.8 L287.6,287.6 L287.2,287.4 L286.8,287.2 L286.4,287.0 L286.0,286.8 L285.6,286.6 L285.3,286.4 L284.9,286.2 L284.5,286.0 L284.1,285.8 L283.7,285.6 L283.4,285.4 L283.0,285.2 L282.6,284.9 L282.2,284.7 L281.9,284.5 L281.5,284.2 L281.1,284.0 L280.8,283.8 L280.4,283.5 L280.1,283.3 L279.7,283.0 L279.4,282.8 L279.0,282.5 L278.7,282.3 L278.3,282.0 L278.0,281.7 L277.6,281.5 L277.3,281.2 L277.0,280.9 L276.6,280.7 L276.3,280.4 L276.0,280.1 L275.6,279.8 L275.3,279.5 L275.0,279.2 L274.7,279.0 L274.4,278.7 L274.1,278.4 L273.8,278.1 L273.5,277.8 L273.1,277.5 L272.8,277.2 L272.6,276.9 L272.3,276.5 L272.0,276.2 L271.7,275.9 L271.4,275.6 L271.1,275.3 L270.8,275.0 L270.6,274.6 L270.3,274.3 L270.0,274.0 L269.7,273.7 L269.5,273.3 L269.2,273.0 L269.0,272.6 L268.7,272.3 L268.4,272.0 L268.2,271.6 L268.0,271.3 L267.7,270.9 L267.5,270.6 L267.2,270.2 L267.0,269.9 L266.8,269.5 L266.5,269.2 L266.3,268.8 L266.1,268.4 L265.9,268.1 L265.7,267.7 L265.5,267.4 L265.3,267.0 L265.1,266.6 L264.9,266.2 L264.7,265.9 L264.5,265.5 L264.3,265.1 L264.1,264.7 L263.9,264.4 L263.7,264.0 L263.6,263.6 L263.4,263.2 L263.2,262.8 L263.1,262.5 L262.9,262.1 L262.7,261.7 L262.6,261.3 L262.4,260.9 L262.3,260.5 L262.2,260.1 L262.0,259.7 L261.9,259.3 L261.8,258.9 L261.6,258.5 L261.5,258.1 L261.4,257.7 L261.3,257.3 L261.2,256.9 L261.0,256.5 L260.9,256.1 L260.8,255.7 L260.7,255.3 L260.6,254.9 L260.6,254.5 L260.5,254.1 L260.4,253.7 L260.3,253.3 L260.2,252.9 L260.2,252.5 L260.1,252.0 L260.0,251.6 L260.0,251.2 L259.9,250.8 L259.9,250.4 L259.8,250.0 L259.8,249.6 L259.7,249.2 L259.7,248.7 L259.7,248.3 L259.6,247.9 L259.6,247.5 L259.6,247.1 L259.6,246.7 L259.6,246.3 L259.5,245.8 L259.5,245.4 L259.5,245.0 L259.5,244.6 L259.5,244.2 L259.6,243.8 L259.6,243.3 L259.6,242.9 L259.6,242.5 L259.6,242.1 L259.7,241.7 L259.7,241.3 L259.7,240.9 L259.8,240.4 L259.8,240.0 L259.9,239.6 L259.9,239.2 L260.0,238.8 L260.0,238.4 L260.1,238.0 L260.2,237.6 L260.2,237.1 L260.3,236.7 L260.4,236.3 L260.5,235.9 L260.6,235.5 L260.6,235.1 L260.7,234.7 L260.8,234.3 L260.9,233.9 L261.0,233.5 L261.2,233.1 L261.3,232.7 L261.4,232.3 L261.5,231.9 L261.6,231.5 L261.8,231.1 L261.9,230.7 L262.0,230.3 L262.2,229.9 L262.3,229.5 L262.4,229.1 L262.6,228.7 L262.7,228.3 L262.9,227.9 L263.1,227.6 L263.2,227.2 L263.4,226.8 L263.6,226.4 L263.7,226.0 L263.9,225.6 L264.1,225.3 L264.3,224.9 L264.5,224.5 L264.7,224.1 L264.9,223.8 L265.1,223.4 L265.3,223.0 L265.5,222.7 L265.7,222.3 L265.9,221.9 L266.1,221.6 L266.3,221.2 L266.5,220.8 L266.8,220.5 L267.0,220.1 L267.2,219.8 L267.5,219.4 L267.7,219.1 L268.0,218.7 L268.2,218.4 L268.4,218.0 L268.7,217.7 L269.0,217.4 L269.2,217.0 L269.5,216.7 L269.7,216.4 L270.0,216.0 L270.3,215.7 L270.6,215.4 L270.8,215.0 L271.1,214.7 L271.4,214.4 L271.7,214.1 L272.0,213.8 L272.3,213.5 L272.6,213.1 L272.8,212.8 L273.1,212.5 L273.5,212.2 L273.8,211.9 L274.1,211.6 L274.4,211.3 L274.7,211.0 L275.0,210.8 L275.3,210.5 L275.6,210.2 L276.0,209.9 L276.3,209.6 L276.6,209.3 L277.0,209.1 L277.3,208.8 L277.6,208.5 L278.0,208.3 L278.3,208.0 L278.7,207.7 L279.0,207.5 L279.4,207.2 L279.7,207.0 L280.1,206.7 L280.4,206.5 L280.8,206.2 L281.1,206.0 L281.5,205.8 L281.9,205.5 L282.2,205.3 L282.6,205.1 L283.0,204.9 L283.4,204.6 L283.7,204.4 L284.1,204.2 L284.5,204.0 L284.9,203.8 L285.3,203.6 L285.6,203.4 L286.0,203.2 L286.4,203.0 L286.8,202.8 L287.2,202.6 L287.6,202.4 L288.0,202.2 L288.4,202.0 L288.8,201.9 L289.2,201.7 L289.6,201.5 L290.0,201.3 L290.4,201.2 L290.8,201.0 L291.2,200.9 L291.6,200.7 L292.0,200.6 L292.5,200.4 L292.9,200.3 L293.3,200.1 L293.7,200.0 L294.1,199.9 L294.5,199.7 L295.0,199.6 L295.4,199.5 L295.8,199.4 L296.2,199.2 L296.7,199.1 L297.1,199.0 L297.5,198.9 L297.9,198.8 L298.4,198.7 L298.8,198.6 L299.2,198.5 L299.7,198.4 L300.1,198.4 L300.5,198.3 L301.0,198.2 L301.4,198.1 L301.8,198.0 L302.3,198.0 L302.7,197.9 L303.1,197.9 L303.6,197.8 L304.0,197.8 L304.5,197.7 L304.9,197.7 L305.3,197.6 L305.8,197.6 L306.2,197.5 L306.7,197.5 L307.1,197.5 L307.5,197.5 L308.0,197.4 L308.4,197.4 L308.9,197.4 L309.3,197.4 L309.8,197.4 L310.2,197.4 L310.6,197.4 L311.1,197.4 L311.5,197.4 L312.0,197.4 L312.4,197.4 L312.9,197.5 L313.3,197.5 L313.7,197.5 L314.2,197.5 L314.6,197.6 L315.1,197.6 L315.5,197.7 L315.9,197.7 L316.4,197.8 L316.8,197.8 L317.3,197.9 L317.7,197.9 L318.1,198.0 L318.6,198.0 L319.0,198.1 L319.4,198.2 L319.9,198.3 L320.3,198.4 L320.7,198.4 L321.2,198.5 L321.6,198.6 L322.0,198.7 L322.5,198.8 L322.9,198.9 L323.3,199.0 L323.7,199.1 L324.2,199.2 L324.6,199.4 L325.0,199.5 L325.4,199.6 L325.9,199.7 L326.3,199.9 L326.7,200.0 L327.1,200.1 L327.5,200.3 L327.9,200.4 L328.4,200.6 L328.8,200.7 L329.2,200.9 L329.6,201.0 L330.0,201.2 L330.4,201.3 L330.8,201.5 L331.2,201.7 L331.6,201.9 L332.0,202.0 L332.4,202.2 L332.8,202.4 L333.2,202.6 L333.6,202.8 L334.0,203.0 L334.4,203.2 L334.8,203.4 L335.1,203.6 L335.5,203.8 L335.9,204.0 L336.3,204.2 L336.7,204.4 L337.0,204.6 L337.4,204.9 L337.8,205.1 L338.2,205.3 L338.5,205.5 L338.9,205.8 L339.3,206.0 L339.6,206.2 L340.0,206.5 L340.3,206.7 L340.7,207.0 L341.0,207.2 L341.4,207.5 L341.7,207.7 L342.1,208.0 L342.4,208.3 L342.8,208.5 L343.1,208.8 L343.4,209.1 L343.8,209.3 L344.1,209.6 L344.4,209.9 L344.8,210.2 L345.1,210.5 L345.4,210.8 L345.7,211.0 L346.0,211.3 L346.3,211.6 L346.6,211.9 L346.9,212.2 L347.3,212.5 L347.6,212.8 L347.8,213.1 L348.1,213.5 L348.4,213.8 L348.7,214.1 L349.0,214.4 L349.3,214.7 L349.6,215.0 L349.8,215.4 L350.1,215.7 L350.4,216.0 L350.7,216.4 L350.9,216.7 L351.2,217.0 L351.4,217.4 L351.7,217.7 L352.0,218.0 L352.2,218.4 L352.4,218.7 L352.7,219.1 L352.9,219.4 L353.2,219.8 L353.4,220.1 L353.6,220.5 L353.9,220.8 L354.1,221.2 L354.3,221.6 L354.5,221.9 L354.7,222.3 L354.9,222.7 L355.1,223.0 L355.3,223.4 L355.5,223.8 L355.7,224.1 L355.9,224.5 L356.1,224.9 L356.3,225.3 L356.5,225.6 L356.7,226.0 L356.8,226.4 L357.0,226.8 L357.2,227.2 L357.3,227.6 L357.5,227.9 L357.7,228.3 L357.8,228.7 L358.0,229.1 L358.1,229.5 L358.2,229.9 L358.4,230.3 L358.5,230.7 L358.6,231.1 L358.8,231.5 L358.9,231.9 L359.0,232.3 L359.1,232.7 L359.2,233.1 L359.4,233.5 L359.5,233.9 L359.6,234.3 L359.7,234.7 L359.8,235.1 L359.8,235.5 L359.9,235.9 L360.0,236.3 L360.1,236.7 L360.2,237.1 L360.2,237.6 L360.3,238.0 L360.4,238.4 L360.4,238.8 L360.5,239.2 L360.5,239.6 L360.6,240.0 L360.6,240.4 L360.7,240.9 L360.7,241.3 L360.7,241.7 L360.8,242.1 L360.8,242.5 L360.8,242.9 L360.8,243.3 L360.8,243.8 L360.9,244.2 L360.9,244.6 L360.9,245.0 L360.9,245.4 L360.9,245.8 L360.8,246.3 L360.8,246.7 L360.8,247.1 L360.8,247.5 L360.8,247.9 L360.7,248.3 L360.7,248.7 L360.7,249.2 L360.6,249.6 L360.6,250.0 L360.5,250.4 L360.5,250.8 L360.4,251.2 L360.4,251.6 L360.3,252.0 L360.2,252.5 L360.2,252.9 L360.1,253.3 L360.0,253.7 L359.9,254.1 L359.8,254.5 L359.8,254.9 L359.7,255.3 L359.6,255.7 L359.5,256.1 L359.4,256.5 L359.2,256.9 L359.1,257.3 L359.0,257.7 L358.9,258.1 L358.8,258.5 L358.6,258.9 L358.5,259.3 L358.4,259.7 L358.2,260.1 L358.1,260.5 L358.0,260.9 L357.8,261.3 L357.7,261.7 L357.5,262.1 L357.3,262.5 L357.2,262.8 L357.0,263.2 L356.8,263.6 L356.7,264.0 L356.5,264.4 L356.3,264.7 L356.1,265.1 L355.9,265.5 L355.7,265.9 L355.5,266.2 L355.3,266.6 L355.1,267.0 L354.9,267.4 L354.7,267.7 L354.5,268.1 L354.3,268.4 L354.1,268.8 L353.9,269.2 L353.6,269.5 L353.4,269.9 L353.2,270.2 L352.9,270.6 L352.7,270.9 L352.4,271.3 L352.2,271.6 L352.0,272.0 L351.7,272.3 L351.4,272.6 L351.2,273.0 L350.9,273.3 L350.7,273.7 L350.4,274.0 L350.1,274.3 L349.8,274.6 L349.6,275.0 L349.3,275.3 L349.0,275.6 L348.7,275.9 L348.4,276.2 L348.1,276.5 L347.8,276.9 L347.6,277.2 L347.3,277.5 L346.9,277.8 L346.6,278.1 L346.3,278.4 L346.0,278.7 L345.7,279.0 L345.4,279.2 L345.1,279.5 L344.8,279.8 L344.4,280.1 L344.1,280.4 L343.8,280.7 L343.4,280.9 L343.1,281.2 L342.8,281.5 L342.4,281.7 L342.1,282.0 L341.7,282.3 L341.4,282.5 L341.0,282.8 L340.7,283.0 L340.3,283.3 L340.0,283.5 L339.6,283.8 L339.3,284.0 L338.9,284.2 L338.5,284.5 L338.2,284.7 L337.8,284.9 L337.4,285.2 L337.0,285.4 L336.7,285.6 L336.3,285.8 L335.9,286.0 L335.5,286.2 L335.1,286.4 L334.8,286.6 L334.4,286.8 L334.0,287.0 L333.6,287.2 L333.2,287.4 L332.8,287.6 L332.4,287.8 L332.0,288.0 L331.6,288.2 L331.2,288.3 L330.8,288.5 L330.4,288.7 L330.0,288.8 L329.6,289.0 L329.2,289.1 L328.8,289.3 L328.4,289.4 L327.9,289.6 L327.5,289.7 L327.1,289.9 L326.7,290.0 L326.3,290.2 L325.9,290.3 L325.4,290.4 L325.0,290.5 L324.6,290.7 L324.2,290.8 L323.7,290.9 L323.3,291.0 L322.9,291.1 L322.5,291.2 L322.0,291.3 L321.6,291.4 L321.2,291.5 L320.7,291.6 L320.3,291.7 L319.9,291.7 L319.4,291.8 L319.0,291.9 L318.6,292.0 L318.1,292.0 L317.7,292.1 L317.3,292.1 L316.8,292.2 L316.4,292.3 L315.9,292.3 L315.5,292.4 L315.1,292.4 L314.6,292.4 L314.2,292.5 L313.7,292.5 L313.3,292.5 L312.9,292.5 L312.4,292.6 L312.0,292.6 L311.5,292.6 L311.1,292.6 L310.6,292.6 L310.2,292.6 M251.7,235.0 L251.7,234.5 L251.7,234.0 L251.7,233.6 L251.7,233.1 L251.8,232.6 L251.8,232.1 L251.8,231.6 L251.8,231.2 L251.9,230.7 L251.9,230.2 L252.0,229.7 L252.0,229.3 L252.1,228.8 L252.1,228.3 L252.2,227.8 L252.3,227.3 L252.3,226.9 L252.4,226.4 L252.5,225.9 L252.6,225.5 L252.7,225.0 L252.8,224.5 L252.9,224.0 L253.0,223.6 L253.1,223.1 L253.2,222.6 L253.3,222.2 L253.4,221.7 L253.6,221.2 L253.7,220.8 L253.8,220.3 L254.0,219.8 L254.1,219.4 L254.3,218.9 L254.4,218.5 L254.6,218.0 L254.7,217.6 L254.9,217.1 L255.1,216.6 L255.2,216.2 L255.4,215.7 L255.6,215.3 L255.8,214.9 L256.0,214.4 L256.2,214.0 L256.4,213.5 L256.6,213.1 L256.8,212.6 L257.0,212.2 L257.2,211.8 L257.4,211.3 L257.6,210.9 L257.8,210.5 L258.1,210.0 L258.3,209.6 L258.5,209.2 L258.8,208.8 L259.0,208.3 L259.3,207.9 L259.5,207.5 L259.8,207.1 L260.1,206.7 L260.3,206.3 L260.6,205.9 L260.9,205.5 L261.1,205.1 L261.4,204.7 L261.7,204.3 L262.0,203.9 L262.3,203.5 L262.6,203.1 L262.9,202.7 L263.2,202.3 L263.5,201.9 L263.8,201.5 L264.1,201.2 L264.4,200.8 L264.7,200.4 L265.1,200.0 L265.4,199.7 L265.7,199.3 L266.0,198.9 L266.4,198.6 L266.7,198.2 L267.1,197.9 L267.4,197.5 L267.8,197.2 L268.1,196.8 L268.5,196.5 L268.8,196.1 L269.2,195.8 L269.6,195.5 L269.9,195.1 L270.3,194.8 L270.7,194.5 L271.1,194.1 L271.4,193.8 L271.8,193.5 L272.2,193.2 L272.6,192.9 L273.0,192.6 L273.4,192.3 L273.8,192.0 L274.2,191.7 L274.6,191.4 L275.0,191.1 L275.4,190.8 L275.8,190.5 L276.2,190.2 L276.6,190.0 L277.1,189.7 L277.5,189.4 L277.9,189.2 L278.3,188.9 L278.8,188.6 L279.2,188.4 L279.6,188.1 L280.1,187.9 L280.5,187.6 L280.9,187.4 L281.4,187.2 L281.8,186.9 L282.3,186.7 L282.7,186.5 L283.2,186.2 L283.6,186.0 L284.1,185.8 L284.6,185.6 L285.0,185.4 L285.5,185.2 L285.9,185.0 L286.4,184.8 L286.9,184.6 L287.3,184.4 L287.8,184.2 L288.3,184.0 L288.8,183.9 L289.2,183.7 L289.7,183.5 L290.2,183.3 L290.7,183.2 L291.2,183.0 L291.6,182.9 L292.1,182.7 L292.6,182.6 L293.1,182.4 L293.6,182.3 L294.1,182.2 L294.6,182.0 L295.1,181.9 L295.6,181.8 L296.0,181.7 L296.5,181.5 L297.0,181.4 L297.5,181.3 L298.0,181.2 L298.5,181.1 L299.0,181.0 L299.5,180.9 L300.0,180.9 L300.5,180.8 L301.0,180.7 L301.6,180.6 L302.1,180.6 L302.6,180.5 L303.1,180.4 L303.6,180.4 L304.1,180.3 L304.6,180.3 L305.1,180.2 L305.6,180.2 L306.1,180.2 L306.6,180.1 L307.1,180.1 L307.6,180.1 L308.2,180.1 L308.7,180.0 L309.2,180.0 L309.7,180.0 L310.2,180.0 L310.7,180.0 L311.2,180.0 L311.7,180.0 L312.2,180.1 L312.8,180.1 L313.3,180.1 L313.8,180.1 L314.3,180.2 L314.8,180.2 L315.3,180.2 L315.8,180.3 L316.3,180.3 L316.8,180.4 L317.3,180.4 L317.8,180.5 L318.3,180.6 L318.8,180.6 L319.4,180.7 L319.9,180.8 L320.4,180.9 L320.9,180.9 L321.4,181.0 L321.9,181.1 L322.4,181.2 L322.9,181.3 L323.4,181.4 L323.9,181.5 L324.4,181.7 L324.8,181.8 L325.3,181.9 L325.8,182.0 L326.3,182.2 L326.8,182.3 L327.3,182.4 L327.8,182.6 L328.3,182.7 L328.8,182.9 L329.2,183.0 L329.7,183.2 L330.2,183.3 L330.7,183.5 L331.2,183.7 L331.6,183.9 L332.1,184.0 L332.6,184.2 L333.1,184.4 L333.5,184.6 L334.0,184.8 L334.5,185.0 L334.9,185.2 L335.4,185.4 L335.8,185.6 L336.3,185.8 L336.8,186.0 L337.2,186.2 L337.7,186.5 L338.1,186.7 L338.6,186.9 L339.0,187.2 L339.4,187.4 L339.9,187.6 L340.3,187.9 L340.8,188.1 L341.2,188.4 L341.6,188.6 L342.1,188.9 L342.5,189.2 L342.9,189.4 L343.3,189.7 L343.8,190.0 L344.2,190.2 L344.6,190.5 L345.0,190.8 L345.4,191.1 L345.8,191.4 L346.2,191.7 L346.6,192.0 L347.0,192.3 L347.4,192.6 L347.8,192.9 L348.2,193.2 L348.6,193.5 L349.0,193.8 L349.3,194.1 L349.7,194.5 L350.1,194.8 L350.5,195.1 L350.8,195.5 L351.2,195.8 L351.6,196.1 L351.9,196.5 L352.3,196.8 L352.6,197.2 L353.0,197.5 L353.3,197.9 L353.7,198.2 L354.0,198.6 L354.4,198.9 L354.7,199.3 L355.0,199.7 L355.3,200.0 L355.7,200.4 L356.0,200.8 L356.3,201.2 L356.6,201.5 L356.9,201.9 L357.2,202.3 L357.5,202.7 L357.8,203.1 L358.1,203.5 L358.4,203.9 L358.7,204.3 L359.0,204.7 L359.3,205.1 L359.5,205.5 L359.8,205.9 L360.1,206.3 L360.3,206.7 L360.6,207.1 L360.9,207.5 L361.1,207.9 L361.4,208.3 L361.6,208.8 L361.9,209.2 L362.1,209.6 L362.3,210.0 L362.6,210.5 L362.8,210.9 L363.0,211.3 L363.2,211.8 L363.4,212.2 L363.6,212.6 L363.8,213.1 L364.0,213.5 L364.2,214.0 L364.4,214.4 L364.6,214.9 L364.8,215.3 L365.0,215.7 L365.2,216.2 L365.3,216.6 L365.5,217.1 L365.7,217.6 L365.8,218.0 L366.0,218.5 L366.1,218.9 L366.3,219.4 L366.4,219.8 L366.6,220.3 L366.7,220.8 L366.8,221.2 L367.0,221.7 L367.1,222.2 L367.2,222.6 L367.3,223.1 L367.4,223.6 L367.5,224.0 L367.6,224.5 L367.7,225.0 L367.8,225.5 L367.9,225.9 L368.0,226.4 L368.1,226.9 L368.1,227.3 L368.2,227.8 L368.3,228.3 L368.3,228.8 L368.4,229.3 L368.4,229.7 L368.5,230.2 L368.5,230.7 L368.6,231.2 L368.6,231.6 L368.6,232.1 L368.6,232.6 L368.7,233.1 L368.7,233.6 L368.7,234.0 L368.7,234.5 L368.7,235.0" fill="none" stroke="#000" stroke-opacity="0.5" stroke-width="1.1"/>
</g>
<circle cx="310.2" cy="235.0" r="58.1" fill="none" stroke="#000" stroke-opacity="0.35" stroke-width="1.2"/>
</g>
<g filter="url(#soft)">
<g clip-path="url(#gc3)">
<circle cx="438.2" cy="235.0" r="58.5" fill="#4e2c8e"/>
<path d="M432.2,176.8 420.8,179.2 410.5,183.5 401.5,189.5 392.5,198.5 387.5,205.8 384.5,211.8 381.8,219.5 380.5,225.5 379.8,231.2 380.2,242.2 382.5,252.8 384.5,258.2 387.5,264.2 394.2,273.5 403.2,281.8 408.2,285.2 413.8,288.2 423.2,291.5 432.2,293.2 444.2,293.2 454.5,291.2 461.8,288.5 466.5,286.2 476.2,279.5 484.2,271.2 490.2,261.8 494.5,250.8 496.5,239.5 496.2,227.2 494.5,219.2 492.8,214.2 488.5,205.2 482.5,196.8 474.5,189.2 466.5,183.8 461.8,181.5 454.5,178.8 444.2,176.8ZM442.8,251.8 443.8,252.2 444.5,253.2 443.8,254.2 442.5,253.8 442.2,252.5ZM452.8,248.5 453.5,248.2 454.8,249.2 453.8,249.8ZM426.5,248.2 428.2,248.5 429.8,250.2 428.5,252.2 427.5,251.8 426.2,250.2 425.8,248.8ZM445.2,247.5 446.5,245.8 449.2,245.5 451.2,246.5 452.5,248.5 449.8,249.2 446.8,250.8 445.5,249.8ZM434.2,240.8 437.2,242.2 438.5,243.5 437.8,245.8 439.8,247.8 440.5,249.2 439.8,250.5 436.8,251.2 436.2,251.8 436.2,253.2 436.8,253.8 439.8,254.2 440.8,255.2 441.8,258.5 443.2,260.2 446.2,259.8 448.2,260.2 447.5,264.8 444.5,267.2 443.2,266.5 442.5,264.5 441.5,264.5 439.8,266.2 438.8,265.8 437.5,264.2 437.5,261.5 436.5,259.8 435.8,260.2 435.5,263.2 434.2,264.2 433.5,263.8 432.2,262.2 433.5,259.2 433.5,257.5 432.5,252.2 430.5,249.8 430.5,249.2 432.2,246.5 431.2,244.5 433.2,241.5Z" fill="#6a38c0" fill-rule="evenodd"/>
<path d="M432.2,176.8 420.8,179.2 410.5,183.5 401.5,189.5 392.5,198.5 387.5,205.8 384.5,211.8 381.8,219.5 380.5,225.5 379.8,231.2 380.2,242.2 382.5,252.8 384.5,258.2 387.5,264.2 394.2,273.5 403.2,281.8 408.2,285.2 413.8,288.2 423.2,291.5 432.2,293.2 444.2,293.2 454.5,291.2 461.8,288.5 466.5,286.2 476.2,279.5 484.2,271.2 490.2,261.8 494.5,250.8 496.5,239.5 496.2,227.2 494.5,219.2 492.8,214.2 488.5,205.2 482.5,196.8 474.5,189.2 466.5,183.8 461.8,181.5 454.5,178.8 444.2,176.8ZM438.5,232.2 439.5,232.2 440.8,233.8 441.2,234.8 440.8,239.5 442.2,241.5 444.2,242.2 446.5,240.8 447.5,240.8 449.8,243.2 452.8,243.5 456.8,245.8 458.8,249.5 457.8,253.5 458.2,260.8 457.5,263.8 453.2,268.5 446.8,273.8 442.8,275.2 436.5,274.8 434.2,273.5 428.5,272.2 425.5,269.8 423.8,266.8 423.8,263.5 426.2,259.8 426.2,257.8 423.8,255.2 423.8,252.2 422.2,247.8 424.2,245.2 425.8,241.2 428.5,240.2 429.8,238.2 430.8,237.5 435.2,237.2 436.2,236.2 436.8,233.8Z" fill="#793dd0" fill-rule="evenodd"/>
<path d="M432.2,176.8 420.8,179.2 410.5,183.5 401.5,189.5 392.5,198.5 387.5,205.8 384.5,211.8 381.8,219.5 380.5,225.5 379.8,231.2 380.2,242.2 382.5,252.8 384.5,258.2 387.5,264.2 394.2,273.5 403.2,281.8 408.2,285.2 413.8,288.2 423.2,291.5 432.2,293.2 444.2,293.2 454.5,291.2 461.8,288.5 466.5,286.2 476.2,279.5 484.2,271.2 490.2,261.8 494.5,250.8 496.5,239.5 496.2,227.2 494.5,219.2 492.8,214.2 488.5,205.2 482.5,196.8 474.5,189.2 466.5,183.8 461.8,181.5 454.5,178.8 444.2,176.8ZM442.8,227.8 446.2,231.2 450.8,230.8 451.8,231.8 453.2,234.8 454.5,236.2 459.2,237.8 461.5,242.5 461.5,244.5 460.8,245.8 463.2,248.8 463.2,250.5 460.5,252.5 460.5,253.8 461.5,254.8 462.5,254.8 463.8,256.2 464.5,257.8 464.5,260.2 463.8,261.8 461.5,263.5 460.8,264.5 460.2,266.8 458.2,268.5 457.8,269.5 456.2,271.2 452.5,272.2 447.2,276.8 442.2,277.5 437.8,277.5 436.2,276.8 432.5,276.8 432.2,277.2 430.2,276.8 425.2,274.2 422.8,273.8 420.8,272.5 419.8,271.2 419.2,267.8 416.5,264.8 414.2,260.5 413.2,256.8 411.2,254.5 413.2,251.2 412.8,247.2 413.5,242.2 414.8,240.5 416.2,240.2 417.2,239.2 418.8,236.5 422.5,232.8 426.2,230.8 429.8,229.8 432.5,230.2 436.5,229.8 439.5,228.2Z" fill="#7842dc" fill-rule="evenodd"/>
<path d="M432.2,176.8 420.8,179.2 410.5,183.5 401.5,189.5 392.5,198.5 387.5,205.8 384.5,211.8 381.8,219.5 380.5,225.5 379.8,231.2 380.2,242.2 382.5,252.8 384.5,258.2 387.5,264.2 394.2,273.5 403.2,281.8 408.2,285.2 413.8,288.2 423.2,291.5 432.2,293.2 444.2,293.2 454.5,291.2 461.8,288.5 466.5,286.2 476.2,279.5 484.2,271.2 490.2,261.8 494.5,250.8 496.5,239.5 496.2,227.2 494.5,219.2 492.8,214.2 488.5,205.2 482.5,196.8 474.5,189.2 466.5,183.8 461.8,181.5 454.5,178.8 444.2,176.8ZM442.5,222.8 447.8,226.5 448.8,226.8 451.2,226.5 452.8,227.2 455.5,229.2 457.2,229.8 458.8,231.5 459.5,233.2 461.5,233.8 462.5,234.8 463.2,236.5 463.2,238.5 465.5,239.8 466.2,240.8 466.5,243.5 468.2,247.5 468.8,251.2 467.5,254.2 467.5,260.5 463.8,267.8 460.5,271.5 458.5,272.5 457.2,273.8 456.5,275.5 455.5,276.5 446.5,280.2 434.5,280.8 428.5,278.5 425.5,278.2 424.2,277.2 420.8,276.2 417.2,273.2 412.8,268.5 412.5,266.8 410.2,263.2 409.5,260.5 407.8,258.2 407.5,256.8 408.2,254.8 407.8,248.2 409.5,244.5 409.2,241.2 412.5,236.2 419.2,229.8 421.2,229.2 424.8,225.8 427.8,224.2 431.2,223.5Z" fill="#6a46e4" fill-rule="evenodd"/>
<path d="M432.2,176.8 420.8,179.2 410.5,183.5 401.5,189.5 392.5,198.5 387.5,205.8 384.5,211.8 381.8,219.5 380.5,225.5 379.8,231.2 380.2,242.2 382.5,252.8 384.5,258.2 387.5,264.2 394.2,273.5 403.2,281.8 408.2,285.2 413.8,288.2 423.2,291.5 432.2,293.2 444.2,293.2 454.5,291.2 461.8,288.5 466.5,286.2 476.2,279.5 484.2,271.2 490.2,261.8 494.5,250.8 496.5,239.5 496.2,227.2 494.5,219.2 492.8,214.2 488.5,205.2 482.5,196.8 474.5,189.2 466.5,183.8 461.8,181.5 454.5,178.8 444.2,176.8ZM443.2,220.8 449.2,222.8 455.5,225.8 460.2,229.2 463.8,232.8 465.8,235.5 468.8,241.5 468.8,242.8 470.2,246.5 470.8,251.5 469.5,256.8 469.2,260.8 465.8,267.8 464.5,269.8 456.8,277.2 454.2,278.8 450.5,279.8 448.2,281.2 435.5,282.5 426.8,280.2 421.2,277.8 416.5,274.8 411.5,269.5 405.8,257.5 405.8,246.5 406.8,244.5 407.2,241.2 412.5,232.5 414.8,229.8 418.8,226.8 425.8,222.8 431.5,221.5Z" fill="#5c4ee8" fill-rule="evenodd"/>
<path d="M432.2,176.8 420.8,179.2 410.5,183.5 401.5,189.5 392.5,198.5 387.5,205.8 384.5,211.8 381.8,219.5 380.5,225.5 379.8,231.2 380.2,242.2 382.5,252.8 384.5,258.2 387.5,264.2 394.2,273.5 403.2,281.8 408.2,285.2 413.8,288.2 423.2,291.5 432.2,293.2 444.2,293.2 454.5,291.2 461.8,288.5 466.5,286.2 476.2,279.5 484.2,271.2 490.2,261.8 494.5,250.8 496.5,239.5 496.2,227.2 494.5,219.2 492.8,214.2 488.5,205.2 482.5,196.8 474.5,189.2 466.5,183.8 461.8,181.5 454.5,178.8 444.2,176.8ZM425.8,221.5 432.5,219.8 444.2,219.8 448.8,221.2 456.2,224.5 460.2,227.5 465.8,233.2 468.2,236.8 470.2,241.2 472.2,249.5 471.5,256.2 470.2,261.8 464.8,271.2 457.8,277.5 453.5,280.2 447.8,282.2 439.2,283.2 434.5,283.2 425.5,280.8 416.2,275.8 410.5,269.8 406.5,262.5 404.5,256.5 404.5,245.8 405.5,243.5 405.8,241.2 411.2,231.5 414.2,228.5 419.8,224.5Z" fill="#505ae8" fill-rule="evenodd"/>
<path d="M432.2,176.8 420.8,179.2 410.5,183.5 401.5,189.5 392.5,198.5 387.5,205.8 384.5,211.8 381.8,219.5 380.5,225.5 379.8,231.2 380.2,242.2 382.5,252.8 384.5,258.2 387.5,264.2 394.2,273.5 403.2,281.8 408.2,285.2 413.8,288.2 423.2,291.5 432.2,293.2 444.2,293.2 454.5,291.2 461.8,288.5 466.5,286.2 476.2,279.5 484.2,271.2 490.2,261.8 494.5,250.8 496.5,239.5 496.2,227.2 494.5,219.2 492.8,214.2 488.5,205.2 482.5,196.8 474.5,189.2 466.5,183.8 461.8,181.5 454.5,178.8 444.2,176.8ZM427.2,219.8 433.8,218.5 442.2,218.5 446.2,219.2 451.5,220.8 456.2,223.2 460.8,226.5 466.5,232.2 468.8,235.5 471.2,240.5 473.2,248.5 473.2,251.5 471.8,260.2 470.8,262.8 465.8,271.2 459.8,276.8 456.2,279.5 452.8,281.2 446.5,283.2 439.8,283.8 434.2,283.8 425.8,281.8 420.2,279.2 415.8,276.5 410.5,271.2 405.5,262.8 403.5,255.8 403.5,245.5 404.8,240.8 408.2,234.2 410.5,230.5 413.2,227.8 420.8,222.5Z" fill="#4668ea" fill-rule="evenodd"/>
<path d="M432.2,176.8 420.8,179.2 410.5,183.5 401.5,189.5 392.5,198.5 387.5,205.8 384.5,211.8 381.8,219.5 380.5,225.5 379.8,231.2 380.2,242.2 382.5,252.8 384.5,258.2 387.5,264.2 394.2,273.5 403.2,281.8 408.2,285.2 413.8,288.2 423.2,291.5 432.2,293.2 444.2,293.2 454.5,291.2 461.8,288.5 466.5,286.2 476.2,279.5 484.2,271.2 490.2,261.8 494.5,250.8 496.5,239.5 496.2,227.2 494.5,219.2 492.8,214.2 488.5,205.2 482.5,196.8 474.5,189.2 466.5,183.8 461.8,181.5 454.5,178.8 444.2,176.8ZM427.8,218.5 434.2,217.5 441.5,217.5 445.8,218.2 451.8,219.8 455.8,221.8 461.5,225.8 466.8,231.2 469.8,235.5 471.5,238.8 473.8,247.8 473.5,255.2 472.8,259.2 471.5,263.2 468.8,268.2 466.2,271.8 460.8,276.8 456.2,280.2 453.5,281.5 447.5,283.5 439.2,284.5 434.8,284.5 432.5,283.8 430.5,283.8 425.2,282.2 417.2,278.2 414.8,276.5 409.2,270.5 404.8,263.2 402.8,256.8 402.5,246.2 404.2,240.2 406.8,234.5 409.8,229.8 412.8,226.8 419.5,222.2Z" fill="#3e78ee" fill-rule="evenodd"/>
<path d="M432.2,176.8 420.8,179.2 410.5,183.5 401.5,189.5 392.5,198.5 387.5,205.8 384.5,211.8 381.8,219.5 380.5,225.5 379.8,231.2 380.2,242.2 382.5,252.8 384.5,258.2 387.5,264.2 394.2,273.5 403.2,281.8 408.2,285.2 413.8,288.2 423.2,291.5 432.2,293.2 444.2,293.2 454.5,291.2 461.8,288.5 466.5,286.2 476.2,279.5 484.2,271.2 490.2,261.8 494.5,250.8 496.5,239.5 496.2,227.2 494.5,219.2 492.8,214.2 488.5,205.2 482.5,196.8 474.5,189.2 466.5,183.8 461.8,181.5 454.5,178.8 444.2,176.8ZM436.8,216.2 442.2,216.5 451.8,218.5 462.5,225.2 467.8,230.8 471.2,235.8 472.8,239.8 474.8,248.5 474.8,251.8 474.2,253.8 473.8,258.2 472.5,262.8 469.8,268.2 466.5,272.5 459.8,278.5 453.8,282.2 447.5,284.2 438.8,285.2 435.2,285.2 427.8,283.8 416.8,278.8 414.2,276.8 407.5,269.5 403.8,262.8 402.2,257.8 401.8,248.5 401.5,248.2 401.8,245.2 403.5,239.2 406.2,233.5 410.2,227.5 416.5,223.5 419.5,220.8 427.8,217.2 434.2,216.8Z" fill="#3987ee" fill-rule="evenodd"/>
<path d="M432.2,176.8 420.8,179.2 410.5,183.5 401.5,189.5 392.5,198.5 387.5,205.8 384.5,211.8 381.8,219.5 380.5,225.5 379.8,231.2 380.2,242.2 382.5,252.8 384.5,258.2 387.5,264.2 394.2,273.5 403.2,281.8 408.2,285.2 413.8,288.2 423.2,291.5 432.2,293.2 444.2,293.2 454.5,291.2 461.8,288.5 466.5,286.2 476.2,279.5 484.2,271.2 490.2,261.8 494.5,250.8 496.5,239.5 496.2,227.2 494.5,219.2 492.8,214.2 488.5,205.2 482.5,196.8 474.5,189.2 466.5,183.8 461.8,181.5 454.5,178.8 444.2,176.8ZM437.2,214.8 440.8,214.8 452.8,217.5 459.8,221.5 462.8,223.8 468.8,230.2 473.2,237.2 474.5,243.5 475.2,244.8 475.2,246.8 475.8,248.8 475.8,252.2 474.5,259.8 471.8,266.5 470.5,268.8 464.8,275.5 458.8,280.2 454.2,282.8 445.8,285.2 434.8,285.8 428.5,284.8 417.5,280.2 413.8,277.5 407.2,270.5 405.5,268.2 402.8,262.8 401.2,258.2 400.5,246.8 401.8,240.2 404.5,233.8 406.5,231.5 407.8,228.5 410.8,225.5 414.5,223.5 418.8,219.8 426.8,216.2 434.8,215.5Z" fill="#3696eb" fill-rule="evenodd"/>
<path d="M432.2,176.8 427.8,177.5 428.5,178.5 426.8,179.8 425.8,179.5 424.5,178.2 417.8,180.2 410.5,183.5 401.5,189.5 392.5,198.5 391.8,199.5 391.8,200.5 389.2,203.2 384.5,211.8 381.8,219.5 380.5,225.5 379.8,231.2 380.2,242.2 382.5,252.8 384.5,258.2 387.5,264.2 394.2,273.5 403.2,281.8 408.2,285.2 413.8,288.2 423.2,291.5 432.2,293.2 444.2,293.2 454.5,291.2 461.8,288.5 466.5,286.2 476.2,279.5 484.2,271.2 490.2,261.8 494.5,250.8 496.5,239.5 496.2,227.2 494.5,219.2 492.8,214.2 488.5,205.2 482.5,196.8 474.5,189.2 466.5,183.8 461.8,181.5 454.5,178.8 444.2,176.8ZM440.5,212.8 449.2,215.5 451.5,215.5 458.8,219.2 462.5,221.8 469.2,228.5 473.8,235.5 474.8,237.8 474.8,240.2 476.2,244.5 476.2,246.8 476.8,249.5 476.5,254.5 475.5,259.8 471.8,268.8 468.2,272.5 467.2,274.5 465.2,276.5 457.2,282.5 450.2,285.2 445.2,286.2 440.8,286.2 440.5,286.5 429.8,286.2 425.5,284.2 416.8,281.2 406.8,271.5 404.5,268.5 400.2,259.2 398.8,253.8 399.2,252.2 398.8,247.8 400.5,243.2 400.5,240.8 401.8,235.2 405.5,230.2 407.2,226.8 408.8,225.2 411.2,223.5 414.2,222.2 416.8,219.2 419.2,218.5 424.5,215.5 427.8,214.5 435.2,214.2ZM448.5,178.2 449.5,178.8 449.2,179.8 447.8,179.2Z" fill="#34a4e8" fill-rule="evenodd"/>
<path d="M461.2,183.8 457.8,184.2 455.2,183.8 452.5,182.5 448.8,182.5 446.5,181.2 444.5,181.2 443.5,181.8 439.8,181.5 438.2,182.5 432.8,181.8 430.5,182.2 427.2,184.8 425.2,184.5 422.5,183.2 420.8,183.2 417.2,185.5 415.2,186.2 412.8,189.2 409.5,191.5 404.5,190.8 403.8,191.5 403.2,195.2 401.8,196.2 399.5,196.2 398.2,196.8 397.2,199.5 393.5,202.2 390.8,205.8 389.2,209.5 386.8,211.5 386.5,213.2 384.2,215.8 383.8,219.2 382.2,222.2 382.8,225.8 380.8,229.2 379.8,233.8 379.8,237.2 380.5,243.8 381.8,250.5 384.5,258.2 388.5,265.8 394.2,273.5 403.2,281.8 408.2,285.2 413.8,288.2 423.2,291.5 432.2,293.2 446.8,292.8 458.5,289.8 468.8,284.8 476.2,279.5 484.2,271.2 488.5,264.8 491.2,259.8 494.5,250.8 496.5,239.5 496.2,227.2 494.5,219.5 492.8,214.5 489.8,208.2 484.5,200.5 480.2,196.8 476.5,192.5 473.2,190.8 470.5,188.8 463.5,185.5ZM423.2,213.2 427.8,212.5 430.2,211.5 433.5,211.5 436.2,210.5 440.5,210.5 444.2,211.2 446.5,212.2 449.2,212.2 451.5,212.8 454.5,214.8 456.8,215.5 462.8,218.8 469.8,225.2 474.8,232.2 477.2,237.8 477.2,242.8 478.2,244.8 478.2,248.5 478.8,250.2 477.2,261.2 476.2,262.8 474.5,268.2 469.5,273.5 468.2,275.8 463.5,279.8 460.8,281.2 456.8,284.2 447.2,287.5 432.5,287.8 430.2,287.5 421.8,284.5 417.5,283.5 412.8,279.8 405.2,272.2 399.8,263.5 399.2,260.5 395.8,252.8 395.8,250.8 396.2,250.5 396.2,247.2 398.2,243.8 399.2,239.8 399.5,235.5 401.2,232.5 401.8,229.5 410.2,220.8 412.8,219.5 415.8,216.5 420.2,215.2Z" fill="#32ace8" fill-rule="evenodd"/>
<path d="M459.8,186.5 452.2,186.5 449.8,185.2 444.8,185.2 443.5,185.8 432.5,185.5 431.2,186.5 429.2,189.2 427.5,189.2 424.8,187.5 423.2,187.5 421.2,188.5 416.5,193.2 413.2,194.5 412.2,196.5 410.8,197.8 406.8,198.2 403.5,201.5 400.8,202.2 399.2,204.8 397.8,206.2 397.2,208.8 395.5,210.2 393.5,210.5 391.5,212.8 389.2,221.2 386.2,224.2 386.5,228.5 385.2,230.8 382.5,232.8 382.2,235.2 384.5,237.5 383.8,242.8 383.2,244.5 383.5,250.8 384.8,254.8 388.2,258.2 388.2,259.8 387.2,261.2 387.5,263.2 389.5,265.5 390.5,267.5 393.2,269.5 395.5,274.5 397.5,275.8 402.8,281.5 407.2,283.8 408.8,285.5 413.8,288.2 423.2,291.5 432.2,293.2 446.8,292.8 458.5,289.8 468.8,284.8 476.2,279.5 484.2,271.2 488.5,264.8 491.2,259.8 495.2,248.2 496.5,238.2 496.5,231.8 495.8,226.5 492.5,215.5 489.5,209.5 483.5,201.8 477.8,197.2 474.2,193.2 465.2,190.2 462.5,188.8ZM428.2,205.5 433.2,205.2 435.5,206.8 438.8,206.8 439.2,206.5 443.8,206.8 445.5,207.5 449.2,207.8 451.5,209.2 455.2,209.8 457.5,212.5 461.2,214.8 464.8,216.2 466.5,218.2 468.8,219.8 471.2,223.5 476.5,229.2 477.8,232.5 478.2,235.5 479.8,239.2 479.8,242.8 480.8,249.5 480.8,254.2 479.5,256.8 479.5,260.5 478.2,263.2 476.2,269.5 466.2,280.8 462.2,282.5 458.8,285.2 454.2,286.5 450.2,288.5 449.2,289.5 446.5,290.5 443.2,289.5 437.5,289.5 435.2,290.5 430.8,290.2 428.5,288.8 424.5,288.5 422.2,287.2 417.8,287.5 416.5,286.5 415.2,284.2 413.5,282.8 409.2,282.2 408.2,280.8 407.5,278.2 406.2,276.8 404.2,276.2 402.5,274.5 400.2,269.8 399.5,269.2 397.5,268.8 395.5,266.5 395.2,263.5 395.8,262.2 395.8,259.8 391.8,250.5 392.2,249.2 393.5,247.5 393.5,244.8 391.8,242.8 391.8,242.2 394.2,239.8 394.5,235.5 397.2,231.5 396.8,229.2 397.8,227.8 400.2,226.5 401.5,223.5 403.5,221.8 404.8,219.8 405.2,216.8 406.2,216.2 408.8,216.2 412.8,212.5 417.8,211.5 421.5,208.8 423.8,208.8Z" fill="#31b4e8" fill-rule="evenodd"/>
<path d="M456.5,289.8 454.2,289.8 451.8,291.2 455.2,290.8ZM423.8,196.5 421.8,196.2 419.8,197.5 420.5,197.8 421.5,197.2 423.5,197.2ZM439.8,189.2 436.8,191.2 435.2,195.2 435.5,197.5 434.5,198.5 433.2,197.8 433.5,195.5 432.2,192.8 431.2,192.5 429.8,193.5 429.2,195.8 429.5,197.2 432.2,200.2 432.2,200.8 433.8,201.8 435.5,201.2 438.2,201.2 440.5,200.2 447.5,202.8 449.5,202.8 452.2,206.2 455.8,206.2 459.8,207.8 465.2,212.8 466.5,213.2 470.8,216.8 472.5,221.2 473.8,222.5 475.8,222.5 477.2,223.8 477.2,225.5 478.5,228.2 478.8,230.5 480.2,233.5 480.2,235.5 482.5,241.5 483.2,246.2 483.2,248.5 482.5,250.5 482.5,254.5 481.8,256.2 481.5,260.8 479.8,264.5 479.5,267.5 476.8,271.8 473.8,275.2 471.8,278.5 468.5,281.8 467.8,283.5 466.8,284.5 458.8,287.5 458.5,289.2 460.8,288.8 470.2,283.8 477.8,277.8 483.8,271.5 488.5,264.8 491.5,258.8 494.8,248.5 495.8,240.5 495.8,232.5 495.2,230.2 495.2,227.8 491.5,216.2 488.2,210.5 486.2,208.2 485.2,206.2 474.8,196.8 469.5,193.8 465.2,192.8 458.5,189.2 457.2,189.2 451.8,191.2 450.8,191.2 449.2,190.2 446.2,190.2 442.5,189.2Z" fill="#30bade" fill-rule="evenodd"/>
<path d="M454.2,193.8 452.8,194.8 450.2,195.5 449.8,196.2 450.2,197.2 453.2,198.8 454.8,200.5 456.8,201.2 459.8,205.2 462.5,205.5 463.8,206.2 472.2,215.2 474.5,219.2 478.2,221.8 480.8,227.8 481.2,230.2 482.5,232.5 483.2,235.8 484.5,238.8 485.5,247.5 484.8,250.2 484.2,259.2 482.8,263.8 479.5,270.8 479.2,272.8 477.2,275.8 477.5,276.5 479.2,275.8 485.8,268.2 489.8,261.8 494.2,249.5 494.5,244.5 495.2,241.8 495.2,236.8 494.8,236.5 495.2,233.5 494.2,229.2 494.2,227.2 492.5,223.2 491.2,218.2 489.5,214.8 483.2,205.8 480.2,204.2 477.2,201.2 472.5,197.8 468.2,196.5 466.5,196.5 463.2,194.8 460.2,194.8 458.5,196.5 457.8,196.5 456.5,194.2Z" fill="#30beca" fill-rule="evenodd"/>
<path d="M461.5,199.2 460.8,200.5 464.2,203.2 467.8,204.8 469.8,207.2 471.5,210.8 474.8,215.2 476.8,216.2 480.8,220.5 482.5,227.5 484.5,231.2 485.2,235.2 486.8,238.5 487.2,255.8 486.8,258.2 485.5,261.5 485.2,264.8 482.5,269.8 488.5,262.8 490.2,259.2 490.5,257.2 493.5,249.2 493.5,245.2 494.2,243.2 494.2,233.8 492.8,226.2 488.8,216.5 485.2,212.2 484.2,209.5 482.2,207.2 479.2,205.8 472.2,200.8 468.5,199.8 464.8,200.2 462.8,199.2Z" fill="#33c3b5" fill-rule="evenodd"/>
<path d="M474.5,208.5 474.2,208.8 474.5,210.2 481.5,217.2 483.5,220.5 483.5,223.8 486.8,230.8 487.2,235.2 489.2,238.5 489.5,246.2 488.8,247.5 488.8,252.8 489.2,253.8 489.8,253.8 491.2,252.8 492.5,249.2 492.5,244.2 493.2,242.8 492.8,233.5 490.8,224.8 488.8,220.2 486.5,216.8 484.2,214.5 482.8,211.2 481.2,209.5 479.5,208.8 478.5,208.8 478.5,209.5 477.5,209.8 475.8,208.5Z" fill="#38c8a0" fill-rule="evenodd"/>
<path d="M489.2,234.2 489.8,235.2 489.8,234.5Z" fill="#43cd8b" fill-rule="evenodd"/>
<path d="M412.2,281.5 413.8,282.5 413.8,281.5 413.2,281.2ZM403.2,280.8 406.2,283.8 408.2,285.2 417.8,289.8 427.5,292.5 432.2,293.2 436.2,293.2 435.2,291.8 434.2,291.5 423.5,290.5 419.2,287.8 417.2,287.2 415.8,285.2 409.5,281.5ZM399.5,267.5 401.2,269.2 404.8,271.2 404.5,270.2 403.2,269.2ZM395.8,264.5 396.5,265.8 396.2,267.8 398.8,266.5ZM489.5,261.5 488.8,261.5 486.5,263.8 486.2,264.8 487.5,265.8 488.2,265.2ZM495.5,223.5 495.8,229.2 495.2,231.5 493.2,232.8 491.8,236.8 490.2,238.5 489.2,241.2 486.5,244.5 487.2,251.2 488.5,253.8 489.5,253.2 490.2,255.2 491.5,253.8 491.8,254.2 491.8,257.2 493.2,254.8 494.5,250.8 496.2,242.8 496.5,230.5ZM434.8,177.2 429.8,178.5 428.8,180.2 425.8,183.2 431.5,187.2 436.5,189.2 436.5,194.2 435.8,196.2 435.8,199.8 434.2,203.5 434.5,209.5 433.5,213.5 434.5,217.2 437.2,219.5 438.8,220.2 439.5,219.8 437.8,217.5 437.8,215.8 439.8,213.2 438.8,211.5 440.2,210.5 441.5,208.5 440.8,207.5 442.5,206.8 443.5,204.8 446.2,204.8 447.8,203.2 451.2,202.2 453.2,200.2 455.5,199.2 456.8,197.2 460.5,197.2 460.8,196.8 463.8,197.2 465.5,195.5 466.8,192.8 469.8,192.8 470.2,191.2 465.2,187.5 456.8,182.8 454.8,180.8 443.2,177.5Z" fill="#005030" fill-opacity="0.28" stroke="#202020" stroke-opacity="0.2" stroke-width="0.5" fill-rule="evenodd"/>
<path d="M443.2,228.8 441.8,228.8 438.8,231.2 438.5,233.5 437.2,236.2 434.8,238.5 431.8,238.8 430.2,239.8 429.2,241.2 429.2,242.5 426.5,243.8 424.8,245.8 424.2,247.8 424.2,251.2 425.5,252.8 427.8,259.5 427.8,261.8 422.8,263.2 423.2,266.8 426.8,272.2 430.8,274.5 440.2,275.5 442.8,275.2 446.5,273.8 449.8,271.2 450.5,269.2 452.8,268.8 455.5,267.2 458.2,263.8 457.8,261.2 458.2,253.2 456.8,247.2 454.2,244.5 453.2,244.2 446.8,244.2 445.5,244.8 444.2,244.8 442.2,243.5 439.8,240.5 440.8,234.8 440.5,232.2 441.2,230.8Z" fill="#404838" fill-opacity="0.28" stroke="#202020" stroke-opacity="0.2" stroke-width="0.5" fill-rule="evenodd"/>
<path d="M438.2,255.0 L438.3,254.6 L438.4,254.2 L438.5,253.7 L438.6,253.3 L438.7,252.9 L438.8,252.4 L438.8,252.0 L438.9,251.6 L439.0,251.1 L439.1,250.7 L439.2,250.3 L439.3,249.8 L439.4,249.4 L439.5,249.0 L439.6,248.5 L439.7,248.1 L439.8,247.6 L439.8,247.2 L439.9,246.8 L440.0,246.3 L440.1,245.9 L440.2,245.4 L440.3,245.0 L440.4,244.5 L440.5,244.1 L440.6,243.6 L440.7,243.2 L440.8,242.7 L440.8,242.3 L440.9,241.8 L441.0,241.4 L441.1,240.9 L441.2,240.5 L441.3,240.0 L441.4,239.6 L441.5,239.1 L441.5,238.7 L441.6,238.2 L441.7,237.8 L441.8,237.3 L441.9,236.9 L442.0,236.4 L442.1,236.0 L442.2,235.5 L442.2,235.1 L442.3,234.6 L442.4,234.2 L442.5,233.7 L442.6,233.3 L442.7,232.8 L442.8,232.4 L442.8,231.9 L442.9,231.5 L443.0,231.0 L443.1,230.6 L443.2,230.1 L443.3,229.7 L443.3,229.2 L443.4,228.8 L443.5,228.3 L443.6,227.9 L443.7,227.4 L443.8,227.0 L443.8,226.5 L443.9,226.1 L444.0,225.6 L444.1,225.2 L444.2,224.7 L444.2,224.3 L444.3,223.8 L444.4,223.4 L444.5,222.9 L444.5,222.5 L444.6,222.1 L444.7,221.6 L444.8,221.2 L444.8,220.7 L444.9,220.3 L445.0,219.9 L445.1,219.4 L445.1,219.0 L445.2,218.6 L445.3,218.1 L445.4,217.7 L445.4,217.3 L445.5,216.8 L445.6,216.4 L445.6,216.0 L445.7,215.6 L445.8,215.1 L445.9,214.7 L445.9,214.3 L446.0,213.9 L446.1,213.4 L446.1,213.0 L446.2,212.6 L446.3,212.2 L446.3,211.8 L446.4,211.4 L446.5,211.0 L446.5,210.5 L446.6,210.1 L446.7,209.7 L446.7,209.3 L446.8,208.9 L446.8,208.5 L446.9,208.1 L447.0,207.7 L447.0,207.3 L447.1,206.9 L447.1,206.5 L447.2,206.1 L447.3,205.7 L447.3,205.4 L447.4,205.0 L447.4,204.6 L447.5,204.2 L447.5,203.8 L447.6,203.4 L447.7,203.1 L447.7,202.7 L447.8,202.3 L447.8,201.9 L447.9,201.6 L447.9,201.2 L448.0,200.8 L448.0,200.5 L448.1,200.1 L448.1,199.8 L448.2,199.4 L448.2,199.1 L448.3,198.7 L448.3,198.4 L448.3,198.0 L448.4,197.7 L448.4,197.3 L448.5,197.0 L448.5,196.6 L448.6,196.3 L448.6,196.0 L448.6,195.6 L448.7,195.3 L448.7,195.0 L448.8,194.7 L448.8,194.3 L448.8,194.0 L448.9,193.7 L448.9,193.4 L449.0,193.1 L449.0,192.8 L449.0,192.5 L449.1,192.2 L449.1,191.9 L449.1,191.6 L449.2,191.3 L449.2,191.0 L449.2,190.7 L449.2,190.4 L449.3,190.1 L449.3,189.8 L449.3,189.6 L449.4,189.3 L449.4,189.0 L449.4,188.7 L449.4,188.5 L449.5,188.2 L449.5,187.9 L449.5,187.7 L449.5,187.4 L449.5,187.2 L449.6,186.9 L449.6,186.7 L449.6,186.4 L449.6,186.2 L449.6,186.0 L449.7,185.7 L449.7,185.5 L449.7,185.3 L449.7,185.0 L449.7,184.8 L449.7,184.6 L449.8,184.4 L449.8,184.2 L449.8,184.0 L449.8,183.8 L449.8,183.6 L449.8,183.4 L449.8,183.2 L449.8,183.0 L449.8,182.8 L449.8,182.6 L449.8,182.4 L449.8,182.2 L449.9,182.0 L449.9,181.9 L449.9,181.7 L449.9,181.5 L449.9,181.4 L449.9,181.2 L449.9,181.1 L449.9,180.9 L449.9,180.7 L449.9,180.6 L449.9,180.5 L449.9,180.3 L449.8,180.2 L449.8,180.0 L449.8,179.9 L449.8,179.8 L449.8,179.7 L449.8,179.5 L449.8,179.4 L449.8,179.3 L449.8,179.2 L449.8,179.1 L449.8,179.0 L449.8,178.9 L449.7,178.8 L449.7,178.7 L449.7,178.6 L449.7,178.5 L449.7,178.4 L449.7,178.4 L449.6,178.3 L449.6,178.2 L449.6,178.2 L449.6,178.1 L449.6,178.0 L449.5,178.0 L449.5,177.9 L449.5,177.9 L449.5,177.8 L449.5,177.8 L449.4,177.7 L449.4,177.7 L449.4,177.7 L449.4,177.6 L449.3,177.6 L449.3,177.6 L449.3,177.6 L449.2,177.6 L449.2,177.5 L449.2,177.5 M438.2,255.0 L438.6,254.9 L439.1,254.7 L439.5,254.6 L439.9,254.4 L440.4,254.3 L440.8,254.2 L441.3,254.0 L441.7,253.9 L442.1,253.7 L442.6,253.6 L443.0,253.4 L443.4,253.3 L443.9,253.1 L444.3,253.0 L444.7,252.8 L445.2,252.7 L445.6,252.5 L446.0,252.3 L446.5,252.2 L446.9,252.0 L447.3,251.9 L447.8,251.7 L448.2,251.5 L448.6,251.4 L449.0,251.2 L449.5,251.0 L449.9,250.9 L450.3,250.7 L450.8,250.5 L451.2,250.4 L451.6,250.2 L452.0,250.0 L452.5,249.9 L452.9,249.7 L453.3,249.5 L453.7,249.3 L454.1,249.2 L454.6,249.0 L455.0,248.8 L455.4,248.6 L455.8,248.4 L456.2,248.3 L456.6,248.1 L457.0,247.9 L457.4,247.7 L457.9,247.5 L458.3,247.3 L458.7,247.2 L459.1,247.0 L459.5,246.8 L459.9,246.6 L460.3,246.4 L460.7,246.2 L461.1,246.0 L461.5,245.8 L461.9,245.7 L462.3,245.5 L462.7,245.3 L463.1,245.1 L463.4,244.9 L463.8,244.7 L464.2,244.5 L464.6,244.3 L465.0,244.1 L465.4,243.9 L465.7,243.7 L466.1,243.5 L466.5,243.3 L466.9,243.1 L467.3,242.9 L467.6,242.7 L468.0,242.5 L468.4,242.3 L468.7,242.1 L469.1,241.9 L469.5,241.7 L469.8,241.5 L470.2,241.3 L470.5,241.1 L470.9,240.9 L471.2,240.7 L471.6,240.5 L471.9,240.3 L472.3,240.1 L472.6,239.9 L473.0,239.7 L473.3,239.5 L473.6,239.3 L474.0,239.0 L474.3,238.8 L474.6,238.6 L475.0,238.4 L475.3,238.2 L475.6,238.0 L475.9,237.8 L476.3,237.6 L476.6,237.4 L476.9,237.2 L477.2,237.0 L477.5,236.8 L477.8,236.6 L478.1,236.3 L478.4,236.1 L478.7,235.9 L479.0,235.7 L479.3,235.5 L479.6,235.3 L479.9,235.1 L480.2,234.9 L480.5,234.7 L480.7,234.5 L481.0,234.3 L481.3,234.0 L481.6,233.8 L481.8,233.6 L482.1,233.4 L482.4,233.2 L482.6,233.0 L482.9,232.8 L483.2,232.6 L483.4,232.4 L483.7,232.2 L483.9,232.0 L484.2,231.8 L484.4,231.5 L484.6,231.3 L484.9,231.1 L485.1,230.9 L485.3,230.7 L485.6,230.5 L485.8,230.3 L486.0,230.1 L486.2,229.9 L486.5,229.7 L486.7,229.5 L486.9,229.3 L487.1,229.1 L487.3,228.9 L487.5,228.7 L487.7,228.5 L487.9,228.3 L488.1,228.1 L488.3,227.9 L488.5,227.7 L488.6,227.5 L488.8,227.3 L489.0,227.1 L489.2,226.9 L489.3,226.7 L489.5,226.5 L489.7,226.3 L489.8,226.1 L490.0,225.9 L490.2,225.7 L490.3,225.5 L490.5,225.3 L490.6,225.1 L490.7,224.9 L490.9,224.7 L491.0,224.5 L491.1,224.3 L491.3,224.1 L491.4,223.9 L491.5,223.8 L491.6,223.6 L491.8,223.4 L491.9,223.2 L492.0,223.0 L492.1,222.8 L492.2,222.6 L492.3,222.4 L492.4,222.3 L492.5,222.1 L492.6,221.9 L492.6,221.7 L492.7,221.5 L492.8,221.4 L492.9,221.2 L493.0,221.0 L493.0,220.8 L493.1,220.6 L493.2,220.5 L493.2,220.3 L493.3,220.1 L493.3,220.0 L493.4,219.8 L493.4,219.6 L493.4,219.4 L493.5,219.3 L493.5,219.1 L493.6,218.9 L493.6,218.8 L493.6,218.6 L493.6,218.4 L493.6,218.3 L493.7,218.1 L493.7,218.0 L493.7,217.8 L493.7,217.6 L493.7,217.5 L493.7,217.3 L493.7,217.2 L493.7,217.0 L493.6,216.9 L493.6,216.7 L493.6,216.6 L493.6,216.4 L493.6,216.3 L493.5,216.1 L493.5,216.0 L493.4,215.8 L493.4,215.7 L493.4,215.5 L493.3,215.4 M438.2,255.0 L438.5,255.3 L438.9,255.6 L439.2,255.9 L439.6,256.1 L439.9,256.4 L440.3,256.7 L440.6,257.0 L441.0,257.3 L441.3,257.5 L441.6,257.8 L442.0,258.1 L442.3,258.4 L442.7,258.6 L443.0,258.9 L443.4,259.2 L443.7,259.4 L444.0,259.7 L444.4,260.0 L444.7,260.2 L445.1,260.5 L445.4,260.7 L445.8,261.0 L446.1,261.2 L446.4,261.5 L446.8,261.7 L447.1,262.0 L447.4,262.2 L447.8,262.5 L448.1,262.7 L448.5,263.0 L448.8,263.2 L449.1,263.5 L449.5,263.7 L449.8,263.9 L450.1,264.2 L450.5,264.4 L450.8,264.6 L451.1,264.9 L451.4,265.1 L451.8,265.3 L452.1,265.5 L452.4,265.8 L452.8,266.0 L453.1,266.2 L453.4,266.4 L453.7,266.6 L454.0,266.8 L454.4,267.0 L454.7,267.2 L455.0,267.5 L455.3,267.7 L455.6,267.9 L456.0,268.1 L456.3,268.3 L456.6,268.4 L456.9,268.6 L457.2,268.8 L457.5,269.0 L457.8,269.2 L458.1,269.4 L458.4,269.6 L458.7,269.8 L459.1,269.9 L459.4,270.1 L459.7,270.3 L460.0,270.5 L460.3,270.6 L460.6,270.8 L460.8,271.0 L461.1,271.1 L461.4,271.3 L461.7,271.4 L462.0,271.6 L462.3,271.7 L462.6,271.9 L462.9,272.1 L463.2,272.2 L463.4,272.3 L463.7,272.5 L464.0,272.6 L464.3,272.8 L464.6,272.9 L464.8,273.0 L465.1,273.2 L465.4,273.3 L465.7,273.4 L465.9,273.5 L466.2,273.7 L466.5,273.8 L466.7,273.9 L467.0,274.0 L467.2,274.1 L467.5,274.2 L467.7,274.3 L468.0,274.4 L468.3,274.5 L468.5,274.6 L468.8,274.7 L469.0,274.8 L469.2,274.9 L469.5,275.0 L469.7,275.1 L470.0,275.2 L470.2,275.3 L470.4,275.4 L470.7,275.4 L470.9,275.5 L471.1,275.6 L471.4,275.6 L471.6,275.7 L471.8,275.8 L472.0,275.8 L472.2,275.9 L472.5,276.0 L472.7,276.0 L472.9,276.1 L473.1,276.1 L473.3,276.2 L473.5,276.2 L473.7,276.2 L473.9,276.3 L474.1,276.3 L474.3,276.4 L474.5,276.4 L474.7,276.4 L474.9,276.4 L475.1,276.5 L475.3,276.5 L475.4,276.5 L475.6,276.5 L475.8,276.5 L476.0,276.5 L476.1,276.5 L476.3,276.6 L476.5,276.6 L476.7,276.6 L476.8,276.6 L477.0,276.6 L477.1,276.5 L477.3,276.5 L477.4,276.5 L477.6,276.5 L477.7,276.5 L477.9,276.5 L478.0,276.4 L478.2,276.4 L478.3,276.4 L478.5,276.4 L478.6,276.3 L478.7,276.3 L478.9,276.3 L479.0,276.2 L479.1,276.2 L479.2,276.1 L479.4,276.1 L479.5,276.0 L479.6,276.0 L479.7,275.9 L479.8,275.9 L479.9,275.8 L480.0,275.7 L480.1,275.7 L480.2,275.6 L480.3,275.5 L480.4,275.5 L480.5,275.4 L480.6,275.3 L480.7,275.2 L480.8,275.1 M438.2,255.0 L438.1,255.4 L438.0,255.9 L437.9,256.3 L437.8,256.7 L437.7,257.1 L437.6,257.5 L437.6,257.9 L437.5,258.4 L437.4,258.8 L437.3,259.2 L437.2,259.6 L437.1,260.0 L437.0,260.4 L436.9,260.8 L436.8,261.2 L436.7,261.6 L436.6,262.0 L436.6,262.4 L436.5,262.8 L436.4,263.2 L436.3,263.6 L436.2,264.0 L436.1,264.4 L436.0,264.8 L435.9,265.2 L435.8,265.5 L435.7,265.9 L435.6,266.3 L435.6,266.7 L435.5,267.1 L435.4,267.4 L435.3,267.8 L435.2,268.2 L435.1,268.5 L435.0,268.9 L434.9,269.3 L434.9,269.6 L434.8,270.0 L434.7,270.4 L434.6,270.7 L434.5,271.1 L434.4,271.4 L434.3,271.8 L434.2,272.1 L434.2,272.5 L434.1,272.8 L434.0,273.1 L433.9,273.5 L433.8,273.8 L433.7,274.1 L433.6,274.5 L433.6,274.8 L433.5,275.1 L433.4,275.4 L433.3,275.8 L433.2,276.1 L433.1,276.4 L433.1,276.7 L433.0,277.0 L432.9,277.3 L432.8,277.6 L432.7,277.9 L432.6,278.2 L432.6,278.5 L432.5,278.8 L432.4,279.1 L432.3,279.4 L432.2,279.7 L432.2,280.0 L432.1,280.3 L432.0,280.5 L431.9,280.8 L431.9,281.1 L431.8,281.3 L431.7,281.6 L431.6,281.9 L431.6,282.1 L431.5,282.4 L431.4,282.6 L431.3,282.9 L431.3,283.1 L431.2,283.4 L431.1,283.6 L431.0,283.9 L431.0,284.1 L430.9,284.3 L430.8,284.6 L430.8,284.8 L430.7,285.0 L430.6,285.2 L430.5,285.5 L430.5,285.7 L430.4,285.9 L430.3,286.1 L430.3,286.3 L430.2,286.5 L430.1,286.7 L430.1,286.9 L430.0,287.1 L429.9,287.3 L429.9,287.5 L429.8,287.7 L429.7,287.8 L429.7,288.0 L429.6,288.2 L429.6,288.4 L429.5,288.5 L429.4,288.7 L429.4,288.8 L429.3,289.0 L429.3,289.2 L429.2,289.3 L429.1,289.4 L429.1,289.6 L429.0,289.7 L429.0,289.9 L428.9,290.0 L428.9,290.1 L428.8,290.3 L428.7,290.4 L428.7,290.5 L428.6,290.6 L428.6,290.7 L428.5,290.8 L428.5,290.9 L428.4,291.0 L428.4,291.1 L428.3,291.2 L428.3,291.3 L428.2,291.4 L428.2,291.5 L428.1,291.6 L428.1,291.7 L428.1,291.7 L428.0,291.8 L428.0,291.9 L427.9,291.9 L427.9,292.0 L427.8,292.0 L427.8,292.1 L427.8,292.1 L427.7,292.2 L427.7,292.2 L427.6,292.3 L427.6,292.3 L427.6,292.3 L427.5,292.4 L427.5,292.4 L427.4,292.4 L427.4,292.4 L427.4,292.4 L427.3,292.5 L427.3,292.5 L427.3,292.5 L427.2,292.5 M438.2,255.0 L437.8,255.1 L437.3,255.3 L436.9,255.4 L436.5,255.5 L436.0,255.7 L435.6,255.8 L435.1,255.9 L434.7,256.1 L434.3,256.2 L433.8,256.3 L433.4,256.4 L433.0,256.6 L432.5,256.7 L432.1,256.8 L431.7,256.9 L431.2,257.0 L430.8,257.2 L430.4,257.3 L429.9,257.4 L429.5,257.5 L429.1,257.6 L428.6,257.7 L428.2,257.8 L427.8,257.9 L427.4,258.0 L426.9,258.1 L426.5,258.2 L426.1,258.3 L425.6,258.4 L425.2,258.5 L424.8,258.6 L424.4,258.7 L423.9,258.8 L423.5,258.9 L423.1,259.0 L422.7,259.1 L422.3,259.2 L421.8,259.3 L421.4,259.3 L421.0,259.4 L420.6,259.5 L420.2,259.6 L419.8,259.7 L419.4,259.7 L419.0,259.8 L418.5,259.9 L418.1,260.0 L417.7,260.0 L417.3,260.1 L416.9,260.2 L416.5,260.2 L416.1,260.3 L415.7,260.4 L415.3,260.4 L414.9,260.5 L414.5,260.5 L414.1,260.6 L413.7,260.6 L413.3,260.7 L413.0,260.8 L412.6,260.8 L412.2,260.9 L411.8,260.9 L411.4,260.9 L411.0,261.0 L410.7,261.0 L410.3,261.1 L409.9,261.1 L409.5,261.1 L409.1,261.2 L408.8,261.2 L408.4,261.2 L408.0,261.3 L407.7,261.3 L407.3,261.3 L406.9,261.4 L406.6,261.4 L406.2,261.4 L405.9,261.4 L405.5,261.4 L405.2,261.5 L404.8,261.5 L404.5,261.5 L404.1,261.5 L403.8,261.5 L403.4,261.5 L403.1,261.5 L402.8,261.5 L402.4,261.5 L402.1,261.5 L401.8,261.5 L401.4,261.5 L401.1,261.5 L400.8,261.5 L400.5,261.5 L400.1,261.5 L399.8,261.5 L399.5,261.5 L399.2,261.5 L398.9,261.5 L398.6,261.5 L398.3,261.4 L398.0,261.4 L397.7,261.4 L397.4,261.4 L397.1,261.4 L396.8,261.3 L396.5,261.3 L396.2,261.3 L395.9,261.2 L395.7,261.2 L395.4,261.2 L395.1,261.1 L394.8,261.1 L394.6,261.1 L394.3,261.0 L394.0,261.0 L393.8,260.9 L393.5,260.9 L393.2,260.9 L393.0,260.8 L392.7,260.8 L392.5,260.7 L392.2,260.7 L392.0,260.6 L391.8,260.5 L391.5,260.5 L391.3,260.4 L391.1,260.4 L390.8,260.3 L390.6,260.2 L390.4,260.2 L390.2,260.1 L389.9,260.0 L389.7,260.0 L389.5,259.9 L389.3,259.8 L389.1,259.8 L388.9,259.7 L388.7,259.6 L388.5,259.5 L388.3,259.4 L388.1,259.4 L387.9,259.3 L387.8,259.2 L387.6,259.1 L387.4,259.0 L387.2,258.9 L387.1,258.8 L386.9,258.7 L386.7,258.6 L386.6,258.5 L386.4,258.4 L386.2,258.4 L386.1,258.3 L385.9,258.1 L385.8,258.0 L385.7,257.9 L385.5,257.8 L385.4,257.7 L385.3,257.6 L385.1,257.5 L385.0,257.4 L384.9,257.3 L384.8,257.2 L384.6,257.1 L384.5,256.9 L384.4,256.8 L384.3,256.7 L384.2,256.6 L384.1,256.5 L384.0,256.3 L383.9,256.2 L383.8,256.1 L383.8,256.0 L383.7,255.8 L383.6,255.7 L383.5,255.6 L383.4,255.4 L383.4,255.3 L383.3,255.2 L383.2,255.0 L383.2,254.9 L383.1,254.7 M438.2,255.0 L437.9,254.7 L437.5,254.4 L437.2,254.1 L436.8,253.9 L436.5,253.6 L436.1,253.3 L435.8,253.0 L435.4,252.7 L435.1,252.4 L434.8,252.1 L434.4,251.8 L434.1,251.5 L433.7,251.2 L433.4,250.9 L433.0,250.6 L432.7,250.3 L432.4,250.0 L432.0,249.7 L431.7,249.4 L431.3,249.0 L431.0,248.7 L430.6,248.4 L430.3,248.1 L430.0,247.8 L429.6,247.5 L429.3,247.2 L429.0,246.9 L428.6,246.6 L428.3,246.2 L427.9,245.9 L427.6,245.6 L427.3,245.3 L426.9,245.0 L426.6,244.7 L426.3,244.3 L425.9,244.0 L425.6,243.7 L425.3,243.4 L425.0,243.1 L424.6,242.7 L424.3,242.4 L424.0,242.1 L423.6,241.8 L423.3,241.5 L423.0,241.1 L422.7,240.8 L422.4,240.5 L422.0,240.2 L421.7,239.8 L421.4,239.5 L421.1,239.2 L420.8,238.9 L420.4,238.5 L420.1,238.2 L419.8,237.9 L419.5,237.5 L419.2,237.2 L418.9,236.9 L418.6,236.6 L418.3,236.2 L418.0,235.9 L417.7,235.6 L417.3,235.3 L417.0,234.9 L416.7,234.6 L416.4,234.3 L416.1,234.0 L415.8,233.6 L415.6,233.3 L415.3,233.0 L415.0,232.6 L414.7,232.3 L414.4,232.0 L414.1,231.7 L413.8,231.3 L413.5,231.0 L413.2,230.7 L413.0,230.4 L412.7,230.0 L412.4,229.7 L412.1,229.4 L411.8,229.1 L411.6,228.7 L411.3,228.4 L411.0,228.1 L410.7,227.8 L410.5,227.4 L410.2,227.1 L409.9,226.8 L409.7,226.5 L409.4,226.2 L409.2,225.8 L408.9,225.5 L408.7,225.2 L408.4,224.9 L408.1,224.6 L407.9,224.3 L407.6,223.9 L407.4,223.6 L407.2,223.3 L406.9,223.0 L406.7,222.7 L406.4,222.4 L406.2,222.1 L406.0,221.8 L405.7,221.4 L405.5,221.1 L405.3,220.8 L405.0,220.5 L404.8,220.2 L404.6,219.9 L404.4,219.6 L404.2,219.3 L403.9,219.0 L403.7,218.7 L403.5,218.4 L403.3,218.1 L403.1,217.8 L402.9,217.5 L402.7,217.2 L402.5,216.9 L402.3,216.6 L402.1,216.3 L401.9,216.0 L401.7,215.7 L401.5,215.4 L401.3,215.2 L401.1,214.9 L401.0,214.6 L400.8,214.3 L400.6,214.0 L400.4,213.7 L400.3,213.5 L400.1,213.2 L399.9,212.9 L399.7,212.6 L399.6,212.4 L399.4,212.1 L399.3,211.8 L399.1,211.5 L399.0,211.3 L398.8,211.0 L398.7,210.7 L398.5,210.5 L398.4,210.2 L398.2,209.9 L398.1,209.7 L397.9,209.4 L397.8,209.2 L397.7,208.9 L397.5,208.7 L397.4,208.4 L397.3,208.2 L397.2,207.9 L397.0,207.7 L396.9,207.4 L396.8,207.2 L396.7,206.9 L396.6,206.7 L396.5,206.4 L396.4,206.2 L396.3,206.0 L396.2,205.7 L396.1,205.5 L396.0,205.3 L395.9,205.1 L395.8,204.8 L395.7,204.6 L395.6,204.4 L395.6,204.2 L395.5,203.9 L395.4,203.7 L395.3,203.5 L395.3,203.3 L395.2,203.1 L395.1,202.9 L395.1,202.7 L395.0,202.5 L395.0,202.3 L394.9,202.1 L394.9,201.9 L394.8,201.7 L394.8,201.5 L394.7,201.3 L394.7,201.1 L394.6,200.9 L394.6,200.7 L394.6,200.5 L394.5,200.4 L394.5,200.2 L394.5,200.0 L394.5,199.8 L394.4,199.6 L394.4,199.5 L394.4,199.3 L394.4,199.1 L394.4,199.0 L394.4,198.8 L394.4,198.7 L394.4,198.5 L394.4,198.3 L394.4,198.2 L394.4,198.0 L394.4,197.9 L394.4,197.7 L394.4,197.6 L394.5,197.5 L394.5,197.3 L394.5,197.2 L394.5,197.0 L394.6,196.9 L394.6,196.8 L394.6,196.7 L394.7,196.5 L394.7,196.4 L394.8,196.3 L394.8,196.2 L394.9,196.1 L394.9,195.9 L395.0,195.8 L395.0,195.7 L395.1,195.6 L395.1,195.5 L395.2,195.4 L395.3,195.3 L395.3,195.2 L395.4,195.1 L395.5,195.0 L395.6,194.9 M438.2,279.8 L437.9,279.8 L437.7,279.8 L437.4,279.8 L437.2,279.8 L436.9,279.8 L436.7,279.8 L436.4,279.8 L436.2,279.7 L435.9,279.7 L435.7,279.7 L435.4,279.7 L435.1,279.7 L434.9,279.6 L434.6,279.6 L434.4,279.6 L434.1,279.5 L433.9,279.5 L433.6,279.5 L433.4,279.4 L433.1,279.4 L432.9,279.4 L432.6,279.3 L432.4,279.3 L432.1,279.2 L431.9,279.2 L431.6,279.1 L431.4,279.1 L431.1,279.0 L430.9,278.9 L430.6,278.9 L430.4,278.8 L430.1,278.7 L429.9,278.7 L429.6,278.6 L429.4,278.5 L429.2,278.5 L428.9,278.4 L428.7,278.3 L428.4,278.2 L428.2,278.2 L428.0,278.1 L427.7,278.0 L427.5,277.9 L427.2,277.8 L427.0,277.7 L426.8,277.6 L426.5,277.5 L426.3,277.4 L426.1,277.3 L425.8,277.2 L425.6,277.1 L425.4,277.0 L425.1,276.9 L424.9,276.8 L424.7,276.7 L424.5,276.6 L424.2,276.5 L424.0,276.4 L423.8,276.3 L423.6,276.1 L423.4,276.0 L423.1,275.9 L422.9,275.8 L422.7,275.6 L422.5,275.5 L422.3,275.4 L422.1,275.2 L421.8,275.1 L421.6,275.0 L421.4,274.8 L421.2,274.7 L421.0,274.6 L420.8,274.4 L420.6,274.3 L420.4,274.1 L420.2,274.0 L420.0,273.8 L419.8,273.7 L419.6,273.5 L419.4,273.4 L419.2,273.2 L419.0,273.1 L418.8,272.9 L418.6,272.8 L418.4,272.6 L418.3,272.4 L418.1,272.3 L417.9,272.1 L417.7,271.9 L417.5,271.8 L417.3,271.6 L417.2,271.4 L417.0,271.2 L416.8,271.1 L416.6,270.9 L416.5,270.7 L416.3,270.5 L416.1,270.4 L416.0,270.2 L415.8,270.0 L415.6,269.8 L415.5,269.6 L415.3,269.4 L415.2,269.2 L415.0,269.1 L414.8,268.9 L414.7,268.7 L414.5,268.5 L414.4,268.3 L414.2,268.1 L414.1,267.9 L414.0,267.7 L413.8,267.5 L413.7,267.3 L413.5,267.1 L413.4,266.9 L413.3,266.7 L413.1,266.5 L413.0,266.3 L412.9,266.1 L412.7,265.9 L412.6,265.7 L412.5,265.4 L412.4,265.2 L412.3,265.0 L412.1,264.8 L412.0,264.6 L411.9,264.4 L411.8,264.2 L411.7,263.9 L411.6,263.7 L411.5,263.5 L411.4,263.3 L411.3,263.1 L411.2,262.8 L411.1,262.6 L411.0,262.4 L410.9,262.2 L410.8,262.0 L410.7,261.7 L410.6,261.5 L410.5,261.3 L410.5,261.0 L410.4,260.8 L410.3,260.6 L410.2,260.4 L410.2,260.1 L410.1,259.9 L410.0,259.7 L409.9,259.4 L409.9,259.2 L409.8,259.0 L409.8,258.7 L409.7,258.5 L409.6,258.3 L409.6,258.0 L409.5,257.8 L409.5,257.6 L409.4,257.3 L409.4,257.1 L409.4,256.9 L409.3,256.6 L409.3,256.4 L409.2,256.2 L409.2,255.9 L409.2,255.7 L409.1,255.4 L409.1,255.2 L409.1,255.0 L409.1,254.7 L409.0,254.5 L409.0,254.2 L409.0,254.0 L409.0,253.8 L409.0,253.5 L409.0,253.3 L409.0,253.0 L409.0,252.8 L409.0,252.6 L408.9,252.3 L409.0,252.1 L409.0,251.8 L409.0,251.6 L409.0,251.4 L409.0,251.1 L409.0,250.9 L409.0,250.6 L409.0,250.4 L409.0,250.2 L409.1,249.9 L409.1,249.7 L409.1,249.5 L409.1,249.2 L409.2,249.0 L409.2,248.7 L409.2,248.5 L409.3,248.3 L409.3,248.0 L409.4,247.8 L409.4,247.6 L409.4,247.3 L409.5,247.1 L409.5,246.8 L409.6,246.6 L409.6,246.4 L409.7,246.1 L409.8,245.9 L409.8,245.7 L409.9,245.4 L409.9,245.2 L410.0,245.0 L410.1,244.8 L410.2,244.5 L410.2,244.3 L410.3,244.1 L410.4,243.8 L410.5,243.6 L410.5,243.4 L410.6,243.2 L410.7,242.9 L410.8,242.7 L410.9,242.5 L411.0,242.3 L411.1,242.0 L411.2,241.8 L411.3,241.6 L411.4,241.4 L411.5,241.1 L411.6,240.9 L411.7,240.7 L411.8,240.5 L411.9,240.3 L412.0,240.1 L412.1,239.8 L412.3,239.6 L412.4,239.4 L412.5,239.2 L412.6,239.0 L412.7,238.8 L412.9,238.6 L413.0,238.4 L413.1,238.2 L413.3,238.0 L413.4,237.8 L413.5,237.6 L413.7,237.4 L413.8,237.2 L414.0,237.0 L414.1,236.8 L414.2,236.6 L414.4,236.4 L414.5,236.2 L414.7,236.0 L414.8,235.8 L415.0,235.6 L415.2,235.4 L415.3,235.2 L415.5,235.0 L415.6,234.8 L415.8,234.7 L416.0,234.5 L416.1,234.3 L416.3,234.1 L416.5,233.9 L416.6,233.8 L416.8,233.6 L417.0,233.4 L417.2,233.2 L417.3,233.1 L417.5,232.9 L417.7,232.7 L417.9,232.6 L418.1,232.4 L418.3,232.2 L418.4,232.1 L418.6,231.9 L418.8,231.7 L419.0,231.6 L419.2,231.4 L419.4,231.3 L419.6,231.1 L419.8,231.0 L420.0,230.8 L420.2,230.7 L420.4,230.5 L420.6,230.4 L420.8,230.2 L421.0,230.1 L421.2,230.0 L421.4,229.8 L421.6,229.7 L421.8,229.5 L422.1,229.4 L422.3,229.3 L422.5,229.1 L422.7,229.0 L422.9,228.9 L423.1,228.8 L423.4,228.6 L423.6,228.5 L423.8,228.4 L424.0,228.3 L424.2,228.2 L424.5,228.1 L424.7,227.9 L424.9,227.8 L425.1,227.7 L425.4,227.6 L425.6,227.5 L425.8,227.4 L426.1,227.3 L426.3,227.2 L426.5,227.1 L426.8,227.0 L427.0,226.9 L427.2,226.8 L427.5,226.8 L427.7,226.7 L428.0,226.6 L428.2,226.5 L428.4,226.4 L428.7,226.3 L428.9,226.3 L429.2,226.2 L429.4,226.1 L429.6,226.0 L429.9,226.0 L430.1,225.9 L430.4,225.8 L430.6,225.8 L430.9,225.7 L431.1,225.7 L431.4,225.6 L431.6,225.5 L431.9,225.5 L432.1,225.4 L432.4,225.4 L432.6,225.3 L432.9,225.3 L433.1,225.3 L433.4,225.2 L433.6,225.2 L433.9,225.1 L434.1,225.1 L434.4,225.1 L434.6,225.0 L434.9,225.0 L435.1,225.0 L435.4,225.0 L435.7,224.9 L435.9,224.9 L436.2,224.9 L436.4,224.9 L436.7,224.9 L436.9,224.9 L437.2,224.9 L437.4,224.9 L437.7,224.8 L437.9,224.8 L438.2,224.8 L438.5,224.8 L438.7,224.8 L439.0,224.9 L439.2,224.9 L439.5,224.9 L439.7,224.9 L440.0,224.9 L440.2,224.9 L440.5,224.9 L440.7,224.9 L441.0,225.0 L441.3,225.0 L441.5,225.0 L441.8,225.0 L442.0,225.1 L442.3,225.1 L442.5,225.1 L442.8,225.2 L443.0,225.2 L443.3,225.3 L443.5,225.3 L443.8,225.3 L444.0,225.4 L444.3,225.4 L444.5,225.5 L444.8,225.5 L445.0,225.6 L445.3,225.7 L445.5,225.7 L445.8,225.8 L446.0,225.8 L446.3,225.9 L446.5,226.0 L446.8,226.0 L447.0,226.1 L447.2,226.2 L447.5,226.3 L447.7,226.3 L448.0,226.4 L448.2,226.5 L448.4,226.6 L448.7,226.7 L448.9,226.8 L449.2,226.8 L449.4,226.9 L449.6,227.0 L449.9,227.1 L450.1,227.2 L450.3,227.3 L450.6,227.4 L450.8,227.5 L451.0,227.6 L451.3,227.7 L451.5,227.8 L451.7,227.9 L451.9,228.1 L452.2,228.2 L452.4,228.3 L452.6,228.4 L452.8,228.5 L453.0,228.6 L453.3,228.8 L453.5,228.9 L453.7,229.0 L453.9,229.1 L454.1,229.3 L454.3,229.4 L454.6,229.5 L454.8,229.7 L455.0,229.8 L455.2,230.0 L455.4,230.1 L455.6,230.2 L455.8,230.4 L456.0,230.5 L456.2,230.7 L456.4,230.8 L456.6,231.0 L456.8,231.1 L457.0,231.3 L457.2,231.4 L457.4,231.6 L457.6,231.7 L457.8,231.9 L458.0,232.1 L458.1,232.2 L458.3,232.4 L458.5,232.6 L458.7,232.7 L458.9,232.9 L459.1,233.1 L459.2,233.2 L459.4,233.4 L459.6,233.6 L459.8,233.8 L459.9,233.9 L460.1,234.1 L460.3,234.3 L460.4,234.5 L460.6,234.7 L460.8,234.8 L460.9,235.0 L461.1,235.2 L461.2,235.4 L461.4,235.6 L461.6,235.8 L461.7,236.0 L461.9,236.2 L462.0,236.4 L462.2,236.6 L462.3,236.8 L462.4,237.0 L462.6,237.2 L462.7,237.4 L462.9,237.6 L463.0,237.8 L463.1,238.0 L463.3,238.2 L463.4,238.4 L463.5,238.6 L463.7,238.8 L463.8,239.0 L463.9,239.2 L464.0,239.4 L464.1,239.6 L464.3,239.8 L464.4,240.1 L464.5,240.3 L464.6,240.5 L464.7,240.7 L464.8,240.9 L464.9,241.1 L465.0,241.4 L465.1,241.6 L465.2,241.8 L465.3,242.0 L465.4,242.3 L465.5,242.5 L465.6,242.7 L465.7,242.9 L465.8,243.2 L465.9,243.4 L465.9,243.6 L466.0,243.8 L466.1,244.1 L466.2,244.3 L466.2,244.5 L466.3,244.8 L466.4,245.0 L466.5,245.2 L466.5,245.4 L466.6,245.7 L466.6,245.9 L466.7,246.1 L466.8,246.4 L466.8,246.6 L466.9,246.8 L466.9,247.1 L467.0,247.3 L467.0,247.6 L467.0,247.8 L467.1,248.0 L467.1,248.3 L467.2,248.5 L467.2,248.7 L467.2,249.0 L467.3,249.2 L467.3,249.5 L467.3,249.7 L467.3,249.9 L467.4,250.2 L467.4,250.4 L467.4,250.6 L467.4,250.9 L467.4,251.1 L467.4,251.4 L467.4,251.6 L467.4,251.8 L467.4,252.1 L467.4,252.3 L467.4,252.6 L467.4,252.8 L467.4,253.0 L467.4,253.3 L467.4,253.5 L467.4,253.8 L467.4,254.0 L467.4,254.2 L467.4,254.5 L467.3,254.7 L467.3,255.0 L467.3,255.2 L467.3,255.4 L467.2,255.7 L467.2,255.9 L467.2,256.2 L467.1,256.4 L467.1,256.6 L467.0,256.9 L467.0,257.1 L467.0,257.3 L466.9,257.6 L466.9,257.8 L466.8,258.0 L466.8,258.3 L466.7,258.5 L466.6,258.7 L466.6,259.0 L466.5,259.2 L466.5,259.4 L466.4,259.7 L466.3,259.9 L466.2,260.1 L466.2,260.4 L466.1,260.6 L466.0,260.8 L465.9,261.0 L465.9,261.3 L465.8,261.5 L465.7,261.7 L465.6,262.0 L465.5,262.2 L465.4,262.4 L465.3,262.6 L465.2,262.8 L465.1,263.1 L465.0,263.3 L464.9,263.5 L464.8,263.7 L464.7,263.9 L464.6,264.2 L464.5,264.4 L464.4,264.6 L464.3,264.8 L464.1,265.0 L464.0,265.2 L463.9,265.4 L463.8,265.7 L463.7,265.9 L463.5,266.1 L463.4,266.3 L463.3,266.5 L463.1,266.7 L463.0,266.9 L462.9,267.1 L462.7,267.3 L462.6,267.5 L462.4,267.7 L462.3,267.9 L462.2,268.1 L462.0,268.3 L461.9,268.5 L461.7,268.7 L461.6,268.9 L461.4,269.1 L461.2,269.2 L461.1,269.4 L460.9,269.6 L460.8,269.8 L460.6,270.0 L460.4,270.2 L460.3,270.4 L460.1,270.5 L459.9,270.7 L459.8,270.9 L459.6,271.1 L459.4,271.2 L459.2,271.4 L459.1,271.6 L458.9,271.8 L458.7,271.9 L458.5,272.1 L458.3,272.3 L458.1,272.4 L458.0,272.6 L457.8,272.8 L457.6,272.9 L457.4,273.1 L457.2,273.2 L457.0,273.4 L456.8,273.5 L456.6,273.7 L456.4,273.8 L456.2,274.0 L456.0,274.1 L455.8,274.3 L455.6,274.4 L455.4,274.6 L455.2,274.7 L455.0,274.8 L454.8,275.0 L454.6,275.1 L454.3,275.2 L454.1,275.4 L453.9,275.5 L453.7,275.6 L453.5,275.8 L453.3,275.9 L453.0,276.0 L452.8,276.1 L452.6,276.3 L452.4,276.4 L452.2,276.5 L451.9,276.6 L451.7,276.7 L451.5,276.8 L451.3,276.9 L451.0,277.0 L450.8,277.1 L450.6,277.2 L450.3,277.3 L450.1,277.4 L449.9,277.5 L449.6,277.6 L449.4,277.7 L449.2,277.8 L448.9,277.9 L448.7,278.0 L448.4,278.1 L448.2,278.2 L448.0,278.2 L447.7,278.3 L447.5,278.4 L447.2,278.5 L447.0,278.5 L446.8,278.6 L446.5,278.7 L446.3,278.7 L446.0,278.8 L445.8,278.9 L445.5,278.9 L445.3,279.0 L445.0,279.1 L444.8,279.1 L444.5,279.2 L444.3,279.2 L444.0,279.3 L443.8,279.3 L443.5,279.4 L443.3,279.4 L443.0,279.4 L442.8,279.5 L442.5,279.5 L442.3,279.5 L442.0,279.6 L441.8,279.6 L441.5,279.6 L441.3,279.7 L441.0,279.7 L440.7,279.7 L440.5,279.7 L440.2,279.7 L440.0,279.8 L439.7,279.8 L439.5,279.8 L439.2,279.8 L439.0,279.8 L438.7,279.8 L438.5,279.8 L438.2,279.8 M438.2,292.6 L437.8,292.6 L437.3,292.6 L436.9,292.6 L436.4,292.6 L436.0,292.6 L435.5,292.5 L435.1,292.5 L434.7,292.5 L434.2,292.5 L433.8,292.4 L433.3,292.4 L432.9,292.4 L432.5,292.3 L432.0,292.3 L431.6,292.2 L431.1,292.1 L430.7,292.1 L430.3,292.0 L429.8,292.0 L429.4,291.9 L429.0,291.8 L428.5,291.7 L428.1,291.7 L427.7,291.6 L427.2,291.5 L426.8,291.4 L426.4,291.3 L425.9,291.2 L425.5,291.1 L425.1,291.0 L424.7,290.9 L424.2,290.8 L423.8,290.7 L423.4,290.5 L423.0,290.4 L422.5,290.3 L422.1,290.2 L421.7,290.0 L421.3,289.9 L420.9,289.7 L420.5,289.6 L420.0,289.4 L419.6,289.3 L419.2,289.1 L418.8,289.0 L418.4,288.8 L418.0,288.7 L417.6,288.5 L417.2,288.3 L416.8,288.2 L416.4,288.0 L416.0,287.8 L415.6,287.6 L415.2,287.4 L414.8,287.2 L414.4,287.0 L414.0,286.8 L413.6,286.6 L413.3,286.4 L412.9,286.2 L412.5,286.0 L412.1,285.8 L411.7,285.6 L411.4,285.4 L411.0,285.2 L410.6,284.9 L410.2,284.7 L409.9,284.5 L409.5,284.2 L409.1,284.0 L408.8,283.8 L408.4,283.5 L408.1,283.3 L407.7,283.0 L407.4,282.8 L407.0,282.5 L406.7,282.3 L406.3,282.0 L406.0,281.7 L405.6,281.5 L405.3,281.2 L405.0,280.9 L404.6,280.7 L404.3,280.4 L404.0,280.1 L403.6,279.8 L403.3,279.5 L403.0,279.2 L402.7,279.0 L402.4,278.7 L402.1,278.4 L401.8,278.1 L401.5,277.8 L401.1,277.5 L400.8,277.2 L400.6,276.9 L400.3,276.5 L400.0,276.2 L399.7,275.9 L399.4,275.6 L399.1,275.3 L398.8,275.0 L398.6,274.6 L398.3,274.3 L398.0,274.0 L397.7,273.7 L397.5,273.3 L397.2,273.0 L397.0,272.6 L396.7,272.3 L396.4,272.0 L396.2,271.6 L396.0,271.3 L395.7,270.9 L395.5,270.6 L395.2,270.2 L395.0,269.9 L394.8,269.5 L394.5,269.2 L394.3,268.8 L394.1,268.4 L393.9,268.1 L393.7,267.7 L393.5,267.4 L393.3,267.0 L393.1,266.6 L392.9,266.2 L392.7,265.9 L392.5,265.5 L392.3,265.1 L392.1,264.7 L391.9,264.4 L391.7,264.0 L391.6,263.6 L391.4,263.2 L391.2,262.8 L391.1,262.5 L390.9,262.1 L390.7,261.7 L390.6,261.3 L390.4,260.9 L390.3,260.5 L390.2,260.1 L390.0,259.7 L389.9,259.3 L389.8,258.9 L389.6,258.5 L389.5,258.1 L389.4,257.7 L389.3,257.3 L389.2,256.9 L389.0,256.5 L388.9,256.1 L388.8,255.7 L388.7,255.3 L388.6,254.9 L388.6,254.5 L388.5,254.1 L388.4,253.7 L388.3,253.3 L388.2,252.9 L388.2,252.5 L388.1,252.0 L388.0,251.6 L388.0,251.2 L387.9,250.8 L387.9,250.4 L387.8,250.0 L387.8,249.6 L387.7,249.2 L387.7,248.7 L387.7,248.3 L387.6,247.9 L387.6,247.5 L387.6,247.1 L387.6,246.7 L387.6,246.3 L387.5,245.8 L387.5,245.4 L387.5,245.0 L387.5,244.6 L387.5,244.2 L387.6,243.8 L387.6,243.3 L387.6,242.9 L387.6,242.5 L387.6,242.1 L387.7,241.7 L387.7,241.3 L387.7,240.9 L387.8,240.4 L387.8,240.0 L387.9,239.6 L387.9,239.2 L388.0,238.8 L388.0,238.4 L388.1,238.0 L388.2,237.6 L388.2,237.1 L388.3,236.7 L388.4,236.3 L388.5,235.9 L388.6,235.5 L388.6,235.1 L388.7,234.7 L388.8,234.3 L388.9,233.9 L389.0,233.5 L389.2,233.1 L389.3,232.7 L389.4,232.3 L389.5,231.9 L389.6,231.5 L389.8,231.1 L389.9,230.7 L390.0,230.3 L390.2,229.9 L390.3,229.5 L390.4,229.1 L390.6,228.7 L390.7,228.3 L390.9,227.9 L391.1,227.6 L391.2,227.2 L391.4,226.8 L391.6,226.4 L391.7,226.0 L391.9,225.6 L392.1,225.3 L392.3,224.9 L392.5,224.5 L392.7,224.1 L392.9,223.8 L393.1,223.4 L393.3,223.0 L393.5,222.7 L393.7,222.3 L393.9,221.9 L394.1,221.6 L394.3,221.2 L394.5,220.8 L394.8,220.5 L395.0,220.1 L395.2,219.8 L395.5,219.4 L395.7,219.1 L396.0,218.7 L396.2,218.4 L396.4,218.0 L396.7,217.7 L397.0,217.4 L397.2,217.0 L397.5,216.7 L397.7,216.4 L398.0,216.0 L398.3,215.7 L398.6,215.4 L398.8,215.0 L399.1,214.7 L399.4,214.4 L399.7,214.1 L400.0,213.8 L400.3,213.5 L400.6,213.1 L400.8,212.8 L401.1,212.5 L401.5,212.2 L401.8,211.9 L402.1,211.6 L402.4,211.3 L402.7,211.0 L403.0,210.8 L403.3,210.5 L403.6,210.2 L404.0,209.9 L404.3,209.6 L404.6,209.3 L405.0,209.1 L405.3,208.8 L405.6,208.5 L406.0,208.3 L406.3,208.0 L406.7,207.7 L407.0,207.5 L407.4,207.2 L407.7,207.0 L408.1,206.7 L408.4,206.5 L408.8,206.2 L409.1,206.0 L409.5,205.8 L409.9,205.5 L410.2,205.3 L410.6,205.1 L411.0,204.9 L411.4,204.6 L411.7,204.4 L412.1,204.2 L412.5,204.0 L412.9,203.8 L413.3,203.6 L413.6,203.4 L414.0,203.2 L414.4,203.0 L414.8,202.8 L415.2,202.6 L415.6,202.4 L416.0,202.2 L416.4,202.0 L416.8,201.9 L417.2,201.7 L417.6,201.5 L418.0,201.3 L418.4,201.2 L418.8,201.0 L419.2,200.9 L419.6,200.7 L420.0,200.6 L420.5,200.4 L420.9,200.3 L421.3,200.1 L421.7,200.0 L422.1,199.9 L422.5,199.7 L423.0,199.6 L423.4,199.5 L423.8,199.4 L424.2,199.2 L424.7,199.1 L425.1,199.0 L425.5,198.9 L425.9,198.8 L426.4,198.7 L426.8,198.6 L427.2,198.5 L427.7,198.4 L428.1,198.4 L428.5,198.3 L429.0,198.2 L429.4,198.1 L429.8,198.0 L430.3,198.0 L430.7,197.9 L431.1,197.9 L431.6,197.8 L432.0,197.8 L432.5,197.7 L432.9,197.7 L433.3,197.6 L433.8,197.6 L434.2,197.5 L434.7,197.5 L435.1,197.5 L435.5,197.5 L436.0,197.4 L436.4,197.4 L436.9,197.4 L437.3,197.4 L437.8,197.4 L438.2,197.4 L438.6,197.4 L439.1,197.4 L439.5,197.4 L440.0,197.4 L440.4,197.4 L440.9,197.5 L441.3,197.5 L441.7,197.5 L442.2,197.5 L442.6,197.6 L443.1,197.6 L443.5,197.7 L443.9,197.7 L444.4,197.8 L444.8,197.8 L445.3,197.9 L445.7,197.9 L446.1,198.0 L446.6,198.0 L447.0,198.1 L447.4,198.2 L447.9,198.3 L448.3,198.4 L448.7,198.4 L449.2,198.5 L449.6,198.6 L450.0,198.7 L450.5,198.8 L450.9,198.9 L451.3,199.0 L451.7,199.1 L452.2,199.2 L452.6,199.4 L453.0,199.5 L453.4,199.6 L453.9,199.7 L454.3,199.9 L454.7,200.0 L455.1,200.1 L455.5,200.3 L455.9,200.4 L456.4,200.6 L456.8,200.7 L457.2,200.9 L457.6,201.0 L458.0,201.2 L458.4,201.3 L458.8,201.5 L459.2,201.7 L459.6,201.9 L460.0,202.0 L460.4,202.2 L460.8,202.4 L461.2,202.6 L461.6,202.8 L462.0,203.0 L462.4,203.2 L462.8,203.4 L463.1,203.6 L463.5,203.8 L463.9,204.0 L464.3,204.2 L464.7,204.4 L465.0,204.6 L465.4,204.9 L465.8,205.1 L466.2,205.3 L466.5,205.5 L466.9,205.8 L467.3,206.0 L467.6,206.2 L468.0,206.5 L468.3,206.7 L468.7,207.0 L469.0,207.2 L469.4,207.5 L469.7,207.7 L470.1,208.0 L470.4,208.3 L470.8,208.5 L471.1,208.8 L471.4,209.1 L471.8,209.3 L472.1,209.6 L472.4,209.9 L472.8,210.2 L473.1,210.5 L473.4,210.8 L473.7,211.0 L474.0,211.3 L474.3,211.6 L474.6,211.9 L474.9,212.2 L475.3,212.5 L475.6,212.8 L475.8,213.1 L476.1,213.5 L476.4,213.8 L476.7,214.1 L477.0,214.4 L477.3,214.7 L477.6,215.0 L477.8,215.4 L478.1,215.7 L478.4,216.0 L478.7,216.4 L478.9,216.7 L479.2,217.0 L479.4,217.4 L479.7,217.7 L480.0,218.0 L480.2,218.4 L480.4,218.7 L480.7,219.1 L480.9,219.4 L481.2,219.8 L481.4,220.1 L481.6,220.5 L481.9,220.8 L482.1,221.2 L482.3,221.6 L482.5,221.9 L482.7,222.3 L482.9,222.7 L483.1,223.0 L483.3,223.4 L483.5,223.8 L483.7,224.1 L483.9,224.5 L484.1,224.9 L484.3,225.3 L484.5,225.6 L484.7,226.0 L484.8,226.4 L485.0,226.8 L485.2,227.2 L485.3,227.6 L485.5,227.9 L485.7,228.3 L485.8,228.7 L486.0,229.1 L486.1,229.5 L486.2,229.9 L486.4,230.3 L486.5,230.7 L486.6,231.1 L486.8,231.5 L486.9,231.9 L487.0,232.3 L487.1,232.7 L487.2,233.1 L487.4,233.5 L487.5,233.9 L487.6,234.3 L487.7,234.7 L487.8,235.1 L487.8,235.5 L487.9,235.9 L488.0,236.3 L488.1,236.7 L488.2,237.1 L488.2,237.6 L488.3,238.0 L488.4,238.4 L488.4,238.8 L488.5,239.2 L488.5,239.6 L488.6,240.0 L488.6,240.4 L488.7,240.9 L488.7,241.3 L488.7,241.7 L488.8,242.1 L488.8,242.5 L488.8,242.9 L488.8,243.3 L488.8,243.8 L488.9,244.2 L488.9,244.6 L488.9,245.0 L488.9,245.4 L488.9,245.8 L488.8,246.3 L488.8,246.7 L488.8,247.1 L488.8,247.5 L488.8,247.9 L488.7,248.3 L488.7,248.7 L488.7,249.2 L488.6,249.6 L488.6,250.0 L488.5,250.4 L488.5,250.8 L488.4,251.2 L488.4,251.6 L488.3,252.0 L488.2,252.5 L488.2,252.9 L488.1,253.3 L488.0,253.7 L487.9,254.1 L487.8,254.5 L487.8,254.9 L487.7,255.3 L487.6,255.7 L487.5,256.1 L487.4,256.5 L487.2,256.9 L487.1,257.3 L487.0,257.7 L486.9,258.1 L486.8,258.5 L486.6,258.9 L486.5,259.3 L486.4,259.7 L486.2,260.1 L486.1,260.5 L486.0,260.9 L485.8,261.3 L485.7,261.7 L485.5,262.1 L485.3,262.5 L485.2,262.8 L485.0,263.2 L484.8,263.6 L484.7,264.0 L484.5,264.4 L484.3,264.7 L484.1,265.1 L483.9,265.5 L483.7,265.9 L483.5,266.2 L483.3,266.6 L483.1,267.0 L482.9,267.4 L482.7,267.7 L482.5,268.1 L482.3,268.4 L482.1,268.8 L481.9,269.2 L481.6,269.5 L481.4,269.9 L481.2,270.2 L480.9,270.6 L480.7,270.9 L480.4,271.3 L480.2,271.6 L480.0,272.0 L479.7,272.3 L479.4,272.6 L479.2,273.0 L478.9,273.3 L478.7,273.7 L478.4,274.0 L478.1,274.3 L477.8,274.6 L477.6,275.0 L477.3,275.3 L477.0,275.6 L476.7,275.9 L476.4,276.2 L476.1,276.5 L475.8,276.9 L475.6,277.2 L475.3,277.5 L474.9,277.8 L474.6,278.1 L474.3,278.4 L474.0,278.7 L473.7,279.0 L473.4,279.2 L473.1,279.5 L472.8,279.8 L472.4,280.1 L472.1,280.4 L471.8,280.7 L471.4,280.9 L471.1,281.2 L470.8,281.5 L470.4,281.7 L470.1,282.0 L469.7,282.3 L469.4,282.5 L469.0,282.8 L468.7,283.0 L468.3,283.3 L468.0,283.5 L467.6,283.8 L467.3,284.0 L466.9,284.2 L466.5,284.5 L466.2,284.7 L465.8,284.9 L465.4,285.2 L465.0,285.4 L464.7,285.6 L464.3,285.8 L463.9,286.0 L463.5,286.2 L463.1,286.4 L462.8,286.6 L462.4,286.8 L462.0,287.0 L461.6,287.2 L461.2,287.4 L460.8,287.6 L460.4,287.8 L460.0,288.0 L459.6,288.2 L459.2,288.3 L458.8,288.5 L458.4,288.7 L458.0,288.8 L457.6,289.0 L457.2,289.1 L456.8,289.3 L456.4,289.4 L455.9,289.6 L455.5,289.7 L455.1,289.9 L454.7,290.0 L454.3,290.2 L453.9,290.3 L453.4,290.4 L453.0,290.5 L452.6,290.7 L452.2,290.8 L451.7,290.9 L451.3,291.0 L450.9,291.1 L450.5,291.2 L450.0,291.3 L449.6,291.4 L449.2,291.5 L448.7,291.6 L448.3,291.7 L447.9,291.7 L447.4,291.8 L447.0,291.9 L446.6,292.0 L446.1,292.0 L445.7,292.1 L445.3,292.1 L444.8,292.2 L444.4,292.3 L443.9,292.3 L443.5,292.4 L443.1,292.4 L442.6,292.4 L442.2,292.5 L441.7,292.5 L441.3,292.5 L440.9,292.5 L440.4,292.6 L440.0,292.6 L439.5,292.6 L439.1,292.6 L438.6,292.6 L438.2,292.6 M379.7,235.0 L379.7,234.5 L379.7,234.0 L379.7,233.6 L379.7,233.1 L379.8,232.6 L379.8,232.1 L379.8,231.6 L379.8,231.2 L379.9,230.7 L379.9,230.2 L380.0,229.7 L380.0,229.3 L380.1,228.8 L380.1,228.3 L380.2,227.8 L380.3,227.3 L380.3,226.9 L380.4,226.4 L380.5,225.9 L380.6,225.5 L380.7,225.0 L380.8,224.5 L380.9,224.0 L381.0,223.6 L381.1,223.1 L381.2,222.6 L381.3,222.2 L381.4,221.7 L381.6,221.2 L381.7,220.8 L381.8,220.3 L382.0,219.8 L382.1,219.4 L382.3,218.9 L382.4,218.5 L382.6,218.0 L382.7,217.6 L382.9,217.1 L383.1,216.6 L383.2,216.2 L383.4,215.7 L383.6,215.3 L383.8,214.9 L384.0,214.4 L384.2,214.0 L384.4,213.5 L384.6,213.1 L384.8,212.6 L385.0,212.2 L385.2,211.8 L385.4,211.3 L385.6,210.9 L385.8,210.5 L386.1,210.0 L386.3,209.6 L386.5,209.2 L386.8,208.8 L387.0,208.3 L387.3,207.9 L387.5,207.5 L387.8,207.1 L388.1,206.7 L388.3,206.3 L388.6,205.9 L388.9,205.5 L389.1,205.1 L389.4,204.7 L389.7,204.3 L390.0,203.9 L390.3,203.5 L390.6,203.1 L390.9,202.7 L391.2,202.3 L391.5,201.9 L391.8,201.5 L392.1,201.2 L392.4,200.8 L392.7,200.4 L393.1,200.0 L393.4,199.7 L393.7,199.3 L394.0,198.9 L394.4,198.6 L394.7,198.2 L395.1,197.9 L395.4,197.5 L395.8,197.2 L396.1,196.8 L396.5,196.5 L396.8,196.1 L397.2,195.8 L397.6,195.5 L397.9,195.1 L398.3,194.8 L398.7,194.5 L399.1,194.1 L399.4,193.8 L399.8,193.5 L400.2,193.2 L400.6,192.9 L401.0,192.6 L401.4,192.3 L401.8,192.0 L402.2,191.7 L402.6,191.4 L403.0,191.1 L403.4,190.8 L403.8,190.5 L404.2,190.2 L404.6,190.0 L405.1,189.7 L405.5,189.4 L405.9,189.2 L406.3,188.9 L406.8,188.6 L407.2,188.4 L407.6,188.1 L408.1,187.9 L408.5,187.6 L408.9,187.4 L409.4,187.2 L409.8,186.9 L410.3,186.7 L410.7,186.5 L411.2,186.2 L411.6,186.0 L412.1,185.8 L412.6,185.6 L413.0,185.4 L413.5,185.2 L413.9,185.0 L414.4,184.8 L414.9,184.6 L415.3,184.4 L415.8,184.2 L416.3,184.0 L416.8,183.9 L417.2,183.7 L417.7,183.5 L418.2,183.3 L418.7,183.2 L419.2,183.0 L419.6,182.9 L420.1,182.7 L420.6,182.6 L421.1,182.4 L421.6,182.3 L422.1,182.2 L422.6,182.0 L423.1,181.9 L423.6,181.8 L424.0,181.7 L424.5,181.5 L425.0,181.4 L425.5,181.3 L426.0,181.2 L426.5,181.1 L427.0,181.0 L427.5,180.9 L428.0,180.9 L428.5,180.8 L429.0,180.7 L429.6,180.6 L430.1,180.6 L430.6,180.5 L431.1,180.4 L431.6,180.4 L432.1,180.3 L432.6,180.3 L433.1,180.2 L433.6,180.2 L434.1,180.2 L434.6,180.1 L435.1,180.1 L435.6,180.1 L436.2,180.1 L436.7,180.0 L437.2,180.0 L437.7,180.0 L438.2,180.0 L438.7,180.0 L439.2,180.0 L439.7,180.0 L440.2,180.1 L440.8,180.1 L441.3,180.1 L441.8,180.1 L442.3,180.2 L442.8,180.2 L443.3,180.2 L443.8,180.3 L444.3,180.3 L444.8,180.4 L445.3,180.4 L445.8,180.5 L446.3,180.6 L446.8,180.6 L447.4,180.7 L447.9,180.8 L448.4,180.9 L448.9,180.9 L449.4,181.0 L449.9,181.1 L450.4,181.2 L450.9,181.3 L451.4,181.4 L451.9,181.5 L452.4,181.7 L452.8,181.8 L453.3,181.9 L453.8,182.0 L454.3,182.2 L454.8,182.3 L455.3,182.4 L455.8,182.6 L456.3,182.7 L456.8,182.9 L457.2,183.0 L457.7,183.2 L458.2,183.3 L458.7,183.5 L459.2,183.7 L459.6,183.9 L460.1,184.0 L460.6,184.2 L461.1,184.4 L461.5,184.6 L462.0,184.8 L462.5,185.0 L462.9,185.2 L463.4,185.4 L463.8,185.6 L464.3,185.8 L464.8,186.0 L465.2,186.2 L465.7,186.5 L466.1,186.7 L466.6,186.9 L467.0,187.2 L467.4,187.4 L467.9,187.6 L468.3,187.9 L468.8,188.1 L469.2,188.4 L469.6,188.6 L470.1,188.9 L470.5,189.2 L470.9,189.4 L471.3,189.7 L471.8,190.0 L472.2,190.2 L472.6,190.5 L473.0,190.8 L473.4,191.1 L473.8,191.4 L474.2,191.7 L474.6,192.0 L475.0,192.3 L475.4,192.6 L475.8,192.9 L476.2,193.2 L476.6,193.5 L477.0,193.8 L477.3,194.1 L477.7,194.5 L478.1,194.8 L478.5,195.1 L478.8,195.5 L479.2,195.8 L479.6,196.1 L479.9,196.5 L480.3,196.8 L480.6,197.2 L481.0,197.5 L481.3,197.9 L481.7,198.2 L482.0,198.6 L482.4,198.9 L482.7,199.3 L483.0,199.7 L483.3,200.0 L483.7,200.4 L484.0,200.8 L484.3,201.2 L484.6,201.5 L484.9,201.9 L485.2,202.3 L485.5,202.7 L485.8,203.1 L486.1,203.5 L486.4,203.9 L486.7,204.3 L487.0,204.7 L487.3,205.1 L487.5,205.5 L487.8,205.9 L488.1,206.3 L488.3,206.7 L488.6,207.1 L488.9,207.5 L489.1,207.9 L489.4,208.3 L489.6,208.8 L489.9,209.2 L490.1,209.6 L490.3,210.0 L490.6,210.5 L490.8,210.9 L491.0,211.3 L491.2,211.8 L491.4,212.2 L491.6,212.6 L491.8,213.1 L492.0,213.5 L492.2,214.0 L492.4,214.4 L492.6,214.9 L492.8,215.3 L493.0,215.7 L493.2,216.2 L493.3,216.6 L493.5,217.1 L493.7,217.6 L493.8,218.0 L494.0,218.5 L494.1,218.9 L494.3,219.4 L494.4,219.8 L494.6,220.3 L494.7,220.8 L494.8,221.2 L495.0,221.7 L495.1,222.2 L495.2,222.6 L495.3,223.1 L495.4,223.6 L495.5,224.0 L495.6,224.5 L495.7,225.0 L495.8,225.5 L495.9,225.9 L496.0,226.4 L496.1,226.9 L496.1,227.3 L496.2,227.8 L496.3,228.3 L496.3,228.8 L496.4,229.3 L496.4,229.7 L496.5,230.2 L496.5,230.7 L496.6,231.2 L496.6,231.6 L496.6,232.1 L496.6,232.6 L496.7,233.1 L496.7,233.6 L496.7,234.0 L496.7,234.5 L496.7,235.0" fill="none" stroke="#000" stroke-opacity="0.5" stroke-width="1.1"/>
</g>
<circle cx="438.2" cy="235.0" r="58.1" fill="none" stroke="#000" stroke-opacity="0.35" stroke-width="1.2"/>
</g>
<defs><linearGradient id="cbg" x1="0" y1="0" x2="1" y2="0"><stop offset="0.0000" stop-color="#181828"/><stop offset="0.0100" stop-color="#271d4b"/><stop offset="0.0200" stop-color="#37246c"/><stop offset="0.0300" stop-color="#482e8a"/><stop offset="0.0400" stop-color="#5a38a8"/><stop offset="0.0500" stop-color="#5e3cae"/><stop offset="0.0600" stop-color="#6140b4"/><stop offset="0.0700" stop-color="#6444ba"/><stop offset="0.0800" stop-color="#6848c0"/><stop offset="0.0900" stop-color="#654bbf"/><stop offset="0.1000" stop-color="#634dbd"/><stop offset="0.1100" stop-color="#6050bc"/><stop offset="0.1200" stop-color="#5d53bb"/><stop offset="0.1300" stop-color="#5b55b9"/><stop offset="0.1400" stop-color="#5858b8"/><stop offset="0.1500" stop-color="#555aba"/><stop offset="0.1600" stop-color="#525bbb"/><stop offset="0.1700" stop-color="#4e5dbd"/><stop offset="0.1800" stop-color="#4b5ebe"/><stop offset="0.1900" stop-color="#4860c0"/><stop offset="0.2000" stop-color="#4878d0"/><stop offset="0.2100" stop-color="#457dd3"/><stop offset="0.2200" stop-color="#4383d5"/><stop offset="0.2300" stop-color="#4088d8"/><stop offset="0.2400" stop-color="#3d8ddb"/><stop offset="0.2500" stop-color="#3b93dd"/><stop offset="0.2600" stop-color="#3898e0"/><stop offset="0.2700" stop-color="#359de0"/><stop offset="0.2800" stop-color="#33a3e0"/><stop offset="0.2900" stop-color="#30a8e0"/><stop offset="0.3000" stop-color="#2dade0"/><stop offset="0.3100" stop-color="#2bb3e0"/><stop offset="0.3200" stop-color="#28b8e0"/><stop offset="0.3300" stop-color="#2dbbd6"/><stop offset="0.3400" stop-color="#32becd"/><stop offset="0.3500" stop-color="#36c2c3"/><stop offset="0.3600" stop-color="#3bc5ba"/><stop offset="0.3700" stop-color="#40c8b0"/><stop offset="0.3800" stop-color="#4bc8a0"/><stop offset="0.3900" stop-color="#55c890"/><stop offset="0.4000" stop-color="#60c880"/><stop offset="0.4100" stop-color="#63c779"/><stop offset="0.4200" stop-color="#65c573"/><stop offset="0.4300" stop-color="#68c46c"/><stop offset="0.4400" stop-color="#6bc365"/><stop offset="0.4500" stop-color="#6dc15f"/><stop offset="0.4600" stop-color="#70c058"/><stop offset="0.4700" stop-color="#75c256"/><stop offset="0.4800" stop-color="#7ac454"/><stop offset="0.4900" stop-color="#7fc652"/><stop offset="0.5000" stop-color="#84c850"/><stop offset="0.5100" stop-color="#89ca4e"/><stop offset="0.5200" stop-color="#8ecc4c"/><stop offset="0.5300" stop-color="#93ce4a"/><stop offset="0.5400" stop-color="#98d048"/><stop offset="0.5500" stop-color="#a2d34a"/><stop offset="0.5600" stop-color="#abd64b"/><stop offset="0.5700" stop-color="#b5da4d"/><stop offset="0.5800" stop-color="#bedd4e"/><stop offset="0.5900" stop-color="#c8e050"/><stop offset="0.6000" stop-color="#f8d030"/><stop offset="0.6100" stop-color="#f8c830"/><stop offset="0.6200" stop-color="#f8c030"/><stop offset="0.6300" stop-color="#f8b830"/><stop offset="0.6400" stop-color="#f8b030"/><stop offset="0.6500" stop-color="#f8a830"/><stop offset="0.6600" stop-color="#f8a030"/><stop offset="0.6700" stop-color="#f79a30"/><stop offset="0.6800" stop-color="#f69430"/><stop offset="0.6900" stop-color="#f58e30"/><stop offset="0.7000" stop-color="#f48830"/><stop offset="0.7100" stop-color="#f38230"/><stop offset="0.7200" stop-color="#f27c30"/><stop offset="0.7300" stop-color="#f17630"/><stop offset="0.7400" stop-color="#f07030"/><stop offset="0.7500" stop-color="#f06a30"/><stop offset="0.7600" stop-color="#f06530"/><stop offset="0.7700" stop-color="#f05f30"/><stop offset="0.7800" stop-color="#f05930"/><stop offset="0.7900" stop-color="#f05330"/><stop offset="0.8000" stop-color="#e03838"/><stop offset="0.8100" stop-color="#df3838"/><stop offset="0.8200" stop-color="#dd3838"/><stop offset="0.8300" stop-color="#dc3838"/><stop offset="0.8400" stop-color="#db3838"/><stop offset="0.8500" stop-color="#d93838"/><stop offset="0.8600" stop-color="#d83838"/><stop offset="0.8700" stop-color="#cf3535"/><stop offset="0.8800" stop-color="#c53333"/><stop offset="0.8900" stop-color="#bc3030"/><stop offset="0.9000" stop-color="#b32d2d"/><stop offset="0.9100" stop-color="#a92b2b"/><stop offset="0.9200" stop-color="#a02828"/><stop offset="0.9300" stop-color="#942626"/><stop offset="0.9400" stop-color="#882424"/><stop offset="0.9500" stop-color="#7c2222"/><stop offset="0.9600" stop-color="#702020"/><stop offset="0.9700" stop-color="#641e1e"/><stop offset="0.9800" stop-color="#581c1c"/><stop offset="0.9900" stop-color="#4c1a1a"/><stop offset="1.0000" stop-color="#401818"/></linearGradient></defs>
<rect x="307.0" y="309.6" width="123.30" height="8.6" fill="url(#cbg)"/>
<line x1="331.66" y1="309.6" x2="331.66" y2="318.2" stroke="#000" stroke-opacity="0.75" stroke-width="1"/>
<line x1="356.32" y1="309.6" x2="356.32" y2="318.2" stroke="#000" stroke-opacity="0.75" stroke-width="1"/>
<line x1="380.98" y1="309.6" x2="380.98" y2="318.2" stroke="#000" stroke-opacity="0.75" stroke-width="1"/>
<line x1="405.64" y1="309.6" x2="405.64" y2="318.2" stroke="#000" stroke-opacity="0.75" stroke-width="1"/>
<rect x="307.0" y="309.6" width="123.30000000000001" height="8.6" fill="none" stroke="#222" stroke-width="0.8"/>
<text x="308.0" y="331.8" text-anchor="middle" class="tk">0</text>
<text x="332.7" y="331.8" text-anchor="middle" class="tk">100</text>
<text x="357.3" y="331.8" text-anchor="middle" class="tk">200</text>
<text x="382.0" y="331.8" text-anchor="middle" class="tk">300</text>
<text x="406.6" y="331.8" text-anchor="middle" class="tk">400</text>
<text x="431.3" y="331.8" text-anchor="middle" class="tk">500</text>
<text x="374.25" y="345.6" text-anchor="middle" font-size="14.4" fill="#333" textLength="187.5" lengthAdjust="spacingAndGlyphs">TOTAL OZONE (Dobson units)</text>
</svg>
</body></html>
